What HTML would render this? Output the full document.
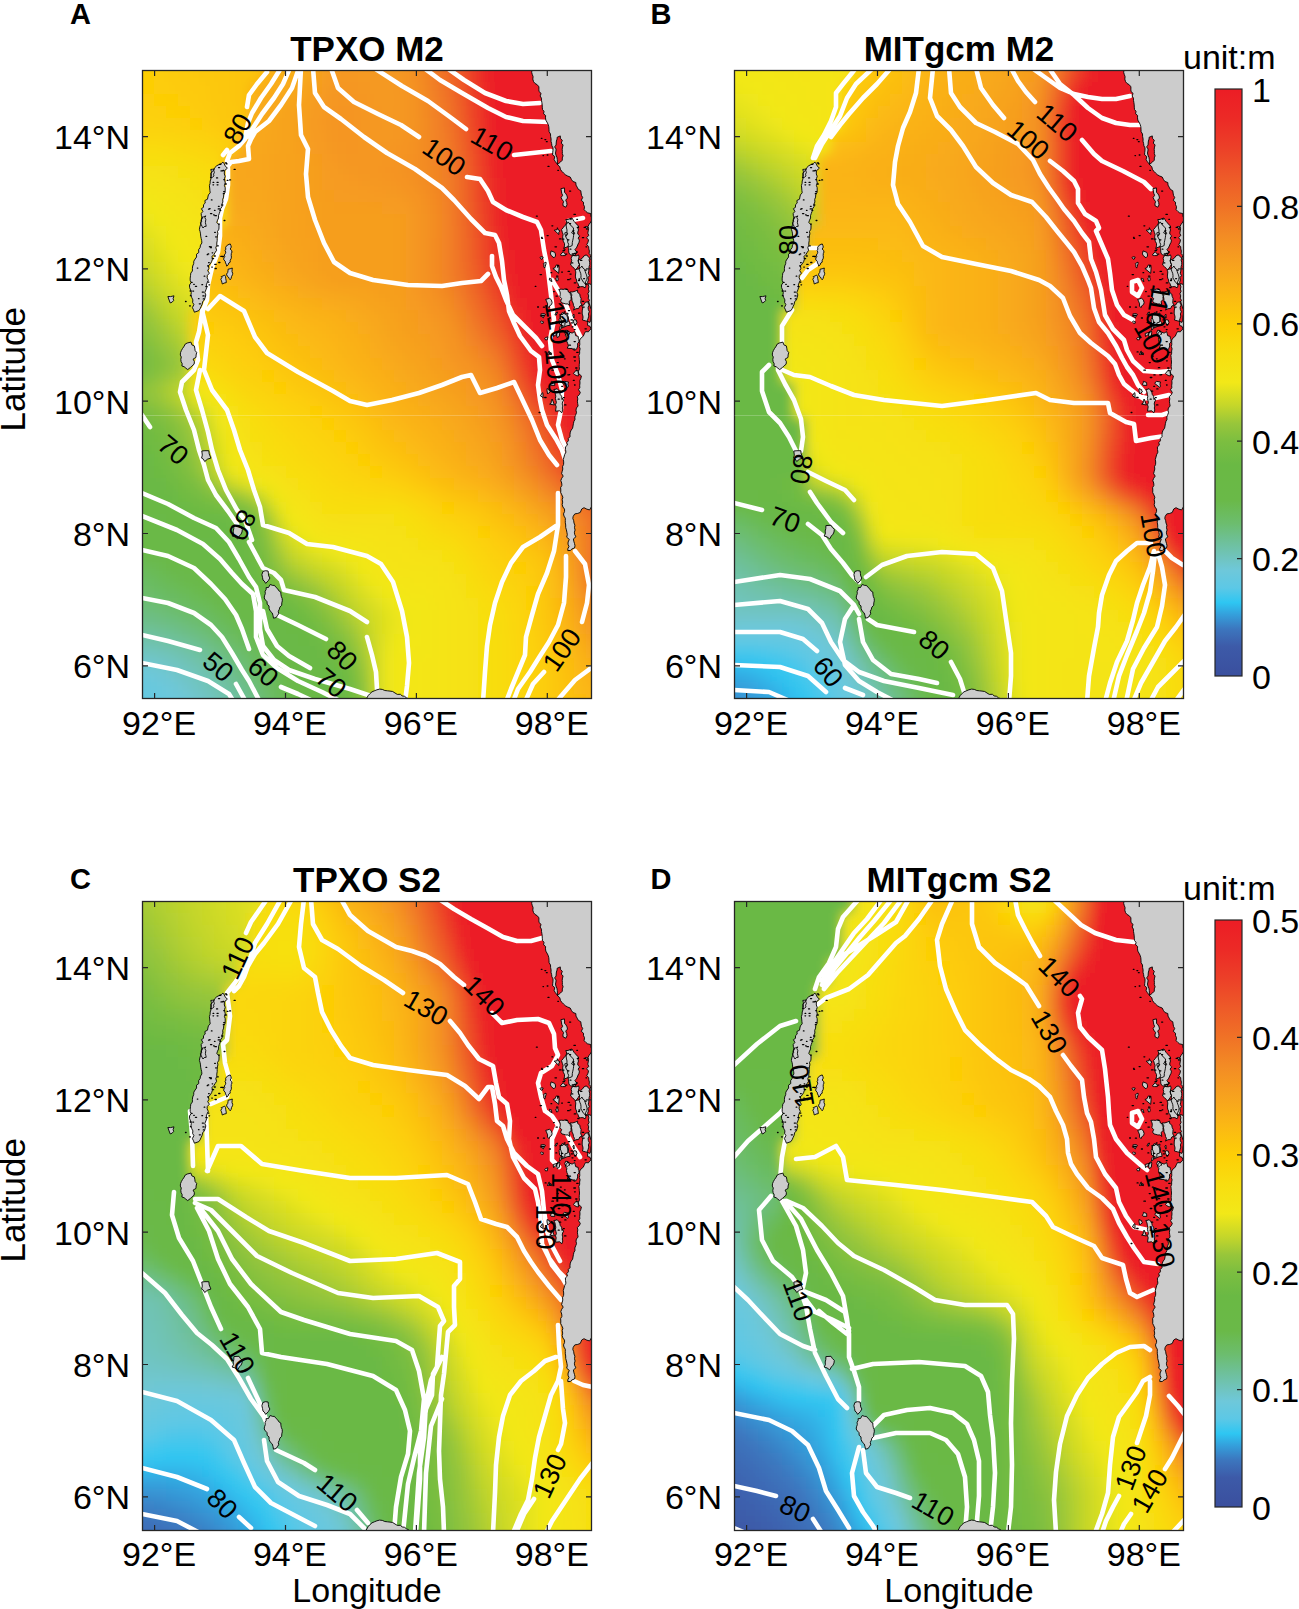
<!DOCTYPE html><html><head><meta charset="utf-8"><style>html,body{margin:0;padding:0;background:#fff;overflow:hidden;width:1299px;height:1609px}svg{display:block}text{font-family:"Liberation Sans",sans-serif;fill:#000}.f rect{width:13px;height:13px}</style></head><body><svg width="1299" height="1609" viewBox="0 0 1299 1609"><defs><filter id="bl" x="-5%" y="-5%" width="110%" height="110%"><feGaussianBlur stdDeviation="6"/></filter><g id="land"><path d="M389.4,-2.0L389.9,0.2L389.7,2.5L390.3,4.6L391.1,6.7L390.8,9.1L391.5,11.5L392.9,13.4L395.2,14.7L396.9,16.8L396.9,19.2L397.0,21.5L399.1,23.4L398.1,26.0L399.4,28.1L399.5,30.4L399.9,32.7L400.2,34.9L400.3,37.2L400.5,39.5L402.0,41.3L401.6,43.8L403.6,45.5L403.5,47.8L403.8,50.1L404.9,52.0L406.1,54.3L406.8,56.7L407.0,59.2L407.1,61.7L408.5,64.0L408.6,66.5L409.1,69.0L409.0,71.3L409.6,73.5L409.9,75.8L411.0,77.9L411.0,80.2L410.7,82.6L410.6,84.9L412.8,86.6L412.1,89.5L413.2,91.4L414.5,93.2L415.9,95.1L417.8,96.7L418.4,99.3L419.8,101.3L421.5,103.0L423.3,104.7L425.6,106.0L428.2,107.0L429.4,109.4L430.9,111.5L433.8,112.5L434.0,115.1L435.2,117.2L436.3,119.3L438.8,120.8L439.1,123.1L439.5,125.4L440.7,127.5L439.3,130.3L441.5,132.2L441.5,134.6L442.5,136.7L442.1,139.7L443.8,141.4L445.7,142.9L448.7,143.5L449.0,146.4L450.1,148.5L452.7,150.0L451.6,147.8L453.3,145.6L451.1,143.4L451.5,141.2L452.7,139.0L452.0,136.8L453.4,134.6L452.1,132.4L451.6,130.2L451.7,128.0L451.2,125.8L451.1,123.6L452.4,121.4L452.4,119.2L452.9,117.0L451.5,114.8L453.2,112.6L451.8,110.3L453.1,108.1L451.7,105.9L451.5,103.7L452.2,101.5L452.7,99.3L452.1,97.1L451.6,94.9L451.1,92.7L451.0,90.5L452.4,88.3L452.7,86.1L451.9,83.9L451.2,81.7L452.6,79.5L451.1,77.3L451.5,75.1L452.4,72.9L450.4,70.7L452.3,68.5L451.6,66.3L452.1,64.1L451.9,61.9L452.1,59.7L452.5,57.5L451.5,55.3L453.0,53.1L452.5,50.9L452.6,48.7L452.8,46.5L452.6,44.3L452.6,42.1L452.1,39.9L451.0,37.7L451.9,35.4L451.5,33.2L451.0,31.0L452.2,28.8L451.6,26.6L451.3,24.4L451.3,22.2L452.2,20.0L452.3,17.8L452.9,15.6L452.0,13.4L452.7,11.2L453.0,9.0L452.8,6.8L450.3,4.6L452.9,2.4L452.2,0.2L452.0,-2.3L449.8,-2.3L447.5,-2.3L445.3,-2.2L443.1,-1.7L440.8,-0.7L438.6,-1.9L436.4,-1.4L434.1,-2.8L431.9,-1.8L429.7,-2.1L427.4,-1.4L425.2,-1.6L423.0,-2.0L420.8,-1.0L418.5,-2.2L416.3,-1.9L414.1,-1.2L411.8,-0.3L409.6,-2.4L407.4,-1.8L405.1,-1.6L402.9,-1.8L400.7,-3.3L398.4,-2.0L396.2,-2.1L394.0,-1.0L391.7,-3.2ZM451.9,257.8L449.7,258.5L447.9,259.8L446.4,261.8L443.5,261.6L442.3,263.8L441.3,266.2L439.2,267.8L437.7,270.0L437.7,272.2L437.8,274.4L437.3,276.6L438.1,278.8L437.6,281.0L437.7,283.2L436.9,285.4L437.2,287.6L437.3,289.8L437.5,292.0L437.3,294.3L437.2,296.7L437.4,299.0L436.4,301.4L436.7,303.7L439.4,305.9L438.9,308.3L437.8,310.7L438.0,313.0L437.7,315.3L437.8,317.7L436.5,319.7L438.3,322.4L437.4,324.6L435.3,326.5L435.8,328.9L435.4,331.2L435.7,333.6L436.1,336.0L434.4,338.0L434.0,340.2L434.5,342.7L433.7,344.8L432.8,347.0L433.0,349.4L431.9,351.5L431.4,353.7L431.0,356.0L430.6,358.2L429.2,360.1L428.3,362.1L428.0,364.3L428.0,366.7L426.3,368.4L426.4,370.8L424.8,372.6L425.4,375.1L423.4,376.9L423.5,379.5L423.9,382.2L422.7,384.5L422.0,387.0L421.3,389.5L421.7,392.0L421.6,394.4L420.5,396.7L420.8,399.0L420.2,401.3L419.6,403.6L421.2,406.1L419.7,408.3L418.8,410.6L419.7,413.0L419.9,415.4L418.6,417.6L418.8,420.0L418.7,422.5L419.8,424.8L420.9,427.2L420.2,429.7L420.7,432.1L420.2,434.6L420.9,437.0L422.5,439.1L422.6,441.4L421.5,443.9L422.0,446.1L423.3,448.2L423.3,450.5L423.3,452.8L423.7,455.0L423.7,457.5L424.4,459.9L424.9,462.3L425.3,464.7L424.7,467.2L427.3,469.4L426.1,472.0L426.0,474.2L427.0,476.5L425.8,478.8L425.8,480.6L428.3,480.5L430.0,478.9L432.5,478.0L433.0,475.8L432.5,473.5L431.8,471.2L431.4,468.9L433.9,466.8L432.7,464.5L432.4,462.2L433.1,460.0L432.5,457.7L432.9,455.2L432.0,453.0L431.7,450.7L430.8,448.4L431.2,446.3L432.8,443.9L435.8,443.4L438.3,442.4L439.7,439.0L442.0,437.7L444.9,439.2L447.6,439.9L449.4,436.9L451.1,437.0L452.4,434.8L451.4,432.6L451.6,430.4L451.8,428.2L452.4,426.0L451.7,423.7L452.2,421.5L451.9,419.3L451.4,417.1L451.8,414.9L451.3,412.7L452.0,410.5L451.2,408.3L451.2,406.1L453.0,403.9L452.0,401.6L452.0,399.4L452.4,397.2L451.7,395.0L451.8,392.8L452.3,390.6L452.2,388.4L451.2,386.2L452.6,384.0L451.6,381.8L451.3,379.5L451.4,377.3L451.7,375.1L453.1,372.9L451.2,370.7L452.1,368.5L450.5,366.3L452.0,364.1L452.6,361.9L451.8,359.7L451.6,357.4L452.2,355.2L452.5,353.0L452.5,350.8L453.4,348.6L452.1,346.4L451.6,344.2L451.9,342.0L451.9,339.8L452.1,337.6L452.0,335.3L452.1,333.1L450.8,330.9L452.6,328.7L451.6,326.5L451.2,324.3L452.4,322.1L452.9,319.9L452.3,317.7L452.1,315.5L451.3,313.2L454.0,311.0L452.6,308.8L451.2,306.6L451.5,304.4L452.1,302.2L450.9,300.0L452.1,297.8L451.7,295.6L452.9,293.4L452.7,291.1L450.1,288.9L452.0,286.7L450.9,284.5L452.8,282.3L452.1,280.1L452.4,277.9L451.3,275.7L453.3,273.5L453.4,271.3L451.3,269.0L452.3,266.8L451.5,264.6L452.0,262.4L451.1,260.2ZM80.9,92.1L82.3,93.9L83.2,95.9L85.4,98.2L82.4,100.8L82.3,104.0L83.2,106.3L82.5,108.6L82.8,110.9L83.3,113.1L82.4,115.4L83.2,117.7L83.2,120.0L83.0,122.5L81.7,124.7L81.6,127.1L80.7,129.4L80.9,132.0L79.9,134.2L80.0,136.7L78.5,138.8L78.1,141.2L77.3,143.4L76.5,145.7L76.6,148.0L75.5,150.2L74.8,152.5L77.0,154.8L77.0,157.0L76.9,159.2L75.5,161.5L75.9,163.8L75.4,165.9L75.2,168.3L75.2,170.6L74.8,173.0L74.8,175.3L73.8,177.6L74.6,180.3L73.2,182.4L71.9,184.5L70.0,186.4L70.4,189.3L69.6,191.7L68.3,193.8L66.4,195.9L66.9,198.4L65.7,200.7L67.4,203.2L65.3,205.4L65.1,207.8L66.3,210.3L65.2,212.6L64.3,214.9L64.7,217.5L63.9,219.9L62.8,222.4L63.8,224.9L63.2,227.4L62.4,229.8L60.6,231.8L60.1,234.3L59.1,236.5L58.1,238.8L56.9,240.6L52.4,242.2L51.5,239.8L50.4,237.6L51.9,234.6L50.6,232.4L50.9,229.9L49.7,227.5L48.9,225.1L49.3,222.5L48.6,220.0L47.6,217.6L47.5,215.0L49.1,212.7L48.2,210.3L48.2,208.1L48.5,205.6L48.8,203.1L50.4,201.0L50.4,198.5L50.7,196.0L51.7,193.7L51.8,191.2L53.1,189.0L54.6,187.0L54.5,184.2L56.8,182.5L56.6,179.7L58.1,177.6L58.5,175.1L59.9,173.0L59.7,170.7L59.2,168.5L58.7,166.2L58.5,163.9L58.1,161.6L57.4,159.4L57.8,157.0L58.5,154.8L59.0,152.6L59.1,150.3L60.5,148.2L59.4,145.8L59.2,143.5L60.9,141.4L59.4,138.7L61.5,137.3L61.5,134.7L63.2,133.1L62.9,130.5L65.5,129.2L65.9,127.0L66.4,124.9L68.2,122.8L67.9,120.4L67.7,118.0L67.4,115.6L68.1,113.3L68.2,111.0L69.0,108.7L69.3,106.4L68.7,103.8L70.2,101.8L71.7,99.8L72.9,97.5L74.8,95.7L77.0,94.6L79.2,93.7ZM45.3,273.0L48.9,272.1L49.9,274.9L52.3,275.9L52.8,278.2L53.1,280.5L54.7,282.5L54.1,285.0L54.0,287.4L51.1,289.1L52.4,291.7L52.1,294.2L50.1,295.8L48.3,297.6L45.7,299.6L43.9,298.2L42.1,296.7L39.9,296.0L40.2,293.7L39.1,291.6L38.8,289.4L39.3,287.0L38.3,285.1L38.5,282.7L39.4,280.5L40.6,278.4L41.7,276.9L43.4,273.9ZM91.9,455.6L95.0,455.4L97.0,455.3L98.3,457.4L100.3,459.4L100.0,462.0L99.0,464.2L97.3,466.0L95.7,468.9L93.0,466.9L90.1,466.0L91.4,463.7L91.2,461.0L91.8,458.6ZM120.9,501.5L123.3,500.7L126.1,501.0L126.4,503.4L126.7,505.9L127.9,508.0L126.3,510.7L123.7,513.4L122.3,511.1L121.0,510.1L120.5,507.4L119.9,504.6ZM124.1,517.6L126.5,517.5L128.2,514.5L130.7,515.4L132.5,515.4L133.9,517.3L135.7,518.8L136.8,520.8L138.8,522.0L138.9,524.2L139.3,526.4L140.2,528.5L140.3,530.8L139.8,532.9L139.7,535.3L137.9,537.1L137.3,539.3L136.3,541.3L136.7,543.8L135.6,545.3L134.2,547.5L131.5,548.2L131.0,545.5L130.2,542.9L128.1,540.9L127.1,538.5L127.0,535.9L125.2,534.3L125.0,531.6L123.4,529.9L122.2,528.0L122.5,525.8L123.3,523.7L123.1,521.4L124.2,519.3ZM222.0,632.0L223.6,630.1L224.9,627.9L226.1,625.7L227.8,623.8L230.0,621.8L232.7,620.7L234.9,619.8L237.6,619.1L240.3,619.4L242.8,620.5L245.4,620.8L248.0,621.1L250.7,621.5L253.0,623.0L255.3,624.4L258.4,624.3L260.1,625.9L262.6,626.3L264.4,627.8L266.6,628.7L268.1,630.7L270.0,632.8L267.7,631.8L265.4,631.9L263.1,632.1L260.9,633.5L258.6,632.3L256.3,632.0L254.0,631.9L251.7,632.9L249.4,632.3L247.1,632.6L244.9,632.5L242.6,631.4L240.3,632.5L238.0,632.0L235.7,631.5L233.4,632.4L231.1,632.1L228.9,631.9L226.6,632.0L224.3,632.7ZM59.8,381.0L62.9,380.7L66.8,380.7L67.2,383.9L68.9,388.1L65.6,389.1L62.7,391.5L61.3,389.1L59.6,388.1L60.3,385.1ZM25.9,226.5L28.5,226.6L32.0,225.8L31.1,228.6L31.7,230.4L30.1,232.2L28.2,232.9L27.1,230.0ZM419.5,159.6L421.2,157.7L422.6,155.7L424.6,154.1L426.1,151.9L427.9,154.1L429.6,156.4L431.5,157.9L431.4,160.4L431.7,162.9L431.6,165.3L431.3,167.8L430.8,170.2L430.3,172.6L430.2,175.5L427.9,176.6L425.3,176.8L421.9,178.2L422.5,175.8L422.5,173.5L421.3,171.3L420.8,169.1L420.7,166.8L421.1,164.4L420.3,162.3ZM436.0,190.0L438.4,189.4L440.4,188.1L441.8,186.0L444.1,184.9L446.2,186.4L447.8,188.6L450.0,190.0L449.6,192.3L451.1,194.5L449.1,196.8L450.1,199.1L449.6,201.4L450.1,203.6L450.2,205.9L449.7,208.2L449.5,210.5L450.1,212.7L450.0,215.1L447.9,213.9L445.3,214.0L443.0,213.6L441.2,211.9L440.1,209.9L438.9,207.9L439.0,205.5L438.7,203.3L437.8,201.2L437.1,199.0L437.5,196.6L437.5,194.3L436.4,192.2ZM428.0,222.0L430.8,221.9L433.4,221.1L435.6,220.1L435.6,222.4L437.8,224.1L438.1,226.3L439.1,228.4L438.9,230.7L438.8,233.0L440.0,235.0L437.8,236.0L436.6,238.5L434.0,238.7L431.5,240.1L432.5,237.5L431.5,235.4L431.1,233.1L430.0,231.0L429.9,228.7L429.4,226.4L428.3,224.3ZM418.3,246.1L420.2,242.5L423.5,244.2L426.0,243.0L425.6,245.5L426.6,247.8L426.1,250.4L427.6,252.6L428.1,255.3L425.2,255.7L422.6,256.8L419.8,258.0L419.5,255.4L419.6,252.7L419.2,250.1L418.1,247.6ZM451.7,146.7L450.7,149.1L449.3,151.0L448.8,152.1L447.1,154.3L446.0,156.5L446.6,158.7L446.2,161.0L445.8,163.2L446.8,165.5L444.5,167.7L446.5,169.9L446.0,172.2L444.8,174.6L446.7,176.7L446.8,178.9L447.4,181.1L447.1,183.4L448.8,185.4L448.2,187.7L447.0,189.9L447.7,192.2L447.7,194.5L447.1,196.6L446.9,198.9L446.8,201.1L446.3,203.3L447.4,205.7L445.9,207.7L446.4,210.0L445.6,212.3L446.2,214.5L446.9,216.8L446.4,219.1L447.1,221.3L445.9,223.7L446.7,225.9L446.2,228.2L447.5,230.4L445.9,232.8L447.2,235.0L446.1,237.2L446.3,239.4L447.3,241.7L446.4,243.9L446.8,246.1L446.1,248.3L445.4,250.5L445.7,252.8L445.5,255.4L448.0,256.3L448.9,258.6L450.3,260.4L452.7,262.0L451.6,259.8L452.3,257.6L452.3,255.4L451.1,253.2L451.4,250.9L452.3,248.7L451.3,246.5L451.3,244.3L452.5,242.1L452.2,239.9L451.9,237.7L452.1,235.5L451.8,233.2L451.7,231.0L451.7,228.8L452.2,226.6L452.8,224.4L451.7,222.2L452.0,220.0L451.9,217.8L451.2,215.6L452.2,213.3L452.5,211.1L451.5,208.9L452.5,206.7L451.7,204.5L452.7,202.3L452.7,200.1L451.8,197.9L450.8,195.7L451.8,193.4L451.2,191.2L451.2,189.0L451.8,186.8L452.8,184.6L451.9,182.4L451.9,180.2L450.9,178.0L451.6,175.8L451.2,173.5L452.3,171.3L451.7,169.1L452.0,166.9L452.0,164.7L451.9,162.5L452.6,160.3L452.3,158.1L451.8,155.8L452.1,153.6L452.3,151.4L452.8,149.2ZM415.1,67.3L418.3,65.9L418.4,68.4L420.3,70.2L419.3,73.1L421.1,75.0L420.5,77.1L420.2,79.3L420.4,81.4L420.3,83.6L421.1,85.8L420.3,87.9L420.3,90.2L418.5,92.0L415.5,94.5L415.4,92.0L415.3,89.6L414.9,87.2L413.9,85.0L413.5,83.0L413.9,81.0L414.1,79.0L412.6,76.9L414.1,75.0L414.2,73.0L414.4,71.0L415.1,69.0ZM418.9,118.7L422.4,117.9L422.6,120.0L422.5,122.2L424.0,123.9L425.0,125.8L425.5,128.1L423.7,130.1L424.7,132.5L425.0,134.8L423.9,137.2L421.2,136.0L420.9,133.9L421.6,131.6L420.1,129.6L419.1,127.6L420.6,125.3L419.7,123.2L419.4,121.1ZM423.8,149.5L426.0,149.5L428.0,148.6L430.0,148.0L431.0,149.7L432.1,151.4L433.5,152.9L434.7,154.5L436.7,156.0L435.8,158.0L436.5,160.0L435.8,162.0L435.8,164.1L437.7,165.9L436.1,168.1L437.4,170.1L437.1,172.2L436.1,174.0L435.3,176.0L434.4,177.9L432.9,179.6L434.9,182.2L433.7,184.1L433.1,185.8L430.9,185.3L428.5,184.9L426.9,183.0L426.7,180.9L426.7,178.7L425.9,176.6L426.7,174.3L425.7,172.3L425.8,170.1L424.4,168.0L423.4,166.1L425.2,164.0L424.9,162.0L425.0,160.0L424.5,158.0L424.2,156.0L424.1,154.0L424.7,152.0ZM430.0,186.1L431.9,185.2L434.1,185.9L436.5,184.9L437.1,186.9L436.5,189.1L436.4,191.2L436.8,193.2L437.4,194.4L436.2,196.5L434.8,198.5L433.3,199.8L431.9,198.1L430.4,196.6L428.6,195.0L429.1,192.7L429.7,190.5L429.1,188.2ZM416.8,219.4L419.3,219.2L421.9,219.4L423.2,218.7L425.7,219.5L426.4,222.0L428.8,223.0L430.0,225.0L428.9,227.1L429.2,229.5L427.1,231.4L427.8,235.5L426.0,233.9L423.9,234.0L422.0,233.4L420.0,233.0L418.6,231.1L419.7,228.5L417.8,226.7L418.3,224.3L418.1,222.0ZM424.1,263.5L425.8,261.0L428.0,262.3L430.1,263.1L432.6,261.6L433.2,263.6L433.7,265.7L436.2,266.4L436.4,268.7L436.9,269.6L437.0,271.9L435.5,273.6L435.7,276.0L435.0,278.1L434.1,279.7L431.8,280.3L430.2,278.4L428.0,278.5L425.2,278.1L426.4,275.8L425.8,273.7L424.9,271.6L424.5,269.5L424.8,267.3L423.3,265.3ZM411.8,319.5L414.1,319.2L415.0,318.5L416.5,320.2L417.8,322.1L418.2,324.4L419.6,326.2L419.8,327.9L421.7,330.1L420.6,332.0L420.2,334.0L420.8,336.0L420.3,338.0L420.8,340.0L419.8,342.8L417.6,340.8L413.6,341.2L413.8,339.0L414.2,336.8L413.5,334.8L414.4,332.5L413.9,330.4L413.4,328.4L413.8,326.2L413.3,324.1L413.0,322.0ZM433.1,200.2L434.9,199.2L437.0,198.8L438.6,197.7L439.9,196.0L440.8,197.9L442.6,199.3L443.2,201.3L443.8,203.3L444.5,204.9L445.1,207.2L444.8,209.4L443.7,211.5L443.2,213.6L444.0,215.9L443.1,217.8L440.9,216.6L438.3,216.7L436.5,215.9L436.2,213.9L434.8,212.1L434.6,210.0L433.7,208.1L433.4,206.1L433.6,204.0L433.8,201.9ZM439.8,235.7L442.0,234.7L443.3,232.3L446.7,231.6L447.4,233.8L448.1,235.9L448.6,238.2L449.9,240.0L449.9,242.0L449.5,244.0L449.1,246.0L448.9,248.0L448.8,250.1L447.9,252.4L445.7,251.4L443.3,250.8L440.4,250.0L441.0,248.0L440.9,246.0L440.2,244.0L440.2,242.0L440.3,240.0L440.8,238.0ZM417.7,244.5L421.0,244.3L421.9,242.4L423.8,244.0L425.0,245.8L425.6,247.9L426.0,250.0L425.6,252.1L422.9,252.9L422.9,255.2L422.3,256.5L419.7,255.2L417.7,254.1L417.3,251.8L417.1,249.5L418.5,247.3ZM403.7,229.4L405.9,228.8L407.5,228.1L409.4,230.1L410.1,232.5L409.6,234.5L407.6,235.9L407.0,237.7L405.4,236.0L405.6,233.9L404.8,231.9ZM418.6,259.5L417.6,260.0L418.0,256.8L419.5,255.1L420.3,255.9L420.4,256.7L420.0,257.2ZM417.3,266.3L415.2,267.6L414.5,264.4L414.9,262.9L415.4,261.6L417.3,260.8L417.8,262.1ZM407.3,284.0L406.7,284.7L406.2,284.5L405.7,284.5L405.4,284.8L406.8,281.4L407.2,280.9ZM413.5,186.1L412.0,187.8L409.4,185.8L408.4,183.9L409.1,180.9L412.7,182.3L413.4,183.9ZM414.9,263.7L414.6,265.1L414.0,264.7L411.5,266.5L411.2,263.5L416.6,261.9L414.8,262.8ZM427.8,264.1L426.7,264.2L425.3,265.5L423.7,264.7L422.7,262.7L423.7,260.2L426.1,260.6ZM416.2,210.3L415.9,210.6L414.6,211.0L413.7,208.3L414.4,208.0L415.5,207.0L416.0,207.9ZM401.3,253.1L399.9,253.5L398.5,252.2L398.4,252.1L399.6,250.8L400.5,251.5L401.2,251.4ZM410.0,211.6L409.1,211.2L409.0,211.2L407.3,209.9L407.6,208.2L408.6,208.8L408.9,208.4ZM401.1,326.0L401.0,326.7L401.3,327.7L398.4,325.8L400.3,322.8L400.8,322.7L400.9,323.2ZM409.5,283.7L409.1,284.0L409.5,284.7L407.4,283.6L407.2,283.2L407.8,282.3L409.6,283.1ZM412.4,335.0L407.6,334.1L409.1,333.2L409.3,330.8L409.8,330.8L410.0,329.0L410.5,329.9ZM432.7,163.2L432.1,164.3L429.5,162.6L430.1,162.2L430.2,162.0L430.6,161.1L431.6,161.8ZM400.1,189.3L399.1,189.1L398.1,187.7L398.5,186.9L400.1,186.9L401.2,187.0L401.2,187.1ZM405.3,269.9L404.2,269.8L403.6,270.0L402.7,268.3L403.6,267.5L404.3,267.4L405.9,266.8ZM408.4,321.8L406.5,323.2L405.7,324.0L405.0,320.8L405.1,318.5L407.9,319.9L407.6,320.2ZM416.8,162.2L416.9,164.5L412.2,160.2L415.1,159.7L415.4,157.7L416.1,159.7L418.0,160.9ZM435.0,252.6L433.2,255.6L430.8,250.8L431.9,251.0L431.3,250.4L432.1,249.7L434.2,250.0ZM402.7,198.1L401.7,196.5L402.1,194.9L401.1,193.9L401.6,193.4L404.0,192.1L404.1,193.5ZM432.3,246.6L432.1,248.1L432.0,248.2L431.6,247.8L430.9,245.0L431.9,244.2L432.2,245.6ZM445.0,159.9L443.5,156.5L444.3,156.4L444.6,156.4L444.6,156.7L446.2,157.0L445.5,157.7ZM436.6,305.8L434.9,305.8L432.8,304.7L431.4,303.5L434.6,299.7L434.5,301.0L435.8,300.3ZM423.3,179.6L422.8,180.2L422.3,180.2L422.7,181.0L421.9,178.5L422.4,179.1L422.8,179.3ZM412.8,315.4L409.2,315.3L409.1,314.8L408.3,314.4L409.3,312.8L409.4,311.3L412.6,312.5ZM414.3,245.0L412.9,245.0L414.4,242.1L414.4,242.3L415.6,242.1L414.8,242.9L415.4,242.5ZM423.3,184.1L423.4,185.6L420.6,185.6L419.2,185.5L418.3,185.0L418.4,184.9L421.1,181.7ZM426.5,316.2L425.8,317.4L420.8,313.5L421.6,312.0L422.3,311.3L426.5,312.0L425.9,314.2ZM416.7,203.3L410.9,198.5L412.8,197.9L414.4,194.9L415.7,195.2L415.5,197.4L417.2,196.4ZM424.3,166.1L423.3,165.2L422.8,163.7L422.8,162.9L422.9,162.7L424.7,162.6L425.7,163.5ZM401.6,247.1L401.3,248.0L400.4,247.4L398.8,243.9L402.0,243.6L402.0,243.7L403.5,244.4ZM84.2,176.3L85.9,174.9L88.2,173.9L88.9,175.5L89.3,177.1L88.2,179.0L89.5,180.4L90.0,182.0L89.3,183.6L89.2,185.3L89.4,187.1L89.1,188.7L88.2,190.3L88.2,192.2L86.7,193.1L86.2,194.8L84.7,196.1L84.3,194.4L83.5,192.9L83.2,191.2L81.8,189.9L81.8,188.0L82.8,186.6L82.3,185.0L83.4,183.6L83.8,182.1L83.1,180.5L83.9,179.1L83.6,177.5ZM86.1,199.2L88.1,198.8L90.3,198.0L90.1,199.8L90.0,201.6L90.7,203.3L90.5,204.7L89.6,206.4L89.1,208.4L88.2,209.8L87.2,208.5L86.4,207.0L85.1,206.0L84.5,204.1L85.7,202.5L86.0,200.8ZM79.2,206.7L81.1,205.9L82.6,205.1L83.6,206.7L83.7,208.5L84.1,210.2L84.3,212.6L82.1,213.1L80.3,214.0L79.9,212.4L79.5,210.8L78.8,209.3L79.9,207.5ZM68.8,99.4L70.4,99.3L72.0,99.0L71.8,100.8L72.4,102.5L71.5,104.2L72.0,105.9L70.6,107.2L68.4,108.0L68.7,106.4L69.3,104.8L69.2,103.2L69.4,101.6ZM59.7,147.5L61.4,146.9L63.9,145.9L62.8,147.7L63.8,149.3L63.6,151.0L63.4,152.7L63.8,154.3L64.2,156.3L62.2,156.6L61.0,158.0L60.1,156.4L59.3,154.8L58.4,152.9L59.7,151.4L59.3,149.6Z" fill="#cccccc" stroke="#000" stroke-width="0.9" stroke-linejoin="round"/><path d="M419.6,202.1h0.9M428.2,149.0h1.1M422.5,241.9h0.6M403.1,281.9h1.0M444.0,214.1h0.7M414.5,206.2h1.4M425.4,169.8h1.5M430.0,256.8h1.0M419.4,252.3h1.4M393.2,216.3h0.7M422.8,318.9h1.2M432.3,212.9h1.4M422.4,288.8h0.8M413.0,176.8h1.5M425.6,209.7h1.6M416.2,329.2h1.0M422.5,334.9h1.4M431.8,287.0h1.6M411.6,221.6h0.7M426.9,275.2h1.6M394.4,146.2h0.9M431.9,144.3h1.5M428.3,179.2h0.6M430.3,184.0h1.5M431.1,160.7h0.7M431.3,310.3h1.0M423.9,184.1h0.9M426.1,201.4h1.4M399.5,167.3h0.7M417.4,321.2h1.3M414.0,226.1h1.4M423.9,219.4h1.3M397.1,342.5h0.8M402.7,327.5h1.4M395.6,237.0h0.9M405.1,165.6h1.1M407.4,248.0h1.1M429.0,249.9h1.4M444.0,176.8h0.7M421.4,327.6h0.9M427.5,153.6h1.1M432.5,290.8h0.8M400.5,245.5h1.6M425.8,304.8h1.4M441.7,208.7h0.8M424.4,297.7h1.3M435.3,157.4h1.2M429.3,252.9h1.2M432.1,271.6h1.2M415.2,292.6h1.1M436.6,243.2h1.4M418.3,286.1h1.0M443.0,258.8h1.3M432.3,259.6h0.8M421.0,180.6h1.4M441.1,237.1h1.1M413.9,251.9h0.9M433.7,298.0h1.3M440.4,231.3h1.3M429.7,192.9h1.1M409.0,202.7h0.7M436.5,210.5h1.0M420.7,169.1h1.2M399.7,168.3h0.9M401.4,237.2h1.1M416.3,307.5h1.5M398.1,204.6h1.4M431.2,279.1h1.6M428.2,208.8h0.6M434.7,282.3h1.5M437.0,209.0h0.7M432.5,315.0h0.6M438.5,190.3h1.4M432.4,183.5h1.5M407.4,284.0h1.4M398.5,245.8h1.2M442.1,157.3h1.4M428.0,204.1h1.1M443.1,200.1h1.2M435.8,217.5h1.3M434.4,182.0h0.9M419.7,316.3h0.9M409.9,155.8h0.9M419.9,304.9h1.2M427.0,304.6h0.8M426.4,240.6h1.2M440.4,167.7h1.3M415.6,195.4h1.1M432.5,254.6h1.4M419.8,328.9h0.8M417.5,168.9h1.6M409.9,300.2h1.5M401.0,85.6h0.5M404.4,71.7h0.8M406.0,96.4h1.0M399.3,68.3h0.7M427.6,121.1h1.1M434.8,149.3h0.7M415.8,100.3h0.7M405.2,85.0h0.7M402.9,69.6h0.9M87.6,109.9h1.0M77.5,94.4h1.3M79.0,100.9h1.4M78.8,186.4h1.0M66.6,192.7h0.6M65.9,212.1h1.0M63.8,216.6h1.4M81.7,121.7h0.9M71.5,144.8h0.7M51.7,214.3h0.6M72.7,162.4h0.6M61.3,228.9h0.6M72.8,194.4h1.3M81.3,123.7h0.7M68.5,143.6h1.3M55.3,198.1h0.5M75.1,114.8h0.9M69.8,197.1h0.5M50.8,221.1h0.8M66.5,139.2h0.7M84.2,93.8h0.9M81.8,109.7h0.6M70.2,182.8h0.5M67.0,214.8h0.6M83.2,92.8h1.2M64.0,166.4h0.7M76.2,138.9h1.4M47.5,235.9h0.9M67.6,138.7h0.5M81.1,100.5h0.7M48.1,221.0h1.0M76.7,192.5h1.2M57.3,233.8h1.1M75.0,112.3h1.2M56.5,228.7h0.5M73.0,145.7h1.4M71.0,112.3h0.8M92.1,99.4h1.1M71.0,114.8h0.6M65.2,184.7h0.5M74.5,107.9h1.1M78.0,140.3h0.8M85.1,110.3h0.9M43.5,231.5h0.6M68.2,177.0h1.3M73.1,198.5h1.2M65.6,195.9h0.9M76.5,97.6h1.1M59.9,214.7h0.7M49.5,212.4h0.6M82.1,150.5h0.8M66.0,183.9h0.7M80.2,186.5h1.2M79.9,135.0h0.9M75.3,175.8h1.0M69.4,129.9h0.6M72.5,140.4h0.5M83.1,114.0h1.2M70.4,188.7h1.2M76.4,136.3h0.8M62.2,206.2h0.6M60.9,225.9h1.2M67.4,176.7h0.9M68.4,177.7h1.0M53.4,216.3h1.2M73.7,166.9h0.6M48.4,225.7h0.6M72.4,186.0h0.9M60.3,222.1h1.1M76.5,154.1h0.9" stroke="#000" stroke-width="1.3" stroke-linecap="round"/></g></defs><g transform="translate(142,70)"><clipPath id="cpA"><rect x=0 y=0 width=450 height=629 /></clipPath><g clip-path="url(#cpA)"><g filter="url(#bl)" class="f"><rect x=-12 y=-12 fill=#fdce06 /><rect x=0 y=-12 fill=#fdcd06 /><rect x=12 y=-12 fill=#fdcc07 /><rect x=24 y=-12 fill=#fdcb08 /><rect x=36 y=-12 fill=#fdca08 /><rect x=48 y=-12 fill=#fdc909 /><rect x=60 y=-12 fill=#fcc80a /><rect x=72 y=-12 fill=#fcc70a /><rect x=84 y=-12 fill=#fcc60b /><rect x=96 y=-12 fill=#fcc50c /><rect x=108 y=-12 fill=#fcc40c /><rect x=120 y=-12 fill=#fab217 /><rect x=132 y=-12 fill=#fab117 /><rect x=144 y=-12 fill=#f9af18 /><rect x=156 y=-12 fill=#f9ab1a /><rect x=168 y=-12 fill=#f7a41d /><rect x=180 y=-12 fill=#f69d1f /><rect x=192 y=-12 fill=#f59920 /><rect x=204 y=-12 fill=#f59920 /><rect x=216 y=-12 fill=#f59920 /><rect x=228 y=-12 fill=#f59920 /><rect x=240 y=-12 fill=#f59920 /><rect x=252 y=-12 fill=#f59821 /><rect x=264 y=-12 fill=#f49222 /><rect x=276 y=-12 fill=#f28724 /><rect x=288 y=-12 fill=#f17925 /><rect x=300 y=-12 fill=#ef6b27 /><rect x=312 y=-12 fill=#ee5728 /><rect x=324 y=-12 fill=#ec3d28 /><rect x=336 y=-12 fill=#ec2726 /><rect x=348 y=-12 fill=#ec1d25 /><rect x=360 y=-12 fill=#ec1d25 /><rect x=372 y=-12 fill=#ec1d25 /><rect x=384 y=-12 fill=#ec1d25 /><rect x=396 y=-12 fill=#ec1d25 /><rect x=408 y=-12 fill=#ec1d25 /><rect x=420 y=-12 fill=#ec1d25 /><rect x=432 y=-12 fill=#ec1d25 /><rect x=444 y=-12 fill=#ec1d25 /><rect x=456 y=-12 fill=#ec1d25 /><rect x=-12 y=0 fill=#fdce06 /><rect x=0 y=0 fill=#fdce06 /><rect x=12 y=0 fill=#fdcd07 /><rect x=24 y=0 fill=#fdcb08 /><rect x=36 y=0 fill=#fdca08 /><rect x=48 y=0 fill=#fdc909 /><rect x=60 y=0 fill=#fcc80a /><rect x=72 y=0 fill=#fcc70a /><rect x=84 y=0 fill=#fcc60b /><rect x=96 y=0 fill=#fcc50c /><rect x=108 y=0 fill=#fcc40c /><rect x=120 y=0 fill=#fab018 /><rect x=132 y=0 fill=#f9af18 /><rect x=144 y=0 fill=#f9ad19 /><rect x=156 y=0 fill=#f8a91b /><rect x=168 y=0 fill=#f7a21e /><rect x=180 y=0 fill=#f69c20 /><rect x=192 y=0 fill=#f59821 /><rect x=204 y=0 fill=#f59821 /><rect x=216 y=0 fill=#f59921 /><rect x=228 y=0 fill=#f59920 /><rect x=240 y=0 fill=#f59920 /><rect x=252 y=0 fill=#f59821 /><rect x=264 y=0 fill=#f49222 /><rect x=276 y=0 fill=#f38824 /><rect x=288 y=0 fill=#f17b25 /><rect x=300 y=0 fill=#f06c26 /><rect x=312 y=0 fill=#ee5828 /><rect x=324 y=0 fill=#ec3f28 /><rect x=336 y=0 fill=#ec2826 /><rect x=348 y=0 fill=#ec1d25 /><rect x=360 y=0 fill=#ec1d25 /><rect x=372 y=0 fill=#ec1d25 /><rect x=384 y=0 fill=#ec1d25 /><rect x=396 y=0 fill=#ec1d25 /><rect x=408 y=0 fill=#ec1d25 /><rect x=420 y=0 fill=#ec1d25 /><rect x=432 y=0 fill=#ec1d25 /><rect x=444 y=0 fill=#ec1d25 /><rect x=456 y=0 fill=#ec1d25 /><rect x=-12 y=12 fill=#fdce06 /><rect x=0 y=12 fill=#fdce06 /><rect x=12 y=12 fill=#fdcd07 /><rect x=24 y=12 fill=#fdcc07 /><rect x=36 y=12 fill=#fdcb08 /><rect x=48 y=12 fill=#fdca09 /><rect x=60 y=12 fill=#fdc909 /><rect x=72 y=12 fill=#fcc70a /><rect x=84 y=12 fill=#fcc60b /><rect x=96 y=12 fill=#fcc50c /><rect x=108 y=12 fill=#f9ae18 /><rect x=120 y=12 fill=#f9ac19 /><rect x=132 y=12 fill=#f9ab1a /><rect x=144 y=12 fill=#f8a81b /><rect x=156 y=12 fill=#f7a41d /><rect x=168 y=12 fill=#f69f1f /><rect x=180 y=12 fill=#f59920 /><rect x=192 y=12 fill=#f59721 /><rect x=204 y=12 fill=#f59721 /><rect x=216 y=12 fill=#f59821 /><rect x=228 y=12 fill=#f59920 /><rect x=240 y=12 fill=#f59920 /><rect x=252 y=12 fill=#f59821 /><rect x=264 y=12 fill=#f49322 /><rect x=276 y=12 fill=#f38a24 /><rect x=288 y=12 fill=#f17d25 /><rect x=300 y=12 fill=#f06f26 /><rect x=312 y=12 fill=#ee5b28 /><rect x=324 y=12 fill=#ec4128 /><rect x=336 y=12 fill=#ec2926 /><rect x=348 y=12 fill=#ec1d25 /><rect x=360 y=12 fill=#ec1d25 /><rect x=372 y=12 fill=#ec1d25 /><rect x=384 y=12 fill=#ec1d25 /><rect x=396 y=12 fill=#ec1d25 /><rect x=408 y=12 fill=#ec1d25 /><rect x=420 y=12 fill=#ec1d25 /><rect x=432 y=12 fill=#ec1d25 /><rect x=444 y=12 fill=#ec1d25 /><rect x=456 y=12 fill=#ec1d25 /><rect x=-12 y=24 fill=#fdcf07 /><rect x=0 y=24 fill=#fdcf07 /><rect x=12 y=24 fill=#fdce06 /><rect x=24 y=24 fill=#fdcd06 /><rect x=36 y=24 fill=#fdcc07 /><rect x=48 y=24 fill=#fdcb08 /><rect x=60 y=24 fill=#fdc909 /><rect x=72 y=24 fill=#fcc80a /><rect x=84 y=24 fill=#fcc60b /><rect x=96 y=24 fill=#fcc50c /><rect x=108 y=24 fill=#f9ac1a /><rect x=120 y=24 fill=#f8aa1b /><rect x=132 y=24 fill=#f8a71c /><rect x=144 y=24 fill=#f7a51d /><rect x=156 y=24 fill=#f7a11e /><rect x=168 y=24 fill=#f69c20 /><rect x=180 y=24 fill=#f59821 /><rect x=192 y=24 fill=#f59621 /><rect x=204 y=24 fill=#f59621 /><rect x=216 y=24 fill=#f59721 /><rect x=228 y=24 fill=#f59921 /><rect x=240 y=24 fill=#f59920 /><rect x=252 y=24 fill=#f59821 /><rect x=264 y=24 fill=#f49422 /><rect x=276 y=24 fill=#f38c24 /><rect x=288 y=24 fill=#f27f25 /><rect x=300 y=24 fill=#f07226 /><rect x=312 y=24 fill=#ee5e28 /><rect x=324 y=24 fill=#ec4428 /><rect x=336 y=24 fill=#ec2a26 /><rect x=348 y=24 fill=#ec1d25 /><rect x=360 y=24 fill=#ec1d25 /><rect x=372 y=24 fill=#ec1d25 /><rect x=384 y=24 fill=#ec1d25 /><rect x=396 y=24 fill=#ec1d25 /><rect x=408 y=24 fill=#ec1d25 /><rect x=420 y=24 fill=#ec1d25 /><rect x=432 y=24 fill=#ec1d25 /><rect x=444 y=24 fill=#ec1d25 /><rect x=456 y=24 fill=#ec1d25 /><rect x=-12 y=36 fill=#fcd007 /><rect x=0 y=36 fill=#fcd007 /><rect x=12 y=36 fill=#fdcf07 /><rect x=24 y=36 fill=#fdcf06 /><rect x=36 y=36 fill=#fdce06 /><rect x=48 y=36 fill=#fdcc07 /><rect x=60 y=36 fill=#fdcb08 /><rect x=72 y=36 fill=#fcc80a /><rect x=84 y=36 fill=#fcc70b /><rect x=96 y=36 fill=#fcc50c /><rect x=108 y=36 fill=#f8aa1a /><rect x=120 y=36 fill=#f8a81b /><rect x=132 y=36 fill=#f8a51d /><rect x=144 y=36 fill=#f7a21e /><rect x=156 y=36 fill=#f69f1f /><rect x=168 y=36 fill=#f69b20 /><rect x=180 y=36 fill=#f59721 /><rect x=192 y=36 fill=#f59522 /><rect x=204 y=36 fill=#f59521 /><rect x=216 y=36 fill=#f59721 /><rect x=228 y=36 fill=#f59821 /><rect x=240 y=36 fill=#f59920 /><rect x=252 y=36 fill=#f59821 /><rect x=264 y=36 fill=#f49422 /><rect x=276 y=36 fill=#f38c24 /><rect x=288 y=36 fill=#f28125 /><rect x=300 y=36 fill=#f07426 /><rect x=312 y=36 fill=#ef6127 /><rect x=324 y=36 fill=#ed4728 /><rect x=336 y=36 fill=#ec2d26 /><rect x=348 y=36 fill=#ec1d25 /><rect x=360 y=36 fill=#ec1d25 /><rect x=372 y=36 fill=#ec1d25 /><rect x=384 y=36 fill=#ec1d25 /><rect x=396 y=36 fill=#ec1d25 /><rect x=408 y=36 fill=#ec1d25 /><rect x=420 y=36 fill=#ec1d25 /><rect x=432 y=36 fill=#ec1d25 /><rect x=444 y=36 fill=#ec1d25 /><rect x=456 y=36 fill=#ec1d25 /><rect x=-12 y=48 fill=#fcd208 /><rect x=0 y=48 fill=#fcd208 /><rect x=12 y=48 fill=#fcd108 /><rect x=24 y=48 fill=#fcd007 /><rect x=36 y=48 fill=#fdcf07 /><rect x=48 y=48 fill=#fdce06 /><rect x=60 y=48 fill=#fdcc07 /><rect x=72 y=48 fill=#fdc909 /><rect x=84 y=48 fill=#fcc70a /><rect x=96 y=48 fill=#fcc50c /><rect x=108 y=48 fill=#f8a81b /><rect x=120 y=48 fill=#f8a71c /><rect x=132 y=48 fill=#f7a41d /><rect x=144 y=48 fill=#f7a21e /><rect x=156 y=48 fill=#f69f1f /><rect x=168 y=48 fill=#f69a20 /><rect x=180 y=48 fill=#f59721 /><rect x=192 y=48 fill=#f59522 /><rect x=204 y=48 fill=#f59521 /><rect x=216 y=48 fill=#f59721 /><rect x=228 y=48 fill=#f59821 /><rect x=240 y=48 fill=#f59920 /><rect x=252 y=48 fill=#f59821 /><rect x=264 y=48 fill=#f49422 /><rect x=276 y=48 fill=#f38d24 /><rect x=288 y=48 fill=#f28225 /><rect x=300 y=48 fill=#f07626 /><rect x=312 y=48 fill=#ef6327 /><rect x=324 y=48 fill=#ed4a28 /><rect x=336 y=48 fill=#ec2f26 /><rect x=348 y=48 fill=#ec1d25 /><rect x=360 y=48 fill=#ec1d25 /><rect x=372 y=48 fill=#ec1d25 /><rect x=384 y=48 fill=#ec1d25 /><rect x=396 y=48 fill=#ec1d25 /><rect x=408 y=48 fill=#ec1d25 /><rect x=420 y=48 fill=#ec1d25 /><rect x=432 y=48 fill=#ec1d25 /><rect x=444 y=48 fill=#ec1d25 /><rect x=456 y=48 fill=#ec1d25 /><rect x=-12 y=60 fill=#fbd60b /><rect x=0 y=60 fill=#fbd50b /><rect x=12 y=60 fill=#fbd50a /><rect x=24 y=60 fill=#fbd40a /><rect x=36 y=60 fill=#fcd309 /><rect x=48 y=60 fill=#fcd108 /><rect x=60 y=60 fill=#fdd007 /><rect x=72 y=60 fill=#fdcd07 /><rect x=84 y=60 fill=#fdca08 /><rect x=96 y=60 fill=#f8a91b /><rect x=108 y=60 fill=#f8a71c /><rect x=120 y=60 fill=#f8a61c /><rect x=132 y=60 fill=#f7a41d /><rect x=144 y=60 fill=#f7a21e /><rect x=156 y=60 fill=#f69f1f /><rect x=168 y=60 fill=#f69b20 /><rect x=180 y=60 fill=#f59821 /><rect x=192 y=60 fill=#f59621 /><rect x=204 y=60 fill=#f59621 /><rect x=216 y=60 fill=#f59721 /><rect x=228 y=60 fill=#f59821 /><rect x=240 y=60 fill=#f59821 /><rect x=252 y=60 fill=#f59721 /><rect x=264 y=60 fill=#f49322 /><rect x=276 y=60 fill=#f38c24 /><rect x=288 y=60 fill=#f28325 /><rect x=300 y=60 fill=#f17826 /><rect x=312 y=60 fill=#ef6627 /><rect x=324 y=60 fill=#ed4d28 /><rect x=336 y=60 fill=#ec3227 /><rect x=348 y=60 fill=#ec1f25 /><rect x=360 y=60 fill=#ec1d25 /><rect x=372 y=60 fill=#ec1d25 /><rect x=384 y=60 fill=#ec1d25 /><rect x=396 y=60 fill=#ec1d25 /><rect x=408 y=60 fill=#ec1d25 /><rect x=420 y=60 fill=#ec1d25 /><rect x=432 y=60 fill=#ec1d25 /><rect x=444 y=60 fill=#ec1d25 /><rect x=456 y=60 fill=#ec1d25 /><rect x=-12 y=72 fill=#f9db0e /><rect x=0 y=72 fill=#f9db0e /><rect x=12 y=72 fill=#f9da0d /><rect x=24 y=72 fill=#fad90d /><rect x=36 y=72 fill=#fad70c /><rect x=48 y=72 fill=#fbd60b /><rect x=60 y=72 fill=#fbd40a /><rect x=72 y=72 fill=#fcd108 /><rect x=84 y=72 fill=#fdcf07 /><rect x=96 y=72 fill=#f8a71c /><rect x=108 y=72 fill=#f8a71c /><rect x=120 y=72 fill=#f8a51d /><rect x=132 y=72 fill=#f7a41d /><rect x=144 y=72 fill=#f7a21e /><rect x=156 y=72 fill=#f79f1f /><rect x=168 y=72 fill=#f69c20 /><rect x=180 y=72 fill=#f59920 /><rect x=192 y=72 fill=#f59721 /><rect x=204 y=72 fill=#f59621 /><rect x=216 y=72 fill=#f59721 /><rect x=228 y=72 fill=#f59721 /><rect x=240 y=72 fill=#f59721 /><rect x=252 y=72 fill=#f59521 /><rect x=264 y=72 fill=#f49222 /><rect x=276 y=72 fill=#f38c24 /><rect x=288 y=72 fill=#f28425 /><rect x=300 y=72 fill=#f17a25 /><rect x=312 y=72 fill=#ef6827 /><rect x=324 y=72 fill=#ed5128 /><rect x=336 y=72 fill=#ec3527 /><rect x=348 y=72 fill=#ec2125 /><rect x=360 y=72 fill=#ec1d25 /><rect x=372 y=72 fill=#ec1d25 /><rect x=384 y=72 fill=#ec1d25 /><rect x=396 y=72 fill=#ec1d25 /><rect x=408 y=72 fill=#ec1d25 /><rect x=420 y=72 fill=#ec1d25 /><rect x=432 y=72 fill=#ec1d25 /><rect x=444 y=72 fill=#ec1d25 /><rect x=456 y=72 fill=#ec1d25 /><rect x=-12 y=84 fill=#f7e011 /><rect x=0 y=84 fill=#f7df11 /><rect x=12 y=84 fill=#f8df10 /><rect x=24 y=84 fill=#f8de10 /><rect x=36 y=84 fill=#f9dc0f /><rect x=48 y=84 fill=#f9da0e /><rect x=60 y=84 fill=#fad80c /><rect x=72 y=84 fill=#fbd60b /><rect x=84 y=84 fill=#f8a71c /><rect x=96 y=84 fill=#f8a71c /><rect x=108 y=84 fill=#f8a61c /><rect x=120 y=84 fill=#f8a51d /><rect x=132 y=84 fill=#f7a31d /><rect x=144 y=84 fill=#f7a21e /><rect x=156 y=84 fill=#f7a01f /><rect x=168 y=84 fill=#f69d1f /><rect x=180 y=84 fill=#f69a20 /><rect x=192 y=84 fill=#f59821 /><rect x=204 y=84 fill=#f59721 /><rect x=216 y=84 fill=#f59721 /><rect x=228 y=84 fill=#f59721 /><rect x=240 y=84 fill=#f59621 /><rect x=252 y=84 fill=#f49422 /><rect x=264 y=84 fill=#f49123 /><rect x=276 y=84 fill=#f38c24 /><rect x=288 y=84 fill=#f28525 /><rect x=300 y=84 fill=#f17b25 /><rect x=312 y=84 fill=#ef6a27 /><rect x=324 y=84 fill=#ee5428 /><rect x=336 y=84 fill=#ec3927 /><rect x=348 y=84 fill=#ec2325 /><rect x=360 y=84 fill=#ec1d25 /><rect x=372 y=84 fill=#ec1d25 /><rect x=384 y=84 fill=#ec1d25 /><rect x=396 y=84 fill=#ec1d25 /><rect x=408 y=84 fill=#ec1d25 /><rect x=420 y=84 fill=#ec1d25 /><rect x=432 y=84 fill=#ec1d25 /><rect x=444 y=84 fill=#ec1d25 /><rect x=456 y=84 fill=#ec1d25 /><rect x=-12 y=96 fill=#f5e214 /><rect x=0 y=96 fill=#f6e213 /><rect x=12 y=96 fill=#f6e112 /><rect x=24 y=96 fill=#f7e012 /><rect x=36 y=96 fill=#f7df11 /><rect x=48 y=96 fill=#f8de10 /><rect x=60 y=96 fill=#f9dc0e /><rect x=72 y=96 fill=#fad90d /><rect x=84 y=96 fill=#f8a61c /><rect x=96 y=96 fill=#f8a61c /><rect x=108 y=96 fill=#f8a61c /><rect x=120 y=96 fill=#f8a51d /><rect x=132 y=96 fill=#f7a31d /><rect x=144 y=96 fill=#f7a21e /><rect x=156 y=96 fill=#f7a01e /><rect x=168 y=96 fill=#f69e1f /><rect x=180 y=96 fill=#f69c20 /><rect x=192 y=96 fill=#f59a20 /><rect x=204 y=96 fill=#f59821 /><rect x=216 y=96 fill=#f59721 /><rect x=228 y=96 fill=#f59721 /><rect x=240 y=96 fill=#f59521 /><rect x=252 y=96 fill=#f49322 /><rect x=264 y=96 fill=#f49023 /><rect x=276 y=96 fill=#f38c24 /><rect x=288 y=96 fill=#f28624 /><rect x=300 y=96 fill=#f17d25 /><rect x=312 y=96 fill=#ef6c27 /><rect x=324 y=96 fill=#ee5628 /><rect x=336 y=96 fill=#ec3b28 /><rect x=348 y=96 fill=#ec2426 /><rect x=360 y=96 fill=#ec1d25 /><rect x=372 y=96 fill=#ec1d25 /><rect x=384 y=96 fill=#ec1d25 /><rect x=396 y=96 fill=#ec1d25 /><rect x=408 y=96 fill=#ec1d25 /><rect x=420 y=96 fill=#ec1d25 /><rect x=432 y=96 fill=#ec1d25 /><rect x=444 y=96 fill=#ec1d25 /><rect x=456 y=96 fill=#ec1d25 /><rect x=-12 y=108 fill=#f4e515 /><rect x=0 y=108 fill=#f4e415 /><rect x=12 y=108 fill=#f5e314 /><rect x=24 y=108 fill=#f6e213 /><rect x=36 y=108 fill=#f6e112 /><rect x=48 y=108 fill=#f7e011 /><rect x=60 y=108 fill=#f8de10 /><rect x=72 y=108 fill=#f9dc0e /><rect x=84 y=108 fill=#f8a71c /><rect x=96 y=108 fill=#f8a71c /><rect x=108 y=108 fill=#f8a61c /><rect x=120 y=108 fill=#f8a51d /><rect x=132 y=108 fill=#f7a31d /><rect x=144 y=108 fill=#f7a21e /><rect x=156 y=108 fill=#f7a01e /><rect x=168 y=108 fill=#f69e1f /><rect x=180 y=108 fill=#f69c20 /><rect x=192 y=108 fill=#f69b20 /><rect x=204 y=108 fill=#f69a20 /><rect x=216 y=108 fill=#f59921 /><rect x=228 y=108 fill=#f59821 /><rect x=240 y=108 fill=#f59721 /><rect x=252 y=108 fill=#f59521 /><rect x=264 y=108 fill=#f49222 /><rect x=276 y=108 fill=#f38d24 /><rect x=288 y=108 fill=#f28724 /><rect x=300 y=108 fill=#f17e25 /><rect x=312 y=108 fill=#f06d26 /><rect x=324 y=108 fill=#ee5728 /><rect x=336 y=108 fill=#ec3d28 /><rect x=348 y=108 fill=#ec2626 /><rect x=360 y=108 fill=#ec1d25 /><rect x=372 y=108 fill=#ec1d25 /><rect x=384 y=108 fill=#ec1d25 /><rect x=396 y=108 fill=#ec1d25 /><rect x=408 y=108 fill=#ec1d25 /><rect x=420 y=108 fill=#ec1d25 /><rect x=432 y=108 fill=#ec1d25 /><rect x=444 y=108 fill=#ec1d25 /><rect x=456 y=108 fill=#ec1d25 /><rect x=-12 y=120 fill=#f3e717 /><rect x=0 y=120 fill=#f3e616 /><rect x=12 y=120 fill=#f4e515 /><rect x=24 y=120 fill=#f5e414 /><rect x=36 y=120 fill=#f5e213 /><rect x=48 y=120 fill=#f6e112 /><rect x=60 y=120 fill=#f7df11 /><rect x=72 y=120 fill=#f8de10 /><rect x=84 y=120 fill=#f8a81b /><rect x=96 y=120 fill=#f8a81b /><rect x=108 y=120 fill=#f8a71c /><rect x=120 y=120 fill=#f8a51d /><rect x=132 y=120 fill=#f7a41d /><rect x=144 y=120 fill=#f7a21e /><rect x=156 y=120 fill=#f7a01e /><rect x=168 y=120 fill=#f69f1f /><rect x=180 y=120 fill=#f69d1f /><rect x=192 y=120 fill=#f69c20 /><rect x=204 y=120 fill=#f69c20 /><rect x=216 y=120 fill=#f69b20 /><rect x=228 y=120 fill=#f69a20 /><rect x=240 y=120 fill=#f59a20 /><rect x=252 y=120 fill=#f59821 /><rect x=264 y=120 fill=#f59522 /><rect x=276 y=120 fill=#f49023 /><rect x=288 y=120 fill=#f38924 /><rect x=300 y=120 fill=#f27f25 /><rect x=312 y=120 fill=#f06e26 /><rect x=324 y=120 fill=#ee5928 /><rect x=336 y=120 fill=#ec3e28 /><rect x=348 y=120 fill=#ec2726 /><rect x=360 y=120 fill=#ec1d25 /><rect x=372 y=120 fill=#ec1d25 /><rect x=384 y=120 fill=#ec1d25 /><rect x=396 y=120 fill=#ec1d25 /><rect x=408 y=120 fill=#ec1d25 /><rect x=420 y=120 fill=#ec1d25 /><rect x=432 y=120 fill=#ec1d25 /><rect x=444 y=120 fill=#ec1d25 /><rect x=456 y=120 fill=#ec1d25 /><rect x=-12 y=132 fill=#f0e719 /><rect x=0 y=132 fill=#f2e818 /><rect x=12 y=132 fill=#f3e617 /><rect x=24 y=132 fill=#f4e516 /><rect x=36 y=132 fill=#f5e415 /><rect x=48 y=132 fill=#f5e213 /><rect x=60 y=132 fill=#f6e112 /><rect x=72 y=132 fill=#f7df11 /><rect x=84 y=132 fill=#f8aa1a /><rect x=96 y=132 fill=#f8a91b /><rect x=108 y=132 fill=#f8a81b /><rect x=120 y=132 fill=#f8a61c /><rect x=132 y=132 fill=#f7a41d /><rect x=144 y=132 fill=#f7a21e /><rect x=156 y=132 fill=#f7a01e /><rect x=168 y=132 fill=#f69f1f /><rect x=180 y=132 fill=#f69e1f /><rect x=192 y=132 fill=#f69d1f /><rect x=204 y=132 fill=#f69d1f /><rect x=216 y=132 fill=#f69d1f /><rect x=228 y=132 fill=#f69d1f /><rect x=240 y=132 fill=#f69c20 /><rect x=252 y=132 fill=#f69b20 /><rect x=264 y=132 fill=#f59821 /><rect x=276 y=132 fill=#f49222 /><rect x=288 y=132 fill=#f38b24 /><rect x=300 y=132 fill=#f28025 /><rect x=312 y=132 fill=#f06f26 /><rect x=324 y=132 fill=#ee5a28 /><rect x=336 y=132 fill=#ec4028 /><rect x=348 y=132 fill=#ec2926 /><rect x=360 y=132 fill=#ec1d25 /><rect x=372 y=132 fill=#ec1d25 /><rect x=384 y=132 fill=#ec1d25 /><rect x=396 y=132 fill=#ec1d25 /><rect x=408 y=132 fill=#ec1d25 /><rect x=420 y=132 fill=#ec1d25 /><rect x=432 y=132 fill=#ec1d25 /><rect x=444 y=132 fill=#ec1d25 /><rect x=456 y=132 fill=#ec1d25 /><rect x=-12 y=144 fill=#e6e41d /><rect x=0 y=144 fill=#ebe51b /><rect x=12 y=144 fill=#f2e818 /><rect x=24 y=144 fill=#f3e617 /><rect x=36 y=144 fill=#f4e516 /><rect x=48 y=144 fill=#f5e414 /><rect x=60 y=144 fill=#f6e213 /><rect x=72 y=144 fill=#f7e012 /><rect x=84 y=144 fill=#f9ac1a /><rect x=96 y=144 fill=#f9ab1a /><rect x=108 y=144 fill=#f8a91b /><rect x=120 y=144 fill=#f8a61c /><rect x=132 y=144 fill=#f7a41d /><rect x=144 y=144 fill=#f7a21e /><rect x=156 y=144 fill=#f7a11e /><rect x=168 y=144 fill=#f69f1f /><rect x=180 y=144 fill=#f69e1f /><rect x=192 y=144 fill=#f69e1f /><rect x=204 y=144 fill=#f69e1f /><rect x=216 y=144 fill=#f69e1f /><rect x=228 y=144 fill=#f69e1f /><rect x=240 y=144 fill=#f69e1f /><rect x=252 y=144 fill=#f69d1f /><rect x=264 y=144 fill=#f59920 /><rect x=276 y=144 fill=#f49322 /><rect x=288 y=144 fill=#f38c24 /><rect x=300 y=144 fill=#f28125 /><rect x=312 y=144 fill=#f07026 /><rect x=324 y=144 fill=#ee5b28 /><rect x=336 y=144 fill=#ec4228 /><rect x=348 y=144 fill=#ec2b26 /><rect x=360 y=144 fill=#ec1d25 /><rect x=372 y=144 fill=#ec1d25 /><rect x=384 y=144 fill=#ec1d25 /><rect x=396 y=144 fill=#ec1d25 /><rect x=408 y=144 fill=#ec1d25 /><rect x=420 y=144 fill=#ec1d25 /><rect x=432 y=144 fill=#ec1d25 /><rect x=444 y=144 fill=#ec1d25 /><rect x=456 y=144 fill=#ec1d25 /><rect x=-12 y=156 fill=#dee020 /><rect x=0 y=156 fill=#e3e21e /><rect x=12 y=156 fill=#ece61a /><rect x=24 y=156 fill=#f2e718 /><rect x=36 y=156 fill=#f3e616 /><rect x=48 y=156 fill=#f4e515 /><rect x=60 y=156 fill=#f5e314 /><rect x=72 y=156 fill=#f9af18 /><rect x=84 y=156 fill=#f9ae19 /><rect x=96 y=156 fill=#f9ac19 /><rect x=108 y=156 fill=#f8aa1a /><rect x=120 y=156 fill=#f8a71c /><rect x=132 y=156 fill=#f7a41d /><rect x=144 y=156 fill=#f7a21e /><rect x=156 y=156 fill=#f7a11e /><rect x=168 y=156 fill=#f79f1f /><rect x=180 y=156 fill=#f69e1f /><rect x=192 y=156 fill=#f69e1f /><rect x=204 y=156 fill=#f69e1f /><rect x=216 y=156 fill=#f69e1f /><rect x=228 y=156 fill=#f69e1f /><rect x=240 y=156 fill=#f69e1f /><rect x=252 y=156 fill=#f69d1f /><rect x=264 y=156 fill=#f59920 /><rect x=276 y=156 fill=#f49322 /><rect x=288 y=156 fill=#f38c24 /><rect x=300 y=156 fill=#f28125 /><rect x=312 y=156 fill=#f07126 /><rect x=324 y=156 fill=#ee5d28 /><rect x=336 y=156 fill=#ec4428 /><rect x=348 y=156 fill=#ec2e26 /><rect x=360 y=156 fill=#ec1d25 /><rect x=372 y=156 fill=#ec1d25 /><rect x=384 y=156 fill=#ec1d25 /><rect x=396 y=156 fill=#ec1d25 /><rect x=408 y=156 fill=#ec1d25 /><rect x=420 y=156 fill=#ec1d25 /><rect x=432 y=156 fill=#ec1d25 /><rect x=444 y=156 fill=#ec1d25 /><rect x=456 y=156 fill=#ec1d25 /><rect x=-12 y=168 fill=#d6dd23 /><rect x=0 y=168 fill=#dbdf21 /><rect x=12 y=168 fill=#e6e31d /><rect x=24 y=168 fill=#f0e719 /><rect x=36 y=168 fill=#f3e717 /><rect x=48 y=168 fill=#f4e516 /><rect x=60 y=168 fill=#f4e415 /><rect x=72 y=168 fill=#fab316 /><rect x=84 y=168 fill=#fab018 /><rect x=96 y=168 fill=#f9ae19 /><rect x=108 y=168 fill=#f9ab1a /><rect x=120 y=168 fill=#f8a81b /><rect x=132 y=168 fill=#f8a51c /><rect x=144 y=168 fill=#f7a31d /><rect x=156 y=168 fill=#f7a11e /><rect x=168 y=168 fill=#f7a01f /><rect x=180 y=168 fill=#f69e1f /><rect x=192 y=168 fill=#f69e1f /><rect x=204 y=168 fill=#f69e1f /><rect x=216 y=168 fill=#f69e1f /><rect x=228 y=168 fill=#f69e1f /><rect x=240 y=168 fill=#f69e1f /><rect x=252 y=168 fill=#f69d1f /><rect x=264 y=168 fill=#f59920 /><rect x=276 y=168 fill=#f49322 /><rect x=288 y=168 fill=#f38b24 /><rect x=300 y=168 fill=#f28125 /><rect x=312 y=168 fill=#f07126 /><rect x=324 y=168 fill=#ee5e28 /><rect x=336 y=168 fill=#ed4728 /><rect x=348 y=168 fill=#ec3127 /><rect x=360 y=168 fill=#ec1e25 /><rect x=372 y=168 fill=#ec1d25 /><rect x=384 y=168 fill=#ec1d25 /><rect x=396 y=168 fill=#ec1d25 /><rect x=408 y=168 fill=#ec1d25 /><rect x=420 y=168 fill=#ec1d25 /><rect x=432 y=168 fill=#ec1d25 /><rect x=444 y=168 fill=#ec1d25 /><rect x=456 y=168 fill=#ec1d25 /><rect x=-12 y=180 fill=#ceda26 /><rect x=0 y=180 fill=#d4dc24 /><rect x=12 y=180 fill=#e0e11f /><rect x=24 y=180 fill=#eae51b /><rect x=36 y=180 fill=#f2e818 /><rect x=48 y=180 fill=#f3e617 /><rect x=60 y=180 fill=#f4e516 /><rect x=72 y=180 fill=#fbb615 /><rect x=84 y=180 fill=#fab316 /><rect x=96 y=180 fill=#fab018 /><rect x=108 y=180 fill=#f9ad19 /><rect x=120 y=180 fill=#f8aa1a /><rect x=132 y=180 fill=#f8a71c /><rect x=144 y=180 fill=#f7a51d /><rect x=156 y=180 fill=#f7a21e /><rect x=168 y=180 fill=#f7a01e /><rect x=180 y=180 fill=#f69e1f /><rect x=192 y=180 fill=#f69e1f /><rect x=204 y=180 fill=#f69e1f /><rect x=216 y=180 fill=#f69e1f /><rect x=228 y=180 fill=#f69e1f /><rect x=240 y=180 fill=#f69e1f /><rect x=252 y=180 fill=#f69d1f /><rect x=264 y=180 fill=#f59920 /><rect x=276 y=180 fill=#f49322 /><rect x=288 y=180 fill=#f38b24 /><rect x=300 y=180 fill=#f28125 /><rect x=312 y=180 fill=#f07226 /><rect x=324 y=180 fill=#ee6028 /><rect x=336 y=180 fill=#ed4a28 /><rect x=348 y=180 fill=#ec3427 /><rect x=360 y=180 fill=#ec2025 /><rect x=372 y=180 fill=#ec1d25 /><rect x=384 y=180 fill=#ec1d25 /><rect x=396 y=180 fill=#ec1d25 /><rect x=408 y=180 fill=#ec1d25 /><rect x=420 y=180 fill=#ec1d25 /><rect x=432 y=180 fill=#ec1d25 /><rect x=444 y=180 fill=#ec1d25 /><rect x=456 y=180 fill=#ec1d25 /><rect x=-12 y=192 fill=#c6d729 /><rect x=0 y=192 fill=#ccd927 /><rect x=12 y=192 fill=#d9de22 /><rect x=24 y=192 fill=#e4e31d /><rect x=36 y=192 fill=#eee61a /><rect x=48 y=192 fill=#f2e718 /><rect x=60 y=192 fill=#fbbd11 /><rect x=72 y=192 fill=#fbba13 /><rect x=84 y=192 fill=#fbb615 /><rect x=96 y=192 fill=#fab316 /><rect x=108 y=192 fill=#f9af18 /><rect x=120 y=192 fill=#f9ac19 /><rect x=132 y=192 fill=#f8a91b /><rect x=144 y=192 fill=#f8a61c /><rect x=156 y=192 fill=#f7a31d /><rect x=168 y=192 fill=#f7a11e /><rect x=180 y=192 fill=#f69f1f /><rect x=192 y=192 fill=#f69e1f /><rect x=204 y=192 fill=#f69e1f /><rect x=216 y=192 fill=#f69e1f /><rect x=228 y=192 fill=#f69e1f /><rect x=240 y=192 fill=#f69e1f /><rect x=252 y=192 fill=#f69d1f /><rect x=264 y=192 fill=#f59920 /><rect x=276 y=192 fill=#f49322 /><rect x=288 y=192 fill=#f38b24 /><rect x=300 y=192 fill=#f28125 /><rect x=312 y=192 fill=#f07326 /><rect x=324 y=192 fill=#ef6227 /><rect x=336 y=192 fill=#ed4e28 /><rect x=348 y=192 fill=#ec3827 /><rect x=360 y=192 fill=#ec2325 /><rect x=372 y=192 fill=#ec1d25 /><rect x=384 y=192 fill=#ec1d25 /><rect x=396 y=192 fill=#ec1d25 /><rect x=408 y=192 fill=#ec1d25 /><rect x=420 y=192 fill=#ec1d25 /><rect x=432 y=192 fill=#ec1d25 /><rect x=444 y=192 fill=#ec1d25 /><rect x=456 y=192 fill=#ec1d25 /><rect x=-12 y=204 fill=#b9d22e /><rect x=0 y=204 fill=#c2d52b /><rect x=12 y=204 fill=#d0db25 /><rect x=24 y=204 fill=#dcdf21 /><rect x=36 y=204 fill=#e6e31d /><rect x=48 y=204 fill=#eee719 /><rect x=60 y=204 fill=#fcc00f /><rect x=72 y=204 fill=#fbbd11 /><rect x=84 y=204 fill=#fbb913 /><rect x=96 y=204 fill=#fbb615 /><rect x=108 y=204 fill=#fab217 /><rect x=120 y=204 fill=#f9af18 /><rect x=132 y=204 fill=#f9ac1a /><rect x=144 y=204 fill=#f8a91b /><rect x=156 y=204 fill=#f8a61c /><rect x=168 y=204 fill=#f7a31e /><rect x=180 y=204 fill=#f7a01e /><rect x=192 y=204 fill=#f69f1f /><rect x=204 y=204 fill=#f69f1f /><rect x=216 y=204 fill=#f69f1f /><rect x=228 y=204 fill=#f69e1f /><rect x=240 y=204 fill=#f69e1f /><rect x=252 y=204 fill=#f69d1f /><rect x=264 y=204 fill=#f59920 /><rect x=276 y=204 fill=#f49322 /><rect x=288 y=204 fill=#f38c24 /><rect x=300 y=204 fill=#f28325 /><rect x=312 y=204 fill=#f07626 /><rect x=324 y=204 fill=#ef6627 /><rect x=336 y=204 fill=#ed5328 /><rect x=348 y=204 fill=#ec3d28 /><rect x=360 y=204 fill=#ec2726 /><rect x=372 y=204 fill=#ec1d25 /><rect x=384 y=204 fill=#ec1d25 /><rect x=396 y=204 fill=#ec1d25 /><rect x=408 y=204 fill=#ec1d25 /><rect x=420 y=204 fill=#ec1d25 /><rect x=432 y=204 fill=#ec1d25 /><rect x=444 y=204 fill=#ec1d25 /><rect x=456 y=204 fill=#ec1d25 /><rect x=-12 y=216 fill=#abcd33 /><rect x=0 y=216 fill=#b5d12f /><rect x=12 y=216 fill=#c6d729 /><rect x=24 y=216 fill=#d3dc24 /><rect x=36 y=216 fill=#dee020 /><rect x=48 y=216 fill=#e6e31d /><rect x=60 y=216 fill=#fcc30d /><rect x=72 y=216 fill=#fcc10f /><rect x=84 y=216 fill=#fbbd11 /><rect x=96 y=216 fill=#fbba13 /><rect x=108 y=216 fill=#fbb714 /><rect x=120 y=216 fill=#fab316 /><rect x=132 y=216 fill=#fab018 /><rect x=144 y=216 fill=#f9ad19 /><rect x=156 y=216 fill=#f8aa1a /><rect x=168 y=216 fill=#f8a81b /><rect x=180 y=216 fill=#f8a51d /><rect x=192 y=216 fill=#f7a41d /><rect x=204 y=216 fill=#f7a31e /><rect x=216 y=216 fill=#f7a21e /><rect x=228 y=216 fill=#f7a01e /><rect x=240 y=216 fill=#f69f1f /><rect x=252 y=216 fill=#f69e1f /><rect x=264 y=216 fill=#f69a20 /><rect x=276 y=216 fill=#f59521 /><rect x=288 y=216 fill=#f48f23 /><rect x=300 y=216 fill=#f28724 /><rect x=312 y=216 fill=#f17b25 /><rect x=324 y=216 fill=#ef6b27 /><rect x=336 y=216 fill=#ee5928 /><rect x=348 y=216 fill=#ec4428 /><rect x=360 y=216 fill=#ec2d26 /><rect x=372 y=216 fill=#ec1d25 /><rect x=384 y=216 fill=#ec1d25 /><rect x=396 y=216 fill=#ec1d25 /><rect x=408 y=216 fill=#ec1d25 /><rect x=420 y=216 fill=#ec1d25 /><rect x=432 y=216 fill=#ec1d25 /><rect x=444 y=216 fill=#ec1d25 /><rect x=456 y=216 fill=#ec1d25 /><rect x=-12 y=228 fill=#9dc838 /><rect x=0 y=228 fill=#a7cb35 /><rect x=12 y=228 fill=#b9d22e /><rect x=24 y=228 fill=#c9d828 /><rect x=36 y=228 fill=#d4dc24 /><rect x=48 y=228 fill=#dee020 /><rect x=60 y=228 fill=#fcc70b /><rect x=72 y=228 fill=#fcc40c /><rect x=84 y=228 fill=#fcc20e /><rect x=96 y=228 fill=#fcbf10 /><rect x=108 y=228 fill=#fbbc12 /><rect x=120 y=228 fill=#fbb814 /><rect x=132 y=228 fill=#fab515 /><rect x=144 y=228 fill=#fab217 /><rect x=156 y=228 fill=#f9b018 /><rect x=168 y=228 fill=#f9ad19 /><rect x=180 y=228 fill=#f9ab1a /><rect x=192 y=228 fill=#f8aa1b /><rect x=204 y=228 fill=#f8a81b /><rect x=216 y=228 fill=#f8a51c /><rect x=228 y=228 fill=#f7a31e /><rect x=240 y=228 fill=#f7a11e /><rect x=252 y=228 fill=#f69f1f /><rect x=264 y=228 fill=#f69b20 /><rect x=276 y=228 fill=#f59821 /><rect x=288 y=228 fill=#f49322 /><rect x=300 y=228 fill=#f38d24 /><rect x=312 y=228 fill=#f28125 /><rect x=324 y=228 fill=#f07126 /><rect x=336 y=228 fill=#ef6027 /><rect x=348 y=228 fill=#ed4d28 /><rect x=360 y=228 fill=#ec3627 /><rect x=372 y=228 fill=#ec2325 /><rect x=384 y=228 fill=#ec1d25 /><rect x=396 y=228 fill=#ec1d25 /><rect x=408 y=228 fill=#ec1d25 /><rect x=420 y=228 fill=#ec1d25 /><rect x=432 y=228 fill=#ec1d25 /><rect x=444 y=228 fill=#ec1d25 /><rect x=456 y=228 fill=#ec1d25 /><rect x=-12 y=240 fill=#92c43b /><rect x=0 y=240 fill=#98c63a /><rect x=12 y=240 fill=#accd33 /><rect x=24 y=240 fill=#bdd42c /><rect x=36 y=240 fill=#cbd927 /><rect x=48 y=240 fill=#fdcc07 /><rect x=60 y=240 fill=#fdca09 /><rect x=72 y=240 fill=#fcc80a /><rect x=84 y=240 fill=#fcc60b /><rect x=96 y=240 fill=#fcc30d /><rect x=108 y=240 fill=#fcc00f /><rect x=120 y=240 fill=#fbbd11 /><rect x=132 y=240 fill=#fbba13 /><rect x=144 y=240 fill=#fbb715 /><rect x=156 y=240 fill=#fab416 /><rect x=168 y=240 fill=#fab217 /><rect x=180 y=240 fill=#fab117 /><rect x=192 y=240 fill=#f9ae18 /><rect x=204 y=240 fill=#f9ac1a /><rect x=216 y=240 fill=#f8a91b /><rect x=228 y=240 fill=#f8a61c /><rect x=240 y=240 fill=#f7a31e /><rect x=252 y=240 fill=#f7a01f /><rect x=264 y=240 fill=#f69d1f /><rect x=276 y=240 fill=#f69a20 /><rect x=288 y=240 fill=#f59621 /><rect x=300 y=240 fill=#f49123 /><rect x=312 y=240 fill=#f28624 /><rect x=324 y=240 fill=#f17826 /><rect x=336 y=240 fill=#ef6727 /><rect x=348 y=240 fill=#ee5628 /><rect x=360 y=240 fill=#ec3f28 /><rect x=372 y=240 fill=#ec2926 /><rect x=384 y=240 fill=#ec1d25 /><rect x=396 y=240 fill=#ec1d25 /><rect x=408 y=240 fill=#ec1d25 /><rect x=420 y=240 fill=#ec1d25 /><rect x=432 y=240 fill=#ec1d25 /><rect x=444 y=240 fill=#ec1d25 /><rect x=456 y=240 fill=#ec1d25 /><rect x=-12 y=252 fill=#89c23d /><rect x=0 y=252 fill=#8fc43c /><rect x=12 y=252 fill=#9fc838 /><rect x=24 y=252 fill=#b1cf31 /><rect x=36 y=252 fill=#c2d52b /><rect x=48 y=252 fill=#fdcf07 /><rect x=60 y=252 fill=#fdce06 /><rect x=72 y=252 fill=#fdcc07 /><rect x=84 y=252 fill=#fdca09 /><rect x=96 y=252 fill=#fcc70a /><rect x=108 y=252 fill=#fcc40c /><rect x=120 y=252 fill=#fcc10f /><rect x=132 y=252 fill=#fbbd11 /><rect x=144 y=252 fill=#fbba13 /><rect x=156 y=252 fill=#fbb814 /><rect x=168 y=252 fill=#fbb615 /><rect x=180 y=252 fill=#fab416 /><rect x=192 y=252 fill=#fab117 /><rect x=204 y=252 fill=#f9ae18 /><rect x=216 y=252 fill=#f9ab1a /><rect x=228 y=252 fill=#f8a81b /><rect x=240 y=252 fill=#f7a41d /><rect x=252 y=252 fill=#f7a11e /><rect x=264 y=252 fill=#f69e1f /><rect x=276 y=252 fill=#f69c20 /><rect x=288 y=252 fill=#f59921 /><rect x=300 y=252 fill=#f49422 /><rect x=312 y=252 fill=#f38b24 /><rect x=324 y=252 fill=#f17e25 /><rect x=336 y=252 fill=#f06f26 /><rect x=348 y=252 fill=#ee5f28 /><rect x=360 y=252 fill=#ed4928 /><rect x=372 y=252 fill=#ec3027 /><rect x=384 y=252 fill=#ec1f25 /><rect x=396 y=252 fill=#ec1d25 /><rect x=408 y=252 fill=#ec1d25 /><rect x=420 y=252 fill=#ec1d25 /><rect x=432 y=252 fill=#ec1d25 /><rect x=444 y=252 fill=#ec1d25 /><rect x=456 y=252 fill=#ec1d25 /><rect x=-12 y=264 fill=#7fbf3f /><rect x=0 y=264 fill=#86c13e /><rect x=12 y=264 fill=#94c53b /><rect x=24 y=264 fill=#a4cb35 /><rect x=36 y=264 fill=#b6d12f /><rect x=48 y=264 fill=#fcd309 /><rect x=60 y=264 fill=#fcd108 /><rect x=72 y=264 fill=#fdcf07 /><rect x=84 y=264 fill=#fdcd07 /><rect x=96 y=264 fill=#fdca09 /><rect x=108 y=264 fill=#fcc70b /><rect x=120 y=264 fill=#fcc40d /><rect x=132 y=264 fill=#fcc00f /><rect x=144 y=264 fill=#fbbd11 /><rect x=156 y=264 fill=#fbbb12 /><rect x=168 y=264 fill=#fbb814 /><rect x=180 y=264 fill=#fbb615 /><rect x=192 y=264 fill=#fab316 /><rect x=204 y=264 fill=#fab017 /><rect x=216 y=264 fill=#f9ad19 /><rect x=228 y=264 fill=#f8aa1b /><rect x=240 y=264 fill=#f8a61c /><rect x=252 y=264 fill=#f7a31e /><rect x=264 y=264 fill=#f7a01e /><rect x=276 y=264 fill=#f69e1f /><rect x=288 y=264 fill=#f69a20 /><rect x=300 y=264 fill=#f59621 /><rect x=312 y=264 fill=#f48f23 /><rect x=324 y=264 fill=#f28525 /><rect x=336 y=264 fill=#f17826 /><rect x=348 y=264 fill=#ef6927 /><rect x=360 y=264 fill=#ee5428 /><rect x=372 y=264 fill=#ec3827 /><rect x=384 y=264 fill=#ec2225 /><rect x=396 y=264 fill=#ec1d25 /><rect x=408 y=264 fill=#ec1d25 /><rect x=420 y=264 fill=#ec1d25 /><rect x=432 y=264 fill=#ec1d25 /><rect x=444 y=264 fill=#ec1d25 /><rect x=456 y=264 fill=#ec1d25 /><rect x=-12 y=276 fill=#79bd41 /><rect x=0 y=276 fill=#7dbe40 /><rect x=12 y=276 fill=#8bc23d /><rect x=24 y=276 fill=#98c63a /><rect x=36 y=276 fill=#aacd33 /><rect x=48 y=276 fill=#fad60b /><rect x=60 y=276 fill=#fbd40a /><rect x=72 y=276 fill=#fcd208 /><rect x=84 y=276 fill=#fdcf07 /><rect x=96 y=276 fill=#fdcd07 /><rect x=108 y=276 fill=#fdca09 /><rect x=120 y=276 fill=#fcc60b /><rect x=132 y=276 fill=#fcc30d /><rect x=144 y=276 fill=#fcc00f /><rect x=156 y=276 fill=#fbbd11 /><rect x=168 y=276 fill=#fbbb12 /><rect x=180 y=276 fill=#fbb814 /><rect x=192 y=276 fill=#fab515 /><rect x=204 y=276 fill=#fab217 /><rect x=216 y=276 fill=#f9af18 /><rect x=228 y=276 fill=#f9ac1a /><rect x=240 y=276 fill=#f8a81b /><rect x=252 y=276 fill=#f8a51d /><rect x=264 y=276 fill=#f7a21e /><rect x=276 y=276 fill=#f7a01f /><rect x=288 y=276 fill=#f69c20 /><rect x=300 y=276 fill=#f59821 /><rect x=312 y=276 fill=#f49222 /><rect x=324 y=276 fill=#f38b24 /><rect x=336 y=276 fill=#f28125 /><rect x=348 y=276 fill=#f07426 /><rect x=360 y=276 fill=#ee5f28 /><rect x=372 y=276 fill=#ec4028 /><rect x=384 y=276 fill=#ec2626 /><rect x=396 y=276 fill=#ec1d25 /><rect x=408 y=276 fill=#ec1d25 /><rect x=420 y=276 fill=#ec1d25 /><rect x=432 y=276 fill=#ec1d25 /><rect x=444 y=276 fill=#ec1d25 /><rect x=456 y=276 fill=#ec1d25 /><rect x=-12 y=288 fill=#75bc42 /><rect x=0 y=288 fill=#79bd41 /><rect x=12 y=288 fill=#83c03e /><rect x=24 y=288 fill=#91c43c /><rect x=36 y=288 fill=#a0c937 /><rect x=48 y=288 fill=#f9db0e /><rect x=60 y=288 fill=#fad80c /><rect x=72 y=288 fill=#fbd50a /><rect x=84 y=288 fill=#fcd209 /><rect x=96 y=288 fill=#fdcf07 /><rect x=108 y=288 fill=#fdcd07 /><rect x=120 y=288 fill=#fdca09 /><rect x=132 y=288 fill=#fcc70b /><rect x=144 y=288 fill=#fcc30d /><rect x=156 y=288 fill=#fcc00f /><rect x=168 y=288 fill=#fbbd11 /><rect x=180 y=288 fill=#fbba13 /><rect x=192 y=288 fill=#fbb714 /><rect x=204 y=288 fill=#fab416 /><rect x=216 y=288 fill=#fab117 /><rect x=228 y=288 fill=#f9ae19 /><rect x=240 y=288 fill=#f9ab1a /><rect x=252 y=288 fill=#f8a81b /><rect x=264 y=288 fill=#f7a51d /><rect x=276 y=288 fill=#f7a21e /><rect x=288 y=288 fill=#f69e1f /><rect x=300 y=288 fill=#f69a20 /><rect x=312 y=288 fill=#f59621 /><rect x=324 y=288 fill=#f49123 /><rect x=336 y=288 fill=#f38a24 /><rect x=348 y=288 fill=#f17e25 /><rect x=360 y=288 fill=#ef6827 /><rect x=372 y=288 fill=#ed4928 /><rect x=384 y=288 fill=#ec2926 /><rect x=396 y=288 fill=#ec1d25 /><rect x=408 y=288 fill=#ec1d25 /><rect x=420 y=288 fill=#ec1d25 /><rect x=432 y=288 fill=#ec1d25 /><rect x=444 y=288 fill=#ec1d25 /><rect x=456 y=288 fill=#ec1d25 /><rect x=-12 y=300 fill=#7abd40 /><rect x=0 y=300 fill=#7fbf3f /><rect x=12 y=300 fill=#8dc33c /><rect x=24 y=300 fill=#9bc739 /><rect x=36 y=300 fill=#aece32 /><rect x=48 y=300 fill=#f7df11 /><rect x=60 y=300 fill=#f8dd0f /><rect x=72 y=300 fill=#fad90d /><rect x=84 y=300 fill=#fbd50b /><rect x=96 y=300 fill=#fcd209 /><rect x=108 y=300 fill=#fcd007 /><rect x=120 y=300 fill=#fdcd06 /><rect x=132 y=300 fill=#fdca08 /><rect x=144 y=300 fill=#fcc70a /><rect x=156 y=300 fill=#fcc40c /><rect x=168 y=300 fill=#fcc10f /><rect x=180 y=300 fill=#fbbd11 /><rect x=192 y=300 fill=#fbba13 /><rect x=204 y=300 fill=#fbb715 /><rect x=216 y=300 fill=#fab416 /><rect x=228 y=300 fill=#fab017 /><rect x=240 y=300 fill=#f9ad19 /><rect x=252 y=300 fill=#f8aa1a /><rect x=264 y=300 fill=#f8a71c /><rect x=276 y=300 fill=#f7a41d /><rect x=288 y=300 fill=#f7a11e /><rect x=300 y=300 fill=#f69d1f /><rect x=312 y=300 fill=#f59920 /><rect x=324 y=300 fill=#f59522 /><rect x=336 y=300 fill=#f48f23 /><rect x=348 y=300 fill=#f28624 /><rect x=360 y=300 fill=#f07126 /><rect x=372 y=300 fill=#ed5328 /><rect x=384 y=300 fill=#ec3227 /><rect x=396 y=300 fill=#ec1d25 /><rect x=408 y=300 fill=#ec1d25 /><rect x=420 y=300 fill=#ec1d25 /><rect x=432 y=300 fill=#ec1d25 /><rect x=444 y=300 fill=#ec1d25 /><rect x=456 y=300 fill=#ec1d25 /><rect x=-12 y=312 fill=#89c23d /><rect x=0 y=312 fill=#8fc43c /><rect x=12 y=312 fill=#9ec838 /><rect x=24 y=312 fill=#b1cf31 /><rect x=36 y=312 fill=#c3d62a /><rect x=48 y=312 fill=#f4e516 /><rect x=60 y=312 fill=#f6e213 /><rect x=72 y=312 fill=#f8df10 /><rect x=84 y=312 fill=#f9da0d /><rect x=96 y=312 fill=#fad60b /><rect x=108 y=312 fill=#fbd309 /><rect x=120 y=312 fill=#fcd108 /><rect x=132 y=312 fill=#fdce06 /><rect x=144 y=312 fill=#fdcb08 /><rect x=156 y=312 fill=#fcc80a /><rect x=168 y=312 fill=#fcc50c /><rect x=180 y=312 fill=#fcc20e /><rect x=192 y=312 fill=#fcbe10 /><rect x=204 y=312 fill=#fbbb12 /><rect x=216 y=312 fill=#fbb714 /><rect x=228 y=312 fill=#fab416 /><rect x=240 y=312 fill=#fab018 /><rect x=252 y=312 fill=#f9ad19 /><rect x=264 y=312 fill=#f8aa1a /><rect x=276 y=312 fill=#f8a71c /><rect x=288 y=312 fill=#f7a41d /><rect x=300 y=312 fill=#f7a01e /><rect x=312 y=312 fill=#f69d1f /><rect x=324 y=312 fill=#f59920 /><rect x=336 y=312 fill=#f49422 /><rect x=348 y=312 fill=#f38c24 /><rect x=360 y=312 fill=#f17925 /><rect x=372 y=312 fill=#ee5f28 /><rect x=384 y=312 fill=#ec3f28 /><rect x=396 y=312 fill=#ec2626 /><rect x=408 y=312 fill=#ec1d25 /><rect x=420 y=312 fill=#ec1d25 /><rect x=432 y=312 fill=#ec1d25 /><rect x=444 y=312 fill=#ec1d25 /><rect x=456 y=312 fill=#ec1d25 /><rect x=-12 y=324 fill=#87c13e /><rect x=0 y=324 fill=#8cc33d /><rect x=12 y=324 fill=#97c63a /><rect x=24 y=324 fill=#abcd33 /><rect x=36 y=324 fill=#bfd42c /><rect x=48 y=324 fill=#e0e11f /><rect x=60 y=324 fill=#f2e717 /><rect x=72 y=324 fill=#f5e314 /><rect x=84 y=324 fill=#f8df11 /><rect x=96 y=324 fill=#f9da0e /><rect x=108 y=324 fill=#fad70c /><rect x=120 y=324 fill=#fbd40a /><rect x=132 y=324 fill=#fcd208 /><rect x=144 y=324 fill=#fdcf07 /><rect x=156 y=324 fill=#fdcd07 /><rect x=168 y=324 fill=#fdc909 /><rect x=180 y=324 fill=#fcc60b /><rect x=192 y=324 fill=#fcc30d /><rect x=204 y=324 fill=#fcbf0f /><rect x=216 y=324 fill=#fbbb12 /><rect x=228 y=324 fill=#fbb714 /><rect x=240 y=324 fill=#fab316 /><rect x=252 y=324 fill=#fab018 /><rect x=264 y=324 fill=#f9ad19 /><rect x=276 y=324 fill=#f8aa1a /><rect x=288 y=324 fill=#f8a71c /><rect x=300 y=324 fill=#f7a41d /><rect x=312 y=324 fill=#f7a01e /><rect x=324 y=324 fill=#f69c20 /><rect x=336 y=324 fill=#f59721 /><rect x=348 y=324 fill=#f49023 /><rect x=360 y=324 fill=#f28125 /><rect x=372 y=324 fill=#ef6b27 /><rect x=384 y=324 fill=#ed5028 /><rect x=396 y=324 fill=#ec3527 /><rect x=408 y=324 fill=#ec1f25 /><rect x=420 y=324 fill=#ec1d25 /><rect x=432 y=324 fill=#ec1d25 /><rect x=444 y=324 fill=#ec1d25 /><rect x=456 y=324 fill=#ec1d25 /><rect x=-12 y=336 fill=#79bd41 /><rect x=0 y=336 fill=#7bbe40 /><rect x=12 y=336 fill=#86c13e /><rect x=24 y=336 fill=#93c43b /><rect x=36 y=336 fill=#a7cb35 /><rect x=48 y=336 fill=#c1d52b /><rect x=60 y=336 fill=#dde020 /><rect x=72 y=336 fill=#f3e617 /><rect x=84 y=336 fill=#f6e213 /><rect x=96 y=336 fill=#f8de10 /><rect x=108 y=336 fill=#f9db0e /><rect x=120 y=336 fill=#fad80c /><rect x=132 y=336 fill=#fbd50a /><rect x=144 y=336 fill=#fcd309 /><rect x=156 y=336 fill=#fcd007 /><rect x=168 y=336 fill=#fdce06 /><rect x=180 y=336 fill=#fdcb08 /><rect x=192 y=336 fill=#fcc80a /><rect x=204 y=336 fill=#fcc40d /><rect x=216 y=336 fill=#fcbf0f /><rect x=228 y=336 fill=#fbbb12 /><rect x=240 y=336 fill=#fbb715 /><rect x=252 y=336 fill=#fab316 /><rect x=264 y=336 fill=#fab017 /><rect x=276 y=336 fill=#f9ad19 /><rect x=288 y=336 fill=#f9aa1a /><rect x=300 y=336 fill=#f8a71c /><rect x=312 y=336 fill=#f7a41d /><rect x=324 y=336 fill=#f7a01f /><rect x=336 y=336 fill=#f69b20 /><rect x=348 y=336 fill=#f49422 /><rect x=360 y=336 fill=#f38824 /><rect x=372 y=336 fill=#f07526 /><rect x=384 y=336 fill=#ee6028 /><rect x=396 y=336 fill=#ed4728 /><rect x=408 y=336 fill=#ec2a26 /><rect x=420 y=336 fill=#ec1d25 /><rect x=432 y=336 fill=#ec1d25 /><rect x=444 y=336 fill=#ec1d25 /><rect x=456 y=336 fill=#ec1d25 /><rect x=-12 y=348 fill=#71bb42 /><rect x=0 y=348 fill=#74bc42 /><rect x=12 y=348 fill=#79bd41 /><rect x=24 y=348 fill=#84c03e /><rect x=36 y=348 fill=#93c53b /><rect x=48 y=348 fill=#abcd33 /><rect x=60 y=348 fill=#cdda26 /><rect x=72 y=348 fill=#ede61a /><rect x=84 y=348 fill=#f5e415 /><rect x=96 y=348 fill=#f7e012 /><rect x=108 y=348 fill=#f8de10 /><rect x=120 y=348 fill=#f9da0e /><rect x=132 y=348 fill=#fad80c /><rect x=144 y=348 fill=#fbd50b /><rect x=156 y=348 fill=#fbd309 /><rect x=168 y=348 fill=#fcd108 /><rect x=180 y=348 fill=#fdce06 /><rect x=192 y=348 fill=#fdcb08 /><rect x=204 y=348 fill=#fcc80a /><rect x=216 y=348 fill=#fcc30d /><rect x=228 y=348 fill=#fcbf10 /><rect x=240 y=348 fill=#fbba12 /><rect x=252 y=348 fill=#fbb714 /><rect x=264 y=348 fill=#fab416 /><rect x=276 y=348 fill=#fab117 /><rect x=288 y=348 fill=#f9ae19 /><rect x=300 y=348 fill=#f8aa1a /><rect x=312 y=348 fill=#f8a71c /><rect x=324 y=348 fill=#f7a31e /><rect x=336 y=348 fill=#f69e1f /><rect x=348 y=348 fill=#f59821 /><rect x=360 y=348 fill=#f38e23 /><rect x=372 y=348 fill=#f17e25 /><rect x=384 y=348 fill=#ef6a27 /><rect x=396 y=348 fill=#ee5428 /><rect x=408 y=348 fill=#ec3727 /><rect x=420 y=348 fill=#ec1e25 /><rect x=432 y=348 fill=#ec1d25 /><rect x=444 y=348 fill=#ec1d25 /><rect x=456 y=348 fill=#ec1d25 /><rect x=-12 y=360 fill=#6dba43 /><rect x=0 y=360 fill=#70bb43 /><rect x=12 y=360 fill=#75bc41 /><rect x=24 y=360 fill=#7cbe40 /><rect x=36 y=360 fill=#8cc23d /><rect x=48 y=360 fill=#a0c937 /><rect x=60 y=360 fill=#c5d62a /><rect x=72 y=360 fill=#e5e31d /><rect x=84 y=360 fill=#f4e516 /><rect x=96 y=360 fill=#f6e113 /><rect x=108 y=360 fill=#f7df11 /><rect x=120 y=360 fill=#f8dd0f /><rect x=132 y=360 fill=#f9da0e /><rect x=144 y=360 fill=#fad80c /><rect x=156 y=360 fill=#fbd50a /><rect x=168 y=360 fill=#fbd309 /><rect x=180 y=360 fill=#fcd108 /><rect x=192 y=360 fill=#fdce06 /><rect x=204 y=360 fill=#fdcb08 /><rect x=216 y=360 fill=#fcc70b /><rect x=228 y=360 fill=#fcc20d /><rect x=240 y=360 fill=#fcbe10 /><rect x=252 y=360 fill=#fbbb12 /><rect x=264 y=360 fill=#fbb714 /><rect x=276 y=360 fill=#fab416 /><rect x=288 y=360 fill=#fab017 /><rect x=300 y=360 fill=#f9ad19 /><rect x=312 y=360 fill=#f8a91b /><rect x=324 y=360 fill=#f8a61c /><rect x=336 y=360 fill=#f7a11e /><rect x=348 y=360 fill=#f69b20 /><rect x=360 y=360 fill=#f49222 /><rect x=372 y=360 fill=#f28425 /><rect x=384 y=360 fill=#f07126 /><rect x=396 y=360 fill=#ee5e28 /><rect x=408 y=360 fill=#ec4228 /><rect x=420 y=360 fill=#ec2626 /><rect x=432 y=360 fill=#ec1d25 /><rect x=444 y=360 fill=#ec1d25 /><rect x=456 y=360 fill=#ec1d25 /><rect x=-12 y=372 fill=#6ab944 /><rect x=0 y=372 fill=#6dba43 /><rect x=12 y=372 fill=#72bb42 /><rect x=24 y=372 fill=#79bd41 /><rect x=36 y=372 fill=#86c13e /><rect x=48 y=372 fill=#98c63a /><rect x=60 y=372 fill=#bcd32d /><rect x=72 y=372 fill=#dfe11f /><rect x=84 y=372 fill=#f3e616 /><rect x=96 y=372 fill=#f5e314 /><rect x=108 y=372 fill=#f7e012 /><rect x=120 y=372 fill=#f8de10 /><rect x=132 y=372 fill=#f9dc0f /><rect x=144 y=372 fill=#f9da0d /><rect x=156 y=372 fill=#fad70c /><rect x=168 y=372 fill=#fbd50a /><rect x=180 y=372 fill=#fbd309 /><rect x=192 y=372 fill=#fcd108 /><rect x=204 y=372 fill=#fdce06 /><rect x=216 y=372 fill=#fdca09 /><rect x=228 y=372 fill=#fcc60b /><rect x=240 y=372 fill=#fcc20e /><rect x=252 y=372 fill=#fcbe10 /><rect x=264 y=372 fill=#fbbb12 /><rect x=276 y=372 fill=#fbb714 /><rect x=288 y=372 fill=#fab316 /><rect x=300 y=372 fill=#f9b018 /><rect x=312 y=372 fill=#f9ac19 /><rect x=324 y=372 fill=#f8a81b /><rect x=336 y=372 fill=#f7a41d /><rect x=348 y=372 fill=#f69e1f /><rect x=360 y=372 fill=#f59522 /><rect x=372 y=372 fill=#f38824 /><rect x=384 y=372 fill=#f17726 /><rect x=396 y=372 fill=#ef6527 /><rect x=408 y=372 fill=#ed4c28 /><rect x=420 y=372 fill=#ec2f26 /><rect x=432 y=372 fill=#ec1d25 /><rect x=444 y=372 fill=#ec1d25 /><rect x=456 y=372 fill=#ec1d25 /><rect x=-12 y=384 fill=#6ab944 /><rect x=0 y=384 fill=#6ab944 /><rect x=12 y=384 fill=#70bb43 /><rect x=24 y=384 fill=#77bc41 /><rect x=36 y=384 fill=#80bf3f /><rect x=48 y=384 fill=#92c43b /><rect x=60 y=384 fill=#b3d030 /><rect x=72 y=384 fill=#d8de22 /><rect x=84 y=384 fill=#f2e718 /><rect x=96 y=384 fill=#f4e415 /><rect x=108 y=384 fill=#f6e213 /><rect x=120 y=384 fill=#f7e011 /><rect x=132 y=384 fill=#f8de10 /><rect x=144 y=384 fill=#f9dc0f /><rect x=156 y=384 fill=#f9d90d /><rect x=168 y=384 fill=#fad70c /><rect x=180 y=384 fill=#fbd50a /><rect x=192 y=384 fill=#fcd309 /><rect x=204 y=384 fill=#fcd007 /><rect x=216 y=384 fill=#fdce06 /><rect x=228 y=384 fill=#fdca08 /><rect x=240 y=384 fill=#fcc70b /><rect x=252 y=384 fill=#fcc30d /><rect x=264 y=384 fill=#fcbf10 /><rect x=276 y=384 fill=#fbbb12 /><rect x=288 y=384 fill=#fbb715 /><rect x=300 y=384 fill=#fab316 /><rect x=312 y=384 fill=#f9af18 /><rect x=324 y=384 fill=#f9ab1a /><rect x=336 y=384 fill=#f8a71c /><rect x=348 y=384 fill=#f7a11e /><rect x=360 y=384 fill=#f59821 /><rect x=372 y=384 fill=#f38d24 /><rect x=384 y=384 fill=#f17e25 /><rect x=396 y=384 fill=#f06d26 /><rect x=408 y=384 fill=#ee5728 /><rect x=420 y=384 fill=#ec3c28 /><rect x=432 y=384 fill=#ec2426 /><rect x=444 y=384 fill=#ec1d25 /><rect x=456 y=384 fill=#ec1d25 /><rect x=-12 y=396 fill=#6ab945 /><rect x=0 y=396 fill=#6ab944 /><rect x=12 y=396 fill=#6dba43 /><rect x=24 y=396 fill=#73bc42 /><rect x=36 y=396 fill=#7bbe40 /><rect x=48 y=396 fill=#8ac23d /><rect x=60 y=396 fill=#a6cb35 /><rect x=72 y=396 fill=#ccd927 /><rect x=84 y=396 fill=#e9e51b /><rect x=96 y=396 fill=#f3e616 /><rect x=108 y=396 fill=#f5e415 /><rect x=120 y=396 fill=#f6e213 /><rect x=132 y=396 fill=#f7e012 /><rect x=144 y=396 fill=#f8de10 /><rect x=156 y=396 fill=#f9dc0f /><rect x=168 y=396 fill=#f9da0d /><rect x=180 y=396 fill=#fad70c /><rect x=192 y=396 fill=#fbd50b /><rect x=204 y=396 fill=#fbd309 /><rect x=216 y=396 fill=#fcd108 /><rect x=228 y=396 fill=#fdcf06 /><rect x=240 y=396 fill=#fdcc07 /><rect x=252 y=396 fill=#fcc80a /><rect x=264 y=396 fill=#fcc40c /><rect x=276 y=396 fill=#fcbf0f /><rect x=288 y=396 fill=#fbbb12 /><rect x=300 y=396 fill=#fbb715 /><rect x=312 y=396 fill=#fab316 /><rect x=324 y=396 fill=#f9af18 /><rect x=336 y=396 fill=#f9ab1a /><rect x=348 y=396 fill=#f8a51d /><rect x=360 y=396 fill=#f69d1f /><rect x=372 y=396 fill=#f49322 /><rect x=384 y=396 fill=#f28624 /><rect x=396 y=396 fill=#f07626 /><rect x=408 y=396 fill=#ef6327 /><rect x=420 y=396 fill=#ed4c28 /><rect x=432 y=396 fill=#ec3227 /><rect x=444 y=396 fill=#ec1f25 /><rect x=456 y=396 fill=#ec1f25 /><rect x=-12 y=408 fill=#6ab945 /><rect x=0 y=408 fill=#6ab945 /><rect x=12 y=408 fill=#6ab944 /><rect x=24 y=408 fill=#6fba43 /><rect x=36 y=408 fill=#75bc41 /><rect x=48 y=408 fill=#7dbe40 /><rect x=60 y=408 fill=#90c43c /><rect x=72 y=408 fill=#adce32 /><rect x=84 y=408 fill=#cad828 /><rect x=96 y=408 fill=#dcdf21 /><rect x=108 y=408 fill=#ede61a /><rect x=120 y=408 fill=#f3e616 /><rect x=132 y=408 fill=#f5e314 /><rect x=144 y=408 fill=#f7e012 /><rect x=156 y=408 fill=#f8df10 /><rect x=168 y=408 fill=#f9dc0f /><rect x=180 y=408 fill=#f9da0d /><rect x=192 y=408 fill=#fad80c /><rect x=204 y=408 fill=#fad60b /><rect x=216 y=408 fill=#fbd50a /><rect x=228 y=408 fill=#fbd309 /><rect x=240 y=408 fill=#fcd208 /><rect x=252 y=408 fill=#fdcf07 /><rect x=264 y=408 fill=#fdcb08 /><rect x=276 y=408 fill=#fcc60b /><rect x=288 y=408 fill=#fcc10e /><rect x=300 y=408 fill=#fbbd11 /><rect x=312 y=408 fill=#fbb913 /><rect x=324 y=408 fill=#fbb615 /><rect x=336 y=408 fill=#fab117 /><rect x=348 y=408 fill=#f9ac1a /><rect x=360 y=408 fill=#f7a41d /><rect x=372 y=408 fill=#f69c20 /><rect x=384 y=408 fill=#f49123 /><rect x=396 y=408 fill=#f28425 /><rect x=408 y=408 fill=#f07326 /><rect x=420 y=408 fill=#ee5f28 /><rect x=432 y=408 fill=#ed4828 /><rect x=444 y=408 fill=#ec3227 /><rect x=456 y=408 fill=#ec3227 /><rect x=-12 y=420 fill=#6ab945 /><rect x=0 y=420 fill=#6ab945 /><rect x=12 y=420 fill=#6ab944 /><rect x=24 y=420 fill=#6bb944 /><rect x=36 y=420 fill=#70bb43 /><rect x=48 y=420 fill=#75bc42 /><rect x=60 y=420 fill=#7bbe40 /><rect x=72 y=420 fill=#87c13e /><rect x=84 y=420 fill=#95c53b /><rect x=96 y=420 fill=#a4ca36 /><rect x=108 y=420 fill=#c0d52b /><rect x=120 y=420 fill=#dfe11f /><rect x=132 y=420 fill=#f3e617 /><rect x=144 y=420 fill=#f5e314 /><rect x=156 y=420 fill=#f6e112 /><rect x=168 y=420 fill=#f8df10 /><rect x=180 y=420 fill=#f8dc0f /><rect x=192 y=420 fill=#f9db0e /><rect x=204 y=420 fill=#f9da0d /><rect x=216 y=420 fill=#fad90d /><rect x=228 y=420 fill=#fad80c /><rect x=240 y=420 fill=#fad80c /><rect x=252 y=420 fill=#fad60b /><rect x=264 y=420 fill=#fbd309 /><rect x=276 y=420 fill=#fdcf07 /><rect x=288 y=420 fill=#fdca09 /><rect x=300 y=420 fill=#fcc50c /><rect x=312 y=420 fill=#fcc10e /><rect x=324 y=420 fill=#fcbe10 /><rect x=336 y=420 fill=#fbb913 /><rect x=348 y=420 fill=#fab416 /><rect x=360 y=420 fill=#f9ae19 /><rect x=372 y=420 fill=#f8a61c /><rect x=384 y=420 fill=#f69d1f /><rect x=396 y=420 fill=#f49222 /><rect x=408 y=420 fill=#f28525 /><rect x=420 y=420 fill=#f07426 /><rect x=432 y=420 fill=#ef6327 /><rect x=444 y=420 fill=#ed5028 /><rect x=456 y=420 fill=#ed5028 /><rect x=-12 y=432 fill=#6ab946 /><rect x=0 y=432 fill=#6ab945 /><rect x=12 y=432 fill=#6ab945 /><rect x=24 y=432 fill=#6ab945 /><rect x=36 y=432 fill=#6ab944 /><rect x=48 y=432 fill=#6dba43 /><rect x=60 y=432 fill=#70bb43 /><rect x=72 y=432 fill=#73bc42 /><rect x=84 y=432 fill=#77bd41 /><rect x=96 y=432 fill=#7bbe40 /><rect x=108 y=432 fill=#8fc33c /><rect x=120 y=432 fill=#bed42c /><rect x=132 y=432 fill=#e7e41c /><rect x=144 y=432 fill=#f4e516 /><rect x=156 y=432 fill=#f5e314 /><rect x=168 y=432 fill=#f7e012 /><rect x=180 y=432 fill=#f8df11 /><rect x=192 y=432 fill=#f8de10 /><rect x=204 y=432 fill=#f8dd10 /><rect x=216 y=432 fill=#f8dd10 /><rect x=228 y=432 fill=#f8dd10 /><rect x=240 y=432 fill=#f8dd10 /><rect x=252 y=432 fill=#f8dd0f /><rect x=264 y=432 fill=#f9d90d /><rect x=276 y=432 fill=#fbd50a /><rect x=288 y=432 fill=#fcd108 /><rect x=300 y=432 fill=#fdcd06 /><rect x=312 y=432 fill=#fdca09 /><rect x=324 y=432 fill=#fcc60b /><rect x=336 y=432 fill=#fcc20e /><rect x=348 y=432 fill=#fbbd11 /><rect x=360 y=432 fill=#fbb715 /><rect x=372 y=432 fill=#fab018 /><rect x=384 y=432 fill=#f8a81b /><rect x=396 y=432 fill=#f69f1f /><rect x=408 y=432 fill=#f59422 /><rect x=420 y=432 fill=#f28724 /><rect x=432 y=432 fill=#f17826 /><rect x=444 y=432 fill=#ef6827 /><rect x=456 y=432 fill=#ef6827 /><rect x=-12 y=444 fill=#6ab946 /><rect x=0 y=444 fill=#6ab946 /><rect x=12 y=444 fill=#6ab946 /><rect x=24 y=444 fill=#6ab945 /><rect x=36 y=444 fill=#6ab945 /><rect x=48 y=444 fill=#6ab945 /><rect x=60 y=444 fill=#6ab944 /><rect x=72 y=444 fill=#6ab944 /><rect x=84 y=444 fill=#6cba44 /><rect x=96 y=444 fill=#6fba43 /><rect x=108 y=444 fill=#7abe40 /><rect x=120 y=444 fill=#9fc937 /><rect x=132 y=444 fill=#d4dc24 /><rect x=144 y=444 fill=#f2e818 /><rect x=156 y=444 fill=#f4e516 /><rect x=168 y=444 fill=#f5e314 /><rect x=180 y=444 fill=#f6e112 /><rect x=192 y=444 fill=#f7e012 /><rect x=204 y=444 fill=#f7e012 /><rect x=216 y=444 fill=#f7e012 /><rect x=228 y=444 fill=#f7e012 /><rect x=240 y=444 fill=#f7e012 /><rect x=252 y=444 fill=#f7e011 /><rect x=264 y=444 fill=#f8de10 /><rect x=276 y=444 fill=#f9da0e /><rect x=288 y=444 fill=#fad60b /><rect x=300 y=444 fill=#fbd309 /><rect x=312 y=444 fill=#fcd007 /><rect x=324 y=444 fill=#fdcd07 /><rect x=336 y=444 fill=#fcc80a /><rect x=348 y=444 fill=#fcc30d /><rect x=360 y=444 fill=#fcbe10 /><rect x=372 y=444 fill=#fbb814 /><rect x=384 y=444 fill=#fab117 /><rect x=396 y=444 fill=#f8a91b /><rect x=408 y=444 fill=#f79f1f /><rect x=420 y=444 fill=#f49322 /><rect x=432 y=444 fill=#f28425 /><rect x=444 y=444 fill=#f07226 /><rect x=456 y=444 fill=#f07226 /><rect x=-12 y=456 fill=#6ab947 /><rect x=0 y=456 fill=#6ab946 /><rect x=12 y=456 fill=#6ab946 /><rect x=24 y=456 fill=#6ab946 /><rect x=36 y=456 fill=#6ab946 /><rect x=48 y=456 fill=#6ab945 /><rect x=60 y=456 fill=#6ab945 /><rect x=72 y=456 fill=#6ab945 /><rect x=84 y=456 fill=#6ab944 /><rect x=96 y=456 fill=#6bb944 /><rect x=108 y=456 fill=#76bc41 /><rect x=120 y=456 fill=#91c43b /><rect x=132 y=456 fill=#c5d62a /><rect x=144 y=456 fill=#e3e21e /><rect x=156 y=456 fill=#f2e818 /><rect x=168 y=456 fill=#f4e516 /><rect x=180 y=456 fill=#f5e314 /><rect x=192 y=456 fill=#f5e314 /><rect x=204 y=456 fill=#f5e214 /><rect x=216 y=456 fill=#f6e213 /><rect x=228 y=456 fill=#f6e213 /><rect x=240 y=456 fill=#f6e113 /><rect x=252 y=456 fill=#f6e112 /><rect x=264 y=456 fill=#f7e011 /><rect x=276 y=456 fill=#f8de10 /><rect x=288 y=456 fill=#f9da0e /><rect x=300 y=456 fill=#fad80c /><rect x=312 y=456 fill=#fbd50a /><rect x=324 y=456 fill=#fcd108 /><rect x=336 y=456 fill=#fdce06 /><rect x=348 y=456 fill=#fdc909 /><rect x=360 y=456 fill=#fcc40d /><rect x=372 y=456 fill=#fcbf10 /><rect x=384 y=456 fill=#fbb913 /><rect x=396 y=456 fill=#fab217 /><rect x=408 y=456 fill=#f8a71c /><rect x=420 y=456 fill=#f59920 /><rect x=432 y=456 fill=#f38824 /><rect x=444 y=456 fill=#f07226 /><rect x=456 y=456 fill=#f07226 /><rect x=-12 y=468 fill=#6ab947 /><rect x=0 y=468 fill=#6ab947 /><rect x=12 y=468 fill=#6ab947 /><rect x=24 y=468 fill=#6ab947 /><rect x=36 y=468 fill=#6ab946 /><rect x=48 y=468 fill=#6ab946 /><rect x=60 y=468 fill=#6ab946 /><rect x=72 y=468 fill=#6ab945 /><rect x=84 y=468 fill=#6ab945 /><rect x=96 y=468 fill=#6ab944 /><rect x=108 y=468 fill=#72bb42 /><rect x=120 y=468 fill=#88c13d /><rect x=132 y=468 fill=#b3d030 /><rect x=144 y=468 fill=#d3dc24 /><rect x=156 y=468 fill=#e3e21e /><rect x=168 y=468 fill=#f0e719 /><rect x=180 y=468 fill=#f3e717 /><rect x=192 y=468 fill=#f3e616 /><rect x=204 y=468 fill=#f4e516 /><rect x=216 y=468 fill=#f4e415 /><rect x=228 y=468 fill=#f5e314 /><rect x=240 y=468 fill=#f5e213 /><rect x=252 y=468 fill=#f6e213 /><rect x=264 y=468 fill=#f6e112 /><rect x=276 y=468 fill=#f7e011 /><rect x=288 y=468 fill=#f8de10 /><rect x=300 y=468 fill=#f8dd0f /><rect x=312 y=468 fill=#fad90d /><rect x=324 y=468 fill=#fbd50a /><rect x=336 y=468 fill=#fcd108 /><rect x=348 y=468 fill=#fdcd07 /><rect x=360 y=468 fill=#fdc909 /><rect x=372 y=468 fill=#fcc50c /><rect x=384 y=468 fill=#fcc00f /><rect x=396 y=468 fill=#fbb913 /><rect x=408 y=468 fill=#f9ae18 /><rect x=420 y=468 fill=#f69e1f /><rect x=432 y=468 fill=#f38b24 /><rect x=444 y=468 fill=#f07226 /><rect x=456 y=468 fill=#f07226 /><rect x=-12 y=480 fill=#6aba4d /><rect x=0 y=480 fill=#6ab94a /><rect x=12 y=480 fill=#6ab948 /><rect x=24 y=480 fill=#6ab947 /><rect x=36 y=480 fill=#6ab947 /><rect x=48 y=480 fill=#6ab946 /><rect x=60 y=480 fill=#6ab946 /><rect x=72 y=480 fill=#6ab946 /><rect x=84 y=480 fill=#6ab945 /><rect x=96 y=480 fill=#6ab945 /><rect x=108 y=480 fill=#6fba43 /><rect x=120 y=480 fill=#80bf3f /><rect x=132 y=480 fill=#a1c937 /><rect x=144 y=480 fill=#c2d52b /><rect x=156 y=480 fill=#d1db25 /><rect x=168 y=480 fill=#dce020 /><rect x=180 y=480 fill=#e5e31d /><rect x=192 y=480 fill=#ede61a /><rect x=204 y=480 fill=#f2e718 /><rect x=216 y=480 fill=#f3e616 /><rect x=228 y=480 fill=#f4e415 /><rect x=240 y=480 fill=#f5e314 /><rect x=252 y=480 fill=#f5e314 /><rect x=264 y=480 fill=#f6e213 /><rect x=276 y=480 fill=#f6e113 /><rect x=288 y=480 fill=#f6e112 /><rect x=300 y=480 fill=#f7e011 /><rect x=312 y=480 fill=#f8dd0f /><rect x=324 y=480 fill=#fad80d /><rect x=336 y=480 fill=#fbd40a /><rect x=348 y=480 fill=#fcd007 /><rect x=360 y=480 fill=#fdcd07 /><rect x=372 y=480 fill=#fdca09 /><rect x=384 y=480 fill=#fcc60b /><rect x=396 y=480 fill=#fcc00f /><rect x=408 y=480 fill=#fab416 /><rect x=420 y=480 fill=#f7a21e /><rect x=432 y=480 fill=#f38d24 /><rect x=444 y=480 fill=#f07226 /><rect x=456 y=480 fill=#f07226 /><rect x=-12 y=492 fill=#6bbb59 /><rect x=0 y=492 fill=#6bba56 /><rect x=12 y=492 fill=#6aba4f /><rect x=24 y=492 fill=#6ab948 /><rect x=36 y=492 fill=#6ab948 /><rect x=48 y=492 fill=#6ab947 /><rect x=60 y=492 fill=#6ab947 /><rect x=72 y=492 fill=#6ab946 /><rect x=84 y=492 fill=#6ab946 /><rect x=96 y=492 fill=#6ab945 /><rect x=108 y=492 fill=#6cba44 /><rect x=120 y=492 fill=#79bd41 /><rect x=132 y=492 fill=#91c43c /><rect x=144 y=492 fill=#abcd33 /><rect x=156 y=492 fill=#bcd32d /><rect x=168 y=492 fill=#c9d828 /><rect x=180 y=492 fill=#d2dc24 /><rect x=192 y=492 fill=#dcdf21 /><rect x=204 y=492 fill=#e7e41c /><rect x=216 y=492 fill=#f2e818 /><rect x=228 y=492 fill=#f3e616 /><rect x=240 y=492 fill=#f4e415 /><rect x=252 y=492 fill=#f5e314 /><rect x=264 y=492 fill=#f5e314 /><rect x=276 y=492 fill=#f5e314 /><rect x=288 y=492 fill=#f5e213 /><rect x=300 y=492 fill=#f6e113 /><rect x=312 y=492 fill=#f7df11 /><rect x=324 y=492 fill=#f9db0e /><rect x=336 y=492 fill=#fad70b /><rect x=348 y=492 fill=#fbd309 /><rect x=360 y=492 fill=#fcd007 /><rect x=372 y=492 fill=#fdce06 /><rect x=384 y=492 fill=#fdca09 /><rect x=396 y=492 fill=#fcc40d /><rect x=408 y=492 fill=#fbb814 /><rect x=420 y=492 fill=#f8a51c /><rect x=432 y=492 fill=#f48f23 /><rect x=444 y=492 fill=#f07226 /><rect x=456 y=492 fill=#f07226 /><rect x=-12 y=504 fill=#6bbc63 /><rect x=0 y=504 fill=#6bbc60 /><rect x=12 y=504 fill=#6bbb59 /><rect x=24 y=504 fill=#6bba53 /><rect x=36 y=504 fill=#6ab94c /><rect x=48 y=504 fill=#6ab948 /><rect x=60 y=504 fill=#6ab947 /><rect x=72 y=504 fill=#6ab947 /><rect x=84 y=504 fill=#6ab946 /><rect x=96 y=504 fill=#6ab946 /><rect x=108 y=504 fill=#6ab944 /><rect x=120 y=504 fill=#73bb42 /><rect x=132 y=504 fill=#80bf3f /><rect x=144 y=504 fill=#92c43b /><rect x=156 y=504 fill=#a1c937 /><rect x=168 y=504 fill=#b1cf31 /><rect x=180 y=504 fill=#c0d42c /><rect x=192 y=504 fill=#cdd927 /><rect x=204 y=504 fill=#dadf21 /><rect x=216 y=504 fill=#e9e41c /><rect x=228 y=504 fill=#f2e718 /><rect x=240 y=504 fill=#f3e616 /><rect x=252 y=504 fill=#f4e515 /><rect x=264 y=504 fill=#f4e415 /><rect x=276 y=504 fill=#f5e415 /><rect x=288 y=504 fill=#f5e314 /><rect x=300 y=504 fill=#f6e213 /><rect x=312 y=504 fill=#f7e012 /><rect x=324 y=504 fill=#f8dd10 /><rect x=336 y=504 fill=#f9d90d /><rect x=348 y=504 fill=#fbd60b /><rect x=360 y=504 fill=#fbd309 /><rect x=372 y=504 fill=#fcd007 /><rect x=384 y=504 fill=#fdcc07 /><rect x=396 y=504 fill=#fcc50c /><rect x=408 y=504 fill=#fbba13 /><rect x=420 y=504 fill=#f8a91b /><rect x=432 y=504 fill=#f49322 /><rect x=444 y=504 fill=#f07526 /><rect x=456 y=504 fill=#f07526 /><rect x=-12 y=516 fill=#6cbd6b /><rect x=0 y=516 fill=#6cbc69 /><rect x=12 y=516 fill=#6bbc63 /><rect x=24 y=516 fill=#6bbb5d /><rect x=36 y=516 fill=#6bbb57 /><rect x=48 y=516 fill=#6aba50 /><rect x=60 y=516 fill=#6ab949 /><rect x=72 y=516 fill=#6ab948 /><rect x=84 y=516 fill=#6ab947 /><rect x=96 y=516 fill=#6ab946 /><rect x=108 y=516 fill=#6ab945 /><rect x=120 y=516 fill=#6bb944 /><rect x=132 y=516 fill=#74bc42 /><rect x=144 y=516 fill=#7cbe40 /><rect x=156 y=516 fill=#89c23d /><rect x=168 y=516 fill=#96c53a /><rect x=180 y=516 fill=#aacd33 /><rect x=192 y=516 fill=#bed42c /><rect x=204 y=516 fill=#ceda26 /><rect x=216 y=516 fill=#dde020 /><rect x=228 y=516 fill=#e9e51b /><rect x=240 y=516 fill=#f2e818 /><rect x=252 y=516 fill=#f3e617 /><rect x=264 y=516 fill=#f4e516 /><rect x=276 y=516 fill=#f4e515 /><rect x=288 y=516 fill=#f5e415 /><rect x=300 y=516 fill=#f5e314 /><rect x=312 y=516 fill=#f6e112 /><rect x=324 y=516 fill=#f7df11 /><rect x=336 y=516 fill=#f9dc0f /><rect x=348 y=516 fill=#fad90d /><rect x=360 y=516 fill=#fbd60b /><rect x=372 y=516 fill=#fcd209 /><rect x=384 y=516 fill=#fdce06 /><rect x=396 y=516 fill=#fcc60b /><rect x=408 y=516 fill=#fbbb12 /><rect x=420 y=516 fill=#f9ac1a /><rect x=432 y=516 fill=#f59821 /><rect x=444 y=516 fill=#f17d25 /><rect x=456 y=516 fill=#f17d25 /><rect x=-12 y=528 fill=#6cbe77 /><rect x=0 y=528 fill=#6cbd74 /><rect x=12 y=528 fill=#6cbd6d /><rect x=24 y=528 fill=#6cbc68 /><rect x=36 y=528 fill=#6bbc62 /><rect x=48 y=528 fill=#6bbb5c /><rect x=60 y=528 fill=#6bba55 /><rect x=72 y=528 fill=#6ab94c /><rect x=84 y=528 fill=#6ab948 /><rect x=96 y=528 fill=#6ab947 /><rect x=108 y=528 fill=#6ab946 /><rect x=120 y=528 fill=#6ab945 /><rect x=132 y=528 fill=#6ab944 /><rect x=144 y=528 fill=#71bb43 /><rect x=156 y=528 fill=#78bd41 /><rect x=168 y=528 fill=#85c13e /><rect x=180 y=528 fill=#96c53a /><rect x=192 y=528 fill=#accd33 /><rect x=204 y=528 fill=#c2d52b /><rect x=216 y=528 fill=#d1db25 /><rect x=228 y=528 fill=#dee020 /><rect x=240 y=528 fill=#e9e51b /><rect x=252 y=528 fill=#f2e818 /><rect x=264 y=528 fill=#f3e717 /><rect x=276 y=528 fill=#f3e616 /><rect x=288 y=528 fill=#f4e415 /><rect x=300 y=528 fill=#f5e314 /><rect x=312 y=528 fill=#f6e213 /><rect x=324 y=528 fill=#f7e012 /><rect x=336 y=528 fill=#f8de10 /><rect x=348 y=528 fill=#f9db0e /><rect x=360 y=528 fill=#fad80c /><rect x=372 y=528 fill=#fbd40a /><rect x=384 y=528 fill=#fdcf06 /><rect x=396 y=528 fill=#fcc70a /><rect x=408 y=528 fill=#fbbc11 /><rect x=420 y=528 fill=#f9ae18 /><rect x=432 y=528 fill=#f69d1f /><rect x=444 y=528 fill=#f38924 /><rect x=456 y=528 fill=#f38924 /><rect x=-12 y=540 fill=#6dbf85 /><rect x=0 y=540 fill=#6dbe83 /><rect x=12 y=540 fill=#6dbe7d /><rect x=24 y=540 fill=#6cbe76 /><rect x=36 y=540 fill=#6cbd6e /><rect x=48 y=540 fill=#6cbc68 /><rect x=60 y=540 fill=#6bbc60 /><rect x=72 y=540 fill=#6bbb57 /><rect x=84 y=540 fill=#6aba4d /><rect x=96 y=540 fill=#6ab948 /><rect x=108 y=540 fill=#6ab947 /><rect x=120 y=540 fill=#6ab946 /><rect x=132 y=540 fill=#6ab945 /><rect x=144 y=540 fill=#6ab944 /><rect x=156 y=540 fill=#6fbb43 /><rect x=168 y=540 fill=#79bd41 /><rect x=180 y=540 fill=#88c13d /><rect x=192 y=540 fill=#9ac739 /><rect x=204 y=540 fill=#b2cf31 /><rect x=216 y=540 fill=#c7d729 /><rect x=228 y=540 fill=#d6dd23 /><rect x=240 y=540 fill=#e3e21e /><rect x=252 y=540 fill=#eee61a /><rect x=264 y=540 fill=#f2e717 /><rect x=276 y=540 fill=#f3e616 /><rect x=288 y=540 fill=#f4e515 /><rect x=300 y=540 fill=#f5e314 /><rect x=312 y=540 fill=#f6e213 /><rect x=324 y=540 fill=#f6e112 /><rect x=336 y=540 fill=#f7df11 /><rect x=348 y=540 fill=#f8dd0f /><rect x=360 y=540 fill=#fad90d /><rect x=372 y=540 fill=#fbd50a /><rect x=384 y=540 fill=#fdcf07 /><rect x=396 y=540 fill=#fcc80a /><rect x=408 y=540 fill=#fcbe10 /><rect x=420 y=540 fill=#fab117 /><rect x=432 y=540 fill=#f7a21e /><rect x=444 y=540 fill=#f49222 /><rect x=456 y=540 fill=#f49222 /><rect x=-12 y=552 fill=#6ec096 /><rect x=0 y=552 fill=#6ec094 /><rect x=12 y=552 fill=#6ebf8f /><rect x=24 y=552 fill=#6dbf89 /><rect x=36 y=552 fill=#6dbe80 /><rect x=48 y=552 fill=#6cbe77 /><rect x=60 y=552 fill=#6cbd6c /><rect x=72 y=552 fill=#6bbc62 /><rect x=84 y=552 fill=#6bbb58 /><rect x=96 y=552 fill=#6aba4e /><rect x=108 y=552 fill=#6ab948 /><rect x=120 y=552 fill=#6ab947 /><rect x=132 y=552 fill=#6ab946 /><rect x=144 y=552 fill=#6ab945 /><rect x=156 y=552 fill=#6ab944 /><rect x=168 y=552 fill=#72bb42 /><rect x=180 y=552 fill=#7bbe40 /><rect x=192 y=552 fill=#8dc33c /><rect x=204 y=552 fill=#a1c937 /><rect x=216 y=552 fill=#bcd32d /><rect x=228 y=552 fill=#d3dc24 /><rect x=240 y=552 fill=#e3e21e /><rect x=252 y=552 fill=#eee61a /><rect x=264 y=552 fill=#f2e717 /><rect x=276 y=552 fill=#f3e616 /><rect x=288 y=552 fill=#f4e515 /><rect x=300 y=552 fill=#f5e314 /><rect x=312 y=552 fill=#f6e213 /><rect x=324 y=552 fill=#f6e112 /><rect x=336 y=552 fill=#f7df11 /><rect x=348 y=552 fill=#f8dd0f /><rect x=360 y=552 fill=#f9d90d /><rect x=372 y=552 fill=#fbd50a /><rect x=384 y=552 fill=#fcd007 /><rect x=396 y=552 fill=#fdc909 /><rect x=408 y=552 fill=#fcbf0f /><rect x=420 y=552 fill=#fab416 /><rect x=432 y=552 fill=#f8a71c /><rect x=444 y=552 fill=#f59a20 /><rect x=456 y=552 fill=#f59a20 /><rect x=-12 y=564 fill=#6fc2ab /><rect x=0 y=564 fill=#6fc2a9 /><rect x=12 y=564 fill=#6fc1a4 /><rect x=24 y=564 fill=#6ec19d /><rect x=36 y=564 fill=#6ec095 /><rect x=48 y=564 fill=#6dbf8c /><rect x=60 y=564 fill=#6dbe7f /><rect x=72 y=564 fill=#6cbd70 /><rect x=84 y=564 fill=#6cbc65 /><rect x=96 y=564 fill=#6bbb5a /><rect x=108 y=564 fill=#6aba4f /><rect x=120 y=564 fill=#6ab948 /><rect x=132 y=564 fill=#6ab947 /><rect x=144 y=564 fill=#6ab946 /><rect x=156 y=564 fill=#6ab945 /><rect x=168 y=564 fill=#6cba44 /><rect x=180 y=564 fill=#74bc42 /><rect x=192 y=564 fill=#7ebf3f /><rect x=204 y=564 fill=#92c43b /><rect x=216 y=564 fill=#b2cf31 /><rect x=228 y=564 fill=#d2db25 /><rect x=240 y=564 fill=#e6e31d /><rect x=252 y=564 fill=#f1e818 /><rect x=264 y=564 fill=#f3e717 /><rect x=276 y=564 fill=#f3e616 /><rect x=288 y=564 fill=#f4e515 /><rect x=300 y=564 fill=#f5e314 /><rect x=312 y=564 fill=#f6e213 /><rect x=324 y=564 fill=#f6e112 /><rect x=336 y=564 fill=#f7df11 /><rect x=348 y=564 fill=#f8dd0f /><rect x=360 y=564 fill=#f9da0d /><rect x=372 y=564 fill=#fbd50b /><rect x=384 y=564 fill=#fcd108 /><rect x=396 y=564 fill=#fdca08 /><rect x=408 y=564 fill=#fcc20e /><rect x=420 y=564 fill=#fbb814 /><rect x=432 y=564 fill=#f9ad19 /><rect x=444 y=564 fill=#f7a11e /><rect x=456 y=564 fill=#f7a11e /><rect x=-12 y=576 fill=#70c4c0 /><rect x=0 y=576 fill=#70c4be /><rect x=12 y=576 fill=#70c3b9 /><rect x=24 y=576 fill=#6fc3b2 /><rect x=36 y=576 fill=#6fc2a9 /><rect x=48 y=576 fill=#6ec19f /><rect x=60 y=576 fill=#6ec093 /><rect x=72 y=576 fill=#6dbf83 /><rect x=84 y=576 fill=#6cbd73 /><rect x=96 y=576 fill=#6cbc66 /><rect x=108 y=576 fill=#6bbb5a /><rect x=120 y=576 fill=#6aba4e /><rect x=132 y=576 fill=#6ab948 /><rect x=144 y=576 fill=#6ab947 /><rect x=156 y=576 fill=#6ab946 /><rect x=168 y=576 fill=#6ab945 /><rect x=180 y=576 fill=#6eba43 /><rect x=192 y=576 fill=#76bc41 /><rect x=204 y=576 fill=#86c13e /><rect x=216 y=576 fill=#a8cc34 /><rect x=228 y=576 fill=#d1db25 /><rect x=240 y=576 fill=#eae51b /><rect x=252 y=576 fill=#f2e818 /><rect x=264 y=576 fill=#f3e617 /><rect x=276 y=576 fill=#f3e616 /><rect x=288 y=576 fill=#f4e515 /><rect x=300 y=576 fill=#f5e314 /><rect x=312 y=576 fill=#f6e213 /><rect x=324 y=576 fill=#f6e112 /><rect x=336 y=576 fill=#f7df11 /><rect x=348 y=576 fill=#f8dd0f /><rect x=360 y=576 fill=#f9da0d /><rect x=372 y=576 fill=#fbd60b /><rect x=384 y=576 fill=#fcd108 /><rect x=396 y=576 fill=#fdcc07 /><rect x=408 y=576 fill=#fcc40c /><rect x=420 y=576 fill=#fbbc12 /><rect x=432 y=576 fill=#fab217 /><rect x=444 y=576 fill=#f8a81b /><rect x=456 y=576 fill=#f8a81b /><rect x=-12 y=588 fill=#6fc7d3 /><rect x=0 y=588 fill=#6fc7d0 /><rect x=12 y=588 fill=#6fc6ca /><rect x=24 y=588 fill=#70c4c3 /><rect x=36 y=588 fill=#70c3ba /><rect x=48 y=588 fill=#6fc2af /><rect x=60 y=588 fill=#6fc1a3 /><rect x=72 y=588 fill=#6ec094 /><rect x=84 y=588 fill=#6dbf83 /><rect x=96 y=588 fill=#6cbd72 /><rect x=108 y=588 fill=#6bbc64 /><rect x=120 y=588 fill=#6bbb57 /><rect x=132 y=588 fill=#6ab949 /><rect x=144 y=588 fill=#6ab947 /><rect x=156 y=588 fill=#6ab946 /><rect x=168 y=588 fill=#6ab945 /><rect x=180 y=588 fill=#6ab944 /><rect x=192 y=588 fill=#70bb43 /><rect x=204 y=588 fill=#7bbe40 /><rect x=216 y=588 fill=#9ec838 /><rect x=228 y=588 fill=#cfda26 /><rect x=240 y=588 fill=#ede61a /><rect x=252 y=588 fill=#f3e717 /><rect x=264 y=588 fill=#f3e616 /><rect x=276 y=588 fill=#f4e516 /><rect x=288 y=588 fill=#f4e515 /><rect x=300 y=588 fill=#f5e314 /><rect x=312 y=588 fill=#f6e213 /><rect x=324 y=588 fill=#f6e112 /><rect x=336 y=588 fill=#f7df11 /><rect x=348 y=588 fill=#f8dd0f /><rect x=360 y=588 fill=#f9da0d /><rect x=372 y=588 fill=#fbd60b /><rect x=384 y=588 fill=#fcd208 /><rect x=396 y=588 fill=#fdcd07 /><rect x=408 y=588 fill=#fcc60b /><rect x=420 y=588 fill=#fcbe10 /><rect x=432 y=588 fill=#fbb615 /><rect x=444 y=588 fill=#f9ad19 /><rect x=456 y=588 fill=#f9ad19 /><rect x=-12 y=600 fill=#6bc8dc /><rect x=0 y=600 fill=#6cc8db /><rect x=12 y=600 fill=#6ec7d7 /><rect x=24 y=600 fill=#6fc6cf /><rect x=36 y=600 fill=#70c5c5 /><rect x=48 y=600 fill=#70c4bb /><rect x=60 y=600 fill=#6fc2af /><rect x=72 y=600 fill=#6ec1a0 /><rect x=84 y=600 fill=#6ebf90 /><rect x=96 y=600 fill=#6dbe7f /><rect x=108 y=600 fill=#6cbd6d /><rect x=120 y=600 fill=#6bbb5e /><rect x=132 y=600 fill=#6aba50 /><rect x=144 y=600 fill=#6ab948 /><rect x=156 y=600 fill=#6ab947 /><rect x=168 y=600 fill=#6ab946 /><rect x=180 y=600 fill=#6ab945 /><rect x=192 y=600 fill=#6bb944 /><rect x=204 y=600 fill=#76bc41 /><rect x=216 y=600 fill=#96c53a /><rect x=228 y=600 fill=#cdda26 /><rect x=240 y=600 fill=#ede61a /><rect x=252 y=600 fill=#f3e717 /><rect x=264 y=600 fill=#f3e616 /><rect x=276 y=600 fill=#f4e516 /><rect x=288 y=600 fill=#f4e515 /><rect x=300 y=600 fill=#f5e314 /><rect x=312 y=600 fill=#f6e213 /><rect x=324 y=600 fill=#f6e112 /><rect x=336 y=600 fill=#f7df11 /><rect x=348 y=600 fill=#f8dd0f /><rect x=360 y=600 fill=#f9da0d /><rect x=372 y=600 fill=#fbd60b /><rect x=384 y=600 fill=#fcd208 /><rect x=396 y=600 fill=#fdcd07 /><rect x=408 y=600 fill=#fcc70b /><rect x=420 y=600 fill=#fcc00f /><rect x=432 y=600 fill=#fbb814 /><rect x=444 y=600 fill=#fab117 /><rect x=456 y=600 fill=#fab117 /><rect x=-12 y=612 fill=#66c8df /><rect x=0 y=612 fill=#67c8de /><rect x=12 y=612 fill=#6bc8dc /><rect x=24 y=612 fill=#6ec8d9 /><rect x=36 y=612 fill=#6fc6cf /><rect x=48 y=612 fill=#70c5c5 /><rect x=60 y=612 fill=#70c3b9 /><rect x=72 y=612 fill=#6fc2ab /><rect x=84 y=612 fill=#6ec09c /><rect x=96 y=612 fill=#6dbf8b /><rect x=108 y=612 fill=#6cbe77 /><rect x=120 y=612 fill=#6cbc65 /><rect x=132 y=612 fill=#6bba55 /><rect x=144 y=612 fill=#6ab948 /><rect x=156 y=612 fill=#6ab947 /><rect x=168 y=612 fill=#6ab946 /><rect x=180 y=612 fill=#6ab946 /><rect x=192 y=612 fill=#6ab945 /><rect x=204 y=612 fill=#72bb42 /><rect x=216 y=612 fill=#90c43c /><rect x=228 y=612 fill=#cbd927 /><rect x=240 y=612 fill=#ede61a /><rect x=252 y=612 fill=#f3e717 /><rect x=264 y=612 fill=#f3e616 /><rect x=276 y=612 fill=#f4e516 /><rect x=288 y=612 fill=#f4e515 /><rect x=300 y=612 fill=#f5e314 /><rect x=312 y=612 fill=#f6e213 /><rect x=324 y=612 fill=#f6e112 /><rect x=336 y=612 fill=#f7df11 /><rect x=348 y=612 fill=#f8dd0f /><rect x=360 y=612 fill=#f9da0d /><rect x=372 y=612 fill=#fbd60b /><rect x=384 y=612 fill=#fcd208 /><rect x=396 y=612 fill=#fdcd07 /><rect x=408 y=612 fill=#fcc70a /><rect x=420 y=612 fill=#fcc10e /><rect x=432 y=612 fill=#fbba12 /><rect x=444 y=612 fill=#fab416 /><rect x=456 y=612 fill=#fab416 /><rect x=-12 y=624 fill=#61c8e2 /><rect x=0 y=624 fill=#63c8e1 /><rect x=12 y=624 fill=#66c8df /><rect x=24 y=624 fill=#6bc8dc /><rect x=36 y=624 fill=#6ec8d8 /><rect x=48 y=624 fill=#6fc6cd /><rect x=60 y=624 fill=#70c4c2 /><rect x=72 y=624 fill=#6fc3b4 /><rect x=84 y=624 fill=#6fc1a6 /><rect x=96 y=624 fill=#6ec095 /><rect x=108 y=624 fill=#6dbe80 /><rect x=120 y=624 fill=#6cbd6a /><rect x=132 y=624 fill=#6bbb5a /><rect x=144 y=624 fill=#6ab94c /><rect x=156 y=624 fill=#6ab948 /><rect x=168 y=624 fill=#6ab947 /><rect x=180 y=624 fill=#6ab946 /><rect x=192 y=624 fill=#6ab945 /><rect x=204 y=624 fill=#6eba43 /><rect x=216 y=624 fill=#8ac23d /><rect x=228 y=624 fill=#c8d828 /><rect x=240 y=624 fill=#ede61a /><rect x=252 y=624 fill=#f3e717 /><rect x=264 y=624 fill=#f3e616 /><rect x=276 y=624 fill=#f4e516 /><rect x=288 y=624 fill=#f4e515 /><rect x=300 y=624 fill=#f5e314 /><rect x=312 y=624 fill=#f6e213 /><rect x=324 y=624 fill=#f6e112 /><rect x=336 y=624 fill=#f7df11 /><rect x=348 y=624 fill=#f8dd0f /><rect x=360 y=624 fill=#f9da0d /><rect x=372 y=624 fill=#fbd60b /><rect x=384 y=624 fill=#fcd208 /><rect x=396 y=624 fill=#fdcd07 /><rect x=408 y=624 fill=#fcc80a /><rect x=420 y=624 fill=#fcc20e /><rect x=432 y=624 fill=#fbbc11 /><rect x=444 y=624 fill=#fbb615 /><rect x=456 y=624 fill=#fbb615 /><rect x=-12 y=636 fill=#5ec8e5 /><rect x=0 y=636 fill=#5fc8e4 /><rect x=12 y=636 fill=#63c8e1 /><rect x=24 y=636 fill=#67c8de /><rect x=36 y=636 fill=#6cc8db /><rect x=48 y=636 fill=#6ec7d4 /><rect x=60 y=636 fill=#6fc5c8 /><rect x=72 y=636 fill=#70c4bc /><rect x=84 y=636 fill=#6fc2ae /><rect x=96 y=636 fill=#6ec19e /><rect x=108 y=636 fill=#6dbf88 /><rect x=120 y=636 fill=#6cbd6f /><rect x=132 y=636 fill=#6bbb5e /><rect x=144 y=636 fill=#6aba50 /><rect x=156 y=636 fill=#6ab948 /><rect x=168 y=636 fill=#6ab947 /><rect x=180 y=636 fill=#6ab947 /><rect x=192 y=636 fill=#6ab946 /><rect x=204 y=636 fill=#6ab944 /><rect x=216 y=636 fill=#84c03e /><rect x=228 y=636 fill=#c4d62a /><rect x=240 y=636 fill=#ede61a /><rect x=252 y=636 fill=#f3e717 /><rect x=264 y=636 fill=#f3e616 /><rect x=276 y=636 fill=#f4e516 /><rect x=288 y=636 fill=#f4e515 /><rect x=300 y=636 fill=#f5e314 /><rect x=312 y=636 fill=#f6e213 /><rect x=324 y=636 fill=#f6e112 /><rect x=336 y=636 fill=#f7df11 /><rect x=348 y=636 fill=#f8dd0f /><rect x=360 y=636 fill=#f9da0d /><rect x=372 y=636 fill=#fbd60b /><rect x=384 y=636 fill=#fcd108 /><rect x=396 y=636 fill=#fdcd07 /><rect x=408 y=636 fill=#fcc80a /><rect x=420 y=636 fill=#fcc20d /><rect x=432 y=636 fill=#fbbd11 /><rect x=444 y=636 fill=#fbb814 /><rect x=456 y=636 fill=#fbb814 /></g><path d="M125,2L115,14L107,25L105,37M85,80L81,85M139,-2L129,14L119,28L110,43L106,53L103,69L97,76L88,83L85,91L86,99L86,115L84,129L80,139L78,148L78,166L76,182L70,198L66,215L65,230L60,243L57,262L54,272L56,290L52,300M148,-2L141,14L132,28L120,44L111,58L105,67M157,-2L150,18L139,35L127,51L113,62L109,69L106,76L107,89L97,91L89,92L85,97M159,-2L157,35L159,65L166,79L164,104L166,127L173,150L182,173L192,192L208,203L231,210L266,215L300,216L320,213L339,211L346,204M350,186L350,196L354,207L359,217L364,230L371,245L383,257L394,268L400,276M171,-2L173,23L182,37L199,49L222,67L245,83L273,99L300,118L312,130L329,149L343,163L353,165L357,173L360,191L362,210L365,225L367,241L372,253L378,266L389,281L397,287L398,300L396,315L398,330L400,340L405,355L414,369L420,380L424,392M189,-2L196,18L212,32L236,44L259,55L277,67M325,107L338,109L346,121L351,132L364,140L381,147L395,152L399,160L402,180L406,200L409,225L412,250L408,270L410,290L416,305L420,320L419,340L416,355L420,370L428,385L433,395M232,-2L260,16L286,31L308,47L324,59M372,85L409,81M282,-2L298,10L320,23L346,38L364,47L381,51L407,52M305,-2L322,10L343,23L364,31L381,34L398,33M426,151L441,148M410,210L422,230L430,250L440,270M52,300L40,312L38,322L44,340L52,360L57,380L62,395L66,410L74,425L86,441L95,454M58,300L54,320L60,340L66,362L70,380L76,400L84,420L95,440L103,450L110,470M60,240L66,265L62,300L70,320L85,340L92,360L98,380L106,400L112,420L118,437L121,455L147,463L165,474L191,477L225,486L239,494L251,512L260,541L265,567L267,593L265,616L263,632M0,345L8,357M0,423L26,434L52,448L74,458L87,472L97,489L107,507L114,517L118,533L118,559L121,576L132,590L147,600L173,609L208,619L235,628M0,446L35,460L61,474L78,489L90,503L100,514L111,524L114,541L114,567L121,585L135,598L156,611L180,622L200,632M0,480L26,486L52,498L69,514L83,529L94,545L100,559L107,579M0,528L26,533L52,543L69,555L80,567L90,583L100,600L107,611L118,632M0,565L26,571L58,580M94,614L104,632M0,593L35,600L66,611L87,624L92,632M107,472L121,498L132,503L139,510L142,520L173,527L208,541L225,552M135,545L156,555L184,569M121,541L125,559L135,576L147,586L168,598M139,617L156,624L173,632M225,567L230,585L234,602L235,619M414,456L398,467L381,477L369,493L360,512L353,533L348,555L345,576L343,602L341,632M416,423L416,455L412,481L405,503L396,524L390,545L384,567L383,585L376,602L369,619L364,632M424,486L424,507L422,533L416,555L407,572L398,586L388,602L376,619L371,632M433,481L443,494L447,515L445,533L440,552M402,602L391,614L383,632M452,596L433,610L414,632M66,239L78,226L102,241L113,267L125,283L156,302L191,321L208,331L225,335L250,330L277,323L300,315L320,307L329,305L338,323L355,318L372,312L381,331L390,350L398,370L407,385L415,395" fill="none" stroke="#fff" stroke-width="4.6" stroke-linejoin="round" stroke-linecap="round"/><use href="#land"/><text x="96" y="59" font-size="27" text-anchor="middle" dominant-baseline="central" transform="rotate(-60 96 59)">80</text><text x="302" y="87" font-size="27" text-anchor="middle" dominant-baseline="central" transform="rotate(35 302 87)">100</text><text x="350" y="74" font-size="27" text-anchor="middle" dominant-baseline="central" transform="rotate(30 350 74)">110</text><text x="415" y="253" font-size="27" text-anchor="middle" dominant-baseline="central" transform="rotate(80 415 253)">110</text><text x="414" y="302" font-size="27" text-anchor="middle" dominant-baseline="central" transform="rotate(85 414 302)">100</text><text x="31" y="380" font-size="27" text-anchor="middle" dominant-baseline="central" transform="rotate(40 31 380)">70</text><text x="100" y="455" font-size="27" text-anchor="middle" dominant-baseline="central" transform="rotate(115 100 455)">80</text><text x="76" y="597" font-size="27" text-anchor="middle" dominant-baseline="central" transform="rotate(40 76 597)">50</text><text x="121" y="602" font-size="27" text-anchor="middle" dominant-baseline="central" transform="rotate(40 121 602)">60</text><text x="200" y="586" font-size="27" text-anchor="middle" dominant-baseline="central" transform="rotate(45 200 586)">80</text><text x="189" y="613" font-size="27" text-anchor="middle" dominant-baseline="central" transform="rotate(40 189 613)">70</text><text x="420" y="580" font-size="27" text-anchor="middle" dominant-baseline="central" transform="rotate(-55 420 580)">100</text></g><path d="M12.6,629.0v-6M12.6,0v6M143.5,629.0v-6M143.5,0v6M274.4,629.0v-6M274.4,0v6M405.3,629.0v-6M405.3,0v6M0,66.6h6M450,66.6h-6M0,198.9h6M450,198.9h-6M0,331.2h6M450,331.2h-6M0,463.5h6M450,463.5h-6M0,595.8h6M450,595.8h-6" stroke="#262626" stroke-width="1.2" fill="none"/><rect x=0.5 y=0.5 width=449 height=628 fill=none stroke="#262626" stroke-width=1.3 /></g><g transform="translate(734,70)"><clipPath id="cpB"><rect x=0 y=0 width=450 height=629 /></clipPath><g clip-path="url(#cpB)"><g filter="url(#bl)" class="f"><rect x=-12 y=-12 fill=#f2e818 /><rect x=0 y=-12 fill=#f2e818 /><rect x=12 y=-12 fill=#f2e717 /><rect x=24 y=-12 fill=#f3e717 /><rect x=36 y=-12 fill=#f3e617 /><rect x=48 y=-12 fill=#f3e616 /><rect x=60 y=-12 fill=#f4e516 /><rect x=72 y=-12 fill=#f4e516 /><rect x=84 y=-12 fill=#f4e515 /><rect x=96 y=-12 fill=#f4e415 /><rect x=108 y=-12 fill=#f5e314 /><rect x=120 y=-12 fill=#fdcb08 /><rect x=132 y=-12 fill=#fcc80a /><rect x=144 y=-12 fill=#fcc50c /><rect x=156 y=-12 fill=#fcc20e /><rect x=168 y=-12 fill=#fbbd11 /><rect x=180 y=-12 fill=#fbb814 /><rect x=192 y=-12 fill=#fab416 /><rect x=204 y=-12 fill=#fab217 /><rect x=216 y=-12 fill=#f9b018 /><rect x=228 y=-12 fill=#f9ae19 /><rect x=240 y=-12 fill=#f9ac1a /><rect x=252 y=-12 fill=#f8a91b /><rect x=264 y=-12 fill=#f8a71c /><rect x=276 y=-12 fill=#f7a41d /><rect x=288 y=-12 fill=#f7a01f /><rect x=300 y=-12 fill=#f59920 /><rect x=312 y=-12 fill=#f38824 /><rect x=324 y=-12 fill=#f06c26 /><rect x=336 y=-12 fill=#ed4c28 /><rect x=348 y=-12 fill=#ec2c26 /><rect x=360 y=-12 fill=#ec1d25 /><rect x=372 y=-12 fill=#ec1d25 /><rect x=384 y=-12 fill=#ec1d25 /><rect x=396 y=-12 fill=#ec1d25 /><rect x=408 y=-12 fill=#ec1d25 /><rect x=420 y=-12 fill=#ec1d25 /><rect x=432 y=-12 fill=#ec1d25 /><rect x=444 y=-12 fill=#ec1d25 /><rect x=456 y=-12 fill=#ec1d25 /><rect x=-12 y=0 fill=#f1e818 /><rect x=0 y=0 fill=#f2e818 /><rect x=12 y=0 fill=#f2e717 /><rect x=24 y=0 fill=#f3e717 /><rect x=36 y=0 fill=#f3e617 /><rect x=48 y=0 fill=#f3e616 /><rect x=60 y=0 fill=#f4e516 /><rect x=72 y=0 fill=#f4e516 /><rect x=84 y=0 fill=#f4e515 /><rect x=96 y=0 fill=#f4e415 /><rect x=108 y=0 fill=#f5e314 /><rect x=120 y=0 fill=#fdca08 /><rect x=132 y=0 fill=#fcc70b /><rect x=144 y=0 fill=#fcc30d /><rect x=156 y=0 fill=#fcc00f /><rect x=168 y=0 fill=#fbbc12 /><rect x=180 y=0 fill=#fbb714 /><rect x=192 y=0 fill=#fab416 /><rect x=204 y=0 fill=#fab117 /><rect x=216 y=0 fill=#f9af18 /><rect x=228 y=0 fill=#f9ad19 /><rect x=240 y=0 fill=#f9ab1a /><rect x=252 y=0 fill=#f8a91b /><rect x=264 y=0 fill=#f8a61c /><rect x=276 y=0 fill=#f7a31e /><rect x=288 y=0 fill=#f69f1f /><rect x=300 y=0 fill=#f59721 /><rect x=312 y=0 fill=#f28325 /><rect x=324 y=0 fill=#ef6427 /><rect x=336 y=0 fill=#ec4128 /><rect x=348 y=0 fill=#ec2526 /><rect x=360 y=0 fill=#ec1d25 /><rect x=372 y=0 fill=#ec1d25 /><rect x=384 y=0 fill=#ec1d25 /><rect x=396 y=0 fill=#ec1d25 /><rect x=408 y=0 fill=#ec1d25 /><rect x=420 y=0 fill=#ec1d25 /><rect x=432 y=0 fill=#ec1d25 /><rect x=444 y=0 fill=#ec1d25 /><rect x=456 y=0 fill=#ec1d25 /><rect x=-12 y=12 fill=#ede61a /><rect x=0 y=12 fill=#efe719 /><rect x=12 y=12 fill=#f2e818 /><rect x=24 y=12 fill=#f2e717 /><rect x=36 y=12 fill=#f3e717 /><rect x=48 y=12 fill=#f3e617 /><rect x=60 y=12 fill=#f3e616 /><rect x=72 y=12 fill=#f4e516 /><rect x=84 y=12 fill=#f4e515 /><rect x=96 y=12 fill=#f5e415 /><rect x=108 y=12 fill=#fdcc07 /><rect x=120 y=12 fill=#fcc80a /><rect x=132 y=12 fill=#fcc40c /><rect x=144 y=12 fill=#fcc00f /><rect x=156 y=12 fill=#fbbd11 /><rect x=168 y=12 fill=#fbb913 /><rect x=180 y=12 fill=#fbb615 /><rect x=192 y=12 fill=#fab217 /><rect x=204 y=12 fill=#fab018 /><rect x=216 y=12 fill=#f9ae18 /><rect x=228 y=12 fill=#f9ac19 /><rect x=240 y=12 fill=#f8aa1a /><rect x=252 y=12 fill=#f8a71c /><rect x=264 y=12 fill=#f7a51d /><rect x=276 y=12 fill=#f7a11e /><rect x=288 y=12 fill=#f69c20 /><rect x=300 y=12 fill=#f49322 /><rect x=312 y=12 fill=#f17925 /><rect x=324 y=12 fill=#ee5528 /><rect x=336 y=12 fill=#ec2f26 /><rect x=348 y=12 fill=#ec1d25 /><rect x=360 y=12 fill=#ec1d25 /><rect x=372 y=12 fill=#ec1d25 /><rect x=384 y=12 fill=#ec1d25 /><rect x=396 y=12 fill=#ec1d25 /><rect x=408 y=12 fill=#ec1d25 /><rect x=420 y=12 fill=#ec1d25 /><rect x=432 y=12 fill=#ec1d25 /><rect x=444 y=12 fill=#ec1d25 /><rect x=456 y=12 fill=#ec1d25 /><rect x=-12 y=24 fill=#e7e41c /><rect x=0 y=24 fill=#e9e51b /><rect x=12 y=24 fill=#eee61a /><rect x=24 y=24 fill=#f2e818 /><rect x=36 y=24 fill=#f2e717 /><rect x=48 y=24 fill=#f3e717 /><rect x=60 y=24 fill=#f3e616 /><rect x=72 y=24 fill=#f4e516 /><rect x=84 y=24 fill=#f4e515 /><rect x=96 y=24 fill=#f5e415 /><rect x=108 y=24 fill=#fdca08 /><rect x=120 y=24 fill=#fcc60b /><rect x=132 y=24 fill=#fcc10e /><rect x=144 y=24 fill=#fbbd11 /><rect x=156 y=24 fill=#fbba13 /><rect x=168 y=24 fill=#fbb715 /><rect x=180 y=24 fill=#fab416 /><rect x=192 y=24 fill=#fab117 /><rect x=204 y=24 fill=#f9af18 /><rect x=216 y=24 fill=#f9ad19 /><rect x=228 y=24 fill=#f9ab1a /><rect x=240 y=24 fill=#f8a91b /><rect x=252 y=24 fill=#f8a61c /><rect x=264 y=24 fill=#f7a31d /><rect x=276 y=24 fill=#f7a01f /><rect x=288 y=24 fill=#f69a20 /><rect x=300 y=24 fill=#f49023 /><rect x=312 y=24 fill=#f07226 /><rect x=324 y=24 fill=#ed4828 /><rect x=336 y=24 fill=#ec2426 /><rect x=348 y=24 fill=#ec1d25 /><rect x=360 y=24 fill=#ec1d25 /><rect x=372 y=24 fill=#ec1d25 /><rect x=384 y=24 fill=#ec1d25 /><rect x=396 y=24 fill=#ec1d25 /><rect x=408 y=24 fill=#ec1d25 /><rect x=420 y=24 fill=#ec1d25 /><rect x=432 y=24 fill=#ec1d25 /><rect x=444 y=24 fill=#ec1d25 /><rect x=456 y=24 fill=#ec1d25 /><rect x=-12 y=36 fill=#e0e11f /><rect x=0 y=36 fill=#e3e21e /><rect x=12 y=36 fill=#e8e41c /><rect x=24 y=36 fill=#ede61a /><rect x=36 y=36 fill=#f2e818 /><rect x=48 y=36 fill=#f2e717 /><rect x=60 y=36 fill=#f3e617 /><rect x=72 y=36 fill=#f3e616 /><rect x=84 y=36 fill=#f4e515 /><rect x=96 y=36 fill=#f5e415 /><rect x=108 y=36 fill=#fcc80a /><rect x=120 y=36 fill=#fcc40d /><rect x=132 y=36 fill=#fcbe10 /><rect x=144 y=36 fill=#fbba13 /><rect x=156 y=36 fill=#fbb714 /><rect x=168 y=36 fill=#fab516 /><rect x=180 y=36 fill=#fab217 /><rect x=192 y=36 fill=#fab018 /><rect x=204 y=36 fill=#f9ae18 /><rect x=216 y=36 fill=#f9ac19 /><rect x=228 y=36 fill=#f9aa1a /><rect x=240 y=36 fill=#f8a81b /><rect x=252 y=36 fill=#f8a51d /><rect x=264 y=36 fill=#f7a21e /><rect x=276 y=36 fill=#f69e1f /><rect x=288 y=36 fill=#f59921 /><rect x=300 y=36 fill=#f38e23 /><rect x=312 y=36 fill=#f06d26 /><rect x=324 y=36 fill=#ec4028 /><rect x=336 y=36 fill=#ec1f25 /><rect x=348 y=36 fill=#ec1d25 /><rect x=360 y=36 fill=#ec1d25 /><rect x=372 y=36 fill=#ec1d25 /><rect x=384 y=36 fill=#ec1d25 /><rect x=396 y=36 fill=#ec1d25 /><rect x=408 y=36 fill=#ec1d25 /><rect x=420 y=36 fill=#ec1d25 /><rect x=432 y=36 fill=#ec1d25 /><rect x=444 y=36 fill=#ec1d25 /><rect x=456 y=36 fill=#ec1d25 /><rect x=-12 y=48 fill=#d8de22 /><rect x=0 y=48 fill=#dbdf21 /><rect x=12 y=48 fill=#e1e11f /><rect x=24 y=48 fill=#e7e41c /><rect x=36 y=48 fill=#ece61a /><rect x=48 y=48 fill=#f2e818 /><rect x=60 y=48 fill=#f3e717 /><rect x=72 y=48 fill=#f3e616 /><rect x=84 y=48 fill=#f4e516 /><rect x=96 y=48 fill=#f4e415 /><rect x=108 y=48 fill=#fcc60b /><rect x=120 y=48 fill=#fcc10e /><rect x=132 y=48 fill=#fbbb12 /><rect x=144 y=48 fill=#fbb714 /><rect x=156 y=48 fill=#fab515 /><rect x=168 y=48 fill=#fab316 /><rect x=180 y=48 fill=#fab117 /><rect x=192 y=48 fill=#f9af18 /><rect x=204 y=48 fill=#f9ad19 /><rect x=216 y=48 fill=#f9ab1a /><rect x=228 y=48 fill=#f8a91b /><rect x=240 y=48 fill=#f8a71c /><rect x=252 y=48 fill=#f7a41d /><rect x=264 y=48 fill=#f7a11e /><rect x=276 y=48 fill=#f69d1f /><rect x=288 y=48 fill=#f59821 /><rect x=300 y=48 fill=#f38e23 /><rect x=312 y=48 fill=#f06c26 /><rect x=324 y=48 fill=#ec3e28 /><rect x=336 y=48 fill=#ec1e25 /><rect x=348 y=48 fill=#ec1d25 /><rect x=360 y=48 fill=#ec1d25 /><rect x=372 y=48 fill=#ec1d25 /><rect x=384 y=48 fill=#ec1d25 /><rect x=396 y=48 fill=#ec1d25 /><rect x=408 y=48 fill=#ec1d25 /><rect x=420 y=48 fill=#ec1d25 /><rect x=432 y=48 fill=#ec1d25 /><rect x=444 y=48 fill=#ec1d25 /><rect x=456 y=48 fill=#ec1d25 /><rect x=-12 y=60 fill=#ccd927 /><rect x=0 y=60 fill=#d0db25 /><rect x=12 y=60 fill=#d6dd23 /><rect x=24 y=60 fill=#dde020 /><rect x=36 y=60 fill=#e3e21e /><rect x=48 y=60 fill=#eae51b /><rect x=60 y=60 fill=#f0e719 /><rect x=72 y=60 fill=#f2e717 /><rect x=84 y=60 fill=#f3e617 /><rect x=96 y=60 fill=#fcc30d /><rect x=108 y=60 fill=#fcc10e /><rect x=120 y=60 fill=#fbbc11 /><rect x=132 y=60 fill=#fbb814 /><rect x=144 y=60 fill=#fab416 /><rect x=156 y=60 fill=#fab217 /><rect x=168 y=60 fill=#fab117 /><rect x=180 y=60 fill=#f9af18 /><rect x=192 y=60 fill=#f9ae19 /><rect x=204 y=60 fill=#f9ac19 /><rect x=216 y=60 fill=#f8aa1a /><rect x=228 y=60 fill=#f8a81b /><rect x=240 y=60 fill=#f8a61c /><rect x=252 y=60 fill=#f7a31e /><rect x=264 y=60 fill=#f7a01f /><rect x=276 y=60 fill=#f69d1f /><rect x=288 y=60 fill=#f59821 /><rect x=300 y=60 fill=#f38e23 /><rect x=312 y=60 fill=#f06c26 /><rect x=324 y=60 fill=#ec3e28 /><rect x=336 y=60 fill=#ec1e25 /><rect x=348 y=60 fill=#ec1d25 /><rect x=360 y=60 fill=#ec1d25 /><rect x=372 y=60 fill=#ec1d25 /><rect x=384 y=60 fill=#ec1d25 /><rect x=396 y=60 fill=#ec1d25 /><rect x=408 y=60 fill=#ec1d25 /><rect x=420 y=60 fill=#ec1d25 /><rect x=432 y=60 fill=#ec1d25 /><rect x=444 y=60 fill=#ec1d25 /><rect x=456 y=60 fill=#ec1d25 /><rect x=-12 y=72 fill=#bcd32d /><rect x=0 y=72 fill=#c0d52b /><rect x=12 y=72 fill=#c8d828 /><rect x=24 y=72 fill=#cfda26 /><rect x=36 y=72 fill=#d7dd23 /><rect x=48 y=72 fill=#dee020 /><rect x=60 y=72 fill=#e4e31d /><rect x=72 y=72 fill=#ebe51b /><rect x=84 y=72 fill=#f2e818 /><rect x=96 y=72 fill=#fbbc12 /><rect x=108 y=72 fill=#fbba13 /><rect x=120 y=72 fill=#fbb714 /><rect x=132 y=72 fill=#fab416 /><rect x=144 y=72 fill=#fab217 /><rect x=156 y=72 fill=#fab018 /><rect x=168 y=72 fill=#f9af18 /><rect x=180 y=72 fill=#f9ae19 /><rect x=192 y=72 fill=#f9ac19 /><rect x=204 y=72 fill=#f9ab1a /><rect x=216 y=72 fill=#f8a91b /><rect x=228 y=72 fill=#f8a71c /><rect x=240 y=72 fill=#f7a41d /><rect x=252 y=72 fill=#f7a21e /><rect x=264 y=72 fill=#f69f1f /><rect x=276 y=72 fill=#f69c20 /><rect x=288 y=72 fill=#f59821 /><rect x=300 y=72 fill=#f38e23 /><rect x=312 y=72 fill=#f06d26 /><rect x=324 y=72 fill=#ec3f28 /><rect x=336 y=72 fill=#ec1e25 /><rect x=348 y=72 fill=#ec1d25 /><rect x=360 y=72 fill=#ec1d25 /><rect x=372 y=72 fill=#ec1d25 /><rect x=384 y=72 fill=#ec1d25 /><rect x=396 y=72 fill=#ec1d25 /><rect x=408 y=72 fill=#ec1d25 /><rect x=420 y=72 fill=#ec1d25 /><rect x=432 y=72 fill=#ec1d25 /><rect x=444 y=72 fill=#ec1d25 /><rect x=456 y=72 fill=#ec1d25 /><rect x=-12 y=84 fill=#a8cc34 /><rect x=0 y=84 fill=#adce32 /><rect x=12 y=84 fill=#b7d12f /><rect x=24 y=84 fill=#c0d52b /><rect x=36 y=84 fill=#c9d828 /><rect x=48 y=84 fill=#d1db25 /><rect x=60 y=84 fill=#d8de22 /><rect x=72 y=84 fill=#e0e11f /><rect x=84 y=84 fill=#fbb615 /><rect x=96 y=84 fill=#fbb615 /><rect x=108 y=84 fill=#fab515 /><rect x=120 y=84 fill=#fab316 /><rect x=132 y=84 fill=#fab117 /><rect x=144 y=84 fill=#fab018 /><rect x=156 y=84 fill=#f9af18 /><rect x=168 y=84 fill=#f9ae19 /><rect x=180 y=84 fill=#f9ad19 /><rect x=192 y=84 fill=#f9ab1a /><rect x=204 y=84 fill=#f8aa1a /><rect x=216 y=84 fill=#f8a81b /><rect x=228 y=84 fill=#f8a61c /><rect x=240 y=84 fill=#f7a31d /><rect x=252 y=84 fill=#f7a11e /><rect x=264 y=84 fill=#f69e1f /><rect x=276 y=84 fill=#f69c20 /><rect x=288 y=84 fill=#f59721 /><rect x=300 y=84 fill=#f38e23 /><rect x=312 y=84 fill=#f06d26 /><rect x=324 y=84 fill=#ec3f28 /><rect x=336 y=84 fill=#ec1e25 /><rect x=348 y=84 fill=#ec1d25 /><rect x=360 y=84 fill=#ec1d25 /><rect x=372 y=84 fill=#ec1d25 /><rect x=384 y=84 fill=#ec1d25 /><rect x=396 y=84 fill=#ec1d25 /><rect x=408 y=84 fill=#ec1d25 /><rect x=420 y=84 fill=#ec1d25 /><rect x=432 y=84 fill=#ec1d25 /><rect x=444 y=84 fill=#ec1d25 /><rect x=456 y=84 fill=#ec1d25 /><rect x=-12 y=96 fill=#96c53a /><rect x=0 y=96 fill=#9ac739 /><rect x=12 y=96 fill=#a5cb35 /><rect x=24 y=96 fill=#b0cf31 /><rect x=36 y=96 fill=#bad32d /><rect x=48 y=96 fill=#c5d62a /><rect x=60 y=96 fill=#cdda26 /><rect x=72 y=96 fill=#d6dd23 /><rect x=84 y=96 fill=#fab416 /><rect x=96 y=96 fill=#fab416 /><rect x=108 y=96 fill=#fab316 /><rect x=120 y=96 fill=#fab217 /><rect x=132 y=96 fill=#fab017 /><rect x=144 y=96 fill=#f9af18 /><rect x=156 y=96 fill=#f9ae18 /><rect x=168 y=96 fill=#f9ad19 /><rect x=180 y=96 fill=#f9ac19 /><rect x=192 y=96 fill=#f9ab1a /><rect x=204 y=96 fill=#f8a91b /><rect x=216 y=96 fill=#f8a81b /><rect x=228 y=96 fill=#f8a51d /><rect x=240 y=96 fill=#f7a31e /><rect x=252 y=96 fill=#f7a01e /><rect x=264 y=96 fill=#f69e1f /><rect x=276 y=96 fill=#f69b20 /><rect x=288 y=96 fill=#f59721 /><rect x=300 y=96 fill=#f38f23 /><rect x=312 y=96 fill=#f06e26 /><rect x=324 y=96 fill=#ec3f28 /><rect x=336 y=96 fill=#ec1e25 /><rect x=348 y=96 fill=#ec1d25 /><rect x=360 y=96 fill=#ec1d25 /><rect x=372 y=96 fill=#ec1d25 /><rect x=384 y=96 fill=#ec1d25 /><rect x=396 y=96 fill=#ec1d25 /><rect x=408 y=96 fill=#ec1d25 /><rect x=420 y=96 fill=#ec1d25 /><rect x=432 y=96 fill=#ec1d25 /><rect x=444 y=96 fill=#ec1d25 /><rect x=456 y=96 fill=#ec1d25 /><rect x=-12 y=108 fill=#8ac23d /><rect x=0 y=108 fill=#8ec33c /><rect x=12 y=108 fill=#95c53b /><rect x=24 y=108 fill=#9fc937 /><rect x=36 y=108 fill=#abcd33 /><rect x=48 y=108 fill=#b7d12f /><rect x=60 y=108 fill=#c4d62a /><rect x=72 y=108 fill=#ceda26 /><rect x=84 y=108 fill=#fab416 /><rect x=96 y=108 fill=#fab416 /><rect x=108 y=108 fill=#fab416 /><rect x=120 y=108 fill=#fab316 /><rect x=132 y=108 fill=#fab117 /><rect x=144 y=108 fill=#fab017 /><rect x=156 y=108 fill=#f9af18 /><rect x=168 y=108 fill=#f9ae18 /><rect x=180 y=108 fill=#f9ad19 /><rect x=192 y=108 fill=#f9ac1a /><rect x=204 y=108 fill=#f8aa1a /><rect x=216 y=108 fill=#f8a81b /><rect x=228 y=108 fill=#f8a61c /><rect x=240 y=108 fill=#f7a31d /><rect x=252 y=108 fill=#f7a11e /><rect x=264 y=108 fill=#f69f1f /><rect x=276 y=108 fill=#f69c20 /><rect x=288 y=108 fill=#f59921 /><rect x=300 y=108 fill=#f49023 /><rect x=312 y=108 fill=#f07126 /><rect x=324 y=108 fill=#ec4528 /><rect x=336 y=108 fill=#ec2125 /><rect x=348 y=108 fill=#ec1d25 /><rect x=360 y=108 fill=#ec1d25 /><rect x=372 y=108 fill=#ec1d25 /><rect x=384 y=108 fill=#ec1d25 /><rect x=396 y=108 fill=#ec1d25 /><rect x=408 y=108 fill=#ec1d25 /><rect x=420 y=108 fill=#ec1d25 /><rect x=432 y=108 fill=#ec1d25 /><rect x=444 y=108 fill=#ec1d25 /><rect x=456 y=108 fill=#ec1d25 /><rect x=-12 y=120 fill=#7dbe40 /><rect x=0 y=120 fill=#81bf3f /><rect x=12 y=120 fill=#89c23d /><rect x=24 y=120 fill=#92c43b /><rect x=36 y=120 fill=#9bc739 /><rect x=48 y=120 fill=#a9cc34 /><rect x=60 y=120 fill=#b8d22e /><rect x=72 y=120 fill=#c6d729 /><rect x=84 y=120 fill=#fab515 /><rect x=96 y=120 fill=#fab515 /><rect x=108 y=120 fill=#fab515 /><rect x=120 y=120 fill=#fab416 /><rect x=132 y=120 fill=#fab316 /><rect x=144 y=120 fill=#fab316 /><rect x=156 y=120 fill=#fab217 /><rect x=168 y=120 fill=#fab017 /><rect x=180 y=120 fill=#f9ae18 /><rect x=192 y=120 fill=#f9ad19 /><rect x=204 y=120 fill=#f9ab1a /><rect x=216 y=120 fill=#f8a91b /><rect x=228 y=120 fill=#f8a71c /><rect x=240 y=120 fill=#f7a41d /><rect x=252 y=120 fill=#f7a21e /><rect x=264 y=120 fill=#f7a01e /><rect x=276 y=120 fill=#f69e1f /><rect x=288 y=120 fill=#f69b20 /><rect x=300 y=120 fill=#f49422 /><rect x=312 y=120 fill=#f17826 /><rect x=324 y=120 fill=#ed4f28 /><rect x=336 y=120 fill=#ec2826 /><rect x=348 y=120 fill=#ec1d25 /><rect x=360 y=120 fill=#ec1d25 /><rect x=372 y=120 fill=#ec1d25 /><rect x=384 y=120 fill=#ec1d25 /><rect x=396 y=120 fill=#ec1d25 /><rect x=408 y=120 fill=#ec1d25 /><rect x=420 y=120 fill=#ec1d25 /><rect x=432 y=120 fill=#ec1d25 /><rect x=444 y=120 fill=#ec1d25 /><rect x=456 y=120 fill=#ec1d25 /><rect x=-12 y=132 fill=#77bd41 /><rect x=0 y=132 fill=#79bd41 /><rect x=12 y=132 fill=#7fbf3f /><rect x=24 y=132 fill=#87c13e /><rect x=36 y=132 fill=#91c43c /><rect x=48 y=132 fill=#9bc739 /><rect x=60 y=132 fill=#accd33 /><rect x=72 y=132 fill=#bdd42c /><rect x=84 y=132 fill=#fbb615 /><rect x=96 y=132 fill=#fbb615 /><rect x=108 y=132 fill=#fbb615 /><rect x=120 y=132 fill=#fbb615 /><rect x=132 y=132 fill=#fbb615 /><rect x=144 y=132 fill=#fbb615 /><rect x=156 y=132 fill=#fab516 /><rect x=168 y=132 fill=#fab316 /><rect x=180 y=132 fill=#fab017 /><rect x=192 y=132 fill=#f9ae19 /><rect x=204 y=132 fill=#f9ac19 /><rect x=216 y=132 fill=#f8aa1a /><rect x=228 y=132 fill=#f8a81b /><rect x=240 y=132 fill=#f8a61c /><rect x=252 y=132 fill=#f7a41d /><rect x=264 y=132 fill=#f7a21e /><rect x=276 y=132 fill=#f7a01f /><rect x=288 y=132 fill=#f69d1f /><rect x=300 y=132 fill=#f59721 /><rect x=312 y=132 fill=#f28025 /><rect x=324 y=132 fill=#ee5b28 /><rect x=336 y=132 fill=#ec3427 /><rect x=348 y=132 fill=#ec1d25 /><rect x=360 y=132 fill=#ec1d25 /><rect x=372 y=132 fill=#ec1d25 /><rect x=384 y=132 fill=#ec1d25 /><rect x=396 y=132 fill=#ec1d25 /><rect x=408 y=132 fill=#ec1d25 /><rect x=420 y=132 fill=#ec1d25 /><rect x=432 y=132 fill=#ec1d25 /><rect x=444 y=132 fill=#ec1d25 /><rect x=456 y=132 fill=#ec1d25 /><rect x=-12 y=144 fill=#73bc42 /><rect x=0 y=144 fill=#75bc42 /><rect x=12 y=144 fill=#79bd41 /><rect x=24 y=144 fill=#7fbf3f /><rect x=36 y=144 fill=#88c13d /><rect x=48 y=144 fill=#92c43b /><rect x=60 y=144 fill=#a1c937 /><rect x=72 y=144 fill=#b4d030 /><rect x=84 y=144 fill=#fbb814 /><rect x=96 y=144 fill=#fbb814 /><rect x=108 y=144 fill=#fbb814 /><rect x=120 y=144 fill=#fbb814 /><rect x=132 y=144 fill=#fbb814 /><rect x=144 y=144 fill=#fbb814 /><rect x=156 y=144 fill=#fbb714 /><rect x=168 y=144 fill=#fab515 /><rect x=180 y=144 fill=#fab217 /><rect x=192 y=144 fill=#f9b018 /><rect x=204 y=144 fill=#f9ad19 /><rect x=216 y=144 fill=#f9ab1a /><rect x=228 y=144 fill=#f8a91b /><rect x=240 y=144 fill=#f8a71c /><rect x=252 y=144 fill=#f8a51d /><rect x=264 y=144 fill=#f7a41d /><rect x=276 y=144 fill=#f7a21e /><rect x=288 y=144 fill=#f79f1f /><rect x=300 y=144 fill=#f59920 /><rect x=312 y=144 fill=#f28525 /><rect x=324 y=144 fill=#ef6527 /><rect x=336 y=144 fill=#ec3f28 /><rect x=348 y=144 fill=#ec2325 /><rect x=360 y=144 fill=#ec1d25 /><rect x=372 y=144 fill=#ec1d25 /><rect x=384 y=144 fill=#ec1d25 /><rect x=396 y=144 fill=#ec1d25 /><rect x=408 y=144 fill=#ec1d25 /><rect x=420 y=144 fill=#ec1d25 /><rect x=432 y=144 fill=#ec1d25 /><rect x=444 y=144 fill=#ec1d25 /><rect x=456 y=144 fill=#ec1d25 /><rect x=-12 y=156 fill=#70bb43 /><rect x=0 y=156 fill=#72bb42 /><rect x=12 y=156 fill=#76bc41 /><rect x=24 y=156 fill=#7abd40 /><rect x=36 y=156 fill=#81bf3f /><rect x=48 y=156 fill=#8bc23d /><rect x=60 y=156 fill=#97c63a /><rect x=72 y=156 fill=#fbba13 /><rect x=84 y=156 fill=#fbba13 /><rect x=96 y=156 fill=#fbba13 /><rect x=108 y=156 fill=#fbba13 /><rect x=120 y=156 fill=#fbba13 /><rect x=132 y=156 fill=#fbba13 /><rect x=144 y=156 fill=#fbba13 /><rect x=156 y=156 fill=#fbb913 /><rect x=168 y=156 fill=#fbb715 /><rect x=180 y=156 fill=#fab416 /><rect x=192 y=156 fill=#fab217 /><rect x=204 y=156 fill=#f9af18 /><rect x=216 y=156 fill=#f9ad19 /><rect x=228 y=156 fill=#f9ab1a /><rect x=240 y=156 fill=#f8a91b /><rect x=252 y=156 fill=#f8a71c /><rect x=264 y=156 fill=#f8a61c /><rect x=276 y=156 fill=#f7a41d /><rect x=288 y=156 fill=#f7a11e /><rect x=300 y=156 fill=#f69b20 /><rect x=312 y=156 fill=#f38924 /><rect x=324 y=156 fill=#ef6b27 /><rect x=336 y=156 fill=#ed4928 /><rect x=348 y=156 fill=#ec2a26 /><rect x=360 y=156 fill=#ec1d25 /><rect x=372 y=156 fill=#ec1d25 /><rect x=384 y=156 fill=#ec1d25 /><rect x=396 y=156 fill=#ec1d25 /><rect x=408 y=156 fill=#ec1d25 /><rect x=420 y=156 fill=#ec1d25 /><rect x=432 y=156 fill=#ec1d25 /><rect x=444 y=156 fill=#ec1d25 /><rect x=456 y=156 fill=#ec1d25 /><rect x=-12 y=168 fill=#6eba43 /><rect x=0 y=168 fill=#6fba43 /><rect x=12 y=168 fill=#73bb42 /><rect x=24 y=168 fill=#77bd41 /><rect x=36 y=168 fill=#7bbe40 /><rect x=48 y=168 fill=#84c03e /><rect x=60 y=168 fill=#91c43b /><rect x=72 y=168 fill=#fbbd11 /><rect x=84 y=168 fill=#fbbd11 /><rect x=96 y=168 fill=#fbbd11 /><rect x=108 y=168 fill=#fbbd11 /><rect x=120 y=168 fill=#fbbd11 /><rect x=132 y=168 fill=#fbbc11 /><rect x=144 y=168 fill=#fbbc12 /><rect x=156 y=168 fill=#fbbb12 /><rect x=168 y=168 fill=#fbb914 /><rect x=180 y=168 fill=#fbb615 /><rect x=192 y=168 fill=#fab416 /><rect x=204 y=168 fill=#fab217 /><rect x=216 y=168 fill=#fab018 /><rect x=228 y=168 fill=#f9ae18 /><rect x=240 y=168 fill=#f9ac19 /><rect x=252 y=168 fill=#f8aa1a /><rect x=264 y=168 fill=#f8a81b /><rect x=276 y=168 fill=#f8a61c /><rect x=288 y=168 fill=#f7a31e /><rect x=300 y=168 fill=#f69c20 /><rect x=312 y=168 fill=#f38d24 /><rect x=324 y=168 fill=#f07226 /><rect x=336 y=168 fill=#ee5428 /><rect x=348 y=168 fill=#ec3427 /><rect x=360 y=168 fill=#ec1d25 /><rect x=372 y=168 fill=#ec1d25 /><rect x=384 y=168 fill=#ec1d25 /><rect x=396 y=168 fill=#ec1d25 /><rect x=408 y=168 fill=#ec1d25 /><rect x=420 y=168 fill=#ec1d25 /><rect x=432 y=168 fill=#ec1d25 /><rect x=444 y=168 fill=#ec1d25 /><rect x=456 y=168 fill=#ec1d25 /><rect x=-12 y=180 fill=#6cba44 /><rect x=0 y=180 fill=#6dba43 /><rect x=12 y=180 fill=#70bb43 /><rect x=24 y=180 fill=#74bc42 /><rect x=36 y=180 fill=#78bd41 /><rect x=48 y=180 fill=#7ebf40 /><rect x=60 y=180 fill=#8bc23d /><rect x=72 y=180 fill=#fcc00f /><rect x=84 y=180 fill=#fcc00f /><rect x=96 y=180 fill=#fcc00f /><rect x=108 y=180 fill=#fcc00f /><rect x=120 y=180 fill=#fcbf0f /><rect x=132 y=180 fill=#fcbf10 /><rect x=144 y=180 fill=#fcbe10 /><rect x=156 y=180 fill=#fbbc11 /><rect x=168 y=180 fill=#fbbb12 /><rect x=180 y=180 fill=#fbb914 /><rect x=192 y=180 fill=#fbb714 /><rect x=204 y=180 fill=#fab515 /><rect x=216 y=180 fill=#fab316 /><rect x=228 y=180 fill=#fab117 /><rect x=240 y=180 fill=#f9af18 /><rect x=252 y=180 fill=#f9ac19 /><rect x=264 y=180 fill=#f8aa1a /><rect x=276 y=180 fill=#f8a71c /><rect x=288 y=180 fill=#f7a41d /><rect x=300 y=180 fill=#f69e1f /><rect x=312 y=180 fill=#f48f23 /><rect x=324 y=180 fill=#f17826 /><rect x=336 y=180 fill=#ee5d28 /><rect x=348 y=180 fill=#ec3e28 /><rect x=360 y=180 fill=#ec1f25 /><rect x=372 y=180 fill=#ec1d25 /><rect x=384 y=180 fill=#ec1d25 /><rect x=396 y=180 fill=#ec1d25 /><rect x=408 y=180 fill=#ec1d25 /><rect x=420 y=180 fill=#ec1d25 /><rect x=432 y=180 fill=#ec1d25 /><rect x=444 y=180 fill=#ec1d25 /><rect x=456 y=180 fill=#ec1d25 /><rect x=-12 y=192 fill=#6ab944 /><rect x=0 y=192 fill=#6bb944 /><rect x=12 y=192 fill=#6eba43 /><rect x=24 y=192 fill=#71bb42 /><rect x=36 y=192 fill=#75bc42 /><rect x=48 y=192 fill=#7abd41 /><rect x=60 y=192 fill=#fcc40c /><rect x=72 y=192 fill=#fcc40c /><rect x=84 y=192 fill=#fcc40c /><rect x=96 y=192 fill=#fcc40c /><rect x=108 y=192 fill=#fcc40c /><rect x=120 y=192 fill=#fcc30d /><rect x=132 y=192 fill=#fcc20e /><rect x=144 y=192 fill=#fcc00f /><rect x=156 y=192 fill=#fcbf10 /><rect x=168 y=192 fill=#fbbd11 /><rect x=180 y=192 fill=#fbba12 /><rect x=192 y=192 fill=#fbb814 /><rect x=204 y=192 fill=#fbb615 /><rect x=216 y=192 fill=#fab416 /><rect x=228 y=192 fill=#fab217 /><rect x=240 y=192 fill=#fab018 /><rect x=252 y=192 fill=#f9ae19 /><rect x=264 y=192 fill=#f9ab1a /><rect x=276 y=192 fill=#f8a81b /><rect x=288 y=192 fill=#f7a41d /><rect x=300 y=192 fill=#f69e1f /><rect x=312 y=192 fill=#f49222 /><rect x=324 y=192 fill=#f17d25 /><rect x=336 y=192 fill=#ef6527 /><rect x=348 y=192 fill=#ed4928 /><rect x=360 y=192 fill=#ec2626 /><rect x=372 y=192 fill=#ec1d25 /><rect x=384 y=192 fill=#ec1d25 /><rect x=396 y=192 fill=#ec1d25 /><rect x=408 y=192 fill=#ec1d25 /><rect x=420 y=192 fill=#ec1d25 /><rect x=432 y=192 fill=#ec1d25 /><rect x=444 y=192 fill=#ec1d25 /><rect x=456 y=192 fill=#ec1d25 /><rect x=-12 y=204 fill=#6ab944 /><rect x=0 y=204 fill=#6ab944 /><rect x=12 y=204 fill=#6cb944 /><rect x=24 y=204 fill=#6fba43 /><rect x=36 y=204 fill=#72bb42 /><rect x=48 y=204 fill=#76bc41 /><rect x=60 y=204 fill=#fdcb08 /><rect x=72 y=204 fill=#fdcb08 /><rect x=84 y=204 fill=#fdcb08 /><rect x=96 y=204 fill=#fdcb08 /><rect x=108 y=204 fill=#fdca09 /><rect x=120 y=204 fill=#fcc80a /><rect x=132 y=204 fill=#fcc60b /><rect x=144 y=204 fill=#fcc40c /><rect x=156 y=204 fill=#fcc20e /><rect x=168 y=204 fill=#fcbf10 /><rect x=180 y=204 fill=#fbbc12 /><rect x=192 y=204 fill=#fbb814 /><rect x=204 y=204 fill=#fbb615 /><rect x=216 y=204 fill=#fab416 /><rect x=228 y=204 fill=#fab217 /><rect x=240 y=204 fill=#fab018 /><rect x=252 y=204 fill=#f9ae19 /><rect x=264 y=204 fill=#f9ab1a /><rect x=276 y=204 fill=#f8a81b /><rect x=288 y=204 fill=#f7a41d /><rect x=300 y=204 fill=#f69f1f /><rect x=312 y=204 fill=#f49322 /><rect x=324 y=204 fill=#f28225 /><rect x=336 y=204 fill=#ef6b27 /><rect x=348 y=204 fill=#ed5228 /><rect x=360 y=204 fill=#ec2b26 /><rect x=372 y=204 fill=#ec1d25 /><rect x=384 y=204 fill=#ec1d25 /><rect x=396 y=204 fill=#ec1d25 /><rect x=408 y=204 fill=#ec1d25 /><rect x=420 y=204 fill=#ec1d25 /><rect x=432 y=204 fill=#ec1d25 /><rect x=444 y=204 fill=#ec1d25 /><rect x=456 y=204 fill=#ec1d25 /><rect x=-12 y=216 fill=#6ab944 /><rect x=0 y=216 fill=#6ab944 /><rect x=12 y=216 fill=#6ab944 /><rect x=24 y=216 fill=#6cb944 /><rect x=36 y=216 fill=#6fba43 /><rect x=48 y=216 fill=#72bb42 /><rect x=60 y=216 fill=#fbd40a /><rect x=72 y=216 fill=#fbd40a /><rect x=84 y=216 fill=#fbd309 /><rect x=96 y=216 fill=#fbd309 /><rect x=108 y=216 fill=#fcd208 /><rect x=120 y=216 fill=#fcd007 /><rect x=132 y=216 fill=#fdcd07 /><rect x=144 y=216 fill=#fdca09 /><rect x=156 y=216 fill=#fcc60b /><rect x=168 y=216 fill=#fcc10e /><rect x=180 y=216 fill=#fbbc11 /><rect x=192 y=216 fill=#fbb814 /><rect x=204 y=216 fill=#fbb615 /><rect x=216 y=216 fill=#fab416 /><rect x=228 y=216 fill=#fab217 /><rect x=240 y=216 fill=#fab018 /><rect x=252 y=216 fill=#f9ae19 /><rect x=264 y=216 fill=#f9ab1a /><rect x=276 y=216 fill=#f8a81b /><rect x=288 y=216 fill=#f7a41d /><rect x=300 y=216 fill=#f69f1f /><rect x=312 y=216 fill=#f59422 /><rect x=324 y=216 fill=#f28525 /><rect x=336 y=216 fill=#f07126 /><rect x=348 y=216 fill=#ee5b28 /><rect x=360 y=216 fill=#ec3427 /><rect x=372 y=216 fill=#ec1d25 /><rect x=384 y=216 fill=#ec1d25 /><rect x=396 y=216 fill=#ec1d25 /><rect x=408 y=216 fill=#ec1d25 /><rect x=420 y=216 fill=#ec1d25 /><rect x=432 y=216 fill=#ec1d25 /><rect x=444 y=216 fill=#ec1d25 /><rect x=456 y=216 fill=#ec1d25 /><rect x=-12 y=228 fill=#6ab945 /><rect x=0 y=228 fill=#6ab945 /><rect x=12 y=228 fill=#6ab944 /><rect x=24 y=228 fill=#6ab944 /><rect x=36 y=228 fill=#6cb944 /><rect x=48 y=228 fill=#6eba43 /><rect x=60 y=228 fill=#f9dc0f /><rect x=72 y=228 fill=#f9dc0f /><rect x=84 y=228 fill=#f9db0e /><rect x=96 y=228 fill=#f9da0e /><rect x=108 y=228 fill=#fad90d /><rect x=120 y=228 fill=#fbd60b /><rect x=132 y=228 fill=#fcd309 /><rect x=144 y=228 fill=#fdcf07 /><rect x=156 y=228 fill=#fdca08 /><rect x=168 y=228 fill=#fcc30d /><rect x=180 y=228 fill=#fbbd11 /><rect x=192 y=228 fill=#fbb914 /><rect x=204 y=228 fill=#fbb615 /><rect x=216 y=228 fill=#fab416 /><rect x=228 y=228 fill=#fab217 /><rect x=240 y=228 fill=#fab018 /><rect x=252 y=228 fill=#f9ae19 /><rect x=264 y=228 fill=#f9ab1a /><rect x=276 y=228 fill=#f8a81b /><rect x=288 y=228 fill=#f7a41d /><rect x=300 y=228 fill=#f69f1f /><rect x=312 y=228 fill=#f59621 /><rect x=324 y=228 fill=#f38924 /><rect x=336 y=228 fill=#f17726 /><rect x=348 y=228 fill=#ef6327 /><rect x=360 y=228 fill=#ec3b28 /><rect x=372 y=228 fill=#ec1d25 /><rect x=384 y=228 fill=#ec1d25 /><rect x=396 y=228 fill=#ec1d25 /><rect x=408 y=228 fill=#ec1d25 /><rect x=420 y=228 fill=#ec1d25 /><rect x=432 y=228 fill=#ec1d25 /><rect x=444 y=228 fill=#ec1d25 /><rect x=456 y=228 fill=#ec1d25 /><rect x=-12 y=240 fill=#6ab945 /><rect x=0 y=240 fill=#6ab945 /><rect x=12 y=240 fill=#6ab945 /><rect x=24 y=240 fill=#6ab944 /><rect x=36 y=240 fill=#6ab944 /><rect x=48 y=240 fill=#f6e113 /><rect x=60 y=240 fill=#f6e112 /><rect x=72 y=240 fill=#f6e112 /><rect x=84 y=240 fill=#f7e012 /><rect x=96 y=240 fill=#f7df11 /><rect x=108 y=240 fill=#f8de10 /><rect x=120 y=240 fill=#f9db0e /><rect x=132 y=240 fill=#fad70c /><rect x=144 y=240 fill=#fbd309 /><rect x=156 y=240 fill=#fdce06 /><rect x=168 y=240 fill=#fcc60b /><rect x=180 y=240 fill=#fcbe10 /><rect x=192 y=240 fill=#fbb914 /><rect x=204 y=240 fill=#fbb615 /><rect x=216 y=240 fill=#fab416 /><rect x=228 y=240 fill=#fab217 /><rect x=240 y=240 fill=#fab018 /><rect x=252 y=240 fill=#f9ae19 /><rect x=264 y=240 fill=#f9ab1a /><rect x=276 y=240 fill=#f8a81b /><rect x=288 y=240 fill=#f7a41d /><rect x=300 y=240 fill=#f69f1f /><rect x=312 y=240 fill=#f59721 /><rect x=324 y=240 fill=#f38c24 /><rect x=336 y=240 fill=#f17d25 /><rect x=348 y=240 fill=#ef6927 /><rect x=360 y=240 fill=#ec4228 /><rect x=372 y=240 fill=#ec1d25 /><rect x=384 y=240 fill=#ec1d25 /><rect x=396 y=240 fill=#ec1d25 /><rect x=408 y=240 fill=#ec1d25 /><rect x=420 y=240 fill=#ec1d25 /><rect x=432 y=240 fill=#ec1d25 /><rect x=444 y=240 fill=#ec1d25 /><rect x=456 y=240 fill=#ec1d25 /><rect x=-12 y=252 fill=#6ab945 /><rect x=0 y=252 fill=#6ab945 /><rect x=12 y=252 fill=#6ab945 /><rect x=24 y=252 fill=#6ab944 /><rect x=36 y=252 fill=#6ab944 /><rect x=48 y=252 fill=#f5e314 /><rect x=60 y=252 fill=#f5e314 /><rect x=72 y=252 fill=#f5e213 /><rect x=84 y=252 fill=#f6e213 /><rect x=96 y=252 fill=#f6e112 /><rect x=108 y=252 fill=#f7e011 /><rect x=120 y=252 fill=#f8de10 /><rect x=132 y=252 fill=#f9da0e /><rect x=144 y=252 fill=#fad60b /><rect x=156 y=252 fill=#fcd108 /><rect x=168 y=252 fill=#fdc909 /><rect x=180 y=252 fill=#fcc00f /><rect x=192 y=252 fill=#fbb913 /><rect x=204 y=252 fill=#fbb615 /><rect x=216 y=252 fill=#fab416 /><rect x=228 y=252 fill=#fab316 /><rect x=240 y=252 fill=#fab117 /><rect x=252 y=252 fill=#f9ae19 /><rect x=264 y=252 fill=#f9ac1a /><rect x=276 y=252 fill=#f8a91b /><rect x=288 y=252 fill=#f8a51d /><rect x=300 y=252 fill=#f7a01f /><rect x=312 y=252 fill=#f59920 /><rect x=324 y=252 fill=#f48f23 /><rect x=336 y=252 fill=#f28125 /><rect x=348 y=252 fill=#f06d26 /><rect x=360 y=252 fill=#ed4728 /><rect x=372 y=252 fill=#ec2125 /><rect x=384 y=252 fill=#ec1d25 /><rect x=396 y=252 fill=#ec1d25 /><rect x=408 y=252 fill=#ec1d25 /><rect x=420 y=252 fill=#ec1d25 /><rect x=432 y=252 fill=#ec1d25 /><rect x=444 y=252 fill=#ec1d25 /><rect x=456 y=252 fill=#ec1d25 /><rect x=-12 y=264 fill=#6ab945 /><rect x=0 y=264 fill=#6ab945 /><rect x=12 y=264 fill=#6ab945 /><rect x=24 y=264 fill=#6ab945 /><rect x=36 y=264 fill=#6ab944 /><rect x=48 y=264 fill=#f4e515 /><rect x=60 y=264 fill=#f4e415 /><rect x=72 y=264 fill=#f5e415 /><rect x=84 y=264 fill=#f5e314 /><rect x=96 y=264 fill=#f6e213 /><rect x=108 y=264 fill=#f6e112 /><rect x=120 y=264 fill=#f7df11 /><rect x=132 y=264 fill=#f8dc0f /><rect x=144 y=264 fill=#fad90d /><rect x=156 y=264 fill=#fbd40a /><rect x=168 y=264 fill=#fdcd07 /><rect x=180 y=264 fill=#fcc40c /><rect x=192 y=264 fill=#fbbd11 /><rect x=204 y=264 fill=#fbba13 /><rect x=216 y=264 fill=#fbb714 /><rect x=228 y=264 fill=#fab515 /><rect x=240 y=264 fill=#fab316 /><rect x=252 y=264 fill=#fab017 /><rect x=264 y=264 fill=#f9ae19 /><rect x=276 y=264 fill=#f9ab1a /><rect x=288 y=264 fill=#f8a71c /><rect x=300 y=264 fill=#f7a31e /><rect x=312 y=264 fill=#f69c20 /><rect x=324 y=264 fill=#f49222 /><rect x=336 y=264 fill=#f28525 /><rect x=348 y=264 fill=#f07126 /><rect x=360 y=264 fill=#ed4c28 /><rect x=372 y=264 fill=#ec2325 /><rect x=384 y=264 fill=#ec1d25 /><rect x=396 y=264 fill=#ec1d25 /><rect x=408 y=264 fill=#ec1d25 /><rect x=420 y=264 fill=#ec1d25 /><rect x=432 y=264 fill=#ec1d25 /><rect x=444 y=264 fill=#ec1d25 /><rect x=456 y=264 fill=#ec1d25 /><rect x=-12 y=276 fill=#6ab945 /><rect x=0 y=276 fill=#6ab945 /><rect x=12 y=276 fill=#6ab945 /><rect x=24 y=276 fill=#6ab945 /><rect x=36 y=276 fill=#6ab945 /><rect x=48 y=276 fill=#f3e616 /><rect x=60 y=276 fill=#f4e516 /><rect x=72 y=276 fill=#f4e515 /><rect x=84 y=276 fill=#f4e415 /><rect x=96 y=276 fill=#f5e314 /><rect x=108 y=276 fill=#f6e213 /><rect x=120 y=276 fill=#f7e012 /><rect x=132 y=276 fill=#f8de10 /><rect x=144 y=276 fill=#f9db0e /><rect x=156 y=276 fill=#fad60b /><rect x=168 y=276 fill=#fcd007 /><rect x=180 y=276 fill=#fdc909 /><rect x=192 y=276 fill=#fcc20e /><rect x=204 y=276 fill=#fcbe10 /><rect x=216 y=276 fill=#fbbc12 /><rect x=228 y=276 fill=#fbb913 /><rect x=240 y=276 fill=#fbb715 /><rect x=252 y=276 fill=#fab416 /><rect x=264 y=276 fill=#fab217 /><rect x=276 y=276 fill=#f9af18 /><rect x=288 y=276 fill=#f9ab1a /><rect x=300 y=276 fill=#f8a61c /><rect x=312 y=276 fill=#f79f1f /><rect x=324 y=276 fill=#f59521 /><rect x=336 y=276 fill=#f38824 /><rect x=348 y=276 fill=#f07426 /><rect x=360 y=276 fill=#ed5028 /><rect x=372 y=276 fill=#ec2626 /><rect x=384 y=276 fill=#ec1d25 /><rect x=396 y=276 fill=#ec1d25 /><rect x=408 y=276 fill=#ec1d25 /><rect x=420 y=276 fill=#ec1d25 /><rect x=432 y=276 fill=#ec1d25 /><rect x=444 y=276 fill=#ec1d25 /><rect x=456 y=276 fill=#ec1d25 /><rect x=-12 y=288 fill=#6ab945 /><rect x=0 y=288 fill=#6ab945 /><rect x=12 y=288 fill=#6ab945 /><rect x=24 y=288 fill=#6ab945 /><rect x=36 y=288 fill=#6ab945 /><rect x=48 y=288 fill=#f3e717 /><rect x=60 y=288 fill=#f3e617 /><rect x=72 y=288 fill=#f4e516 /><rect x=84 y=288 fill=#f4e515 /><rect x=96 y=288 fill=#f5e415 /><rect x=108 y=288 fill=#f5e214 /><rect x=120 y=288 fill=#f6e112 /><rect x=132 y=288 fill=#f7df11 /><rect x=144 y=288 fill=#f8dd0f /><rect x=156 y=288 fill=#fad90d /><rect x=168 y=288 fill=#fbd309 /><rect x=180 y=288 fill=#fdce06 /><rect x=192 y=288 fill=#fcc80a /><rect x=204 y=288 fill=#fcc40c /><rect x=216 y=288 fill=#fcc10e /><rect x=228 y=288 fill=#fcbe10 /><rect x=240 y=288 fill=#fbbb12 /><rect x=252 y=288 fill=#fbb814 /><rect x=264 y=288 fill=#fbb615 /><rect x=276 y=288 fill=#fab316 /><rect x=288 y=288 fill=#f9af18 /><rect x=300 y=288 fill=#f9ab1a /><rect x=312 y=288 fill=#f7a31e /><rect x=324 y=288 fill=#f59921 /><rect x=336 y=288 fill=#f38c24 /><rect x=348 y=288 fill=#f17826 /><rect x=360 y=288 fill=#ee5528 /><rect x=372 y=288 fill=#ec2926 /><rect x=384 y=288 fill=#ec1d25 /><rect x=396 y=288 fill=#ec1d25 /><rect x=408 y=288 fill=#ec1d25 /><rect x=420 y=288 fill=#ec1d25 /><rect x=432 y=288 fill=#ec1d25 /><rect x=444 y=288 fill=#ec1d25 /><rect x=456 y=288 fill=#ec1d25 /><rect x=-12 y=300 fill=#6ab945 /><rect x=0 y=300 fill=#6ab945 /><rect x=12 y=300 fill=#6ab945 /><rect x=24 y=300 fill=#6ab945 /><rect x=36 y=300 fill=#6ab945 /><rect x=48 y=300 fill=#f2e818 /><rect x=60 y=300 fill=#f3e717 /><rect x=72 y=300 fill=#f3e616 /><rect x=84 y=300 fill=#f4e515 /><rect x=96 y=300 fill=#f5e415 /><rect x=108 y=300 fill=#f5e314 /><rect x=120 y=300 fill=#f6e213 /><rect x=132 y=300 fill=#f7e012 /><rect x=144 y=300 fill=#f8df10 /><rect x=156 y=300 fill=#f9db0e /><rect x=168 y=300 fill=#fad60b /><rect x=180 y=300 fill=#fcd208 /><rect x=192 y=300 fill=#fdcd07 /><rect x=204 y=300 fill=#fdc909 /><rect x=216 y=300 fill=#fcc60b /><rect x=228 y=300 fill=#fcc30d /><rect x=240 y=300 fill=#fcc00f /><rect x=252 y=300 fill=#fbbd11 /><rect x=264 y=300 fill=#fbba13 /><rect x=276 y=300 fill=#fbb714 /><rect x=288 y=300 fill=#fab316 /><rect x=300 y=300 fill=#f9ae18 /><rect x=312 y=300 fill=#f8a71c /><rect x=324 y=300 fill=#f69d1f /><rect x=336 y=300 fill=#f49023 /><rect x=348 y=300 fill=#f17d25 /><rect x=360 y=300 fill=#ee5b28 /><rect x=372 y=300 fill=#ec2f26 /><rect x=384 y=300 fill=#ec1d25 /><rect x=396 y=300 fill=#ec1d25 /><rect x=408 y=300 fill=#ec1d25 /><rect x=420 y=300 fill=#ec1d25 /><rect x=432 y=300 fill=#ec1d25 /><rect x=444 y=300 fill=#ec1d25 /><rect x=456 y=300 fill=#ec1d25 /><rect x=-12 y=312 fill=#6ab945 /><rect x=0 y=312 fill=#6ab945 /><rect x=12 y=312 fill=#6ab945 /><rect x=24 y=312 fill=#6ab945 /><rect x=36 y=312 fill=#6ab945 /><rect x=48 y=312 fill=#6ab945 /><rect x=60 y=312 fill=#f2e718 /><rect x=72 y=312 fill=#f3e616 /><rect x=84 y=312 fill=#f4e516 /><rect x=96 y=312 fill=#f4e415 /><rect x=108 y=312 fill=#f5e314 /><rect x=120 y=312 fill=#f6e213 /><rect x=132 y=312 fill=#f6e112 /><rect x=144 y=312 fill=#f7e011 /><rect x=156 y=312 fill=#f8de10 /><rect x=168 y=312 fill=#f9da0d /><rect x=180 y=312 fill=#fbd60b /><rect x=192 y=312 fill=#fcd209 /><rect x=204 y=312 fill=#fcd007 /><rect x=216 y=312 fill=#fdcd07 /><rect x=228 y=312 fill=#fdca09 /><rect x=240 y=312 fill=#fcc70b /><rect x=252 y=312 fill=#fcc30d /><rect x=264 y=312 fill=#fcc00f /><rect x=276 y=312 fill=#fbbc11 /><rect x=288 y=312 fill=#fbb814 /><rect x=300 y=312 fill=#fab217 /><rect x=312 y=312 fill=#f9ab1a /><rect x=324 y=312 fill=#f7a11e /><rect x=336 y=312 fill=#f59621 /><rect x=348 y=312 fill=#f28525 /><rect x=360 y=312 fill=#ef6527 /><rect x=372 y=312 fill=#ec3b28 /><rect x=384 y=312 fill=#ec1d25 /><rect x=396 y=312 fill=#ec1d25 /><rect x=408 y=312 fill=#ec1d25 /><rect x=420 y=312 fill=#ec1d25 /><rect x=432 y=312 fill=#ec1d25 /><rect x=444 y=312 fill=#ec1d25 /><rect x=456 y=312 fill=#ec1d25 /><rect x=-12 y=324 fill=#6ab945 /><rect x=0 y=324 fill=#6ab945 /><rect x=12 y=324 fill=#6ab945 /><rect x=24 y=324 fill=#6ab945 /><rect x=36 y=324 fill=#6ab945 /><rect x=48 y=324 fill=#6ab945 /><rect x=60 y=324 fill=#f2e818 /><rect x=72 y=324 fill=#f3e617 /><rect x=84 y=324 fill=#f4e516 /><rect x=96 y=324 fill=#f4e415 /><rect x=108 y=324 fill=#f5e314 /><rect x=120 y=324 fill=#f5e213 /><rect x=132 y=324 fill=#f6e213 /><rect x=144 y=324 fill=#f6e112 /><rect x=156 y=324 fill=#f7df11 /><rect x=168 y=324 fill=#f8dd10 /><rect x=180 y=324 fill=#f9db0e /><rect x=192 y=324 fill=#fad80c /><rect x=204 y=324 fill=#fbd50b /><rect x=216 y=324 fill=#fbd309 /><rect x=228 y=324 fill=#fcd108 /><rect x=240 y=324 fill=#fdce06 /><rect x=252 y=324 fill=#fdca09 /><rect x=264 y=324 fill=#fcc60b /><rect x=276 y=324 fill=#fcc20e /><rect x=288 y=324 fill=#fbbc11 /><rect x=300 y=324 fill=#fbb615 /><rect x=312 y=324 fill=#f9af18 /><rect x=324 y=324 fill=#f8a71c /><rect x=336 y=324 fill=#f69c20 /><rect x=348 y=324 fill=#f38d24 /><rect x=360 y=324 fill=#f06f26 /><rect x=372 y=324 fill=#ed4828 /><rect x=384 y=324 fill=#ec2626 /><rect x=396 y=324 fill=#ec1d25 /><rect x=408 y=324 fill=#ec1d25 /><rect x=420 y=324 fill=#ec1d25 /><rect x=432 y=324 fill=#ec1d25 /><rect x=444 y=324 fill=#ec1d25 /><rect x=456 y=324 fill=#ec1d25 /><rect x=-12 y=336 fill=#6ab945 /><rect x=0 y=336 fill=#6ab945 /><rect x=12 y=336 fill=#6ab945 /><rect x=24 y=336 fill=#6ab945 /><rect x=36 y=336 fill=#6ab945 /><rect x=48 y=336 fill=#6ab945 /><rect x=60 y=336 fill=#f0e719 /><rect x=72 y=336 fill=#f3e617 /><rect x=84 y=336 fill=#f4e516 /><rect x=96 y=336 fill=#f4e415 /><rect x=108 y=336 fill=#f5e314 /><rect x=120 y=336 fill=#f5e314 /><rect x=132 y=336 fill=#f6e213 /><rect x=144 y=336 fill=#f6e213 /><rect x=156 y=336 fill=#f6e112 /><rect x=168 y=336 fill=#f7e011 /><rect x=180 y=336 fill=#f8de10 /><rect x=192 y=336 fill=#f9dc0f /><rect x=204 y=336 fill=#f9da0e /><rect x=216 y=336 fill=#fad80c /><rect x=228 y=336 fill=#fbd60b /><rect x=240 y=336 fill=#fbd309 /><rect x=252 y=336 fill=#fcd007 /><rect x=264 y=336 fill=#fdcc07 /><rect x=276 y=336 fill=#fcc70b /><rect x=288 y=336 fill=#fcc10e /><rect x=300 y=336 fill=#fbbb12 /><rect x=312 y=336 fill=#fab316 /><rect x=324 y=336 fill=#f9ab1a /><rect x=336 y=336 fill=#f7a11e /><rect x=348 y=336 fill=#f49222 /><rect x=360 y=336 fill=#f17726 /><rect x=372 y=336 fill=#ed5228 /><rect x=384 y=336 fill=#ec2d26 /><rect x=396 y=336 fill=#ec1d25 /><rect x=408 y=336 fill=#ec1d25 /><rect x=420 y=336 fill=#ec1d25 /><rect x=432 y=336 fill=#ec1d25 /><rect x=444 y=336 fill=#ec1d25 /><rect x=456 y=336 fill=#ec1d25 /><rect x=-12 y=348 fill=#6ab945 /><rect x=0 y=348 fill=#6ab945 /><rect x=12 y=348 fill=#6ab945 /><rect x=24 y=348 fill=#6ab945 /><rect x=36 y=348 fill=#6ab945 /><rect x=48 y=348 fill=#6ab945 /><rect x=60 y=348 fill=#6ab944 /><rect x=72 y=348 fill=#f3e717 /><rect x=84 y=348 fill=#f4e516 /><rect x=96 y=348 fill=#f4e415 /><rect x=108 y=348 fill=#f5e314 /><rect x=120 y=348 fill=#f5e314 /><rect x=132 y=348 fill=#f5e314 /><rect x=144 y=348 fill=#f5e213 /><rect x=156 y=348 fill=#f6e213 /><rect x=168 y=348 fill=#f6e112 /><rect x=180 y=348 fill=#f7e011 /><rect x=192 y=348 fill=#f8df11 /><rect x=204 y=348 fill=#f8dd10 /><rect x=216 y=348 fill=#f9db0e /><rect x=228 y=348 fill=#fad90d /><rect x=240 y=348 fill=#fad60b /><rect x=252 y=348 fill=#fbd309 /><rect x=264 y=348 fill=#fcd007 /><rect x=276 y=348 fill=#fdcc08 /><rect x=288 y=348 fill=#fcc60b /><rect x=300 y=348 fill=#fcbf10 /><rect x=312 y=348 fill=#fbb714 /><rect x=324 y=348 fill=#f9ae19 /><rect x=336 y=348 fill=#f7a21e /><rect x=348 y=348 fill=#f49422 /><rect x=360 y=348 fill=#f17826 /><rect x=372 y=348 fill=#ee5528 /><rect x=384 y=348 fill=#ec2f26 /><rect x=396 y=348 fill=#ec1d25 /><rect x=408 y=348 fill=#ec1d25 /><rect x=420 y=348 fill=#ec1d25 /><rect x=432 y=348 fill=#ec1d25 /><rect x=444 y=348 fill=#ec1d25 /><rect x=456 y=348 fill=#ec1d25 /><rect x=-12 y=360 fill=#6ab945 /><rect x=0 y=360 fill=#6ab945 /><rect x=12 y=360 fill=#6ab945 /><rect x=24 y=360 fill=#6ab945 /><rect x=36 y=360 fill=#6ab945 /><rect x=48 y=360 fill=#6ab945 /><rect x=60 y=360 fill=#6ab944 /><rect x=72 y=360 fill=#f2e818 /><rect x=84 y=360 fill=#f3e616 /><rect x=96 y=360 fill=#f4e415 /><rect x=108 y=360 fill=#f4e415 /><rect x=120 y=360 fill=#f5e414 /><rect x=132 y=360 fill=#f5e314 /><rect x=144 y=360 fill=#f5e314 /><rect x=156 y=360 fill=#f6e213 /><rect x=168 y=360 fill=#f6e113 /><rect x=180 y=360 fill=#f6e112 /><rect x=192 y=360 fill=#f7e011 /><rect x=204 y=360 fill=#f7df11 /><rect x=216 y=360 fill=#f8de10 /><rect x=228 y=360 fill=#f9dc0f /><rect x=240 y=360 fill=#f9d90d /><rect x=252 y=360 fill=#fad70b /><rect x=264 y=360 fill=#fbd309 /><rect x=276 y=360 fill=#fdd007 /><rect x=288 y=360 fill=#fdca09 /><rect x=300 y=360 fill=#fcc30d /><rect x=312 y=360 fill=#fbba13 /><rect x=324 y=360 fill=#f9af18 /><rect x=336 y=360 fill=#f7a21e /><rect x=348 y=360 fill=#f49222 /><rect x=360 y=360 fill=#f07526 /><rect x=372 y=360 fill=#ed5128 /><rect x=384 y=360 fill=#ec2d26 /><rect x=396 y=360 fill=#ec1d25 /><rect x=408 y=360 fill=#ec1d25 /><rect x=420 y=360 fill=#ec1d25 /><rect x=432 y=360 fill=#ec1d25 /><rect x=444 y=360 fill=#ec1d25 /><rect x=456 y=360 fill=#ec1d25 /><rect x=-12 y=372 fill=#6ab945 /><rect x=0 y=372 fill=#6ab945 /><rect x=12 y=372 fill=#6ab945 /><rect x=24 y=372 fill=#6ab945 /><rect x=36 y=372 fill=#6ab945 /><rect x=48 y=372 fill=#6ab945 /><rect x=60 y=372 fill=#6ab944 /><rect x=72 y=372 fill=#ede61a /><rect x=84 y=372 fill=#f3e717 /><rect x=96 y=372 fill=#f4e516 /><rect x=108 y=372 fill=#f4e515 /><rect x=120 y=372 fill=#f4e415 /><rect x=132 y=372 fill=#f5e414 /><rect x=144 y=372 fill=#f5e314 /><rect x=156 y=372 fill=#f5e314 /><rect x=168 y=372 fill=#f6e213 /><rect x=180 y=372 fill=#f6e113 /><rect x=192 y=372 fill=#f6e112 /><rect x=204 y=372 fill=#f7e012 /><rect x=216 y=372 fill=#f7df11 /><rect x=228 y=372 fill=#f8de10 /><rect x=240 y=372 fill=#f9dc0f /><rect x=252 y=372 fill=#f9da0d /><rect x=264 y=372 fill=#fad60b /><rect x=276 y=372 fill=#fcd309 /><rect x=288 y=372 fill=#fdce06 /><rect x=300 y=372 fill=#fcc70a /><rect x=312 y=372 fill=#fbbd11 /><rect x=324 y=372 fill=#fab017 /><rect x=336 y=372 fill=#f7a21e /><rect x=348 y=372 fill=#f49023 /><rect x=360 y=372 fill=#f07126 /><rect x=372 y=372 fill=#ed4c28 /><rect x=384 y=372 fill=#ec2a26 /><rect x=396 y=372 fill=#ec1d25 /><rect x=408 y=372 fill=#ec1d25 /><rect x=420 y=372 fill=#ec1d25 /><rect x=432 y=372 fill=#ec1d25 /><rect x=444 y=372 fill=#ec1d25 /><rect x=456 y=372 fill=#ec1d25 /><rect x=-12 y=384 fill=#6ab945 /><rect x=0 y=384 fill=#6ab945 /><rect x=12 y=384 fill=#6ab945 /><rect x=24 y=384 fill=#6ab945 /><rect x=36 y=384 fill=#6ab945 /><rect x=48 y=384 fill=#6ab945 /><rect x=60 y=384 fill=#6ab944 /><rect x=72 y=384 fill=#e3e21e /><rect x=84 y=384 fill=#f1e818 /><rect x=96 y=384 fill=#f3e617 /><rect x=108 y=384 fill=#f4e516 /><rect x=120 y=384 fill=#f4e515 /><rect x=132 y=384 fill=#f4e415 /><rect x=144 y=384 fill=#f5e414 /><rect x=156 y=384 fill=#f5e314 /><rect x=168 y=384 fill=#f5e314 /><rect x=180 y=384 fill=#f6e213 /><rect x=192 y=384 fill=#f6e213 /><rect x=204 y=384 fill=#f6e112 /><rect x=216 y=384 fill=#f7e012 /><rect x=228 y=384 fill=#f7df11 /><rect x=240 y=384 fill=#f8de10 /><rect x=252 y=384 fill=#f9dc0f /><rect x=264 y=384 fill=#fad90d /><rect x=276 y=384 fill=#fbd50b /><rect x=288 y=384 fill=#fcd108 /><rect x=300 y=384 fill=#fdcb08 /><rect x=312 y=384 fill=#fcc00f /><rect x=324 y=384 fill=#fab217 /><rect x=336 y=384 fill=#f7a21e /><rect x=348 y=384 fill=#f38e23 /><rect x=360 y=384 fill=#f06d26 /><rect x=372 y=384 fill=#ed4728 /><rect x=384 y=384 fill=#ec2826 /><rect x=396 y=384 fill=#ec1d25 /><rect x=408 y=384 fill=#ec1d25 /><rect x=420 y=384 fill=#ec1d25 /><rect x=432 y=384 fill=#ec1d25 /><rect x=444 y=384 fill=#ec1d25 /><rect x=456 y=384 fill=#ec1d25 /><rect x=-12 y=396 fill=#6ab945 /><rect x=0 y=396 fill=#6ab945 /><rect x=12 y=396 fill=#6ab945 /><rect x=24 y=396 fill=#6ab945 /><rect x=36 y=396 fill=#6ab945 /><rect x=48 y=396 fill=#6ab944 /><rect x=60 y=396 fill=#6ab944 /><rect x=72 y=396 fill=#d6dd23 /><rect x=84 y=396 fill=#e6e31d /><rect x=96 y=396 fill=#f1e818 /><rect x=108 y=396 fill=#f3e717 /><rect x=120 y=396 fill=#f3e616 /><rect x=132 y=396 fill=#f4e515 /><rect x=144 y=396 fill=#f4e415 /><rect x=156 y=396 fill=#f5e414 /><rect x=168 y=396 fill=#f5e314 /><rect x=180 y=396 fill=#f5e314 /><rect x=192 y=396 fill=#f5e213 /><rect x=204 y=396 fill=#f6e213 /><rect x=216 y=396 fill=#f6e112 /><rect x=228 y=396 fill=#f7e011 /><rect x=240 y=396 fill=#f8de10 /><rect x=252 y=396 fill=#f8dd0f /><rect x=264 y=396 fill=#f9da0e /><rect x=276 y=396 fill=#fad70c /><rect x=288 y=396 fill=#fbd40a /><rect x=300 y=396 fill=#fdcf06 /><rect x=312 y=396 fill=#fcc40d /><rect x=324 y=396 fill=#fab416 /><rect x=336 y=396 fill=#f7a21e /><rect x=348 y=396 fill=#f38e24 /><rect x=360 y=396 fill=#f06c26 /><rect x=372 y=396 fill=#ec4628 /><rect x=384 y=396 fill=#ec2826 /><rect x=396 y=396 fill=#ec1d25 /><rect x=408 y=396 fill=#ec1d25 /><rect x=420 y=396 fill=#ec1d25 /><rect x=432 y=396 fill=#ec1d25 /><rect x=444 y=396 fill=#ec1d25 /><rect x=456 y=396 fill=#ec1d25 /><rect x=-12 y=408 fill=#6ab945 /><rect x=0 y=408 fill=#6ab945 /><rect x=12 y=408 fill=#6ab945 /><rect x=24 y=408 fill=#6ab944 /><rect x=36 y=408 fill=#6cb944 /><rect x=48 y=408 fill=#6fba43 /><rect x=60 y=408 fill=#72bb42 /><rect x=72 y=408 fill=#b2cf31 /><rect x=84 y=408 fill=#c6d729 /><rect x=96 y=408 fill=#d3dc24 /><rect x=108 y=408 fill=#e2e21e /><rect x=120 y=408 fill=#f1e818 /><rect x=132 y=408 fill=#f3e616 /><rect x=144 y=408 fill=#f4e415 /><rect x=156 y=408 fill=#f4e415 /><rect x=168 y=408 fill=#f5e414 /><rect x=180 y=408 fill=#f5e314 /><rect x=192 y=408 fill=#f5e314 /><rect x=204 y=408 fill=#f6e213 /><rect x=216 y=408 fill=#f6e112 /><rect x=228 y=408 fill=#f7e011 /><rect x=240 y=408 fill=#f8de10 /><rect x=252 y=408 fill=#f8dd0f /><rect x=264 y=408 fill=#f9db0e /><rect x=276 y=408 fill=#fad90d /><rect x=288 y=408 fill=#fbd60b /><rect x=300 y=408 fill=#fcd208 /><rect x=312 y=408 fill=#fdc909 /><rect x=324 y=408 fill=#fbba13 /><rect x=336 y=408 fill=#f8a91b /><rect x=348 y=408 fill=#f59721 /><rect x=360 y=408 fill=#f17a25 /><rect x=372 y=408 fill=#ee5928 /><rect x=384 y=408 fill=#ec3927 /><rect x=396 y=408 fill=#ec2726 /><rect x=408 y=408 fill=#ec1e25 /><rect x=420 y=408 fill=#ec1d25 /><rect x=432 y=408 fill=#ec1d25 /><rect x=444 y=408 fill=#ec1d25 /><rect x=456 y=408 fill=#ec1d25 /><rect x=-12 y=420 fill=#6ab947 /><rect x=0 y=420 fill=#6ab946 /><rect x=12 y=420 fill=#6ab946 /><rect x=24 y=420 fill=#6ab945 /><rect x=36 y=420 fill=#6ab944 /><rect x=48 y=420 fill=#6cba44 /><rect x=60 y=420 fill=#71bb43 /><rect x=72 y=420 fill=#81bf3f /><rect x=84 y=420 fill=#8dc33c /><rect x=96 y=420 fill=#99c739 /><rect x=108 y=420 fill=#bad22e /><rect x=120 y=420 fill=#dcdf21 /><rect x=132 y=420 fill=#f3e717 /><rect x=144 y=420 fill=#f4e515 /><rect x=156 y=420 fill=#f4e415 /><rect x=168 y=420 fill=#f4e415 /><rect x=180 y=420 fill=#f5e414 /><rect x=192 y=420 fill=#f5e314 /><rect x=204 y=420 fill=#f5e213 /><rect x=216 y=420 fill=#f6e112 /><rect x=228 y=420 fill=#f7e011 /><rect x=240 y=420 fill=#f8de10 /><rect x=252 y=420 fill=#f8dd0f /><rect x=264 y=420 fill=#f9db0e /><rect x=276 y=420 fill=#f9da0d /><rect x=288 y=420 fill=#fad80c /><rect x=300 y=420 fill=#fbd40a /><rect x=312 y=420 fill=#fdcf06 /><rect x=324 y=420 fill=#fcc40d /><rect x=336 y=420 fill=#fbb615 /><rect x=348 y=420 fill=#f8a81b /><rect x=360 y=420 fill=#f59422 /><rect x=372 y=420 fill=#f17b25 /><rect x=384 y=420 fill=#ef6027 /><rect x=396 y=420 fill=#ed4928 /><rect x=408 y=420 fill=#ec3127 /><rect x=420 y=420 fill=#ec1d25 /><rect x=432 y=420 fill=#ec1d25 /><rect x=444 y=420 fill=#ec1d25 /><rect x=456 y=420 fill=#ec1d25 /><rect x=-12 y=432 fill=#6aba4f /><rect x=0 y=432 fill=#6ab94a /><rect x=12 y=432 fill=#6ab947 /><rect x=24 y=432 fill=#6ab947 /><rect x=36 y=432 fill=#6ab946 /><rect x=48 y=432 fill=#6ab945 /><rect x=60 y=432 fill=#6ab945 /><rect x=72 y=432 fill=#6ab944 /><rect x=84 y=432 fill=#70bb43 /><rect x=96 y=432 fill=#76bc41 /><rect x=108 y=432 fill=#8cc33d /><rect x=120 y=432 fill=#c4d62a /><rect x=132 y=432 fill=#eee61a /><rect x=144 y=432 fill=#f4e516 /><rect x=156 y=432 fill=#f4e515 /><rect x=168 y=432 fill=#f4e415 /><rect x=180 y=432 fill=#f4e415 /><rect x=192 y=432 fill=#f5e314 /><rect x=204 y=432 fill=#f5e314 /><rect x=216 y=432 fill=#f6e113 /><rect x=228 y=432 fill=#f7e011 /><rect x=240 y=432 fill=#f8de10 /><rect x=252 y=432 fill=#f8dd0f /><rect x=264 y=432 fill=#f9dc0f /><rect x=276 y=432 fill=#f9db0e /><rect x=288 y=432 fill=#f9d90d /><rect x=300 y=432 fill=#fad70c /><rect x=312 y=432 fill=#fbd309 /><rect x=324 y=432 fill=#fdcd06 /><rect x=336 y=432 fill=#fcc40c /><rect x=348 y=432 fill=#fbba13 /><rect x=360 y=432 fill=#f9ad19 /><rect x=372 y=432 fill=#f69d1f /><rect x=384 y=432 fill=#f38b24 /><rect x=396 y=432 fill=#f07326 /><rect x=408 y=432 fill=#ed5228 /><rect x=420 y=432 fill=#ec2826 /><rect x=432 y=432 fill=#ec1d25 /><rect x=444 y=432 fill=#ec1d25 /><rect x=456 y=432 fill=#ec1d25 /><rect x=-12 y=444 fill=#6cbc64 /><rect x=0 y=444 fill=#6bbc60 /><rect x=12 y=444 fill=#6bbb57 /><rect x=24 y=444 fill=#6aba4e /><rect x=36 y=444 fill=#6ab948 /><rect x=48 y=444 fill=#6ab947 /><rect x=60 y=444 fill=#6ab947 /><rect x=72 y=444 fill=#6ab946 /><rect x=84 y=444 fill=#6ab945 /><rect x=96 y=444 fill=#6ab944 /><rect x=108 y=444 fill=#77bd41 /><rect x=120 y=444 fill=#a7cb35 /><rect x=132 y=444 fill=#e3e21e /><rect x=144 y=444 fill=#f3e616 /><rect x=156 y=444 fill=#f4e516 /><rect x=168 y=444 fill=#f4e516 /><rect x=180 y=444 fill=#f4e515 /><rect x=192 y=444 fill=#f4e415 /><rect x=204 y=444 fill=#f5e314 /><rect x=216 y=444 fill=#f6e113 /><rect x=228 y=444 fill=#f7e011 /><rect x=240 y=444 fill=#f8de10 /><rect x=252 y=444 fill=#f8dd10 /><rect x=264 y=444 fill=#f8dd0f /><rect x=276 y=444 fill=#f9dc0f /><rect x=288 y=444 fill=#f9db0e /><rect x=300 y=444 fill=#f9da0d /><rect x=312 y=444 fill=#fad70c /><rect x=324 y=444 fill=#fbd309 /><rect x=336 y=444 fill=#fdce06 /><rect x=348 y=444 fill=#fcc70a /><rect x=360 y=444 fill=#fcbe10 /><rect x=372 y=444 fill=#fab316 /><rect x=384 y=444 fill=#f7a41d /><rect x=396 y=444 fill=#f49123 /><rect x=408 y=444 fill=#f06d26 /><rect x=420 y=444 fill=#ec3827 /><rect x=432 y=444 fill=#ec1d25 /><rect x=444 y=444 fill=#ec1d25 /><rect x=456 y=444 fill=#ec1d25 /><rect x=-12 y=456 fill=#6cbe75 /><rect x=0 y=456 fill=#6cbd6f /><rect x=12 y=456 fill=#6cbc66 /><rect x=24 y=456 fill=#6bbb5d /><rect x=36 y=456 fill=#6bba55 /><rect x=48 y=456 fill=#6ab94c /><rect x=60 y=456 fill=#6ab948 /><rect x=72 y=456 fill=#6ab947 /><rect x=84 y=456 fill=#6ab947 /><rect x=96 y=456 fill=#6ab946 /><rect x=108 y=456 fill=#6eba43 /><rect x=120 y=456 fill=#91c43b /><rect x=132 y=456 fill=#d4dc24 /><rect x=144 y=456 fill=#f2e818 /><rect x=156 y=456 fill=#f3e717 /><rect x=168 y=456 fill=#f3e717 /><rect x=180 y=456 fill=#f3e617 /><rect x=192 y=456 fill=#f3e616 /><rect x=204 y=456 fill=#f4e515 /><rect x=216 y=456 fill=#f5e314 /><rect x=228 y=456 fill=#f6e112 /><rect x=240 y=456 fill=#f7e011 /><rect x=252 y=456 fill=#f7df11 /><rect x=264 y=456 fill=#f7df11 /><rect x=276 y=456 fill=#f8df11 /><rect x=288 y=456 fill=#f8de10 /><rect x=300 y=456 fill=#f8dd0f /><rect x=312 y=456 fill=#f9db0e /><rect x=324 y=456 fill=#fad70c /><rect x=336 y=456 fill=#fcd309 /><rect x=348 y=456 fill=#fdce06 /><rect x=360 y=456 fill=#fcc70b /><rect x=372 y=456 fill=#fbbd11 /><rect x=384 y=456 fill=#fab117 /><rect x=396 y=456 fill=#f7a11e /><rect x=408 y=456 fill=#f28225 /><rect x=420 y=456 fill=#ed4f28 /><rect x=432 y=456 fill=#ec1d25 /><rect x=444 y=456 fill=#ec1d25 /><rect x=456 y=456 fill=#ec1d25 /><rect x=-12 y=468 fill=#6dbf87 /><rect x=0 y=468 fill=#6dbe81 /><rect x=12 y=468 fill=#6cbd75 /><rect x=24 y=468 fill=#6cbd6a /><rect x=36 y=468 fill=#6bbc62 /><rect x=48 y=468 fill=#6bbb5a /><rect x=60 y=468 fill=#6bba53 /><rect x=72 y=468 fill=#6aba4d /><rect x=84 y=468 fill=#6ab948 /><rect x=96 y=468 fill=#6ab947 /><rect x=108 y=468 fill=#6ab945 /><rect x=120 y=468 fill=#81bf3f /><rect x=132 y=468 fill=#c0d42c /><rect x=144 y=468 fill=#e0e11f /><rect x=156 y=468 fill=#e5e31d /><rect x=168 y=468 fill=#e8e41c /><rect x=180 y=468 fill=#eae51b /><rect x=192 y=468 fill=#ede61a /><rect x=204 y=468 fill=#f2e818 /><rect x=216 y=468 fill=#f3e617 /><rect x=228 y=468 fill=#f4e415 /><rect x=240 y=468 fill=#f5e314 /><rect x=252 y=468 fill=#f5e213 /><rect x=264 y=468 fill=#f6e213 /><rect x=276 y=468 fill=#f6e113 /><rect x=288 y=468 fill=#f6e112 /><rect x=300 y=468 fill=#f7e011 /><rect x=312 y=468 fill=#f8de10 /><rect x=324 y=468 fill=#f9da0e /><rect x=336 y=468 fill=#fad60b /><rect x=348 y=468 fill=#fcd209 /><rect x=360 y=468 fill=#fdcd07 /><rect x=372 y=468 fill=#fcc50c /><rect x=384 y=468 fill=#fbbb12 /><rect x=396 y=468 fill=#f9ad19 /><rect x=408 y=468 fill=#f59422 /><rect x=420 y=468 fill=#ef6927 /><rect x=432 y=468 fill=#ec2e26 /><rect x=444 y=468 fill=#ec1d25 /><rect x=456 y=468 fill=#ec1d25 /><rect x=-12 y=480 fill=#6ec096 /><rect x=0 y=480 fill=#6ebf91 /><rect x=12 y=480 fill=#6dbf85 /><rect x=24 y=480 fill=#6dbe79 /><rect x=36 y=480 fill=#6cbd6e /><rect x=48 y=480 fill=#6cbc66 /><rect x=60 y=480 fill=#6bbc60 /><rect x=72 y=480 fill=#6bbb5a /><rect x=84 y=480 fill=#6bba53 /><rect x=96 y=480 fill=#6ab948 /><rect x=108 y=480 fill=#6ab946 /><rect x=120 y=480 fill=#77bc41 /><rect x=132 y=480 fill=#a3ca36 /><rect x=144 y=480 fill=#c8d828 /><rect x=156 y=480 fill=#ceda26 /><rect x=168 y=480 fill=#d2db25 /><rect x=180 y=480 fill=#d5dd23 /><rect x=192 y=480 fill=#d8de22 /><rect x=204 y=480 fill=#dfe020 /><rect x=216 y=480 fill=#e7e41c /><rect x=228 y=480 fill=#f0e719 /><rect x=240 y=480 fill=#f3e717 /><rect x=252 y=480 fill=#f3e616 /><rect x=264 y=480 fill=#f4e516 /><rect x=276 y=480 fill=#f4e415 /><rect x=288 y=480 fill=#f5e314 /><rect x=300 y=480 fill=#f6e213 /><rect x=312 y=480 fill=#f7e011 /><rect x=324 y=480 fill=#f8dd10 /><rect x=336 y=480 fill=#f9da0d /><rect x=348 y=480 fill=#fbd60b /><rect x=360 y=480 fill=#fcd108 /><rect x=372 y=480 fill=#fdcc07 /><rect x=384 y=480 fill=#fcc40d /><rect x=396 y=480 fill=#fbb814 /><rect x=408 y=480 fill=#f7a41d /><rect x=420 y=480 fill=#f28325 /><rect x=432 y=480 fill=#ee5528 /><rect x=444 y=480 fill=#ec2726 /><rect x=456 y=480 fill=#ec2726 /><rect x=-12 y=492 fill=#6fc1a3 /><rect x=0 y=492 fill=#6ec19e /><rect x=12 y=492 fill=#6ec094 /><rect x=24 y=492 fill=#6dbf8a /><rect x=36 y=492 fill=#6dbe80 /><rect x=48 y=492 fill=#6cbe75 /><rect x=60 y=492 fill=#6cbd6d /><rect x=72 y=492 fill=#6cbc68 /><rect x=84 y=492 fill=#6bbc61 /><rect x=96 y=492 fill=#6bba56 /><rect x=108 y=492 fill=#6ab947 /><rect x=120 y=492 fill=#6eba43 /><rect x=132 y=492 fill=#8cc33d /><rect x=144 y=492 fill=#abcd33 /><rect x=156 y=492 fill=#b5d12f /><rect x=168 y=492 fill=#bbd32d /><rect x=180 y=492 fill=#c0d52b /><rect x=192 y=492 fill=#c6d729 /><rect x=204 y=492 fill=#ccd927 /><rect x=216 y=492 fill=#d5dc24 /><rect x=228 y=492 fill=#dde020 /><rect x=240 y=492 fill=#e6e31d /><rect x=252 y=492 fill=#eee61a /><rect x=264 y=492 fill=#f2e718 /><rect x=276 y=492 fill=#f3e616 /><rect x=288 y=492 fill=#f4e515 /><rect x=300 y=492 fill=#f5e314 /><rect x=312 y=492 fill=#f6e113 /><rect x=324 y=492 fill=#f7df11 /><rect x=336 y=492 fill=#f8dd0f /><rect x=348 y=492 fill=#fad90d /><rect x=360 y=492 fill=#fbd50b /><rect x=372 y=492 fill=#fcd108 /><rect x=384 y=492 fill=#fdcb08 /><rect x=396 y=492 fill=#fcc20e /><rect x=408 y=492 fill=#fab117 /><rect x=420 y=492 fill=#f59821 /><rect x=432 y=492 fill=#f07626 /><rect x=444 y=492 fill=#ed4f28 /><rect x=456 y=492 fill=#ed4f28 /><rect x=-12 y=504 fill=#6fc2ae /><rect x=0 y=504 fill=#6fc2aa /><rect x=12 y=504 fill=#6fc1a2 /><rect x=24 y=504 fill=#6ec09a /><rect x=36 y=504 fill=#6ec092 /><rect x=48 y=504 fill=#6dbf8a /><rect x=60 y=504 fill=#6dbf83 /><rect x=72 y=504 fill=#6dbe7c /><rect x=84 y=504 fill=#6cbd72 /><rect x=96 y=504 fill=#6cbc67 /><rect x=108 y=504 fill=#6ab948 /><rect x=120 y=504 fill=#6ab945 /><rect x=132 y=504 fill=#7abe40 /><rect x=144 y=504 fill=#92c43b /><rect x=156 y=504 fill=#9bc739 /><rect x=168 y=504 fill=#a4ca36 /><rect x=180 y=504 fill=#abcd33 /><rect x=192 y=504 fill=#b3d030 /><rect x=204 y=504 fill=#bed42c /><rect x=216 y=504 fill=#c8d828 /><rect x=228 y=504 fill=#d1db25 /><rect x=240 y=504 fill=#dbdf21 /><rect x=252 y=504 fill=#e4e31d /><rect x=264 y=504 fill=#eee61a /><rect x=276 y=504 fill=#f3e717 /><rect x=288 y=504 fill=#f4e516 /><rect x=300 y=504 fill=#f4e415 /><rect x=312 y=504 fill=#f5e214 /><rect x=324 y=504 fill=#f6e112 /><rect x=336 y=504 fill=#f7df11 /><rect x=348 y=504 fill=#f8dd0f /><rect x=360 y=504 fill=#f9da0d /><rect x=372 y=504 fill=#fad60b /><rect x=384 y=504 fill=#fcd208 /><rect x=396 y=504 fill=#fdcb08 /><rect x=408 y=504 fill=#fbbd11 /><rect x=420 y=504 fill=#f8a81b /><rect x=432 y=504 fill=#f48f23 /><rect x=444 y=504 fill=#f06e26 /><rect x=456 y=504 fill=#f06e26 /><rect x=-12 y=516 fill=#70c3b6 /><rect x=0 y=516 fill=#6fc3b4 /><rect x=12 y=516 fill=#6fc2ae /><rect x=24 y=516 fill=#6fc2a9 /><rect x=36 y=516 fill=#6fc1a4 /><rect x=48 y=516 fill=#6ec19f /><rect x=60 y=516 fill=#6ec09a /><rect x=72 y=516 fill=#6ec093 /><rect x=84 y=516 fill=#6dbf8a /><rect x=96 y=516 fill=#6dbe7d /><rect x=108 y=516 fill=#6bbb5b /><rect x=120 y=516 fill=#6ab946 /><rect x=132 y=516 fill=#70bb43 /><rect x=144 y=516 fill=#7ebf40 /><rect x=156 y=516 fill=#89c23d /><rect x=168 y=516 fill=#91c43c /><rect x=180 y=516 fill=#97c63a /><rect x=192 y=516 fill=#a2ca36 /><rect x=204 y=516 fill=#afce32 /><rect x=216 y=516 fill=#bbd32d /><rect x=228 y=516 fill=#c7d729 /><rect x=240 y=516 fill=#d2db25 /><rect x=252 y=516 fill=#dce020 /><rect x=264 y=516 fill=#e8e41c /><rect x=276 y=516 fill=#f2e818 /><rect x=288 y=516 fill=#f3e616 /><rect x=300 y=516 fill=#f4e515 /><rect x=312 y=516 fill=#f5e415 /><rect x=324 y=516 fill=#f5e314 /><rect x=336 y=516 fill=#f6e113 /><rect x=348 y=516 fill=#f7e012 /><rect x=360 y=516 fill=#f8de10 /><rect x=372 y=516 fill=#f9db0e /><rect x=384 y=516 fill=#fad70c /><rect x=396 y=516 fill=#fcd209 /><rect x=408 y=516 fill=#fcc80a /><rect x=420 y=516 fill=#fbb714 /><rect x=432 y=516 fill=#f7a31e /><rect x=444 y=516 fill=#f38c24 /><rect x=456 y=516 fill=#f38c24 /><rect x=-12 y=528 fill=#70c4bf /><rect x=0 y=528 fill=#70c4bd /><rect x=12 y=528 fill=#70c3ba /><rect x=24 y=528 fill=#70c3b8 /><rect x=36 y=528 fill=#6fc3b5 /><rect x=48 y=528 fill=#6fc3b3 /><rect x=60 y=528 fill=#6fc2af /><rect x=72 y=528 fill=#6fc2aa /><rect x=84 y=528 fill=#6ec1a1 /><rect x=96 y=528 fill=#6ec096 /><rect x=108 y=528 fill=#6cbd6e /><rect x=120 y=528 fill=#6ab948 /><rect x=132 y=528 fill=#6ab945 /><rect x=144 y=528 fill=#73bc42 /><rect x=156 y=528 fill=#7abd41 /><rect x=168 y=528 fill=#82c03f /><rect x=180 y=528 fill=#8bc23d /><rect x=192 y=528 fill=#94c53b /><rect x=204 y=528 fill=#a0c937 /><rect x=216 y=528 fill=#aece32 /><rect x=228 y=528 fill=#bdd32d /><rect x=240 y=528 fill=#c9d828 /><rect x=252 y=528 fill=#d6dd23 /><rect x=264 y=528 fill=#e4e21e /><rect x=276 y=528 fill=#f1e818 /><rect x=288 y=528 fill=#f3e617 /><rect x=300 y=528 fill=#f4e516 /><rect x=312 y=528 fill=#f4e515 /><rect x=324 y=528 fill=#f4e415 /><rect x=336 y=528 fill=#f5e314 /><rect x=348 y=528 fill=#f5e213 /><rect x=360 y=528 fill=#f6e112 /><rect x=372 y=528 fill=#f7df11 /><rect x=384 y=528 fill=#f9dc0f /><rect x=396 y=528 fill=#fad80c /><rect x=408 y=528 fill=#fcd108 /><rect x=420 y=528 fill=#fcc40c /><rect x=432 y=528 fill=#fab416 /><rect x=444 y=528 fill=#f7a21e /><rect x=456 y=528 fill=#f7a21e /><rect x=-12 y=540 fill=#6fc5c9 /><rect x=0 y=540 fill=#6fc5c8 /><rect x=12 y=540 fill=#6fc5c8 /><rect x=24 y=540 fill=#6fc5c7 /><rect x=36 y=540 fill=#6fc5c7 /><rect x=48 y=540 fill=#6fc5c7 /><rect x=60 y=540 fill=#70c5c4 /><rect x=72 y=540 fill=#70c4be /><rect x=84 y=540 fill=#6fc3b5 /><rect x=96 y=540 fill=#6fc2ab /><rect x=108 y=540 fill=#6dbf87 /><rect x=120 y=540 fill=#6bbb57 /><rect x=132 y=540 fill=#6ab946 /><rect x=144 y=540 fill=#6ab944 /><rect x=156 y=540 fill=#71bb43 /><rect x=168 y=540 fill=#77bd41 /><rect x=180 y=540 fill=#7dbe40 /><rect x=192 y=540 fill=#88c13e /><rect x=204 y=540 fill=#93c53b /><rect x=216 y=540 fill=#a1c937 /><rect x=228 y=540 fill=#b1cf31 /><rect x=240 y=540 fill=#c1d52b /><rect x=252 y=540 fill=#d0db25 /><rect x=264 y=540 fill=#e0e11f /><rect x=276 y=540 fill=#efe719 /><rect x=288 y=540 fill=#f3e717 /><rect x=300 y=540 fill=#f3e616 /><rect x=312 y=540 fill=#f4e516 /><rect x=324 y=540 fill=#f4e515 /><rect x=336 y=540 fill=#f4e415 /><rect x=348 y=540 fill=#f5e414 /><rect x=360 y=540 fill=#f5e214 /><rect x=372 y=540 fill=#f6e112 /><rect x=384 y=540 fill=#f7df11 /><rect x=396 y=540 fill=#f9dc0f /><rect x=408 y=540 fill=#fad70b /><rect x=420 y=540 fill=#fdcf07 /><rect x=432 y=540 fill=#fcc20e /><rect x=444 y=540 fill=#fab416 /><rect x=456 y=540 fill=#fab416 /><rect x=-12 y=552 fill=#6ec8d9 /><rect x=0 y=552 fill=#6ec8d9 /><rect x=12 y=552 fill=#6ec8da /><rect x=24 y=552 fill=#6ec8da /><rect x=36 y=552 fill=#6ec8da /><rect x=48 y=552 fill=#6ec8da /><rect x=60 y=552 fill=#6ec7d6 /><rect x=72 y=552 fill=#6fc6d0 /><rect x=84 y=552 fill=#70c5c6 /><rect x=96 y=552 fill=#70c3bb /><rect x=108 y=552 fill=#6ec09b /><rect x=120 y=552 fill=#6cbd69 /><rect x=132 y=552 fill=#6ab948 /><rect x=144 y=552 fill=#6ab946 /><rect x=156 y=552 fill=#6ab944 /><rect x=168 y=552 fill=#6eba43 /><rect x=180 y=552 fill=#74bc42 /><rect x=192 y=552 fill=#7bbe40 /><rect x=204 y=552 fill=#87c13e /><rect x=216 y=552 fill=#94c53b /><rect x=228 y=552 fill=#a5cb35 /><rect x=240 y=552 fill=#b8d22e /><rect x=252 y=552 fill=#cbd927 /><rect x=264 y=552 fill=#dde020 /><rect x=276 y=552 fill=#eee61a /><rect x=288 y=552 fill=#f3e717 /><rect x=300 y=552 fill=#f3e616 /><rect x=312 y=552 fill=#f4e516 /><rect x=324 y=552 fill=#f4e515 /><rect x=336 y=552 fill=#f4e415 /><rect x=348 y=552 fill=#f5e415 /><rect x=360 y=552 fill=#f5e314 /><rect x=372 y=552 fill=#f6e213 /><rect x=384 y=552 fill=#f6e112 /><rect x=396 y=552 fill=#f7df11 /><rect x=408 y=552 fill=#f9db0e /><rect x=420 y=552 fill=#fbd50a /><rect x=432 y=552 fill=#fdcc07 /><rect x=444 y=552 fill=#fcc00f /><rect x=456 y=552 fill=#fcc00f /><rect x=-12 y=564 fill=#63c8e2 /><rect x=0 y=564 fill=#62c8e2 /><rect x=12 y=564 fill=#62c8e2 /><rect x=24 y=564 fill=#63c8e2 /><rect x=36 y=564 fill=#63c8e1 /><rect x=48 y=564 fill=#64c8e0 /><rect x=60 y=564 fill=#67c8df /><rect x=72 y=564 fill=#6bc8dc /><rect x=84 y=564 fill=#6ec7d5 /><rect x=96 y=564 fill=#6fc5c8 /><rect x=108 y=564 fill=#6fc2ac /><rect x=120 y=564 fill=#6dbe81 /><rect x=132 y=564 fill=#6bbb5c /><rect x=144 y=564 fill=#6ab948 /><rect x=156 y=564 fill=#6ab946 /><rect x=168 y=564 fill=#6ab945 /><rect x=180 y=564 fill=#6bb944 /><rect x=192 y=564 fill=#73bb42 /><rect x=204 y=564 fill=#7bbe40 /><rect x=216 y=564 fill=#89c23d /><rect x=228 y=564 fill=#98c63a /><rect x=240 y=564 fill=#b0cf31 /><rect x=252 y=564 fill=#c7d729 /><rect x=264 y=564 fill=#dbdf21 /><rect x=276 y=564 fill=#ede61a /><rect x=288 y=564 fill=#f3e717 /><rect x=300 y=564 fill=#f3e616 /><rect x=312 y=564 fill=#f4e516 /><rect x=324 y=564 fill=#f4e515 /><rect x=336 y=564 fill=#f4e415 /><rect x=348 y=564 fill=#f4e415 /><rect x=360 y=564 fill=#f5e414 /><rect x=372 y=564 fill=#f5e314 /><rect x=384 y=564 fill=#f6e213 /><rect x=396 y=564 fill=#f6e112 /><rect x=408 y=564 fill=#f7df11 /><rect x=420 y=564 fill=#f9da0e /><rect x=432 y=564 fill=#fbd309 /><rect x=444 y=564 fill=#fdcb08 /><rect x=456 y=564 fill=#fdcb08 /><rect x=-12 y=576 fill=#48c7eb /><rect x=0 y=576 fill=#48c7eb /><rect x=12 y=576 fill=#49c7eb /><rect x=24 y=576 fill=#4dc7ea /><rect x=36 y=576 fill=#53c8e8 /><rect x=48 y=576 fill=#59c8e7 /><rect x=60 y=576 fill=#5fc8e4 /><rect x=72 y=576 fill=#64c8e1 /><rect x=84 y=576 fill=#6ac8dd /><rect x=96 y=576 fill=#6ec7d4 /><rect x=108 y=576 fill=#70c4bb /><rect x=120 y=576 fill=#6ec09a /><rect x=132 y=576 fill=#6cbd74 /><rect x=144 y=576 fill=#6bbb5b /><rect x=156 y=576 fill=#6ab948 /><rect x=168 y=576 fill=#6ab947 /><rect x=180 y=576 fill=#6ab945 /><rect x=192 y=576 fill=#6bb944 /><rect x=204 y=576 fill=#74bc42 /><rect x=216 y=576 fill=#7ebf40 /><rect x=228 y=576 fill=#91c43c /><rect x=240 y=576 fill=#a8cc34 /><rect x=252 y=576 fill=#c2d52b /><rect x=264 y=576 fill=#d9de22 /><rect x=276 y=576 fill=#ece61a /><rect x=288 y=576 fill=#f3e717 /><rect x=300 y=576 fill=#f3e616 /><rect x=312 y=576 fill=#f4e516 /><rect x=324 y=576 fill=#f4e515 /><rect x=336 y=576 fill=#f4e415 /><rect x=348 y=576 fill=#f4e415 /><rect x=360 y=576 fill=#f5e415 /><rect x=372 y=576 fill=#f5e414 /><rect x=384 y=576 fill=#f5e314 /><rect x=396 y=576 fill=#f5e314 /><rect x=408 y=576 fill=#f6e113 /><rect x=420 y=576 fill=#f8df10 /><rect x=432 y=576 fill=#fad90d /><rect x=444 y=576 fill=#fcd209 /><rect x=456 y=576 fill=#fcd209 /><rect x=-12 y=588 fill=#2fbeee /><rect x=0 y=588 fill=#2fbfee /><rect x=12 y=588 fill=#2fc3f0 /><rect x=24 y=588 fill=#31c6f1 /><rect x=36 y=588 fill=#39c6ef /><rect x=48 y=588 fill=#43c7ed /><rect x=60 y=588 fill=#50c7e9 /><rect x=72 y=588 fill=#5ec8e5 /><rect x=84 y=588 fill=#64c8e0 /><rect x=96 y=588 fill=#6cc8db /><rect x=108 y=588 fill=#6fc5c9 /><rect x=120 y=588 fill=#6fc2ad /><rect x=132 y=588 fill=#6ebf8f /><rect x=144 y=588 fill=#6cbd71 /><rect x=156 y=588 fill=#6bbb5c /><rect x=168 y=588 fill=#6ab948 /><rect x=180 y=588 fill=#6ab947 /><rect x=192 y=588 fill=#6ab945 /><rect x=204 y=588 fill=#6dba43 /><rect x=216 y=588 fill=#78bd41 /><rect x=228 y=588 fill=#89c23d /><rect x=240 y=588 fill=#a1c937 /><rect x=252 y=588 fill=#bed42c /><rect x=264 y=588 fill=#d6dd23 /><rect x=276 y=588 fill=#ebe51b /><rect x=288 y=588 fill=#f3e717 /><rect x=300 y=588 fill=#f3e616 /><rect x=312 y=588 fill=#f4e516 /><rect x=324 y=588 fill=#f4e415 /><rect x=336 y=588 fill=#f4e415 /><rect x=348 y=588 fill=#f4e415 /><rect x=360 y=588 fill=#f4e415 /><rect x=372 y=588 fill=#f4e415 /><rect x=384 y=588 fill=#f4e415 /><rect x=396 y=588 fill=#f4e415 /><rect x=408 y=588 fill=#f5e314 /><rect x=420 y=588 fill=#f7e012 /><rect x=432 y=588 fill=#f8dc0f /><rect x=444 y=588 fill=#fad70b /><rect x=456 y=588 fill=#fad70b /><rect x=-12 y=600 fill=#32aae2 /><rect x=0 y=600 fill=#32ace3 /><rect x=12 y=600 fill=#31b1e6 /><rect x=24 y=600 fill=#30b9ea /><rect x=36 y=600 fill=#2fc2f0 /><rect x=48 y=600 fill=#34c6f0 /><rect x=60 y=600 fill=#41c7ed /><rect x=72 y=600 fill=#52c8e8 /><rect x=84 y=600 fill=#5fc8e4 /><rect x=96 y=600 fill=#67c8df /><rect x=108 y=600 fill=#6ec7d5 /><rect x=120 y=600 fill=#70c4bd /><rect x=132 y=600 fill=#6ec1a2 /><rect x=144 y=600 fill=#6dbf85 /><rect x=156 y=600 fill=#6cbd6b /><rect x=168 y=600 fill=#6bbb57 /><rect x=180 y=600 fill=#6ab948 /><rect x=192 y=600 fill=#6ab946 /><rect x=204 y=600 fill=#6ab944 /><rect x=216 y=600 fill=#73bc42 /><rect x=228 y=600 fill=#82c03f /><rect x=240 y=600 fill=#99c63a /><rect x=252 y=600 fill=#b8d22e /><rect x=264 y=600 fill=#d3dc24 /><rect x=276 y=600 fill=#eae51b /><rect x=288 y=600 fill=#f3e717 /><rect x=300 y=600 fill=#f3e616 /><rect x=312 y=600 fill=#f4e516 /><rect x=324 y=600 fill=#f4e415 /><rect x=336 y=600 fill=#f4e415 /><rect x=348 y=600 fill=#f4e415 /><rect x=360 y=600 fill=#f4e415 /><rect x=372 y=600 fill=#f4e415 /><rect x=384 y=600 fill=#f4e415 /><rect x=396 y=600 fill=#f4e415 /><rect x=408 y=600 fill=#f5e314 /><rect x=420 y=600 fill=#f6e112 /><rect x=432 y=600 fill=#f8de10 /><rect x=444 y=600 fill=#fad80c /><rect x=456 y=600 fill=#fad80c /><rect x=-12 y=612 fill=#359bd8 /><rect x=0 y=612 fill=#359dda /><rect x=12 y=612 fill=#34a3de /><rect x=24 y=612 fill=#32abe3 /><rect x=36 y=612 fill=#31b5e8 /><rect x=48 y=612 fill=#2fc0ee /><rect x=60 y=612 fill=#35c6f0 /><rect x=72 y=612 fill=#45c7ec /><rect x=84 y=612 fill=#59c8e7 /><rect x=96 y=612 fill=#62c8e2 /><rect x=108 y=612 fill=#6bc8dc /><rect x=120 y=612 fill=#6fc6ca /><rect x=132 y=612 fill=#6fc3b1 /><rect x=144 y=612 fill=#6ec097 /><rect x=156 y=612 fill=#6dbe7b /><rect x=168 y=612 fill=#6bbc63 /><rect x=180 y=612 fill=#6aba4f /><rect x=192 y=612 fill=#6ab947 /><rect x=204 y=612 fill=#6ab945 /><rect x=216 y=612 fill=#6fba43 /><rect x=228 y=612 fill=#7cbe40 /><rect x=240 y=612 fill=#94c53b /><rect x=252 y=612 fill=#b2cf31 /><rect x=264 y=612 fill=#d0db25 /><rect x=276 y=612 fill=#e7e41c /><rect x=288 y=612 fill=#f3e717 /><rect x=300 y=612 fill=#f3e616 /><rect x=312 y=612 fill=#f4e516 /><rect x=324 y=612 fill=#f4e415 /><rect x=336 y=612 fill=#f4e415 /><rect x=348 y=612 fill=#f4e415 /><rect x=360 y=612 fill=#f4e415 /><rect x=372 y=612 fill=#f4e415 /><rect x=384 y=612 fill=#f4e415 /><rect x=396 y=612 fill=#f4e415 /><rect x=408 y=612 fill=#f5e314 /><rect x=420 y=612 fill=#f6e112 /><rect x=432 y=612 fill=#f8de10 /><rect x=444 y=612 fill=#f9d90d /><rect x=456 y=612 fill=#f9d90d /><rect x=-12 y=624 fill=#3790d0 /><rect x=0 y=624 fill=#3792d2 /><rect x=12 y=624 fill=#3599d7 /><rect x=24 y=624 fill=#34a0dc /><rect x=36 y=624 fill=#32aae2 /><rect x=48 y=624 fill=#31b5e8 /><rect x=60 y=624 fill=#2fc3f0 /><rect x=72 y=624 fill=#3ac7ef /><rect x=84 y=624 fill=#4cc7ea /><rect x=96 y=624 fill=#5ec8e5 /><rect x=108 y=624 fill=#66c8df /><rect x=120 y=624 fill=#6ec7d6 /><rect x=132 y=624 fill=#70c4bf /><rect x=144 y=624 fill=#6fc1a5 /><rect x=156 y=624 fill=#6dbf8b /><rect x=168 y=624 fill=#6cbd6f /><rect x=180 y=624 fill=#6bbb5a /><rect x=192 y=624 fill=#6ab948 /><rect x=204 y=624 fill=#6ab946 /><rect x=216 y=624 fill=#6ab944 /><rect x=228 y=624 fill=#78bd41 /><rect x=240 y=624 fill=#8fc33c /><rect x=252 y=624 fill=#accd33 /><rect x=264 y=624 fill=#cbd927 /><rect x=276 y=624 fill=#e3e21e /><rect x=288 y=624 fill=#f2e818 /><rect x=300 y=624 fill=#f3e617 /><rect x=312 y=624 fill=#f4e516 /><rect x=324 y=624 fill=#f4e515 /><rect x=336 y=624 fill=#f4e415 /><rect x=348 y=624 fill=#f4e415 /><rect x=360 y=624 fill=#f4e415 /><rect x=372 y=624 fill=#f4e415 /><rect x=384 y=624 fill=#f4e415 /><rect x=396 y=624 fill=#f4e415 /><rect x=408 y=624 fill=#f5e314 /><rect x=420 y=624 fill=#f6e113 /><rect x=432 y=624 fill=#f8df10 /><rect x=444 y=624 fill=#f9da0e /><rect x=456 y=624 fill=#f9da0e /><rect x=-12 y=636 fill=#3988cb /><rect x=0 y=636 fill=#388bcd /><rect x=12 y=636 fill=#3792d2 /><rect x=24 y=636 fill=#359ad8 /><rect x=36 y=636 fill=#33a4de /><rect x=48 y=636 fill=#32afe5 /><rect x=60 y=636 fill=#30bbec /><rect x=72 y=636 fill=#31c6f1 /><rect x=84 y=636 fill=#42c7ed /><rect x=96 y=636 fill=#55c8e8 /><rect x=108 y=636 fill=#62c8e2 /><rect x=120 y=636 fill=#6cc8dc /><rect x=132 y=636 fill=#6fc5c8 /><rect x=144 y=636 fill=#6fc2af /><rect x=156 y=636 fill=#6ec096 /><rect x=168 y=636 fill=#6dbe7c /><rect x=180 y=636 fill=#6bbc64 /><rect x=192 y=636 fill=#6aba4f /><rect x=204 y=636 fill=#6ab947 /><rect x=216 y=636 fill=#6ab945 /><rect x=228 y=636 fill=#75bc41 /><rect x=240 y=636 fill=#8ac23d /><rect x=252 y=636 fill=#a5cb35 /><rect x=264 y=636 fill=#c7d729 /><rect x=276 y=636 fill=#dee020 /><rect x=288 y=636 fill=#efe719 /><rect x=300 y=636 fill=#f3e717 /><rect x=312 y=636 fill=#f3e616 /><rect x=324 y=636 fill=#f4e515 /><rect x=336 y=636 fill=#f4e415 /><rect x=348 y=636 fill=#f4e415 /><rect x=360 y=636 fill=#f4e415 /><rect x=372 y=636 fill=#f4e415 /><rect x=384 y=636 fill=#f4e415 /><rect x=396 y=636 fill=#f4e415 /><rect x=408 y=636 fill=#f5e314 /><rect x=420 y=636 fill=#f6e113 /><rect x=432 y=636 fill=#f8df11 /><rect x=444 y=636 fill=#f9db0e /><rect x=456 y=636 fill=#f9db0e /></g><path d="M122,-2L109,14L102,23L102,37L97,51L90,65L83,76L79,88M74,178L84,178L87,186L83,194L74,200L68,208M58,240L53,248L48,256L48,275M139,-2L122,14L113,28L106,46L97,60L88,74L81,88M157,-2L143,14L129,28L115,44L106,55L97,67M185,-2L182,23L176,42L169,58L164,76L161,92L159,115L164,134L176,152L189,176L208,187L242,194L277,201L305,210L316,216L329,228L336,246L346,263L357,273L374,286L381,294L385,305L390,314L396,319L405,326L410,329M199,-2L196,28L203,46L217,60L229,76L242,97L259,113L277,125L298,132L312,147L323,161L332,172L340,182L348,196L354,210L357,218L360,238L365,252L374,263L382,276L388,288L393,297L399,305L404,315L410,322M215,-2L217,23L226,37L242,53L261,62L284,74L299,90L306,104L315,118L323,129L330,139L340,151L348,163L355,172L357,189L362,202L367,220L371,245L379,259L390,270L393,280L399,291L410,301L424,302L437,301M242,-2L247,18L259,35L270,48M316,91L329,101L340,111L344,119L344,133L351,144L362,151L365,158L362,161L368,175L374,189L376,203L378,220L383,235L390,245L399,250M277,-2L284,11L292,22L301,32M348,70L360,84L368,91L389,101L410,112L417,119M298,-2L312,8L326,18L340,24L354,27L368,29L382,29L396,26M315,-2L326,14L340,25L354,38L368,48L382,53L396,55L409,55M44,298L60,305L76,307L97,316L120,325L150,330L208,336L254,330L302,323L316,330L340,333L374,333L376,343L392,352L400,354L402,371L417,368L431,366M35,295L28,302L28,321L35,342L46,353L55,367L62,381M44,300L51,314L60,330L67,349L69,367L67,381M74,402L92,411L111,420L120,430M0,433L28,440M74,454L88,465L97,479L109,493L118,505L125,512M76,422L83,433L97,452L109,463M132,507L148,495L173,486L208,482L242,484L259,498L268,521L272,549L277,583L277,606L275,632M134,549L143,555L180,562M217,592L226,609L231,625M0,512L46,505L76,509L106,521L120,535L125,544M0,535L46,531L74,539L88,553L97,572L109,590L125,602L150,611L185,618L219,625M0,562L46,562L69,569L83,581M111,618L129,625M0,595L46,597L74,606L92,622M0,620L35,622L58,632M120,535L111,549L106,572L111,595L125,611L143,622L162,632M125,549L129,572L139,590L157,604L185,609L203,613M417,473L403,473L393,481L382,491L375,505L368,525L365,543L364,557L360,578L355,606L353,632M420,481L416,497L409,515L403,533L399,550L393,571L383,592L376,613L371,632M421,483L419,501L416,522L410,543L403,561L393,585L385,606L379,632M424,483L428,497L431,515L428,536L423,557L410,578L399,599L392,632M431,481L438,488L449,495M452,543L442,557L431,571L419,592L407,613L399,632M452,589L438,603L424,617L416,632M452,617L441,632M414,345L428,345L437,342M403,326L417,329L435,325M398,212L404,210L408,218L404,226L398,222L398,212" fill="none" stroke="#fff" stroke-width="4.6" stroke-linejoin="round" stroke-linecap="round"/><use href="#land"/><text x="323" y="53" font-size="27" text-anchor="middle" dominant-baseline="central" transform="rotate(40 323 53)">110</text><text x="294" y="70" font-size="27" text-anchor="middle" dominant-baseline="central" transform="rotate(40 294 70)">100</text><text x="55" y="170" font-size="27" text-anchor="middle" dominant-baseline="central" transform="rotate(-90 55 170)">80</text><text x="67" y="399" font-size="27" text-anchor="middle" dominant-baseline="central" transform="rotate(100 67 399)">80</text><text x="51" y="450" font-size="27" text-anchor="middle" dominant-baseline="central" transform="rotate(20 51 450)">70</text><text x="200" y="575" font-size="27" text-anchor="middle" dominant-baseline="central" transform="rotate(40 200 575)">80</text><text x="94" y="602" font-size="27" text-anchor="middle" dominant-baseline="central" transform="rotate(50 94 602)">60</text><text x="419" y="465" font-size="27" text-anchor="middle" dominant-baseline="central" transform="rotate(80 419 465)">100</text><text x="424" y="236" font-size="27" text-anchor="middle" dominant-baseline="central" transform="rotate(100 424 236)">110</text><text x="418" y="272" font-size="27" text-anchor="middle" dominant-baseline="central" transform="rotate(60 418 272)">100</text></g><path d="M12.6,629.0v-6M12.6,0v6M143.5,629.0v-6M143.5,0v6M274.4,629.0v-6M274.4,0v6M405.3,629.0v-6M405.3,0v6M0,66.6h6M450,66.6h-6M0,198.9h6M450,198.9h-6M0,331.2h6M450,331.2h-6M0,463.5h6M450,463.5h-6M0,595.8h6M450,595.8h-6" stroke="#262626" stroke-width="1.2" fill="none"/><rect x=0.5 y=0.5 width=449 height=628 fill=none stroke="#262626" stroke-width=1.3 /></g><g transform="translate(142,901)"><clipPath id="cpC"><rect x=0 y=0 width=450 height=630 /></clipPath><g clip-path="url(#cpC)"><g filter="url(#bl)" class="f"><rect x=-12 y=-12 fill=#a7cb35 /><rect x=0 y=-12 fill=#aacd33 /><rect x=12 y=-12 fill=#b1cf31 /><rect x=24 y=-12 fill=#b8d22e /><rect x=36 y=-12 fill=#bfd42c /><rect x=48 y=-12 fill=#c6d729 /><rect x=60 y=-12 fill=#cbd927 /><rect x=72 y=-12 fill=#d1db25 /><rect x=84 y=-12 fill=#d6dd23 /><rect x=96 y=-12 fill=#dcdf21 /><rect x=108 y=-12 fill=#e1e21e /><rect x=120 y=-12 fill=#f9da0d /><rect x=132 y=-12 fill=#fad90d /><rect x=144 y=-12 fill=#fad80c /><rect x=156 y=-12 fill=#fbd40a /><rect x=168 y=-12 fill=#fdce06 /><rect x=180 y=-12 fill=#fcc30d /><rect x=192 y=-12 fill=#fbb913 /><rect x=204 y=-12 fill=#fab117 /><rect x=216 y=-12 fill=#f8aa1a /><rect x=228 y=-12 fill=#f7a21e /><rect x=240 y=-12 fill=#f59821 /><rect x=252 y=-12 fill=#f38c24 /><rect x=264 y=-12 fill=#f17a25 /><rect x=276 y=-12 fill=#ef6527 /><rect x=288 y=-12 fill=#ed4d28 /><rect x=300 y=-12 fill=#ec3327 /><rect x=312 y=-12 fill=#ec1d25 /><rect x=324 y=-12 fill=#ec1d25 /><rect x=336 y=-12 fill=#ec1d25 /><rect x=348 y=-12 fill=#ec1d25 /><rect x=360 y=-12 fill=#ec1d25 /><rect x=372 y=-12 fill=#ec1d25 /><rect x=384 y=-12 fill=#ec1d25 /><rect x=396 y=-12 fill=#ec1d25 /><rect x=408 y=-12 fill=#ec1d25 /><rect x=420 y=-12 fill=#ec1d25 /><rect x=432 y=-12 fill=#ec1d25 /><rect x=444 y=-12 fill=#ec1d25 /><rect x=456 y=-12 fill=#ec1d25 /><rect x=-12 y=0 fill=#a4ca36 /><rect x=0 y=0 fill=#a8cc34 /><rect x=12 y=0 fill=#b0cf31 /><rect x=24 y=0 fill=#b7d12f /><rect x=36 y=0 fill=#bfd42c /><rect x=48 y=0 fill=#c6d729 /><rect x=60 y=0 fill=#cbd927 /><rect x=72 y=0 fill=#d1db25 /><rect x=84 y=0 fill=#d6dd23 /><rect x=96 y=0 fill=#dcdf21 /><rect x=108 y=0 fill=#e1e11f /><rect x=120 y=0 fill=#f9db0e /><rect x=132 y=0 fill=#f9db0e /><rect x=144 y=0 fill=#f9da0d /><rect x=156 y=0 fill=#fad70b /><rect x=168 y=0 fill=#fcd007 /><rect x=180 y=0 fill=#fcc70b /><rect x=192 y=0 fill=#fbbd11 /><rect x=204 y=0 fill=#fab416 /><rect x=216 y=0 fill=#f9ad19 /><rect x=228 y=0 fill=#f8a51d /><rect x=240 y=0 fill=#f69c20 /><rect x=252 y=0 fill=#f48f23 /><rect x=264 y=0 fill=#f17d25 /><rect x=276 y=0 fill=#ef6827 /><rect x=288 y=0 fill=#ed5028 /><rect x=300 y=0 fill=#ec3527 /><rect x=312 y=0 fill=#ec1d25 /><rect x=324 y=0 fill=#ec1d25 /><rect x=336 y=0 fill=#ec1d25 /><rect x=348 y=0 fill=#ec1d25 /><rect x=360 y=0 fill=#ec1d25 /><rect x=372 y=0 fill=#ec1d25 /><rect x=384 y=0 fill=#ec1d25 /><rect x=396 y=0 fill=#ec1d25 /><rect x=408 y=0 fill=#ec1d25 /><rect x=420 y=0 fill=#ec1d25 /><rect x=432 y=0 fill=#ec1d25 /><rect x=444 y=0 fill=#ec1d25 /><rect x=456 y=0 fill=#ec1d25 /><rect x=-12 y=12 fill=#9ec838 /><rect x=0 y=12 fill=#a2ca36 /><rect x=12 y=12 fill=#abcd33 /><rect x=24 y=12 fill=#b4d030 /><rect x=36 y=12 fill=#bcd32d /><rect x=48 y=12 fill=#c4d62a /><rect x=60 y=12 fill=#cad828 /><rect x=72 y=12 fill=#cfda26 /><rect x=84 y=12 fill=#d5dc24 /><rect x=96 y=12 fill=#dadf21 /><rect x=108 y=12 fill=#f8dd0f /><rect x=120 y=12 fill=#f8de10 /><rect x=132 y=12 fill=#f8de10 /><rect x=144 y=12 fill=#f8de10 /><rect x=156 y=12 fill=#f9db0e /><rect x=168 y=12 fill=#fbd40a /><rect x=180 y=12 fill=#fdcc07 /><rect x=192 y=12 fill=#fcc30d /><rect x=204 y=12 fill=#fbba13 /><rect x=216 y=12 fill=#fab316 /><rect x=228 y=12 fill=#f9ab1a /><rect x=240 y=12 fill=#f7a11e /><rect x=252 y=12 fill=#f59521 /><rect x=264 y=12 fill=#f28425 /><rect x=276 y=12 fill=#f06e26 /><rect x=288 y=12 fill=#ee5728 /><rect x=300 y=12 fill=#ec3b28 /><rect x=312 y=12 fill=#ec2125 /><rect x=324 y=12 fill=#ec1d25 /><rect x=336 y=12 fill=#ec1d25 /><rect x=348 y=12 fill=#ec1d25 /><rect x=360 y=12 fill=#ec1d25 /><rect x=372 y=12 fill=#ec1d25 /><rect x=384 y=12 fill=#ec1d25 /><rect x=396 y=12 fill=#ec1d25 /><rect x=408 y=12 fill=#ec1d25 /><rect x=420 y=12 fill=#ec1d25 /><rect x=432 y=12 fill=#ec1d25 /><rect x=444 y=12 fill=#ec1d25 /><rect x=456 y=12 fill=#ec1d25 /><rect x=-12 y=24 fill=#97c63a /><rect x=0 y=24 fill=#9cc739 /><rect x=12 y=24 fill=#a6cb35 /><rect x=24 y=24 fill=#afce32 /><rect x=36 y=24 fill=#b8d22e /><rect x=48 y=24 fill=#c0d52b /><rect x=60 y=24 fill=#c7d729 /><rect x=72 y=24 fill=#ccd927 /><rect x=84 y=24 fill=#d2db25 /><rect x=96 y=24 fill=#d7dd23 /><rect x=108 y=24 fill=#f8de10 /><rect x=120 y=24 fill=#f8df10 /><rect x=132 y=24 fill=#f7df11 /><rect x=144 y=24 fill=#f7df11 /><rect x=156 y=24 fill=#f8dd10 /><rect x=168 y=24 fill=#fad70c /><rect x=180 y=24 fill=#fcd007 /><rect x=192 y=24 fill=#fcc70a /><rect x=204 y=24 fill=#fcbf0f /><rect x=216 y=24 fill=#fbb814 /><rect x=228 y=24 fill=#fab018 /><rect x=240 y=24 fill=#f8a71c /><rect x=252 y=24 fill=#f69b20 /><rect x=264 y=24 fill=#f38b24 /><rect x=276 y=24 fill=#f07526 /><rect x=288 y=24 fill=#ee5e28 /><rect x=300 y=24 fill=#ec4228 /><rect x=312 y=24 fill=#ec2626 /><rect x=324 y=24 fill=#ec1d25 /><rect x=336 y=24 fill=#ec1d25 /><rect x=348 y=24 fill=#ec1d25 /><rect x=360 y=24 fill=#ec1d25 /><rect x=372 y=24 fill=#ec1d25 /><rect x=384 y=24 fill=#ec1d25 /><rect x=396 y=24 fill=#ec1d25 /><rect x=408 y=24 fill=#ec1d25 /><rect x=420 y=24 fill=#ec1d25 /><rect x=432 y=24 fill=#ec1d25 /><rect x=444 y=24 fill=#ec1d25 /><rect x=456 y=24 fill=#ec1d25 /><rect x=-12 y=36 fill=#92c43b /><rect x=0 y=36 fill=#96c53a /><rect x=12 y=36 fill=#a0c937 /><rect x=24 y=36 fill=#aacc34 /><rect x=36 y=36 fill=#b3d030 /><rect x=48 y=36 fill=#bcd32d /><rect x=60 y=36 fill=#c3d62a /><rect x=72 y=36 fill=#c9d828 /><rect x=84 y=36 fill=#ceda26 /><rect x=96 y=36 fill=#d3dc24 /><rect x=108 y=36 fill=#f8de10 /><rect x=120 y=36 fill=#f7df11 /><rect x=132 y=36 fill=#f7e011 /><rect x=144 y=36 fill=#f7e011 /><rect x=156 y=36 fill=#f8de10 /><rect x=168 y=36 fill=#fad90d /><rect x=180 y=36 fill=#fcd208 /><rect x=192 y=36 fill=#fdca08 /><rect x=204 y=36 fill=#fcc30d /><rect x=216 y=36 fill=#fbbc12 /><rect x=228 y=36 fill=#fab416 /><rect x=240 y=36 fill=#f9ab1a /><rect x=252 y=36 fill=#f7a01f /><rect x=264 y=36 fill=#f49123 /><rect x=276 y=36 fill=#f17c25 /><rect x=288 y=36 fill=#ef6527 /><rect x=300 y=36 fill=#ed4b28 /><rect x=312 y=36 fill=#ec2b26 /><rect x=324 y=36 fill=#ec1d25 /><rect x=336 y=36 fill=#ec1d25 /><rect x=348 y=36 fill=#ec1d25 /><rect x=360 y=36 fill=#ec1d25 /><rect x=372 y=36 fill=#ec1d25 /><rect x=384 y=36 fill=#ec1d25 /><rect x=396 y=36 fill=#ec1d25 /><rect x=408 y=36 fill=#ec1d25 /><rect x=420 y=36 fill=#ec1d25 /><rect x=432 y=36 fill=#ec1d25 /><rect x=444 y=36 fill=#ec1d25 /><rect x=456 y=36 fill=#ec1d25 /><rect x=-12 y=48 fill=#8dc33c /><rect x=0 y=48 fill=#91c43c /><rect x=12 y=48 fill=#99c63a /><rect x=24 y=48 fill=#a4ca36 /><rect x=36 y=48 fill=#adce32 /><rect x=48 y=48 fill=#b6d12f /><rect x=60 y=48 fill=#bed42c /><rect x=72 y=48 fill=#c4d62a /><rect x=84 y=48 fill=#c9d828 /><rect x=96 y=48 fill=#cfda26 /><rect x=108 y=48 fill=#f8de10 /><rect x=120 y=48 fill=#f7df11 /><rect x=132 y=48 fill=#f7e011 /><rect x=144 y=48 fill=#f7e011 /><rect x=156 y=48 fill=#f8de10 /><rect x=168 y=48 fill=#fad90d /><rect x=180 y=48 fill=#fcd209 /><rect x=192 y=48 fill=#fdcb08 /><rect x=204 y=48 fill=#fcc40c /><rect x=216 y=48 fill=#fcbe10 /><rect x=228 y=48 fill=#fbb714 /><rect x=240 y=48 fill=#f9af18 /><rect x=252 y=48 fill=#f7a51d /><rect x=264 y=48 fill=#f59621 /><rect x=276 y=48 fill=#f28425 /><rect x=288 y=48 fill=#f06d26 /><rect x=300 y=48 fill=#ee5528 /><rect x=312 y=48 fill=#ec3427 /><rect x=324 y=48 fill=#ec1d25 /><rect x=336 y=48 fill=#ec1d25 /><rect x=348 y=48 fill=#ec1d25 /><rect x=360 y=48 fill=#ec1d25 /><rect x=372 y=48 fill=#ec1d25 /><rect x=384 y=48 fill=#ec1d25 /><rect x=396 y=48 fill=#ec1d25 /><rect x=408 y=48 fill=#ec1d25 /><rect x=420 y=48 fill=#ec1d25 /><rect x=432 y=48 fill=#ec1d25 /><rect x=444 y=48 fill=#ec1d25 /><rect x=456 y=48 fill=#ec1d25 /><rect x=-12 y=60 fill=#87c13e /><rect x=0 y=60 fill=#8bc23d /><rect x=12 y=60 fill=#93c53b /><rect x=24 y=60 fill=#9cc739 /><rect x=36 y=60 fill=#a6cb35 /><rect x=48 y=60 fill=#aece32 /><rect x=60 y=60 fill=#b5d030 /><rect x=72 y=60 fill=#bad22e /><rect x=84 y=60 fill=#c0d42c /><rect x=96 y=60 fill=#f8dc0f /><rect x=108 y=60 fill=#f8dd0f /><rect x=120 y=60 fill=#f8dd10 /><rect x=132 y=60 fill=#f8de10 /><rect x=144 y=60 fill=#f8de10 /><rect x=156 y=60 fill=#f9dc0f /><rect x=168 y=60 fill=#fad70c /><rect x=180 y=60 fill=#fcd108 /><rect x=192 y=60 fill=#fdcb08 /><rect x=204 y=60 fill=#fcc50c /><rect x=216 y=60 fill=#fcc00f /><rect x=228 y=60 fill=#fbba13 /><rect x=240 y=60 fill=#fab316 /><rect x=252 y=60 fill=#f8a91b /><rect x=264 y=60 fill=#f69d1f /><rect x=276 y=60 fill=#f38e24 /><rect x=288 y=60 fill=#f17925 /><rect x=300 y=60 fill=#ef6127 /><rect x=312 y=60 fill=#ec4028 /><rect x=324 y=60 fill=#ec2325 /><rect x=336 y=60 fill=#ec1d25 /><rect x=348 y=60 fill=#ec1d25 /><rect x=360 y=60 fill=#ec1d25 /><rect x=372 y=60 fill=#ec1d25 /><rect x=384 y=60 fill=#ec1d25 /><rect x=396 y=60 fill=#ec1d25 /><rect x=408 y=60 fill=#ec1d25 /><rect x=420 y=60 fill=#ec1d25 /><rect x=432 y=60 fill=#ec1d25 /><rect x=444 y=60 fill=#ec1d25 /><rect x=456 y=60 fill=#ec1d25 /><rect x=-12 y=72 fill=#80bf3f /><rect x=0 y=72 fill=#84c03e /><rect x=12 y=72 fill=#8dc33c /><rect x=24 y=72 fill=#94c53b /><rect x=36 y=72 fill=#9bc739 /><rect x=48 y=72 fill=#a3ca36 /><rect x=60 y=72 fill=#a8cc34 /><rect x=72 y=72 fill=#adcd33 /><rect x=84 y=72 fill=#b1cf31 /><rect x=96 y=72 fill=#f9da0e /><rect x=108 y=72 fill=#f9da0e /><rect x=120 y=72 fill=#f9da0e /><rect x=132 y=72 fill=#f9da0e /><rect x=144 y=72 fill=#f9da0d /><rect x=156 y=72 fill=#fad80c /><rect x=168 y=72 fill=#fbd40a /><rect x=180 y=72 fill=#fcd007 /><rect x=192 y=72 fill=#fdca08 /><rect x=204 y=72 fill=#fcc60b /><rect x=216 y=72 fill=#fcc10e /><rect x=228 y=72 fill=#fbbc12 /><rect x=240 y=72 fill=#fbb615 /><rect x=252 y=72 fill=#f9ae19 /><rect x=264 y=72 fill=#f7a31d /><rect x=276 y=72 fill=#f59621 /><rect x=288 y=72 fill=#f28624 /><rect x=300 y=72 fill=#f06f26 /><rect x=312 y=72 fill=#ed4f28 /><rect x=324 y=72 fill=#ec2a26 /><rect x=336 y=72 fill=#ec1d25 /><rect x=348 y=72 fill=#ec1d25 /><rect x=360 y=72 fill=#ec1d25 /><rect x=372 y=72 fill=#ec1d25 /><rect x=384 y=72 fill=#ec1d25 /><rect x=396 y=72 fill=#ec1d25 /><rect x=408 y=72 fill=#ec1d25 /><rect x=420 y=72 fill=#ec1d25 /><rect x=432 y=72 fill=#ec1d25 /><rect x=444 y=72 fill=#ec1d25 /><rect x=456 y=72 fill=#ec1d25 /><rect x=-12 y=84 fill=#7abe40 /><rect x=0 y=84 fill=#7dbe40 /><rect x=12 y=84 fill=#86c13e /><rect x=24 y=84 fill=#8dc33c /><rect x=36 y=84 fill=#93c43b /><rect x=48 y=84 fill=#97c63a /><rect x=60 y=84 fill=#9ac739 /><rect x=72 y=84 fill=#9ec838 /><rect x=84 y=84 fill=#fad80c /><rect x=96 y=84 fill=#fad80c /><rect x=108 y=84 fill=#fad80c /><rect x=120 y=84 fill=#fad70c /><rect x=132 y=84 fill=#fad70b /><rect x=144 y=84 fill=#fbd60b /><rect x=156 y=84 fill=#fbd40a /><rect x=168 y=84 fill=#fcd108 /><rect x=180 y=84 fill=#fdce06 /><rect x=192 y=84 fill=#fdca08 /><rect x=204 y=84 fill=#fcc60b /><rect x=216 y=84 fill=#fcc20e /><rect x=228 y=84 fill=#fcbe10 /><rect x=240 y=84 fill=#fbb814 /><rect x=252 y=84 fill=#fab217 /><rect x=264 y=84 fill=#f8a91b /><rect x=276 y=84 fill=#f69d1f /><rect x=288 y=84 fill=#f49023 /><rect x=300 y=84 fill=#f17b25 /><rect x=312 y=84 fill=#ee5b28 /><rect x=324 y=84 fill=#ec3427 /><rect x=336 y=84 fill=#ec1d25 /><rect x=348 y=84 fill=#ec1d25 /><rect x=360 y=84 fill=#ec1d25 /><rect x=372 y=84 fill=#ec1d25 /><rect x=384 y=84 fill=#ec1d25 /><rect x=396 y=84 fill=#ec1d25 /><rect x=408 y=84 fill=#ec1d25 /><rect x=420 y=84 fill=#ec1d25 /><rect x=432 y=84 fill=#ec1d25 /><rect x=444 y=84 fill=#ec1d25 /><rect x=456 y=84 fill=#ec1d25 /><rect x=-12 y=96 fill=#77bd41 /><rect x=0 y=96 fill=#79bd41 /><rect x=12 y=96 fill=#7ebf40 /><rect x=24 y=96 fill=#85c13e /><rect x=36 y=96 fill=#8bc23d /><rect x=48 y=96 fill=#8ec33c /><rect x=60 y=96 fill=#91c43c /><rect x=72 y=96 fill=#93c43b /><rect x=84 y=96 fill=#fad80c /><rect x=96 y=96 fill=#fad80c /><rect x=108 y=96 fill=#fad70c /><rect x=120 y=96 fill=#fad70b /><rect x=132 y=96 fill=#fbd60b /><rect x=144 y=96 fill=#fbd40a /><rect x=156 y=96 fill=#fbd309 /><rect x=168 y=96 fill=#fcd108 /><rect x=180 y=96 fill=#fdce06 /><rect x=192 y=96 fill=#fdca08 /><rect x=204 y=96 fill=#fcc70b /><rect x=216 y=96 fill=#fcc30d /><rect x=228 y=96 fill=#fcbf0f /><rect x=240 y=96 fill=#fbba13 /><rect x=252 y=96 fill=#fab416 /><rect x=264 y=96 fill=#f9ab1a /><rect x=276 y=96 fill=#f7a11e /><rect x=288 y=96 fill=#f49422 /><rect x=300 y=96 fill=#f28125 /><rect x=312 y=96 fill=#ef6227 /><rect x=324 y=96 fill=#ec3b28 /><rect x=336 y=96 fill=#ec2025 /><rect x=348 y=96 fill=#ec1d25 /><rect x=360 y=96 fill=#ec1d25 /><rect x=372 y=96 fill=#ec1d25 /><rect x=384 y=96 fill=#ec1d25 /><rect x=396 y=96 fill=#ec1d25 /><rect x=408 y=96 fill=#ec1d25 /><rect x=420 y=96 fill=#ec1d25 /><rect x=432 y=96 fill=#ec1d25 /><rect x=444 y=96 fill=#ec1d25 /><rect x=456 y=96 fill=#ec1d25 /><rect x=-12 y=108 fill=#73bc42 /><rect x=0 y=108 fill=#75bc42 /><rect x=12 y=108 fill=#78bd41 /><rect x=24 y=108 fill=#7bbe40 /><rect x=36 y=108 fill=#7fbf3f /><rect x=48 y=108 fill=#83c03f /><rect x=60 y=108 fill=#86c13e /><rect x=72 y=108 fill=#89c23d /><rect x=84 y=108 fill=#fad80c /><rect x=96 y=108 fill=#fad80c /><rect x=108 y=108 fill=#fad80c /><rect x=120 y=108 fill=#fad70b /><rect x=132 y=108 fill=#fbd60b /><rect x=144 y=108 fill=#fbd40a /><rect x=156 y=108 fill=#fbd309 /><rect x=168 y=108 fill=#fcd108 /><rect x=180 y=108 fill=#fdce06 /><rect x=192 y=108 fill=#fdcb08 /><rect x=204 y=108 fill=#fcc80a /><rect x=216 y=108 fill=#fcc40c /><rect x=228 y=108 fill=#fcc00f /><rect x=240 y=108 fill=#fbbb12 /><rect x=252 y=108 fill=#fab515 /><rect x=264 y=108 fill=#f9ad19 /><rect x=276 y=108 fill=#f7a21e /><rect x=288 y=108 fill=#f59522 /><rect x=300 y=108 fill=#f28325 /><rect x=312 y=108 fill=#ef6527 /><rect x=324 y=108 fill=#ec4028 /><rect x=336 y=108 fill=#ec2325 /><rect x=348 y=108 fill=#ec1d25 /><rect x=360 y=108 fill=#ec1d25 /><rect x=372 y=108 fill=#ec1d25 /><rect x=384 y=108 fill=#ec1d25 /><rect x=396 y=108 fill=#ec1d25 /><rect x=408 y=108 fill=#ec1d25 /><rect x=420 y=108 fill=#ec1d25 /><rect x=432 y=108 fill=#ec1d25 /><rect x=444 y=108 fill=#ec1d25 /><rect x=456 y=108 fill=#ec1d25 /><rect x=-12 y=120 fill=#70bb43 /><rect x=0 y=120 fill=#71bb43 /><rect x=12 y=120 fill=#73bb42 /><rect x=24 y=120 fill=#75bc42 /><rect x=36 y=120 fill=#77bd41 /><rect x=48 y=120 fill=#79bd41 /><rect x=60 y=120 fill=#7bbe40 /><rect x=72 y=120 fill=#7fbf3f /><rect x=84 y=120 fill=#fad90d /><rect x=96 y=120 fill=#fad90d /><rect x=108 y=120 fill=#fad80c /><rect x=120 y=120 fill=#fad70c /><rect x=132 y=120 fill=#fbd60b /><rect x=144 y=120 fill=#fbd40a /><rect x=156 y=120 fill=#fbd309 /><rect x=168 y=120 fill=#fcd108 /><rect x=180 y=120 fill=#fdcf06 /><rect x=192 y=120 fill=#fdcc07 /><rect x=204 y=120 fill=#fdc909 /><rect x=216 y=120 fill=#fcc50b /><rect x=228 y=120 fill=#fcc10e /><rect x=240 y=120 fill=#fbbc11 /><rect x=252 y=120 fill=#fbb615 /><rect x=264 y=120 fill=#f9ad19 /><rect x=276 y=120 fill=#f7a31e /><rect x=288 y=120 fill=#f59621 /><rect x=300 y=120 fill=#f28425 /><rect x=312 y=120 fill=#ef6727 /><rect x=324 y=120 fill=#ec4428 /><rect x=336 y=120 fill=#ec2626 /><rect x=348 y=120 fill=#ec1d25 /><rect x=360 y=120 fill=#ec1d25 /><rect x=372 y=120 fill=#ec1d25 /><rect x=384 y=120 fill=#ec1d25 /><rect x=396 y=120 fill=#ec1d25 /><rect x=408 y=120 fill=#ec1d25 /><rect x=420 y=120 fill=#ec1d25 /><rect x=432 y=120 fill=#ec1d25 /><rect x=444 y=120 fill=#ec1d25 /><rect x=456 y=120 fill=#ec1d25 /><rect x=-12 y=132 fill=#6cba43 /><rect x=0 y=132 fill=#6dba43 /><rect x=12 y=132 fill=#6eba43 /><rect x=24 y=132 fill=#6fba43 /><rect x=36 y=132 fill=#71bb42 /><rect x=48 y=132 fill=#73bb42 /><rect x=60 y=132 fill=#75bc41 /><rect x=72 y=132 fill=#79bd41 /><rect x=84 y=132 fill=#f9da0d /><rect x=96 y=132 fill=#f9da0d /><rect x=108 y=132 fill=#fad90d /><rect x=120 y=132 fill=#fad80c /><rect x=132 y=132 fill=#fbd60b /><rect x=144 y=132 fill=#fbd40a /><rect x=156 y=132 fill=#fbd309 /><rect x=168 y=132 fill=#fcd108 /><rect x=180 y=132 fill=#fdcf07 /><rect x=192 y=132 fill=#fdcd07 /><rect x=204 y=132 fill=#fdca09 /><rect x=216 y=132 fill=#fcc70b /><rect x=228 y=132 fill=#fcc20d /><rect x=240 y=132 fill=#fbbd11 /><rect x=252 y=132 fill=#fbb715 /><rect x=264 y=132 fill=#f9ae18 /><rect x=276 y=132 fill=#f7a31d /><rect x=288 y=132 fill=#f59621 /><rect x=300 y=132 fill=#f28525 /><rect x=312 y=132 fill=#ef6927 /><rect x=324 y=132 fill=#ed4828 /><rect x=336 y=132 fill=#ec2826 /><rect x=348 y=132 fill=#ec1d25 /><rect x=360 y=132 fill=#ec1d25 /><rect x=372 y=132 fill=#ec1d25 /><rect x=384 y=132 fill=#ec1d25 /><rect x=396 y=132 fill=#ec1d25 /><rect x=408 y=132 fill=#ec1d25 /><rect x=420 y=132 fill=#ec1d25 /><rect x=432 y=132 fill=#ec1d25 /><rect x=444 y=132 fill=#ec1d25 /><rect x=456 y=132 fill=#ec1d25 /><rect x=-12 y=144 fill=#6ab944 /><rect x=0 y=144 fill=#6ab944 /><rect x=12 y=144 fill=#6bb944 /><rect x=24 y=144 fill=#6cba44 /><rect x=36 y=144 fill=#6dba43 /><rect x=48 y=144 fill=#6fba43 /><rect x=60 y=144 fill=#72bb42 /><rect x=72 y=144 fill=#76bc41 /><rect x=84 y=144 fill=#f9db0e /><rect x=96 y=144 fill=#f9db0e /><rect x=108 y=144 fill=#f9da0d /><rect x=120 y=144 fill=#fad80c /><rect x=132 y=144 fill=#fad60b /><rect x=144 y=144 fill=#fbd40a /><rect x=156 y=144 fill=#fbd309 /><rect x=168 y=144 fill=#fcd208 /><rect x=180 y=144 fill=#fcd007 /><rect x=192 y=144 fill=#fdce06 /><rect x=204 y=144 fill=#fdcb08 /><rect x=216 y=144 fill=#fcc80a /><rect x=228 y=144 fill=#fcc40d /><rect x=240 y=144 fill=#fcbe10 /><rect x=252 y=144 fill=#fbb814 /><rect x=264 y=144 fill=#f9af18 /><rect x=276 y=144 fill=#f7a51d /><rect x=288 y=144 fill=#f59821 /><rect x=300 y=144 fill=#f28724 /><rect x=312 y=144 fill=#f06c26 /><rect x=324 y=144 fill=#ed4d28 /><rect x=336 y=144 fill=#ec2c26 /><rect x=348 y=144 fill=#ec1d25 /><rect x=360 y=144 fill=#ec1d25 /><rect x=372 y=144 fill=#ec1d25 /><rect x=384 y=144 fill=#ec1d25 /><rect x=396 y=144 fill=#ec1d25 /><rect x=408 y=144 fill=#ec1d25 /><rect x=420 y=144 fill=#ec1d25 /><rect x=432 y=144 fill=#ec1d25 /><rect x=444 y=144 fill=#ec1d25 /><rect x=456 y=144 fill=#ec1d25 /><rect x=-12 y=156 fill=#6ab944 /><rect x=0 y=156 fill=#6ab944 /><rect x=12 y=156 fill=#6ab944 /><rect x=24 y=156 fill=#6bb944 /><rect x=36 y=156 fill=#6cba44 /><rect x=48 y=156 fill=#6eba43 /><rect x=60 y=156 fill=#70bb43 /><rect x=72 y=156 fill=#f8dd0f /><rect x=84 y=156 fill=#f8dd0f /><rect x=96 y=156 fill=#f8dd0f /><rect x=108 y=156 fill=#f9dc0f /><rect x=120 y=156 fill=#f9da0d /><rect x=132 y=156 fill=#fad80c /><rect x=144 y=156 fill=#fbd50b /><rect x=156 y=156 fill=#fbd40a /><rect x=168 y=156 fill=#fcd309 /><rect x=180 y=156 fill=#fcd108 /><rect x=192 y=156 fill=#fdd007 /><rect x=204 y=156 fill=#fdcd07 /><rect x=216 y=156 fill=#fdca09 /><rect x=228 y=156 fill=#fcc60b /><rect x=240 y=156 fill=#fcc10f /><rect x=252 y=156 fill=#fbba13 /><rect x=264 y=156 fill=#fab217 /><rect x=276 y=156 fill=#f8a71c /><rect x=288 y=156 fill=#f69b20 /><rect x=300 y=156 fill=#f38b24 /><rect x=312 y=156 fill=#f07126 /><rect x=324 y=156 fill=#ed5328 /><rect x=336 y=156 fill=#ec3227 /><rect x=348 y=156 fill=#ec1d25 /><rect x=360 y=156 fill=#ec1d25 /><rect x=372 y=156 fill=#ec1d25 /><rect x=384 y=156 fill=#ec1d25 /><rect x=396 y=156 fill=#ec1d25 /><rect x=408 y=156 fill=#ec1d25 /><rect x=420 y=156 fill=#ec1d25 /><rect x=432 y=156 fill=#ec1d25 /><rect x=444 y=156 fill=#ec1d25 /><rect x=456 y=156 fill=#ec1d25 /><rect x=-12 y=168 fill=#6ab944 /><rect x=0 y=168 fill=#6ab944 /><rect x=12 y=168 fill=#6ab944 /><rect x=24 y=168 fill=#6ab944 /><rect x=36 y=168 fill=#6bb944 /><rect x=48 y=168 fill=#6dba43 /><rect x=60 y=168 fill=#6fba43 /><rect x=72 y=168 fill=#f7df11 /><rect x=84 y=168 fill=#f7df11 /><rect x=96 y=168 fill=#f7df11 /><rect x=108 y=168 fill=#f8de10 /><rect x=120 y=168 fill=#f8dc0f /><rect x=132 y=168 fill=#f9da0e /><rect x=144 y=168 fill=#fad80c /><rect x=156 y=168 fill=#fad60b /><rect x=168 y=168 fill=#fbd50a /><rect x=180 y=168 fill=#fbd309 /><rect x=192 y=168 fill=#fcd108 /><rect x=204 y=168 fill=#fdcf07 /><rect x=216 y=168 fill=#fdcc07 /><rect x=228 y=168 fill=#fcc80a /><rect x=240 y=168 fill=#fcc40d /><rect x=252 y=168 fill=#fcbe10 /><rect x=264 y=168 fill=#fbb615 /><rect x=276 y=168 fill=#f9ac19 /><rect x=288 y=168 fill=#f7a01f /><rect x=300 y=168 fill=#f49123 /><rect x=312 y=168 fill=#f17826 /><rect x=324 y=168 fill=#ee5a28 /><rect x=336 y=168 fill=#ec3927 /><rect x=348 y=168 fill=#ec2125 /><rect x=360 y=168 fill=#ec1d25 /><rect x=372 y=168 fill=#ec1d25 /><rect x=384 y=168 fill=#ec1d25 /><rect x=396 y=168 fill=#ec1d25 /><rect x=408 y=168 fill=#ec1d25 /><rect x=420 y=168 fill=#ec1d25 /><rect x=432 y=168 fill=#ec1d25 /><rect x=444 y=168 fill=#ec1d25 /><rect x=456 y=168 fill=#ec1d25 /><rect x=-12 y=180 fill=#6ab945 /><rect x=0 y=180 fill=#6ab945 /><rect x=12 y=180 fill=#6ab944 /><rect x=24 y=180 fill=#6ab944 /><rect x=36 y=180 fill=#6ab944 /><rect x=48 y=180 fill=#6cb944 /><rect x=60 y=180 fill=#6eba43 /><rect x=72 y=180 fill=#f6e112 /><rect x=84 y=180 fill=#f6e112 /><rect x=96 y=180 fill=#f6e112 /><rect x=108 y=180 fill=#f7e012 /><rect x=120 y=180 fill=#f7df11 /><rect x=132 y=180 fill=#f8dd0f /><rect x=144 y=180 fill=#f9db0e /><rect x=156 y=180 fill=#fad90d /><rect x=168 y=180 fill=#fad70c /><rect x=180 y=180 fill=#fbd50a /><rect x=192 y=180 fill=#fcd309 /><rect x=204 y=180 fill=#fcd108 /><rect x=216 y=180 fill=#fdce06 /><rect x=228 y=180 fill=#fdcb08 /><rect x=240 y=180 fill=#fcc70a /><rect x=252 y=180 fill=#fcc20e /><rect x=264 y=180 fill=#fbba12 /><rect x=276 y=180 fill=#fab117 /><rect x=288 y=180 fill=#f8a61c /><rect x=300 y=180 fill=#f59821 /><rect x=312 y=180 fill=#f28025 /><rect x=324 y=180 fill=#ef6227 /><rect x=336 y=180 fill=#ec4028 /><rect x=348 y=180 fill=#ec2526 /><rect x=360 y=180 fill=#ec1d25 /><rect x=372 y=180 fill=#ec1d25 /><rect x=384 y=180 fill=#ec1d25 /><rect x=396 y=180 fill=#ec1d25 /><rect x=408 y=180 fill=#ec1d25 /><rect x=420 y=180 fill=#ec1d25 /><rect x=432 y=180 fill=#ec1d25 /><rect x=444 y=180 fill=#ec1d25 /><rect x=456 y=180 fill=#ec1d25 /><rect x=-12 y=192 fill=#6ab945 /><rect x=0 y=192 fill=#6ab945 /><rect x=12 y=192 fill=#6ab944 /><rect x=24 y=192 fill=#6ab944 /><rect x=36 y=192 fill=#6ab944 /><rect x=48 y=192 fill=#6bb944 /><rect x=60 y=192 fill=#f6e213 /><rect x=72 y=192 fill=#f6e213 /><rect x=84 y=192 fill=#f6e213 /><rect x=96 y=192 fill=#f6e213 /><rect x=108 y=192 fill=#f6e113 /><rect x=120 y=192 fill=#f7e012 /><rect x=132 y=192 fill=#f7df11 /><rect x=144 y=192 fill=#f8de10 /><rect x=156 y=192 fill=#f9dc0f /><rect x=168 y=192 fill=#f9d90d /><rect x=180 y=192 fill=#fad70c /><rect x=192 y=192 fill=#fbd40a /><rect x=204 y=192 fill=#fcd209 /><rect x=216 y=192 fill=#fcd007 /><rect x=228 y=192 fill=#fdce06 /><rect x=240 y=192 fill=#fdcb08 /><rect x=252 y=192 fill=#fcc60b /><rect x=264 y=192 fill=#fcbf10 /><rect x=276 y=192 fill=#fbb615 /><rect x=288 y=192 fill=#f9ac1a /><rect x=300 y=192 fill=#f69e1f /><rect x=312 y=192 fill=#f38924 /><rect x=324 y=192 fill=#ef6b27 /><rect x=336 y=192 fill=#ed4a28 /><rect x=348 y=192 fill=#ec2b26 /><rect x=360 y=192 fill=#ec1d25 /><rect x=372 y=192 fill=#ec1d25 /><rect x=384 y=192 fill=#ec1d25 /><rect x=396 y=192 fill=#ec1d25 /><rect x=408 y=192 fill=#ec1d25 /><rect x=420 y=192 fill=#ec1d25 /><rect x=432 y=192 fill=#ec1d25 /><rect x=444 y=192 fill=#ec1d25 /><rect x=456 y=192 fill=#ec1d25 /><rect x=-12 y=204 fill=#6ab945 /><rect x=0 y=204 fill=#6ab945 /><rect x=12 y=204 fill=#6ab945 /><rect x=24 y=204 fill=#6ab944 /><rect x=36 y=204 fill=#6ab944 /><rect x=48 y=204 fill=#6ab944 /><rect x=60 y=204 fill=#f5e214 /><rect x=72 y=204 fill=#f5e214 /><rect x=84 y=204 fill=#f5e214 /><rect x=96 y=204 fill=#f5e214 /><rect x=108 y=204 fill=#f6e213 /><rect x=120 y=204 fill=#f6e113 /><rect x=132 y=204 fill=#f7e012 /><rect x=144 y=204 fill=#f7df11 /><rect x=156 y=204 fill=#f8dd10 /><rect x=168 y=204 fill=#f9db0e /><rect x=180 y=204 fill=#fad90d /><rect x=192 y=204 fill=#fad60b /><rect x=204 y=204 fill=#fbd40a /><rect x=216 y=204 fill=#fcd209 /><rect x=228 y=204 fill=#fcd007 /><rect x=240 y=204 fill=#fdce06 /><rect x=252 y=204 fill=#fdc909 /><rect x=264 y=204 fill=#fcc30d /><rect x=276 y=204 fill=#fbba12 /><rect x=288 y=204 fill=#fab117 /><rect x=300 y=204 fill=#f7a41d /><rect x=312 y=204 fill=#f49123 /><rect x=324 y=204 fill=#f17626 /><rect x=336 y=204 fill=#ee5928 /><rect x=348 y=204 fill=#ec3927 /><rect x=360 y=204 fill=#ec1d25 /><rect x=372 y=204 fill=#ec1d25 /><rect x=384 y=204 fill=#ec1d25 /><rect x=396 y=204 fill=#ec1d25 /><rect x=408 y=204 fill=#ec1d25 /><rect x=420 y=204 fill=#ec1d25 /><rect x=432 y=204 fill=#ec1d25 /><rect x=444 y=204 fill=#ec1d25 /><rect x=456 y=204 fill=#ec1d25 /><rect x=-12 y=216 fill=#6ab945 /><rect x=0 y=216 fill=#6ab945 /><rect x=12 y=216 fill=#6ab945 /><rect x=24 y=216 fill=#6ab944 /><rect x=36 y=216 fill=#6ab944 /><rect x=48 y=216 fill=#6ab944 /><rect x=60 y=216 fill=#f5e314 /><rect x=72 y=216 fill=#f5e314 /><rect x=84 y=216 fill=#f5e314 /><rect x=96 y=216 fill=#f5e314 /><rect x=108 y=216 fill=#f5e214 /><rect x=120 y=216 fill=#f6e213 /><rect x=132 y=216 fill=#f6e112 /><rect x=144 y=216 fill=#f7e011 /><rect x=156 y=216 fill=#f8df11 /><rect x=168 y=216 fill=#f8dd0f /><rect x=180 y=216 fill=#f9db0e /><rect x=192 y=216 fill=#fad90d /><rect x=204 y=216 fill=#fad70b /><rect x=216 y=216 fill=#fbd50a /><rect x=228 y=216 fill=#fcd309 /><rect x=240 y=216 fill=#fcd007 /><rect x=252 y=216 fill=#fdcc07 /><rect x=264 y=216 fill=#fcc60b /><rect x=276 y=216 fill=#fcbf10 /><rect x=288 y=216 fill=#fbb515 /><rect x=300 y=216 fill=#f9aa1a /><rect x=312 y=216 fill=#f69b20 /><rect x=324 y=216 fill=#f28624 /><rect x=336 y=216 fill=#ef6b27 /><rect x=348 y=216 fill=#ed4f28 /><rect x=360 y=216 fill=#ec2926 /><rect x=372 y=216 fill=#ec1d25 /><rect x=384 y=216 fill=#ec1d25 /><rect x=396 y=216 fill=#ec1d25 /><rect x=408 y=216 fill=#ec1d25 /><rect x=420 y=216 fill=#ec1d25 /><rect x=432 y=216 fill=#ec1d25 /><rect x=444 y=216 fill=#ec1d25 /><rect x=456 y=216 fill=#ec1d25 /><rect x=-12 y=228 fill=#6ab945 /><rect x=0 y=228 fill=#6ab945 /><rect x=12 y=228 fill=#6ab945 /><rect x=24 y=228 fill=#6ab945 /><rect x=36 y=228 fill=#6ab945 /><rect x=48 y=228 fill=#6ab945 /><rect x=60 y=228 fill=#f5e314 /><rect x=72 y=228 fill=#f5e314 /><rect x=84 y=228 fill=#f5e314 /><rect x=96 y=228 fill=#f5e314 /><rect x=108 y=228 fill=#f5e314 /><rect x=120 y=228 fill=#f5e213 /><rect x=132 y=228 fill=#f6e113 /><rect x=144 y=228 fill=#f6e112 /><rect x=156 y=228 fill=#f7e011 /><rect x=168 y=228 fill=#f8df10 /><rect x=180 y=228 fill=#f8dd0f /><rect x=192 y=228 fill=#f9db0e /><rect x=204 y=228 fill=#fad90d /><rect x=216 y=228 fill=#fad70c /><rect x=228 y=228 fill=#fbd50a /><rect x=240 y=228 fill=#fcd209 /><rect x=252 y=228 fill=#fdcf07 /><rect x=264 y=228 fill=#fdca09 /><rect x=276 y=228 fill=#fcc30d /><rect x=288 y=228 fill=#fbba13 /><rect x=300 y=228 fill=#fab117 /><rect x=312 y=228 fill=#f7a41d /><rect x=324 y=228 fill=#f49422 /><rect x=336 y=228 fill=#f28025 /><rect x=348 y=228 fill=#ef6727 /><rect x=360 y=228 fill=#ec3f28 /><rect x=372 y=228 fill=#ec1e25 /><rect x=384 y=228 fill=#ec1d25 /><rect x=396 y=228 fill=#ec1d25 /><rect x=408 y=228 fill=#ec1d25 /><rect x=420 y=228 fill=#ec1d25 /><rect x=432 y=228 fill=#ec1d25 /><rect x=444 y=228 fill=#ec1d25 /><rect x=456 y=228 fill=#ec1d25 /><rect x=-12 y=240 fill=#6ab945 /><rect x=0 y=240 fill=#6ab945 /><rect x=12 y=240 fill=#6ab945 /><rect x=24 y=240 fill=#6ab945 /><rect x=36 y=240 fill=#6ab945 /><rect x=48 y=240 fill=#f5e415 /><rect x=60 y=240 fill=#f5e415 /><rect x=72 y=240 fill=#f5e415 /><rect x=84 y=240 fill=#f5e415 /><rect x=96 y=240 fill=#f5e415 /><rect x=108 y=240 fill=#f5e314 /><rect x=120 y=240 fill=#f5e314 /><rect x=132 y=240 fill=#f5e213 /><rect x=144 y=240 fill=#f6e213 /><rect x=156 y=240 fill=#f6e112 /><rect x=168 y=240 fill=#f7e012 /><rect x=180 y=240 fill=#f7df11 /><rect x=192 y=240 fill=#f8de10 /><rect x=204 y=240 fill=#f9dc0f /><rect x=216 y=240 fill=#f9da0d /><rect x=228 y=240 fill=#fad70c /><rect x=240 y=240 fill=#fbd50a /><rect x=252 y=240 fill=#fcd108 /><rect x=264 y=240 fill=#fdcd07 /><rect x=276 y=240 fill=#fcc70b /><rect x=288 y=240 fill=#fcbf10 /><rect x=300 y=240 fill=#fbb615 /><rect x=312 y=240 fill=#f9ac1a /><rect x=324 y=240 fill=#f79f1f /><rect x=336 y=240 fill=#f49023 /><rect x=348 y=240 fill=#f17a25 /><rect x=360 y=240 fill=#ee5528 /><rect x=372 y=240 fill=#ec2926 /><rect x=384 y=240 fill=#ec1d25 /><rect x=396 y=240 fill=#ec1d25 /><rect x=408 y=240 fill=#ec1d25 /><rect x=420 y=240 fill=#ec1d25 /><rect x=432 y=240 fill=#ec1d25 /><rect x=444 y=240 fill=#ec1d25 /><rect x=456 y=240 fill=#ec1d25 /><rect x=-12 y=252 fill=#6ab945 /><rect x=0 y=252 fill=#6ab945 /><rect x=12 y=252 fill=#6ab945 /><rect x=24 y=252 fill=#6ab945 /><rect x=36 y=252 fill=#6ab945 /><rect x=48 y=252 fill=#f3e616 /><rect x=60 y=252 fill=#f3e616 /><rect x=72 y=252 fill=#f4e516 /><rect x=84 y=252 fill=#f4e516 /><rect x=96 y=252 fill=#f4e516 /><rect x=108 y=252 fill=#f4e515 /><rect x=120 y=252 fill=#f4e415 /><rect x=132 y=252 fill=#f5e415 /><rect x=144 y=252 fill=#f5e314 /><rect x=156 y=252 fill=#f5e213 /><rect x=168 y=252 fill=#f6e113 /><rect x=180 y=252 fill=#f7e012 /><rect x=192 y=252 fill=#f7df11 /><rect x=204 y=252 fill=#f8de10 /><rect x=216 y=252 fill=#f9dc0f /><rect x=228 y=252 fill=#f9da0d /><rect x=240 y=252 fill=#fad70c /><rect x=252 y=252 fill=#fbd40a /><rect x=264 y=252 fill=#fcd007 /><rect x=276 y=252 fill=#fdca08 /><rect x=288 y=252 fill=#fcc30d /><rect x=300 y=252 fill=#fbbb12 /><rect x=312 y=252 fill=#fab217 /><rect x=324 y=252 fill=#f8a71c /><rect x=336 y=252 fill=#f59821 /><rect x=348 y=252 fill=#f28525 /><rect x=360 y=252 fill=#ee6028 /><rect x=372 y=252 fill=#ec3227 /><rect x=384 y=252 fill=#ec1d25 /><rect x=396 y=252 fill=#ec1d25 /><rect x=408 y=252 fill=#ec1d25 /><rect x=420 y=252 fill=#ec1d25 /><rect x=432 y=252 fill=#ec1d25 /><rect x=444 y=252 fill=#ec1d25 /><rect x=456 y=252 fill=#ec1d25 /><rect x=-12 y=264 fill=#6ab945 /><rect x=0 y=264 fill=#6ab945 /><rect x=12 y=264 fill=#6ab945 /><rect x=24 y=264 fill=#6ab945 /><rect x=36 y=264 fill=#6ab945 /><rect x=48 y=264 fill=#d5dd23 /><rect x=60 y=264 fill=#dde020 /><rect x=72 y=264 fill=#e6e31d /><rect x=84 y=264 fill=#efe719 /><rect x=96 y=264 fill=#f2e818 /><rect x=108 y=264 fill=#f3e717 /><rect x=120 y=264 fill=#f3e617 /><rect x=132 y=264 fill=#f3e616 /><rect x=144 y=264 fill=#f4e515 /><rect x=156 y=264 fill=#f4e415 /><rect x=168 y=264 fill=#f5e314 /><rect x=180 y=264 fill=#f6e213 /><rect x=192 y=264 fill=#f7e012 /><rect x=204 y=264 fill=#f7df11 /><rect x=216 y=264 fill=#f8de10 /><rect x=228 y=264 fill=#f9dc0f /><rect x=240 y=264 fill=#fad90d /><rect x=252 y=264 fill=#fbd60b /><rect x=264 y=264 fill=#fcd209 /><rect x=276 y=264 fill=#fdce06 /><rect x=288 y=264 fill=#fcc70a /><rect x=300 y=264 fill=#fcbf0f /><rect x=312 y=264 fill=#fbb715 /><rect x=324 y=264 fill=#f9ac19 /><rect x=336 y=264 fill=#f69f1f /><rect x=348 y=264 fill=#f38d24 /><rect x=360 y=264 fill=#ef6727 /><rect x=372 y=264 fill=#ec3827 /><rect x=384 y=264 fill=#ec1d25 /><rect x=396 y=264 fill=#ec1d25 /><rect x=408 y=264 fill=#ec1d25 /><rect x=420 y=264 fill=#ec1d25 /><rect x=432 y=264 fill=#ec1d25 /><rect x=444 y=264 fill=#ec1d25 /><rect x=456 y=264 fill=#ec1d25 /><rect x=-12 y=276 fill=#6ab945 /><rect x=0 y=276 fill=#6ab945 /><rect x=12 y=276 fill=#6ab945 /><rect x=24 y=276 fill=#6ab945 /><rect x=36 y=276 fill=#6ab945 /><rect x=48 y=276 fill=#99c63a /><rect x=60 y=276 fill=#aece32 /><rect x=72 y=276 fill=#c5d62a /><rect x=84 y=276 fill=#d6dd23 /><rect x=96 y=276 fill=#e0e11f /><rect x=108 y=276 fill=#e7e41c /><rect x=120 y=276 fill=#ede61a /><rect x=132 y=276 fill=#f2e818 /><rect x=144 y=276 fill=#f3e717 /><rect x=156 y=276 fill=#f3e616 /><rect x=168 y=276 fill=#f4e415 /><rect x=180 y=276 fill=#f5e314 /><rect x=192 y=276 fill=#f6e213 /><rect x=204 y=276 fill=#f6e112 /><rect x=216 y=276 fill=#f7df11 /><rect x=228 y=276 fill=#f8de10 /><rect x=240 y=276 fill=#f9db0e /><rect x=252 y=276 fill=#fad80c /><rect x=264 y=276 fill=#fbd50a /><rect x=276 y=276 fill=#fcd108 /><rect x=288 y=276 fill=#fdcb08 /><rect x=300 y=276 fill=#fcc30d /><rect x=312 y=276 fill=#fbbb12 /><rect x=324 y=276 fill=#fab117 /><rect x=336 y=276 fill=#f7a41d /><rect x=348 y=276 fill=#f49222 /><rect x=360 y=276 fill=#f06d26 /><rect x=372 y=276 fill=#ec3d28 /><rect x=384 y=276 fill=#ec1d25 /><rect x=396 y=276 fill=#ec1d25 /><rect x=408 y=276 fill=#ec1d25 /><rect x=420 y=276 fill=#ec1d25 /><rect x=432 y=276 fill=#ec1d25 /><rect x=444 y=276 fill=#ec1d25 /><rect x=456 y=276 fill=#ec1d25 /><rect x=-12 y=288 fill=#6ab946 /><rect x=0 y=288 fill=#6ab946 /><rect x=12 y=288 fill=#6ab945 /><rect x=24 y=288 fill=#6ab945 /><rect x=36 y=288 fill=#6ab945 /><rect x=48 y=288 fill=#7abd41 /><rect x=60 y=288 fill=#89c23d /><rect x=72 y=288 fill=#a1c937 /><rect x=84 y=288 fill=#bdd42c /><rect x=96 y=288 fill=#cdda26 /><rect x=108 y=288 fill=#d7dd23 /><rect x=120 y=288 fill=#dee020 /><rect x=132 y=288 fill=#e5e31d /><rect x=144 y=288 fill=#ece61a /><rect x=156 y=288 fill=#f2e818 /><rect x=168 y=288 fill=#f3e617 /><rect x=180 y=288 fill=#f4e515 /><rect x=192 y=288 fill=#f5e314 /><rect x=204 y=288 fill=#f6e213 /><rect x=216 y=288 fill=#f6e112 /><rect x=228 y=288 fill=#f7df11 /><rect x=240 y=288 fill=#f8de10 /><rect x=252 y=288 fill=#f9db0e /><rect x=264 y=288 fill=#fad70c /><rect x=276 y=288 fill=#fbd309 /><rect x=288 y=288 fill=#fdcf06 /><rect x=300 y=288 fill=#fcc80a /><rect x=312 y=288 fill=#fcc00f /><rect x=324 y=288 fill=#fbb615 /><rect x=336 y=288 fill=#f8a91b /><rect x=348 y=288 fill=#f59821 /><rect x=360 y=288 fill=#f07426 /><rect x=372 y=288 fill=#ec4428 /><rect x=384 y=288 fill=#ec1f25 /><rect x=396 y=288 fill=#ec1d25 /><rect x=408 y=288 fill=#ec1d25 /><rect x=420 y=288 fill=#ec1d25 /><rect x=432 y=288 fill=#ec1d25 /><rect x=444 y=288 fill=#ec1d25 /><rect x=456 y=288 fill=#ec1d25 /><rect x=-12 y=300 fill=#6ab946 /><rect x=0 y=300 fill=#6ab946 /><rect x=12 y=300 fill=#6ab946 /><rect x=24 y=300 fill=#6ab945 /><rect x=36 y=300 fill=#6ab945 /><rect x=48 y=300 fill=#73bc42 /><rect x=60 y=300 fill=#7cbe40 /><rect x=72 y=300 fill=#91c43c /><rect x=84 y=300 fill=#aacd33 /><rect x=96 y=300 fill=#bed42c /><rect x=108 y=300 fill=#cad828 /><rect x=120 y=300 fill=#d2db25 /><rect x=132 y=300 fill=#d9de22 /><rect x=144 y=300 fill=#e1e11f /><rect x=156 y=300 fill=#e9e51b /><rect x=168 y=300 fill=#f1e818 /><rect x=180 y=300 fill=#f3e717 /><rect x=192 y=300 fill=#f4e516 /><rect x=204 y=300 fill=#f5e415 /><rect x=216 y=300 fill=#f5e214 /><rect x=228 y=300 fill=#f6e112 /><rect x=240 y=300 fill=#f7df11 /><rect x=252 y=300 fill=#f8dd10 /><rect x=264 y=300 fill=#f9da0e /><rect x=276 y=300 fill=#fad70b /><rect x=288 y=300 fill=#fcd209 /><rect x=300 y=300 fill=#fdcd06 /><rect x=312 y=300 fill=#fcc50b /><rect x=324 y=300 fill=#fbbc12 /><rect x=336 y=300 fill=#f9af18 /><rect x=348 y=300 fill=#f69f1f /><rect x=360 y=300 fill=#f17e25 /><rect x=372 y=300 fill=#ed4f28 /><rect x=384 y=300 fill=#ec2526 /><rect x=396 y=300 fill=#ec1d25 /><rect x=408 y=300 fill=#ec1d25 /><rect x=420 y=300 fill=#ec1d25 /><rect x=432 y=300 fill=#ec1d25 /><rect x=444 y=300 fill=#ec1d25 /><rect x=456 y=300 fill=#ec1d25 /><rect x=-12 y=312 fill=#6ab947 /><rect x=0 y=312 fill=#6ab947 /><rect x=12 y=312 fill=#6ab946 /><rect x=24 y=312 fill=#6ab945 /><rect x=36 y=312 fill=#6ab945 /><rect x=48 y=312 fill=#70bb43 /><rect x=60 y=312 fill=#79bd41 /><rect x=72 y=312 fill=#89c23d /><rect x=84 y=312 fill=#9cc838 /><rect x=96 y=312 fill=#b0cf31 /><rect x=108 y=312 fill=#bdd32d /><rect x=120 y=312 fill=#c7d729 /><rect x=132 y=312 fill=#ceda26 /><rect x=144 y=312 fill=#d6dd23 /><rect x=156 y=312 fill=#dee020 /><rect x=168 y=312 fill=#e5e31d /><rect x=180 y=312 fill=#ede61a /><rect x=192 y=312 fill=#f2e818 /><rect x=204 y=312 fill=#f3e616 /><rect x=216 y=312 fill=#f4e515 /><rect x=228 y=312 fill=#f5e314 /><rect x=240 y=312 fill=#f6e113 /><rect x=252 y=312 fill=#f7df11 /><rect x=264 y=312 fill=#f8de10 /><rect x=276 y=312 fill=#f9da0e /><rect x=288 y=312 fill=#fad70b /><rect x=300 y=312 fill=#fcd209 /><rect x=312 y=312 fill=#fdcc07 /><rect x=324 y=312 fill=#fcc30d /><rect x=336 y=312 fill=#fbb715 /><rect x=348 y=312 fill=#f8a71c /><rect x=360 y=312 fill=#f38b24 /><rect x=372 y=312 fill=#ef6027 /><rect x=384 y=312 fill=#ec3427 /><rect x=396 y=312 fill=#ec1d25 /><rect x=408 y=312 fill=#ec1d25 /><rect x=420 y=312 fill=#ec1d25 /><rect x=432 y=312 fill=#ec1d25 /><rect x=444 y=312 fill=#ec1d25 /><rect x=456 y=312 fill=#ec1d25 /><rect x=-12 y=324 fill=#6ab948 /><rect x=0 y=324 fill=#6ab948 /><rect x=12 y=324 fill=#6ab947 /><rect x=24 y=324 fill=#6ab946 /><rect x=36 y=324 fill=#6ab945 /><rect x=48 y=324 fill=#6eba43 /><rect x=60 y=324 fill=#76bc41 /><rect x=72 y=324 fill=#83c03f /><rect x=84 y=324 fill=#93c53b /><rect x=96 y=324 fill=#a2ca36 /><rect x=108 y=324 fill=#afce32 /><rect x=120 y=324 fill=#bad22e /><rect x=132 y=324 fill=#c4d62a /><rect x=144 y=324 fill=#cbd927 /><rect x=156 y=324 fill=#d2db25 /><rect x=168 y=324 fill=#d8de22 /><rect x=180 y=324 fill=#dfe020 /><rect x=192 y=324 fill=#e6e31d /><rect x=204 y=324 fill=#eee719 /><rect x=216 y=324 fill=#f3e717 /><rect x=228 y=324 fill=#f4e516 /><rect x=240 y=324 fill=#f5e314 /><rect x=252 y=324 fill=#f6e113 /><rect x=264 y=324 fill=#f7e012 /><rect x=276 y=324 fill=#f8de10 /><rect x=288 y=324 fill=#f9dc0e /><rect x=300 y=324 fill=#fad80c /><rect x=312 y=324 fill=#fcd209 /><rect x=324 y=324 fill=#fdca08 /><rect x=336 y=324 fill=#fcbe10 /><rect x=348 y=324 fill=#f9af18 /><rect x=360 y=324 fill=#f59721 /><rect x=372 y=324 fill=#f07426 /><rect x=384 y=324 fill=#ed4d28 /><rect x=396 y=324 fill=#ec2a26 /><rect x=408 y=324 fill=#ec1d25 /><rect x=420 y=324 fill=#ec1d25 /><rect x=432 y=324 fill=#ec1d25 /><rect x=444 y=324 fill=#ec1d25 /><rect x=456 y=324 fill=#ec1d25 /><rect x=-12 y=336 fill=#6bba53 /><rect x=0 y=336 fill=#6ab94b /><rect x=12 y=336 fill=#6ab947 /><rect x=24 y=336 fill=#6ab946 /><rect x=36 y=336 fill=#6ab945 /><rect x=48 y=336 fill=#6bb944 /><rect x=60 y=336 fill=#73bc42 /><rect x=72 y=336 fill=#7cbe40 /><rect x=84 y=336 fill=#8bc23d /><rect x=96 y=336 fill=#96c53a /><rect x=108 y=336 fill=#a2ca36 /><rect x=120 y=336 fill=#adcd33 /><rect x=132 y=336 fill=#b6d12f /><rect x=144 y=336 fill=#bfd42c /><rect x=156 y=336 fill=#c6d729 /><rect x=168 y=336 fill=#cbd927 /><rect x=180 y=336 fill=#d1db25 /><rect x=192 y=336 fill=#d7dd23 /><rect x=204 y=336 fill=#e0e11f /><rect x=216 y=336 fill=#ebe51b /><rect x=228 y=336 fill=#f3e717 /><rect x=240 y=336 fill=#f4e516 /><rect x=252 y=336 fill=#f5e414 /><rect x=264 y=336 fill=#f5e213 /><rect x=276 y=336 fill=#f6e112 /><rect x=288 y=336 fill=#f7df11 /><rect x=300 y=336 fill=#f8dc0f /><rect x=312 y=336 fill=#fad70c /><rect x=324 y=336 fill=#fcd007 /><rect x=336 y=336 fill=#fcc50c /><rect x=348 y=336 fill=#fbb714 /><rect x=360 y=336 fill=#f7a31e /><rect x=372 y=336 fill=#f38824 /><rect x=384 y=336 fill=#ef6627 /><rect x=396 y=336 fill=#ec4428 /><rect x=408 y=336 fill=#ec2626 /><rect x=420 y=336 fill=#ec1d25 /><rect x=432 y=336 fill=#ec1d25 /><rect x=444 y=336 fill=#ec1d25 /><rect x=456 y=336 fill=#ec1d25 /><rect x=-12 y=348 fill=#6bbc60 /><rect x=0 y=348 fill=#6bbb58 /><rect x=12 y=348 fill=#6ab948 /><rect x=24 y=348 fill=#6ab947 /><rect x=36 y=348 fill=#6ab946 /><rect x=48 y=348 fill=#6ab945 /><rect x=60 y=348 fill=#6fba43 /><rect x=72 y=348 fill=#77bd41 /><rect x=84 y=348 fill=#82c03f /><rect x=96 y=348 fill=#8dc33c /><rect x=108 y=348 fill=#96c53b /><rect x=120 y=348 fill=#9fc937 /><rect x=132 y=348 fill=#a8cc34 /><rect x=144 y=348 fill=#b1cf31 /><rect x=156 y=348 fill=#b8d22e /><rect x=168 y=348 fill=#bed42c /><rect x=180 y=348 fill=#c4d62a /><rect x=192 y=348 fill=#cad828 /><rect x=204 y=348 fill=#d3dc24 /><rect x=216 y=348 fill=#dee020 /><rect x=228 y=348 fill=#ebe51b /><rect x=240 y=348 fill=#f2e717 /><rect x=252 y=348 fill=#f3e616 /><rect x=264 y=348 fill=#f4e415 /><rect x=276 y=348 fill=#f5e314 /><rect x=288 y=348 fill=#f6e213 /><rect x=300 y=348 fill=#f7e011 /><rect x=312 y=348 fill=#f9db0e /><rect x=324 y=348 fill=#fbd40a /><rect x=336 y=348 fill=#fdcb08 /><rect x=348 y=348 fill=#fcbe10 /><rect x=360 y=348 fill=#f9ac19 /><rect x=372 y=348 fill=#f59621 /><rect x=384 y=348 fill=#f17a25 /><rect x=396 y=348 fill=#ee5b28 /><rect x=408 y=348 fill=#ec3827 /><rect x=420 y=348 fill=#ec1d25 /><rect x=432 y=348 fill=#ec1d25 /><rect x=444 y=348 fill=#ec1d25 /><rect x=456 y=348 fill=#ec1d25 /><rect x=-12 y=360 fill=#6cbd74 /><rect x=0 y=360 fill=#6cbd6c /><rect x=12 y=360 fill=#6bbb5e /><rect x=24 y=360 fill=#6aba4e /><rect x=36 y=360 fill=#6ab947 /><rect x=48 y=360 fill=#6ab946 /><rect x=60 y=360 fill=#6ab945 /><rect x=72 y=360 fill=#71bb42 /><rect x=84 y=360 fill=#7abe40 /><rect x=96 y=360 fill=#86c13e /><rect x=108 y=360 fill=#8ec33c /><rect x=120 y=360 fill=#94c53b /><rect x=132 y=360 fill=#9bc739 /><rect x=144 y=360 fill=#a3ca36 /><rect x=156 y=360 fill=#abcd33 /><rect x=168 y=360 fill=#b1cf31 /><rect x=180 y=360 fill=#b7d12f /><rect x=192 y=360 fill=#bfd42c /><rect x=204 y=360 fill=#c8d828 /><rect x=216 y=360 fill=#d3dc24 /><rect x=228 y=360 fill=#dfe020 /><rect x=240 y=360 fill=#eae51b /><rect x=252 y=360 fill=#f2e818 /><rect x=264 y=360 fill=#f3e717 /><rect x=276 y=360 fill=#f4e516 /><rect x=288 y=360 fill=#f5e415 /><rect x=300 y=360 fill=#f6e213 /><rect x=312 y=360 fill=#f8de10 /><rect x=324 y=360 fill=#fad80c /><rect x=336 y=360 fill=#fcd007 /><rect x=348 y=360 fill=#fcc40c /><rect x=360 y=360 fill=#fab416 /><rect x=372 y=360 fill=#f7a11e /><rect x=384 y=360 fill=#f38b24 /><rect x=396 y=360 fill=#f06e26 /><rect x=408 y=360 fill=#ed4e28 /><rect x=420 y=360 fill=#ec2a26 /><rect x=432 y=360 fill=#ec1d25 /><rect x=444 y=360 fill=#ec1d25 /><rect x=456 y=360 fill=#ec1d25 /><rect x=-12 y=372 fill=#6ec091 /><rect x=0 y=372 fill=#6dbf8c /><rect x=12 y=372 fill=#6dbe7c /><rect x=24 y=372 fill=#6cbd6a /><rect x=36 y=372 fill=#6bbb5a /><rect x=48 y=372 fill=#6ab949 /><rect x=60 y=372 fill=#6ab946 /><rect x=72 y=372 fill=#6ab944 /><rect x=84 y=372 fill=#76bc41 /><rect x=96 y=372 fill=#7ebf40 /><rect x=108 y=372 fill=#86c13e /><rect x=120 y=372 fill=#8cc33c /><rect x=132 y=372 fill=#92c43b /><rect x=144 y=372 fill=#97c63a /><rect x=156 y=372 fill=#9ec838 /><rect x=168 y=372 fill=#a4ca36 /><rect x=180 y=372 fill=#abcd33 /><rect x=192 y=372 fill=#b2d030 /><rect x=204 y=372 fill=#bcd32d /><rect x=216 y=372 fill=#c8d729 /><rect x=228 y=372 fill=#d2dc24 /><rect x=240 y=372 fill=#dde020 /><rect x=252 y=372 fill=#e6e31d /><rect x=264 y=372 fill=#ede61a /><rect x=276 y=372 fill=#f2e718 /><rect x=288 y=372 fill=#f3e616 /><rect x=300 y=372 fill=#f5e314 /><rect x=312 y=372 fill=#f7e012 /><rect x=324 y=372 fill=#f9db0e /><rect x=336 y=372 fill=#fbd309 /><rect x=348 y=372 fill=#fdca09 /><rect x=360 y=372 fill=#fbbc12 /><rect x=372 y=372 fill=#f9ac1a /><rect x=384 y=372 fill=#f59920 /><rect x=396 y=372 fill=#f28125 /><rect x=408 y=372 fill=#ef6327 /><rect x=420 y=372 fill=#ec3f28 /><rect x=432 y=372 fill=#ec2225 /><rect x=444 y=372 fill=#ec1d25 /><rect x=456 y=372 fill=#ec1d25 /><rect x=-12 y=384 fill=#6fc2a8 /><rect x=0 y=384 fill=#6fc1a6 /><rect x=12 y=384 fill=#6ec09c /><rect x=24 y=384 fill=#6dbf8b /><rect x=36 y=384 fill=#6cbe76 /><rect x=48 y=384 fill=#6bbc63 /><rect x=60 y=384 fill=#6ab948 /><rect x=72 y=384 fill=#6ab945 /><rect x=84 y=384 fill=#70bb43 /><rect x=96 y=384 fill=#78bd41 /><rect x=108 y=384 fill=#7dbe40 /><rect x=120 y=384 fill=#84c03e /><rect x=132 y=384 fill=#89c23d /><rect x=144 y=384 fill=#8ec33c /><rect x=156 y=384 fill=#93c43b /><rect x=168 y=384 fill=#97c63a /><rect x=180 y=384 fill=#9dc838 /><rect x=192 y=384 fill=#a5cb35 /><rect x=204 y=384 fill=#aece32 /><rect x=216 y=384 fill=#b9d22e /><rect x=228 y=384 fill=#c5d62a /><rect x=240 y=384 fill=#ceda26 /><rect x=252 y=384 fill=#d7de22 /><rect x=264 y=384 fill=#e0e11f /><rect x=276 y=384 fill=#e9e51b /><rect x=288 y=384 fill=#f2e818 /><rect x=300 y=384 fill=#f4e516 /><rect x=312 y=384 fill=#f6e213 /><rect x=324 y=384 fill=#f8de10 /><rect x=336 y=384 fill=#fad60b /><rect x=348 y=384 fill=#fdcf06 /><rect x=360 y=384 fill=#fcc30d /><rect x=372 y=384 fill=#fbb615 /><rect x=384 y=384 fill=#f8a61c /><rect x=396 y=384 fill=#f49322 /><rect x=408 y=384 fill=#f17726 /><rect x=420 y=384 fill=#ee5628 /><rect x=432 y=384 fill=#ec3127 /><rect x=444 y=384 fill=#ec1d25 /><rect x=456 y=384 fill=#ec1d25 /><rect x=-12 y=396 fill=#6fc3b4 /><rect x=0 y=396 fill=#6fc3b2 /><rect x=12 y=396 fill=#6fc2ab /><rect x=24 y=396 fill=#6ec19d /><rect x=36 y=396 fill=#6dbf8c /><rect x=48 y=396 fill=#6cbe76 /><rect x=60 y=396 fill=#6bbb57 /><rect x=72 y=396 fill=#6ab946 /><rect x=84 y=396 fill=#6ab944 /><rect x=96 y=396 fill=#73bb42 /><rect x=108 y=396 fill=#77bd41 /><rect x=120 y=396 fill=#7abe40 /><rect x=132 y=396 fill=#7ebf40 /><rect x=144 y=396 fill=#83c03e /><rect x=156 y=396 fill=#88c13d /><rect x=168 y=396 fill=#8cc33d /><rect x=180 y=396 fill=#90c43c /><rect x=192 y=396 fill=#95c53b /><rect x=204 y=396 fill=#9cc739 /><rect x=216 y=396 fill=#a6cb35 /><rect x=228 y=396 fill=#b1cf31 /><rect x=240 y=396 fill=#bcd32d /><rect x=252 y=396 fill=#c7d729 /><rect x=264 y=396 fill=#d1db25 /><rect x=276 y=396 fill=#dce020 /><rect x=288 y=396 fill=#e9e41c /><rect x=300 y=396 fill=#f3e717 /><rect x=312 y=396 fill=#f5e414 /><rect x=324 y=396 fill=#f7e011 /><rect x=336 y=396 fill=#f9da0d /><rect x=348 y=396 fill=#fcd309 /><rect x=360 y=396 fill=#fdca08 /><rect x=372 y=396 fill=#fcbf0f /><rect x=384 y=396 fill=#fab217 /><rect x=396 y=396 fill=#f7a11e /><rect x=408 y=396 fill=#f38a24 /><rect x=420 y=396 fill=#ef6627 /><rect x=432 y=396 fill=#ec3d28 /><rect x=444 y=396 fill=#ec1d25 /><rect x=456 y=396 fill=#ec1d25 /><rect x=-12 y=408 fill=#70c3b8 /><rect x=0 y=408 fill=#70c3b6 /><rect x=12 y=408 fill=#6fc2b0 /><rect x=24 y=408 fill=#6fc1a4 /><rect x=36 y=408 fill=#6ec096 /><rect x=48 y=408 fill=#6dbf83 /><rect x=60 y=408 fill=#6bbc64 /><rect x=72 y=408 fill=#6ab948 /><rect x=84 y=408 fill=#6ab945 /><rect x=96 y=408 fill=#6ab944 /><rect x=108 y=408 fill=#6eba43 /><rect x=120 y=408 fill=#73bb42 /><rect x=132 y=408 fill=#76bc41 /><rect x=144 y=408 fill=#78bd41 /><rect x=156 y=408 fill=#7abd40 /><rect x=168 y=408 fill=#7cbe40 /><rect x=180 y=408 fill=#7ebf40 /><rect x=192 y=408 fill=#82c03f /><rect x=204 y=408 fill=#87c13e /><rect x=216 y=408 fill=#8dc33c /><rect x=228 y=408 fill=#94c53b /><rect x=240 y=408 fill=#9fc838 /><rect x=252 y=408 fill=#adcd33 /><rect x=264 y=408 fill=#bdd32d /><rect x=276 y=408 fill=#cdd927 /><rect x=288 y=408 fill=#dcdf21 /><rect x=300 y=408 fill=#ede61a /><rect x=312 y=408 fill=#f4e516 /><rect x=324 y=408 fill=#f6e213 /><rect x=336 y=408 fill=#f8dd10 /><rect x=348 y=408 fill=#fad70c /><rect x=360 y=408 fill=#fcd108 /><rect x=372 y=408 fill=#fdc909 /><rect x=384 y=408 fill=#fcbe10 /><rect x=396 y=408 fill=#fab018 /><rect x=408 y=408 fill=#f59821 /><rect x=420 y=408 fill=#f07326 /><rect x=432 y=408 fill=#ec4428 /><rect x=444 y=408 fill=#ec1d25 /><rect x=456 y=408 fill=#ec1d25 /><rect x=-12 y=420 fill=#70c3ba /><rect x=0 y=420 fill=#70c3b9 /><rect x=12 y=420 fill=#6fc3b3 /><rect x=24 y=420 fill=#6fc2a9 /><rect x=36 y=420 fill=#6ec09d /><rect x=48 y=420 fill=#6dbf8d /><rect x=60 y=420 fill=#6cbd72 /><rect x=72 y=420 fill=#6bbb57 /><rect x=84 y=420 fill=#6ab947 /><rect x=96 y=420 fill=#6ab946 /><rect x=108 y=420 fill=#6ab945 /><rect x=120 y=420 fill=#6ab944 /><rect x=132 y=420 fill=#6eba43 /><rect x=144 y=420 fill=#70bb43 /><rect x=156 y=420 fill=#71bb43 /><rect x=168 y=420 fill=#72bb42 /><rect x=180 y=420 fill=#72bb42 /><rect x=192 y=420 fill=#73bc42 /><rect x=204 y=420 fill=#75bc42 /><rect x=216 y=420 fill=#78bd41 /><rect x=228 y=420 fill=#7dbe40 /><rect x=240 y=420 fill=#86c13e /><rect x=252 y=420 fill=#91c43c /><rect x=264 y=420 fill=#a1c937 /><rect x=276 y=420 fill=#b9d22e /><rect x=288 y=420 fill=#cfda26 /><rect x=300 y=420 fill=#e2e21e /><rect x=312 y=420 fill=#f2e717 /><rect x=324 y=420 fill=#f5e415 /><rect x=336 y=420 fill=#f7e012 /><rect x=348 y=420 fill=#f9db0e /><rect x=360 y=420 fill=#fad60b /><rect x=372 y=420 fill=#fcd208 /><rect x=384 y=420 fill=#fdca08 /><rect x=396 y=420 fill=#fcbf10 /><rect x=408 y=420 fill=#f8a61c /><rect x=420 y=420 fill=#f17e25 /><rect x=432 y=420 fill=#ed4928 /><rect x=444 y=420 fill=#ec1d25 /><rect x=456 y=420 fill=#ec1d25 /><rect x=-12 y=432 fill=#70c4bd /><rect x=0 y=432 fill=#70c4bb /><rect x=12 y=432 fill=#6fc3b6 /><rect x=24 y=432 fill=#6fc2ad /><rect x=36 y=432 fill=#6fc1a3 /><rect x=48 y=432 fill=#6ec097 /><rect x=60 y=432 fill=#6dbe83 /><rect x=72 y=432 fill=#6cbd6b /><rect x=84 y=432 fill=#6bbb58 /><rect x=96 y=432 fill=#6ab948 /><rect x=108 y=432 fill=#6ab947 /><rect x=120 y=432 fill=#6ab946 /><rect x=132 y=432 fill=#6ab945 /><rect x=144 y=432 fill=#6ab944 /><rect x=156 y=432 fill=#6ab944 /><rect x=168 y=432 fill=#6ab944 /><rect x=180 y=432 fill=#6ab944 /><rect x=192 y=432 fill=#6ab944 /><rect x=204 y=432 fill=#6bb944 /><rect x=216 y=432 fill=#6eba43 /><rect x=228 y=432 fill=#72bb42 /><rect x=240 y=432 fill=#77bd41 /><rect x=252 y=432 fill=#7ebf40 /><rect x=264 y=432 fill=#8ec33c /><rect x=276 y=432 fill=#a5cb35 /><rect x=288 y=432 fill=#c2d52b /><rect x=300 y=432 fill=#d7dd23 /><rect x=312 y=432 fill=#ece51b /><rect x=324 y=432 fill=#f3e616 /><rect x=336 y=432 fill=#f6e213 /><rect x=348 y=432 fill=#f7df11 /><rect x=360 y=432 fill=#f9dc0e /><rect x=372 y=432 fill=#fad80c /><rect x=384 y=432 fill=#fbd309 /><rect x=396 y=432 fill=#fdcb08 /><rect x=408 y=432 fill=#fab217 /><rect x=420 y=432 fill=#f38824 /><rect x=432 y=432 fill=#ed4e28 /><rect x=444 y=432 fill=#ec1d25 /><rect x=456 y=432 fill=#ec1d25 /><rect x=-12 y=444 fill=#70c4c0 /><rect x=0 y=444 fill=#70c4bf /><rect x=12 y=444 fill=#70c3ba /><rect x=24 y=444 fill=#6fc3b4 /><rect x=36 y=444 fill=#6fc2ab /><rect x=48 y=444 fill=#6fc1a2 /><rect x=60 y=444 fill=#6ec095 /><rect x=72 y=444 fill=#6dbf84 /><rect x=84 y=444 fill=#6cbd71 /><rect x=96 y=444 fill=#6bbc62 /><rect x=108 y=444 fill=#6aba4d /><rect x=120 y=444 fill=#6ab947 /><rect x=132 y=444 fill=#6ab945 /><rect x=144 y=444 fill=#6ab945 /><rect x=156 y=444 fill=#6ab945 /><rect x=168 y=444 fill=#6ab945 /><rect x=180 y=444 fill=#6ab945 /><rect x=192 y=444 fill=#6ab945 /><rect x=204 y=444 fill=#6ab945 /><rect x=216 y=444 fill=#6ab944 /><rect x=228 y=444 fill=#6dba43 /><rect x=240 y=444 fill=#71bb42 /><rect x=252 y=444 fill=#77bd41 /><rect x=264 y=444 fill=#83c03f /><rect x=276 y=444 fill=#97c63a /><rect x=288 y=444 fill=#b6d12f /><rect x=300 y=444 fill=#ceda26 /><rect x=312 y=444 fill=#e3e21e /><rect x=324 y=444 fill=#f2e717 /><rect x=336 y=444 fill=#f4e415 /><rect x=348 y=444 fill=#f6e113 /><rect x=360 y=444 fill=#f7df11 /><rect x=372 y=444 fill=#f8dd0f /><rect x=384 y=444 fill=#fad90d /><rect x=396 y=444 fill=#fbd309 /><rect x=408 y=444 fill=#fbbd11 /><rect x=420 y=444 fill=#f49322 /><rect x=432 y=444 fill=#ee5528 /><rect x=444 y=444 fill=#ec1d25 /><rect x=456 y=444 fill=#ec1d25 /><rect x=-12 y=456 fill=#70c5c5 /><rect x=0 y=456 fill=#70c5c4 /><rect x=12 y=456 fill=#70c4c1 /><rect x=24 y=456 fill=#70c4bd /><rect x=36 y=456 fill=#70c3b8 /><rect x=48 y=456 fill=#6fc3b1 /><rect x=60 y=456 fill=#6fc2a9 /><rect x=72 y=456 fill=#6ec19e /><rect x=84 y=456 fill=#6ebf91 /><rect x=96 y=456 fill=#6dbe80 /><rect x=108 y=456 fill=#6bbc62 /><rect x=120 y=456 fill=#6ab948 /><rect x=132 y=456 fill=#6ab946 /><rect x=144 y=456 fill=#6ab945 /><rect x=156 y=456 fill=#6ab945 /><rect x=168 y=456 fill=#6ab945 /><rect x=180 y=456 fill=#6ab945 /><rect x=192 y=456 fill=#6ab945 /><rect x=204 y=456 fill=#6ab945 /><rect x=216 y=456 fill=#6ab944 /><rect x=228 y=456 fill=#6bb944 /><rect x=240 y=456 fill=#6fba43 /><rect x=252 y=456 fill=#74bc42 /><rect x=264 y=456 fill=#7cbe40 /><rect x=276 y=456 fill=#91c43b /><rect x=288 y=456 fill=#aece32 /><rect x=300 y=456 fill=#c8d729 /><rect x=312 y=456 fill=#dcdf21 /><rect x=324 y=456 fill=#efe719 /><rect x=336 y=456 fill=#f4e516 /><rect x=348 y=456 fill=#f5e314 /><rect x=360 y=456 fill=#f6e113 /><rect x=372 y=456 fill=#f7e011 /><rect x=384 y=456 fill=#f8de10 /><rect x=396 y=456 fill=#fad80d /><rect x=408 y=456 fill=#fcc70b /><rect x=420 y=456 fill=#f79f1f /><rect x=432 y=456 fill=#ef6527 /><rect x=444 y=456 fill=#ec2426 /><rect x=456 y=456 fill=#ec2426 /><rect x=-12 y=468 fill=#6fc6ca /><rect x=0 y=468 fill=#6fc6cb /><rect x=12 y=468 fill=#6fc6ca /><rect x=24 y=468 fill=#6fc5c9 /><rect x=36 y=468 fill=#70c5c6 /><rect x=48 y=468 fill=#70c4c3 /><rect x=60 y=468 fill=#70c4be /><rect x=72 y=468 fill=#70c3b8 /><rect x=84 y=468 fill=#6fc2af /><rect x=96 y=468 fill=#6fc1a4 /><rect x=108 y=468 fill=#6dbe7a /><rect x=120 y=468 fill=#6ab94b /><rect x=132 y=468 fill=#6ab946 /><rect x=144 y=468 fill=#6ab945 /><rect x=156 y=468 fill=#6ab945 /><rect x=168 y=468 fill=#6ab945 /><rect x=180 y=468 fill=#6ab945 /><rect x=192 y=468 fill=#6ab945 /><rect x=204 y=468 fill=#6ab945 /><rect x=216 y=468 fill=#6ab944 /><rect x=228 y=468 fill=#6ab944 /><rect x=240 y=468 fill=#6dba43 /><rect x=252 y=468 fill=#71bb42 /><rect x=264 y=468 fill=#79bd41 /><rect x=276 y=468 fill=#8dc33c /><rect x=288 y=468 fill=#a7cc34 /><rect x=300 y=468 fill=#c2d52b /><rect x=312 y=468 fill=#d6dd23 /><rect x=324 y=468 fill=#e8e41c /><rect x=336 y=468 fill=#f3e717 /><rect x=348 y=468 fill=#f4e515 /><rect x=360 y=468 fill=#f5e314 /><rect x=372 y=468 fill=#f6e213 /><rect x=384 y=468 fill=#f7e012 /><rect x=396 y=468 fill=#f8dd0f /><rect x=408 y=468 fill=#fdd007 /><rect x=420 y=468 fill=#f9ae19 /><rect x=432 y=468 fill=#f17d25 /><rect x=444 y=468 fill=#ec3d28 /><rect x=456 y=468 fill=#ec3d28 /><rect x=-12 y=480 fill=#6fc7d1 /><rect x=0 y=480 fill=#6fc7d3 /><rect x=12 y=480 fill=#6ec7d5 /><rect x=24 y=480 fill=#6ec7d6 /><rect x=36 y=480 fill=#6ec7d6 /><rect x=48 y=480 fill=#6ec7d4 /><rect x=60 y=480 fill=#6fc7d2 /><rect x=72 y=480 fill=#6fc6ce /><rect x=84 y=480 fill=#6fc5ca /><rect x=96 y=480 fill=#70c4c3 /><rect x=108 y=480 fill=#6ec095 /><rect x=120 y=480 fill=#6bba55 /><rect x=132 y=480 fill=#6ab946 /><rect x=144 y=480 fill=#6ab945 /><rect x=156 y=480 fill=#6ab945 /><rect x=168 y=480 fill=#6ab945 /><rect x=180 y=480 fill=#6ab945 /><rect x=192 y=480 fill=#6ab945 /><rect x=204 y=480 fill=#6ab945 /><rect x=216 y=480 fill=#6ab944 /><rect x=228 y=480 fill=#6ab944 /><rect x=240 y=480 fill=#6bb944 /><rect x=252 y=480 fill=#6fba43 /><rect x=264 y=480 fill=#77bd41 /><rect x=276 y=480 fill=#88c23d /><rect x=288 y=480 fill=#a1c937 /><rect x=300 y=480 fill=#bcd32d /><rect x=312 y=480 fill=#d0db25 /><rect x=324 y=480 fill=#e2e21e /><rect x=336 y=480 fill=#f2e818 /><rect x=348 y=480 fill=#f3e616 /><rect x=360 y=480 fill=#f4e515 /><rect x=372 y=480 fill=#f5e414 /><rect x=384 y=480 fill=#f5e213 /><rect x=396 y=480 fill=#f7e011 /><rect x=408 y=480 fill=#fbd50b /><rect x=420 y=480 fill=#fbbc12 /><rect x=432 y=480 fill=#f59621 /><rect x=444 y=480 fill=#ef6427 /><rect x=456 y=480 fill=#ef6427 /><rect x=-12 y=492 fill=#6ec8d9 /><rect x=0 y=492 fill=#6dc8da /><rect x=12 y=492 fill=#6bc8dc /><rect x=24 y=492 fill=#6ac8dd /><rect x=36 y=492 fill=#69c8dd /><rect x=48 y=492 fill=#69c8dd /><rect x=60 y=492 fill=#6ac8dd /><rect x=72 y=492 fill=#6bc8dc /><rect x=84 y=492 fill=#6dc8db /><rect x=96 y=492 fill=#6ec7d6 /><rect x=108 y=492 fill=#6fc2a9 /><rect x=120 y=492 fill=#6bbc60 /><rect x=132 y=492 fill=#6ab946 /><rect x=144 y=492 fill=#6ab945 /><rect x=156 y=492 fill=#6ab945 /><rect x=168 y=492 fill=#6ab945 /><rect x=180 y=492 fill=#6ab945 /><rect x=192 y=492 fill=#6ab945 /><rect x=204 y=492 fill=#6ab945 /><rect x=216 y=492 fill=#6ab945 /><rect x=228 y=492 fill=#6ab944 /><rect x=240 y=492 fill=#6ab944 /><rect x=252 y=492 fill=#6dba43 /><rect x=264 y=492 fill=#75bc42 /><rect x=276 y=492 fill=#84c03e /><rect x=288 y=492 fill=#9ac739 /><rect x=300 y=492 fill=#b4d030 /><rect x=312 y=492 fill=#cad828 /><rect x=324 y=492 fill=#dcdf21 /><rect x=336 y=492 fill=#ebe51b /><rect x=348 y=492 fill=#f2e717 /><rect x=360 y=492 fill=#f3e616 /><rect x=372 y=492 fill=#f4e516 /><rect x=384 y=492 fill=#f5e414 /><rect x=396 y=492 fill=#f6e113 /><rect x=408 y=492 fill=#f9d90d /><rect x=420 y=492 fill=#fcc60b /><rect x=432 y=492 fill=#f8a71c /><rect x=444 y=492 fill=#f28325 /><rect x=456 y=492 fill=#f28325 /><rect x=-12 y=504 fill=#6ac8dc /><rect x=0 y=504 fill=#69c8de /><rect x=12 y=504 fill=#66c8df /><rect x=24 y=504 fill=#64c8e1 /><rect x=36 y=504 fill=#63c8e1 /><rect x=48 y=504 fill=#63c8e2 /><rect x=60 y=504 fill=#63c8e1 /><rect x=72 y=504 fill=#65c8e0 /><rect x=84 y=504 fill=#68c8de /><rect x=96 y=504 fill=#6cc8dc /><rect x=108 y=504 fill=#70c3b7 /><rect x=120 y=504 fill=#6cbd6d /><rect x=132 y=504 fill=#6ab947 /><rect x=144 y=504 fill=#6ab945 /><rect x=156 y=504 fill=#6ab945 /><rect x=168 y=504 fill=#6ab945 /><rect x=180 y=504 fill=#6ab945 /><rect x=192 y=504 fill=#6ab945 /><rect x=204 y=504 fill=#6ab945 /><rect x=216 y=504 fill=#6ab945 /><rect x=228 y=504 fill=#6ab944 /><rect x=240 y=504 fill=#6ab944 /><rect x=252 y=504 fill=#6bb944 /><rect x=264 y=504 fill=#73bc42 /><rect x=276 y=504 fill=#7fbf3f /><rect x=288 y=504 fill=#93c53b /><rect x=300 y=504 fill=#aacd33 /><rect x=312 y=504 fill=#c2d52b /><rect x=324 y=504 fill=#d5dd23 /><rect x=336 y=504 fill=#e4e31d /><rect x=348 y=504 fill=#f0e719 /><rect x=360 y=504 fill=#f3e717 /><rect x=372 y=504 fill=#f3e616 /><rect x=384 y=504 fill=#f4e415 /><rect x=396 y=504 fill=#f6e213 /><rect x=408 y=504 fill=#f9dc0e /><rect x=420 y=504 fill=#fdcc07 /><rect x=432 y=504 fill=#fab217 /><rect x=444 y=504 fill=#f59522 /><rect x=456 y=504 fill=#f59522 /><rect x=-12 y=516 fill=#65c8e0 /><rect x=0 y=516 fill=#63c8e1 /><rect x=12 y=516 fill=#60c8e3 /><rect x=24 y=516 fill=#5ec8e5 /><rect x=36 y=516 fill=#5dc8e5 /><rect x=48 y=516 fill=#5dc8e6 /><rect x=60 y=516 fill=#5ec8e5 /><rect x=72 y=516 fill=#61c8e3 /><rect x=84 y=516 fill=#64c8e0 /><rect x=96 y=516 fill=#69c8dd /><rect x=108 y=516 fill=#70c4c1 /><rect x=120 y=516 fill=#6dbe83 /><rect x=132 y=516 fill=#6aba4d /><rect x=144 y=516 fill=#6ab946 /><rect x=156 y=516 fill=#6ab946 /><rect x=168 y=516 fill=#6ab945 /><rect x=180 y=516 fill=#6ab945 /><rect x=192 y=516 fill=#6ab945 /><rect x=204 y=516 fill=#6ab945 /><rect x=216 y=516 fill=#6ab945 /><rect x=228 y=516 fill=#6ab945 /><rect x=240 y=516 fill=#6ab944 /><rect x=252 y=516 fill=#6ab944 /><rect x=264 y=516 fill=#71bb42 /><rect x=276 y=516 fill=#7abe40 /><rect x=288 y=516 fill=#8cc33d /><rect x=300 y=516 fill=#9ec838 /><rect x=312 y=516 fill=#b7d12f /><rect x=324 y=516 fill=#cdda26 /><rect x=336 y=516 fill=#dee020 /><rect x=348 y=516 fill=#ebe51b /><rect x=360 y=516 fill=#f2e818 /><rect x=372 y=516 fill=#f3e617 /><rect x=384 y=516 fill=#f4e516 /><rect x=396 y=516 fill=#f5e214 /><rect x=408 y=516 fill=#f8dd0f /><rect x=420 y=516 fill=#fcd007 /><rect x=432 y=516 fill=#fbbb12 /><rect x=444 y=516 fill=#f7a21e /><rect x=456 y=516 fill=#f7a21e /><rect x=-12 y=528 fill=#5fc8e4 /><rect x=0 y=528 fill=#5dc8e6 /><rect x=12 y=528 fill=#55c8e8 /><rect x=24 y=528 fill=#50c7e9 /><rect x=36 y=528 fill=#4dc7ea /><rect x=48 y=528 fill=#4dc7ea /><rect x=60 y=528 fill=#52c8e9 /><rect x=72 y=528 fill=#5cc8e6 /><rect x=84 y=528 fill=#61c8e2 /><rect x=96 y=528 fill=#67c8df /><rect x=108 y=528 fill=#6fc6cb /><rect x=120 y=528 fill=#6ec09a /><rect x=132 y=528 fill=#6cbc66 /><rect x=144 y=528 fill=#6ab94c /><rect x=156 y=528 fill=#6ab947 /><rect x=168 y=528 fill=#6ab946 /><rect x=180 y=528 fill=#6ab945 /><rect x=192 y=528 fill=#6ab945 /><rect x=204 y=528 fill=#6ab945 /><rect x=216 y=528 fill=#6ab945 /><rect x=228 y=528 fill=#6ab945 /><rect x=240 y=528 fill=#6ab945 /><rect x=252 y=528 fill=#6ab944 /><rect x=264 y=528 fill=#6fba43 /><rect x=276 y=528 fill=#77bd41 /><rect x=288 y=528 fill=#85c03e /><rect x=300 y=528 fill=#94c53b /><rect x=312 y=528 fill=#accd33 /><rect x=324 y=528 fill=#c6d729 /><rect x=336 y=528 fill=#d8de22 /><rect x=348 y=528 fill=#e6e31d /><rect x=360 y=528 fill=#f0e719 /><rect x=372 y=528 fill=#f3e717 /><rect x=384 y=528 fill=#f4e516 /><rect x=396 y=528 fill=#f5e314 /><rect x=408 y=528 fill=#f8de10 /><rect x=420 y=528 fill=#fbd309 /><rect x=432 y=528 fill=#fcc30d /><rect x=444 y=528 fill=#f9ae19 /><rect x=456 y=528 fill=#f9ae19 /><rect x=-12 y=540 fill=#50c7e9 /><rect x=0 y=540 fill=#4ac7eb /><rect x=12 y=540 fill=#42c7ed /><rect x=24 y=540 fill=#3ec7ee /><rect x=36 y=540 fill=#3dc7ee /><rect x=48 y=540 fill=#3dc7ee /><rect x=60 y=540 fill=#43c7ec /><rect x=72 y=540 fill=#51c8e9 /><rect x=84 y=540 fill=#5ec8e5 /><rect x=96 y=540 fill=#64c8e0 /><rect x=108 y=540 fill=#6ec7d5 /><rect x=120 y=540 fill=#6fc2af /><rect x=132 y=540 fill=#6dbf86 /><rect x=144 y=540 fill=#6cbc66 /><rect x=156 y=540 fill=#6aba51 /><rect x=168 y=540 fill=#6ab947 /><rect x=180 y=540 fill=#6ab946 /><rect x=192 y=540 fill=#6ab945 /><rect x=204 y=540 fill=#6ab945 /><rect x=216 y=540 fill=#6ab945 /><rect x=228 y=540 fill=#6ab945 /><rect x=240 y=540 fill=#6ab945 /><rect x=252 y=540 fill=#6ab944 /><rect x=264 y=540 fill=#6eba43 /><rect x=276 y=540 fill=#75bc41 /><rect x=288 y=540 fill=#7fbf3f /><rect x=300 y=540 fill=#8ec33c /><rect x=312 y=540 fill=#a3ca36 /><rect x=324 y=540 fill=#bed42c /><rect x=336 y=540 fill=#d2dc24 /><rect x=348 y=540 fill=#e1e11f /><rect x=360 y=540 fill=#ece51b /><rect x=372 y=540 fill=#f2e818 /><rect x=384 y=540 fill=#f3e616 /><rect x=396 y=540 fill=#f5e314 /><rect x=408 y=540 fill=#f7df11 /><rect x=420 y=540 fill=#fad60b /><rect x=432 y=540 fill=#fdca08 /><rect x=444 y=540 fill=#fbb913 /><rect x=456 y=540 fill=#fbb913 /><rect x=-12 y=552 fill=#3cc7ee /><rect x=0 y=552 fill=#36c6f0 /><rect x=12 y=552 fill=#30c6f2 /><rect x=24 y=552 fill=#2ec5f2 /><rect x=36 y=552 fill=#2ec5f1 /><rect x=48 y=552 fill=#2ec6f2 /><rect x=60 y=552 fill=#35c6f0 /><rect x=72 y=552 fill=#43c7ed /><rect x=84 y=552 fill=#54c8e8 /><rect x=96 y=552 fill=#60c8e3 /><rect x=108 y=552 fill=#6ac8dd /><rect x=120 y=552 fill=#70c5c6 /><rect x=132 y=552 fill=#6fc1a5 /><rect x=144 y=552 fill=#6dbf86 /><rect x=156 y=552 fill=#6cbc68 /><rect x=168 y=552 fill=#6aba50 /><rect x=180 y=552 fill=#6ab947 /><rect x=192 y=552 fill=#6ab946 /><rect x=204 y=552 fill=#6ab946 /><rect x=216 y=552 fill=#6ab945 /><rect x=228 y=552 fill=#6ab945 /><rect x=240 y=552 fill=#6ab945 /><rect x=252 y=552 fill=#6ab944 /><rect x=264 y=552 fill=#6dba43 /><rect x=276 y=552 fill=#74bc42 /><rect x=288 y=552 fill=#7cbe40 /><rect x=300 y=552 fill=#8bc23d /><rect x=312 y=552 fill=#9dc838 /><rect x=324 y=552 fill=#b7d12f /><rect x=336 y=552 fill=#cdd927 /><rect x=348 y=552 fill=#dcdf21 /><rect x=360 y=552 fill=#e6e31d /><rect x=372 y=552 fill=#f0e719 /><rect x=384 y=552 fill=#f3e717 /><rect x=396 y=552 fill=#f4e415 /><rect x=408 y=552 fill=#f7e012 /><rect x=420 y=552 fill=#f9da0e /><rect x=432 y=552 fill=#fcd108 /><rect x=444 y=552 fill=#fcc40c /><rect x=456 y=552 fill=#fcc40c /><rect x=-12 y=564 fill=#30bcec /><rect x=0 y=564 fill=#30b8ea /><rect x=12 y=564 fill=#31b5e8 /><rect x=24 y=564 fill=#31b5e8 /><rect x=36 y=564 fill=#31b6e9 /><rect x=48 y=564 fill=#30b9ea /><rect x=60 y=564 fill=#2fc0ef /><rect x=72 y=564 fill=#34c6f0 /><rect x=84 y=564 fill=#43c7ec /><rect x=96 y=564 fill=#55c8e8 /><rect x=108 y=564 fill=#62c8e2 /><rect x=120 y=564 fill=#6cc8dc /><rect x=132 y=564 fill=#70c5c6 /><rect x=144 y=564 fill=#6fc2ad /><rect x=156 y=564 fill=#6ec091 /><rect x=168 y=564 fill=#6cbd72 /><rect x=180 y=564 fill=#6bbb5c /><rect x=192 y=564 fill=#6aba4d /><rect x=204 y=564 fill=#6ab948 /><rect x=216 y=564 fill=#6ab947 /><rect x=228 y=564 fill=#6ab946 /><rect x=240 y=564 fill=#6ab945 /><rect x=252 y=564 fill=#6ab945 /><rect x=264 y=564 fill=#6cba44 /><rect x=276 y=564 fill=#73bc42 /><rect x=288 y=564 fill=#7bbe40 /><rect x=300 y=564 fill=#88c23d /><rect x=312 y=564 fill=#98c63a /><rect x=324 y=564 fill=#b1cf31 /><rect x=336 y=564 fill=#c7d729 /><rect x=348 y=564 fill=#d5dd23 /><rect x=360 y=564 fill=#e0e11f /><rect x=372 y=564 fill=#eae51b /><rect x=384 y=564 fill=#f2e818 /><rect x=396 y=564 fill=#f4e516 /><rect x=408 y=564 fill=#f5e213 /><rect x=420 y=564 fill=#f8de10 /><rect x=432 y=564 fill=#fad70c /><rect x=444 y=564 fill=#fdd007 /><rect x=456 y=564 fill=#fdd007 /><rect x=-12 y=576 fill=#34a3de /><rect x=0 y=576 fill=#34a2dd /><rect x=12 y=576 fill=#34a2dd /><rect x=24 y=576 fill=#33a4de /><rect x=36 y=576 fill=#33a8e0 /><rect x=48 y=576 fill=#32ace3 /><rect x=60 y=576 fill=#31b3e7 /><rect x=72 y=576 fill=#2fbded /><rect x=84 y=576 fill=#32c6f1 /><rect x=96 y=576 fill=#40c7ed /><rect x=108 y=576 fill=#53c8e8 /><rect x=120 y=576 fill=#61c8e3 /><rect x=132 y=576 fill=#69c8dd /><rect x=144 y=576 fill=#6fc7d1 /><rect x=156 y=576 fill=#70c4bd /><rect x=168 y=576 fill=#6fc2a7 /><rect x=180 y=576 fill=#6ebf90 /><rect x=192 y=576 fill=#6dbe7a /><rect x=204 y=576 fill=#6cbc66 /><rect x=216 y=576 fill=#6aba51 /><rect x=228 y=576 fill=#6ab947 /><rect x=240 y=576 fill=#6ab946 /><rect x=252 y=576 fill=#6ab945 /><rect x=264 y=576 fill=#6cb944 /><rect x=276 y=576 fill=#73bb42 /><rect x=288 y=576 fill=#7abd40 /><rect x=300 y=576 fill=#86c13e /><rect x=312 y=576 fill=#95c53b /><rect x=324 y=576 fill=#abcd33 /><rect x=336 y=576 fill=#c1d52b /><rect x=348 y=576 fill=#cfda26 /><rect x=360 y=576 fill=#dadf21 /><rect x=372 y=576 fill=#e4e21e /><rect x=384 y=576 fill=#eee61a /><rect x=396 y=576 fill=#f3e717 /><rect x=408 y=576 fill=#f4e415 /><rect x=420 y=576 fill=#f6e112 /><rect x=432 y=576 fill=#f8dd10 /><rect x=444 y=576 fill=#fad70c /><rect x=456 y=576 fill=#fad70c /><rect x=-12 y=588 fill=#378fd0 /><rect x=0 y=588 fill=#3790d0 /><rect x=12 y=588 fill=#3792d2 /><rect x=24 y=588 fill=#3696d5 /><rect x=36 y=588 fill=#359ad8 /><rect x=48 y=588 fill=#349fdb /><rect x=60 y=588 fill=#33a6e0 /><rect x=72 y=588 fill=#32afe5 /><rect x=84 y=588 fill=#30baeb /><rect x=96 y=588 fill=#2ec6f2 /><rect x=108 y=588 fill=#3dc7ee /><rect x=120 y=588 fill=#4fc7e9 /><rect x=132 y=588 fill=#5fc8e4 /><rect x=144 y=588 fill=#66c8e0 /><rect x=156 y=588 fill=#6cc8db /><rect x=168 y=588 fill=#6fc6cf /><rect x=180 y=588 fill=#70c4be /><rect x=192 y=588 fill=#6fc2aa /><rect x=204 y=588 fill=#6dbf8d /><rect x=216 y=588 fill=#6cbc67 /><rect x=228 y=588 fill=#6ab949 /><rect x=240 y=588 fill=#6ab946 /><rect x=252 y=588 fill=#6ab945 /><rect x=264 y=588 fill=#6bb944 /><rect x=276 y=588 fill=#72bb42 /><rect x=288 y=588 fill=#79bd41 /><rect x=300 y=588 fill=#84c03e /><rect x=312 y=588 fill=#93c53b /><rect x=324 y=588 fill=#a6cb35 /><rect x=336 y=588 fill=#bbd32d /><rect x=348 y=588 fill=#cad828 /><rect x=360 y=588 fill=#d5dd23 /><rect x=372 y=588 fill=#dfe11f /><rect x=384 y=588 fill=#e9e51b /><rect x=396 y=588 fill=#f2e818 /><rect x=408 y=588 fill=#f4e516 /><rect x=420 y=588 fill=#f5e314 /><rect x=432 y=588 fill=#f7e012 /><rect x=444 y=588 fill=#f8dd0f /><rect x=456 y=588 fill=#f8dd0f /><rect x=-12 y=600 fill=#3a7fc5 /><rect x=0 y=600 fill=#3a81c6 /><rect x=12 y=600 fill=#3984c8 /><rect x=24 y=600 fill=#3889cb /><rect x=36 y=600 fill=#378ecf /><rect x=48 y=600 fill=#3694d3 /><rect x=60 y=600 fill=#359ad8 /><rect x=72 y=600 fill=#34a2dd /><rect x=84 y=600 fill=#32ade3 /><rect x=96 y=600 fill=#30b9ea /><rect x=108 y=600 fill=#2fc6f2 /><rect x=120 y=600 fill=#41c7ed /><rect x=132 y=600 fill=#54c8e8 /><rect x=144 y=600 fill=#60c8e4 /><rect x=156 y=600 fill=#66c8e0 /><rect x=168 y=600 fill=#6cc8dc /><rect x=180 y=600 fill=#6fc7d0 /><rect x=192 y=600 fill=#70c4be /><rect x=204 y=600 fill=#6ec1a2 /><rect x=216 y=600 fill=#6cbe77 /><rect x=228 y=600 fill=#6bba53 /><rect x=240 y=600 fill=#6ab947 /><rect x=252 y=600 fill=#6ab945 /><rect x=264 y=600 fill=#6ab944 /><rect x=276 y=600 fill=#71bb42 /><rect x=288 y=600 fill=#78bd41 /><rect x=300 y=600 fill=#82c03f /><rect x=312 y=600 fill=#91c43c /><rect x=324 y=600 fill=#a2ca36 /><rect x=336 y=600 fill=#b6d12f /><rect x=348 y=600 fill=#c7d729 /><rect x=360 y=600 fill=#d2dc24 /><rect x=372 y=600 fill=#dde020 /><rect x=384 y=600 fill=#e8e41c /><rect x=396 y=600 fill=#f2e818 /><rect x=408 y=600 fill=#f4e516 /><rect x=420 y=600 fill=#f5e314 /><rect x=432 y=600 fill=#f6e112 /><rect x=444 y=600 fill=#f8de10 /><rect x=456 y=600 fill=#f8de10 /><rect x=-12 y=612 fill=#3c73bc /><rect x=0 y=612 fill=#3c74bd /><rect x=12 y=612 fill=#3c77bf /><rect x=24 y=612 fill=#3b7cc2 /><rect x=36 y=612 fill=#3a81c6 /><rect x=48 y=612 fill=#3988cb /><rect x=60 y=612 fill=#378fd0 /><rect x=72 y=612 fill=#3697d6 /><rect x=84 y=612 fill=#34a1dd /><rect x=96 y=612 fill=#32aee4 /><rect x=108 y=612 fill=#30bcec /><rect x=120 y=612 fill=#35c6f0 /><rect x=132 y=612 fill=#48c7eb /><rect x=144 y=612 fill=#5ac8e6 /><rect x=156 y=612 fill=#61c8e3 /><rect x=168 y=612 fill=#67c8df /><rect x=180 y=612 fill=#6dc8db /><rect x=192 y=612 fill=#6fc6cb /><rect x=204 y=612 fill=#6fc2b0 /><rect x=216 y=612 fill=#6dbf86 /><rect x=228 y=612 fill=#6bbb5c /><rect x=240 y=612 fill=#6ab947 /><rect x=252 y=612 fill=#6ab946 /><rect x=264 y=612 fill=#6ab944 /><rect x=276 y=612 fill=#70bb43 /><rect x=288 y=612 fill=#77bd41 /><rect x=300 y=612 fill=#80bf3f /><rect x=312 y=612 fill=#8ec33c /><rect x=324 y=612 fill=#9ec838 /><rect x=336 y=612 fill=#b1cf31 /><rect x=348 y=612 fill=#c3d62a /><rect x=360 y=612 fill=#d0db25 /><rect x=372 y=612 fill=#dcdf21 /><rect x=384 y=612 fill=#e8e41c /><rect x=396 y=612 fill=#f2e818 /><rect x=408 y=612 fill=#f3e616 /><rect x=420 y=612 fill=#f5e314 /><rect x=432 y=612 fill=#f6e113 /><rect x=444 y=612 fill=#f7df11 /><rect x=456 y=612 fill=#f7df11 /><rect x=-12 y=624 fill=#3c6db7 /><rect x=0 y=624 fill=#3c6db7 /><rect x=12 y=624 fill=#3c6fb9 /><rect x=24 y=624 fill=#3c72bb /><rect x=36 y=624 fill=#3c76be /><rect x=48 y=624 fill=#3b7cc2 /><rect x=60 y=624 fill=#3984c8 /><rect x=72 y=624 fill=#388dcf /><rect x=84 y=624 fill=#3698d6 /><rect x=96 y=624 fill=#33a4de /><rect x=108 y=624 fill=#31b2e7 /><rect x=120 y=624 fill=#2ec4f1 /><rect x=132 y=624 fill=#3ec7ee /><rect x=144 y=624 fill=#51c8e9 /><rect x=156 y=624 fill=#5ec8e5 /><rect x=168 y=624 fill=#63c8e1 /><rect x=180 y=624 fill=#69c8de /><rect x=192 y=624 fill=#6ec7d6 /><rect x=204 y=624 fill=#70c4bc /><rect x=216 y=624 fill=#6ec092 /><rect x=228 y=624 fill=#6bbc64 /><rect x=240 y=624 fill=#6ab948 /><rect x=252 y=624 fill=#6ab946 /><rect x=264 y=624 fill=#6ab945 /><rect x=276 y=624 fill=#6eba43 /><rect x=288 y=624 fill=#76bc41 /><rect x=300 y=624 fill=#7ebf40 /><rect x=312 y=624 fill=#8cc33d /><rect x=324 y=624 fill=#9ac739 /><rect x=336 y=624 fill=#adce32 /><rect x=348 y=624 fill=#c0d42c /><rect x=360 y=624 fill=#ceda26 /><rect x=372 y=624 fill=#dbdf21 /><rect x=384 y=624 fill=#e8e41c /><rect x=396 y=624 fill=#f2e818 /><rect x=408 y=624 fill=#f3e616 /><rect x=420 y=624 fill=#f5e414 /><rect x=432 y=624 fill=#f6e213 /><rect x=444 y=624 fill=#f7e011 /><rect x=456 y=624 fill=#f7e011 /><rect x=-12 y=636 fill=#3d67b2 /><rect x=0 y=636 fill=#3d67b2 /><rect x=12 y=636 fill=#3c69b4 /><rect x=24 y=636 fill=#3c6cb6 /><rect x=36 y=636 fill=#3c6fb8 /><rect x=48 y=636 fill=#3c72bb /><rect x=60 y=636 fill=#3c78c0 /><rect x=72 y=636 fill=#3984c8 /><rect x=84 y=636 fill=#3790d1 /><rect x=96 y=636 fill=#359dda /><rect x=108 y=636 fill=#32ace3 /><rect x=120 y=636 fill=#2fbeed /><rect x=132 y=636 fill=#39c6ef /><rect x=144 y=636 fill=#4bc7ea /><rect x=156 y=636 fill=#5bc8e6 /><rect x=168 y=636 fill=#61c8e3 /><rect x=180 y=636 fill=#66c8df /><rect x=192 y=636 fill=#6dc8db /><rect x=204 y=636 fill=#70c4c3 /><rect x=216 y=636 fill=#6ec09a /><rect x=228 y=636 fill=#6cbd6a /><rect x=240 y=636 fill=#6ab94b /><rect x=252 y=636 fill=#6ab947 /><rect x=264 y=636 fill=#6ab945 /><rect x=276 y=636 fill=#6cba44 /><rect x=288 y=636 fill=#74bc42 /><rect x=300 y=636 fill=#7cbe40 /><rect x=312 y=636 fill=#8ac23d /><rect x=324 y=636 fill=#97c63a /><rect x=336 y=636 fill=#aacd33 /><rect x=348 y=636 fill=#bdd32d /><rect x=360 y=636 fill=#ccd927 /><rect x=372 y=636 fill=#dadf21 /><rect x=384 y=636 fill=#e8e41c /><rect x=396 y=636 fill=#f2e818 /><rect x=408 y=636 fill=#f3e616 /><rect x=420 y=636 fill=#f5e414 /><rect x=432 y=636 fill=#f6e213 /><rect x=444 y=636 fill=#f7e012 /><rect x=456 y=636 fill=#f7e012 /></g><path d="M125,-2L109,21L104,32M139,-2L125,23L113,42L109,55L102,69L92,83L85,92L88,115L85,139L81,143L83,162L88,180L85,196L69,203M150,-2L136,23L122,42L113,53L106,65L102,76L97,85L92,90M162,-2L159,23L157,46L162,67L173,76L176,92L180,111L189,129L199,145L208,157L231,164L266,169L305,174L323,185L337,198L346,186L350,186L353,203L355,220L361,225L365,238L372,252L385,265L396,273L400,290L402,310L405,330L410,345L418,360M169,-2L171,23L180,39L196,48L219,65L242,79L261,92M308,120L318,132L326,144L337,158L351,165L354,182L357,196L365,203L368,220L367,238L371,256L382,277L393,288L396,301L399,322L400,343L407,357L417,371L424,378M199,-2L208,14L226,30L254,46L270,50L284,55L298,63L312,76L322,84M350,112L360,122L375,119L396,118L407,122L412,133L413,147L416,154L410,165L399,172L396,182L399,196L403,210L410,215L416,224L410,238L410,259L417,266M297,-2L312,8L329,18L347,28L361,36L375,40L389,40L400,37M65,270L76,245L99,245L120,263L162,270L208,277L254,277L305,274L326,283L333,301L339,318L354,323L365,326L375,336L382,350L389,361L396,371L407,385L419,399M48,210L50,233L51,265M64,212L65,240L66,270M53,298L76,298L104,316L127,330L162,342L208,360L254,358L295,352L318,361L318,378L312,385L312,406L313,424L306,431L304,452L302,473L299,494L298,522L297,550L298,578L301,606L302,632M53,302L69,309L92,332L115,355L150,372L196,392L231,397L277,395L296,406L302,420L298,425L297,438L295,466L291,473L290,494L284,508L281,529L278,550L278,578L276,606L274,632M58,307L76,330L90,358L109,383L139,411L162,419L208,433L254,440L270,449L277,470L282,498L279,530L273,553L266,583L261,632M55,307L67,330L76,358L88,383L106,406L118,428L120,452L139,456L185,463L231,475L254,489L263,509L268,530L266,553L259,576L254,606L252,632M32,291L30,314L37,337L51,360L60,383L69,406L79,428M106,477L120,507L128,530M0,372L23,392L40,414L55,432L70,444L85,458L97,477L109,498L122,516L128,530M134,549L162,562L173,569M215,609L226,622M122,539L125,560L136,581L157,595L185,604L208,613L222,627M0,491L35,500L69,519L92,539L102,562L113,586L129,602L150,613L173,625M0,567L35,576L65,588M97,616L109,627M0,613L35,620L58,632M300,456L289,479L284,502L282,537L277,572L273,632M300,498L289,525L284,572L282,632M416,424L417,445L419,466L416,480L409,494L403,515L397,536L393,557L390,578L386,599L379,613L371,632M414,456L403,460L392,470L379,480L368,494L361,515L357,536L354,564L353,592L351,632M419,480L421,508L423,522L419,543L416,549M392,598L382,613L374,632M452,560L438,578L424,599L410,620L404,632M432,480L441,484L451,486M424,231L431,245L438,256M404,350L410,364L421,378L425,385" fill="none" stroke="#fff" stroke-width="4.6" stroke-linejoin="round" stroke-linecap="round"/><use href="#land"/><text x="96" y="57" font-size="27" text-anchor="middle" dominant-baseline="central" transform="rotate(-65 96 57)">110</text><text x="284" y="107" font-size="27" text-anchor="middle" dominant-baseline="central" transform="rotate(30 284 107)">130</text><text x="342" y="95" font-size="27" text-anchor="middle" dominant-baseline="central" transform="rotate(45 342 95)">140</text><text x="419" y="294" font-size="27" text-anchor="middle" dominant-baseline="central" transform="rotate(90 419 294)">140</text><text x="403" y="326" font-size="27" text-anchor="middle" dominant-baseline="central" transform="rotate(90 403 326)">130</text><text x="95" y="452" font-size="27" text-anchor="middle" dominant-baseline="central" transform="rotate(60 95 452)">110</text><text x="195" y="592" font-size="27" text-anchor="middle" dominant-baseline="central" transform="rotate(40 195 592)">110</text><text x="80" y="603" font-size="27" text-anchor="middle" dominant-baseline="central" transform="rotate(45 80 603)">80</text><text x="408" y="575" font-size="27" text-anchor="middle" dominant-baseline="central" transform="rotate(-65 408 575)">130</text></g><path d="M12.6,630.0v-6M12.6,0v6M143.5,630.0v-6M143.5,0v6M274.4,630.0v-6M274.4,0v6M405.3,630.0v-6M405.3,0v6M0,66.6h6M450,66.6h-6M0,198.9h6M450,198.9h-6M0,331.2h6M450,331.2h-6M0,463.5h6M450,463.5h-6M0,595.8h6M450,595.8h-6" stroke="#262626" stroke-width="1.2" fill="none"/><rect x=0.5 y=0.5 width=449 height=629 fill=none stroke="#262626" stroke-width=1.3 /></g><g transform="translate(734,901)"><clipPath id="cpD"><rect x=0 y=0 width=450 height=630 /></clipPath><g clip-path="url(#cpD)"><g filter="url(#bl)" class="f"><rect x=-12 y=-12 fill=#6ab945 /><rect x=0 y=-12 fill=#6ab945 /><rect x=12 y=-12 fill=#6ab945 /><rect x=24 y=-12 fill=#6ab945 /><rect x=36 y=-12 fill=#6ab945 /><rect x=48 y=-12 fill=#6ab945 /><rect x=60 y=-12 fill=#6ab945 /><rect x=72 y=-12 fill=#6ab944 /><rect x=84 y=-12 fill=#6ab944 /><rect x=96 y=-12 fill=#6ab944 /><rect x=108 y=-12 fill=#6dba43 /><rect x=120 y=-12 fill=#f4e415 /><rect x=132 y=-12 fill=#f4e415 /><rect x=144 y=-12 fill=#f4e415 /><rect x=156 y=-12 fill=#f6e112 /><rect x=168 y=-12 fill=#fad70c /><rect x=180 y=-12 fill=#fdca09 /><rect x=192 y=-12 fill=#fcc10e /><rect x=204 y=-12 fill=#fcc10e /><rect x=216 y=-12 fill=#fcc30d /><rect x=228 y=-12 fill=#fcc50c /><rect x=240 y=-12 fill=#fcc80a /><rect x=252 y=-12 fill=#fdce06 /><rect x=264 y=-12 fill=#fad80c /><rect x=276 y=-12 fill=#f6e112 /><rect x=288 y=-12 fill=#f4e516 /><rect x=300 y=-12 fill=#f4e515 /><rect x=312 y=-12 fill=#fad90d /><rect x=324 y=-12 fill=#fbba13 /><rect x=336 y=-12 fill=#f49123 /><rect x=348 y=-12 fill=#ef6227 /><rect x=360 y=-12 fill=#ec2325 /><rect x=372 y=-12 fill=#ec1d25 /><rect x=384 y=-12 fill=#ec1d25 /><rect x=396 y=-12 fill=#ec1d25 /><rect x=408 y=-12 fill=#ec1d25 /><rect x=420 y=-12 fill=#ec1d25 /><rect x=432 y=-12 fill=#ec1d25 /><rect x=444 y=-12 fill=#ec1d25 /><rect x=456 y=-12 fill=#ec1d25 /><rect x=-12 y=0 fill=#6ab945 /><rect x=0 y=0 fill=#6ab945 /><rect x=12 y=0 fill=#6ab945 /><rect x=24 y=0 fill=#6ab945 /><rect x=36 y=0 fill=#6ab945 /><rect x=48 y=0 fill=#6ab945 /><rect x=60 y=0 fill=#6ab945 /><rect x=72 y=0 fill=#6ab944 /><rect x=84 y=0 fill=#6ab944 /><rect x=96 y=0 fill=#6ab944 /><rect x=108 y=0 fill=#6dba43 /><rect x=120 y=0 fill=#f4e415 /><rect x=132 y=0 fill=#f5e414 /><rect x=144 y=0 fill=#f5e314 /><rect x=156 y=0 fill=#f7e012 /><rect x=168 y=0 fill=#fad70b /><rect x=180 y=0 fill=#fdcb08 /><rect x=192 y=0 fill=#fcc30d /><rect x=204 y=0 fill=#fcc30d /><rect x=216 y=0 fill=#fcc40c /><rect x=228 y=0 fill=#fcc60b /><rect x=240 y=0 fill=#fcc80a /><rect x=252 y=0 fill=#fdcc07 /><rect x=264 y=0 fill=#fbd40a /><rect x=276 y=0 fill=#f8dd0f /><rect x=288 y=0 fill=#f6e112 /><rect x=300 y=0 fill=#f7e012 /><rect x=312 y=0 fill=#fbd309 /><rect x=324 y=0 fill=#fab416 /><rect x=336 y=0 fill=#f38d24 /><rect x=348 y=0 fill=#ee5e28 /><rect x=360 y=0 fill=#ec2225 /><rect x=372 y=0 fill=#ec1d25 /><rect x=384 y=0 fill=#ec1d25 /><rect x=396 y=0 fill=#ec1d25 /><rect x=408 y=0 fill=#ec1d25 /><rect x=420 y=0 fill=#ec1d25 /><rect x=432 y=0 fill=#ec1d25 /><rect x=444 y=0 fill=#ec1d25 /><rect x=456 y=0 fill=#ec1d25 /><rect x=-12 y=12 fill=#6ab945 /><rect x=0 y=12 fill=#6ab945 /><rect x=12 y=12 fill=#6ab945 /><rect x=24 y=12 fill=#6ab945 /><rect x=36 y=12 fill=#6ab945 /><rect x=48 y=12 fill=#6ab945 /><rect x=60 y=12 fill=#6ab945 /><rect x=72 y=12 fill=#6ab944 /><rect x=84 y=12 fill=#6ab944 /><rect x=96 y=12 fill=#6ab944 /><rect x=108 y=12 fill=#f3e616 /><rect x=120 y=12 fill=#f4e415 /><rect x=132 y=12 fill=#f5e314 /><rect x=144 y=12 fill=#f6e113 /><rect x=156 y=12 fill=#f8de10 /><rect x=168 y=12 fill=#fad60b /><rect x=180 y=12 fill=#fdce06 /><rect x=192 y=12 fill=#fcc70a /><rect x=204 y=12 fill=#fcc60b /><rect x=216 y=12 fill=#fcc60b /><rect x=228 y=12 fill=#fcc60b /><rect x=240 y=12 fill=#fcc70a /><rect x=252 y=12 fill=#fdc909 /><rect x=264 y=12 fill=#fdcf06 /><rect x=276 y=12 fill=#fbd309 /><rect x=288 y=12 fill=#fad70b /><rect x=300 y=12 fill=#fbd50a /><rect x=312 y=12 fill=#fcc50b /><rect x=324 y=12 fill=#f8a71c /><rect x=336 y=12 fill=#f28125 /><rect x=348 y=12 fill=#ee5528 /><rect x=360 y=12 fill=#ec1f25 /><rect x=372 y=12 fill=#ec1d25 /><rect x=384 y=12 fill=#ec1d25 /><rect x=396 y=12 fill=#ec1d25 /><rect x=408 y=12 fill=#ec1d25 /><rect x=420 y=12 fill=#ec1d25 /><rect x=432 y=12 fill=#ec1d25 /><rect x=444 y=12 fill=#ec1d25 /><rect x=456 y=12 fill=#ec1d25 /><rect x=-12 y=24 fill=#6ab945 /><rect x=0 y=24 fill=#6ab945 /><rect x=12 y=24 fill=#6ab945 /><rect x=24 y=24 fill=#6ab945 /><rect x=36 y=24 fill=#6ab945 /><rect x=48 y=24 fill=#6ab945 /><rect x=60 y=24 fill=#6ab945 /><rect x=72 y=24 fill=#6ab944 /><rect x=84 y=24 fill=#6ab944 /><rect x=96 y=24 fill=#6ab944 /><rect x=108 y=24 fill=#f3e617 /><rect x=120 y=24 fill=#f4e415 /><rect x=132 y=24 fill=#f6e213 /><rect x=144 y=24 fill=#f7e011 /><rect x=156 y=24 fill=#f9dc0f /><rect x=168 y=24 fill=#fbd60b /><rect x=180 y=24 fill=#fdd007 /><rect x=192 y=24 fill=#fdcb08 /><rect x=204 y=24 fill=#fdc909 /><rect x=216 y=24 fill=#fcc70a /><rect x=228 y=24 fill=#fcc70b /><rect x=240 y=24 fill=#fcc60b /><rect x=252 y=24 fill=#fcc60b /><rect x=264 y=24 fill=#fcc80a /><rect x=276 y=24 fill=#fdcb08 /><rect x=288 y=24 fill=#fdcc08 /><rect x=300 y=24 fill=#fcc80a /><rect x=312 y=24 fill=#fbb714 /><rect x=324 y=24 fill=#f69b20 /><rect x=336 y=24 fill=#f07326 /><rect x=348 y=24 fill=#ed4928 /><rect x=360 y=24 fill=#ec1d25 /><rect x=372 y=24 fill=#ec1d25 /><rect x=384 y=24 fill=#ec1d25 /><rect x=396 y=24 fill=#ec1d25 /><rect x=408 y=24 fill=#ec1d25 /><rect x=420 y=24 fill=#ec1d25 /><rect x=432 y=24 fill=#ec1d25 /><rect x=444 y=24 fill=#ec1d25 /><rect x=456 y=24 fill=#ec1d25 /><rect x=-12 y=36 fill=#6ab945 /><rect x=0 y=36 fill=#6ab945 /><rect x=12 y=36 fill=#6ab945 /><rect x=24 y=36 fill=#6ab945 /><rect x=36 y=36 fill=#6ab945 /><rect x=48 y=36 fill=#6ab945 /><rect x=60 y=36 fill=#6ab945 /><rect x=72 y=36 fill=#6ab944 /><rect x=84 y=36 fill=#6ab944 /><rect x=96 y=36 fill=#6ab944 /><rect x=108 y=36 fill=#f3e717 /><rect x=120 y=36 fill=#f4e415 /><rect x=132 y=36 fill=#f6e113 /><rect x=144 y=36 fill=#f8df10 /><rect x=156 y=36 fill=#f9da0e /><rect x=168 y=36 fill=#fbd60b /><rect x=180 y=36 fill=#fcd108 /><rect x=192 y=36 fill=#fdcd06 /><rect x=204 y=36 fill=#fdcb08 /><rect x=216 y=36 fill=#fdc909 /><rect x=228 y=36 fill=#fcc70a /><rect x=240 y=36 fill=#fcc60b /><rect x=252 y=36 fill=#fcc50c /><rect x=264 y=36 fill=#fcc40c /><rect x=276 y=36 fill=#fcc30d /><rect x=288 y=36 fill=#fcc20e /><rect x=300 y=36 fill=#fbbd11 /><rect x=312 y=36 fill=#f9ab1a /><rect x=324 y=36 fill=#f38d24 /><rect x=336 y=36 fill=#ef6527 /><rect x=348 y=36 fill=#ec3c28 /><rect x=360 y=36 fill=#ec1d25 /><rect x=372 y=36 fill=#ec1d25 /><rect x=384 y=36 fill=#ec1d25 /><rect x=396 y=36 fill=#ec1d25 /><rect x=408 y=36 fill=#ec1d25 /><rect x=420 y=36 fill=#ec1d25 /><rect x=432 y=36 fill=#ec1d25 /><rect x=444 y=36 fill=#ec1d25 /><rect x=456 y=36 fill=#ec1d25 /><rect x=-12 y=48 fill=#6ab945 /><rect x=0 y=48 fill=#6ab945 /><rect x=12 y=48 fill=#6ab945 /><rect x=24 y=48 fill=#6ab945 /><rect x=36 y=48 fill=#6ab945 /><rect x=48 y=48 fill=#6ab945 /><rect x=60 y=48 fill=#6ab945 /><rect x=72 y=48 fill=#6ab944 /><rect x=84 y=48 fill=#6ab944 /><rect x=96 y=48 fill=#6ab944 /><rect x=108 y=48 fill=#f3e717 /><rect x=120 y=48 fill=#f4e415 /><rect x=132 y=48 fill=#f6e112 /><rect x=144 y=48 fill=#f8de10 /><rect x=156 y=48 fill=#f9da0d /><rect x=168 y=48 fill=#fbd60b /><rect x=180 y=48 fill=#fcd208 /><rect x=192 y=48 fill=#fdcf06 /><rect x=204 y=48 fill=#fdcc07 /><rect x=216 y=48 fill=#fdca09 /><rect x=228 y=48 fill=#fcc80a /><rect x=240 y=48 fill=#fcc60b /><rect x=252 y=48 fill=#fcc40c /><rect x=264 y=48 fill=#fcc20e /><rect x=276 y=48 fill=#fcc00f /><rect x=288 y=48 fill=#fbbd11 /><rect x=300 y=48 fill=#fbb615 /><rect x=312 y=48 fill=#f7a01e /><rect x=324 y=48 fill=#f17e25 /><rect x=336 y=48 fill=#ee5528 /><rect x=348 y=48 fill=#ec2e26 /><rect x=360 y=48 fill=#ec1d25 /><rect x=372 y=48 fill=#ec1d25 /><rect x=384 y=48 fill=#ec1d25 /><rect x=396 y=48 fill=#ec1d25 /><rect x=408 y=48 fill=#ec1d25 /><rect x=420 y=48 fill=#ec1d25 /><rect x=432 y=48 fill=#ec1d25 /><rect x=444 y=48 fill=#ec1d25 /><rect x=456 y=48 fill=#ec1d25 /><rect x=-12 y=60 fill=#6ab945 /><rect x=0 y=60 fill=#6ab945 /><rect x=12 y=60 fill=#6ab945 /><rect x=24 y=60 fill=#6ab945 /><rect x=36 y=60 fill=#6ab945 /><rect x=48 y=60 fill=#6ab945 /><rect x=60 y=60 fill=#6ab945 /><rect x=72 y=60 fill=#6ab944 /><rect x=84 y=60 fill=#6ab944 /><rect x=96 y=60 fill=#f2e717 /><rect x=108 y=60 fill=#f3e616 /><rect x=120 y=60 fill=#f5e314 /><rect x=132 y=60 fill=#f7e012 /><rect x=144 y=60 fill=#f8dd0f /><rect x=156 y=60 fill=#f9d90d /><rect x=168 y=60 fill=#fbd60b /><rect x=180 y=60 fill=#fcd309 /><rect x=192 y=60 fill=#fcd007 /><rect x=204 y=60 fill=#fdce06 /><rect x=216 y=60 fill=#fdcb08 /><rect x=228 y=60 fill=#fdc909 /><rect x=240 y=60 fill=#fcc60b /><rect x=252 y=60 fill=#fcc30d /><rect x=264 y=60 fill=#fcc10e /><rect x=276 y=60 fill=#fcbe10 /><rect x=288 y=60 fill=#fbbb12 /><rect x=300 y=60 fill=#fab217 /><rect x=312 y=60 fill=#f59621 /><rect x=324 y=60 fill=#ef6a27 /><rect x=336 y=60 fill=#ec3c28 /><rect x=348 y=60 fill=#ec2025 /><rect x=360 y=60 fill=#ec1d25 /><rect x=372 y=60 fill=#ec1d25 /><rect x=384 y=60 fill=#ec1d25 /><rect x=396 y=60 fill=#ec1d25 /><rect x=408 y=60 fill=#ec1d25 /><rect x=420 y=60 fill=#ec1d25 /><rect x=432 y=60 fill=#ec1d25 /><rect x=444 y=60 fill=#ec1d25 /><rect x=456 y=60 fill=#ec1d25 /><rect x=-12 y=72 fill=#6ab945 /><rect x=0 y=72 fill=#6ab945 /><rect x=12 y=72 fill=#6ab945 /><rect x=24 y=72 fill=#6ab945 /><rect x=36 y=72 fill=#6ab945 /><rect x=48 y=72 fill=#6ab945 /><rect x=60 y=72 fill=#6ab945 /><rect x=72 y=72 fill=#6ab945 /><rect x=84 y=72 fill=#6ab944 /><rect x=96 y=72 fill=#f3e617 /><rect x=108 y=72 fill=#f4e516 /><rect x=120 y=72 fill=#f5e314 /><rect x=132 y=72 fill=#f7df11 /><rect x=144 y=72 fill=#f9dc0f /><rect x=156 y=72 fill=#fad90d /><rect x=168 y=72 fill=#fbd60b /><rect x=180 y=72 fill=#fbd309 /><rect x=192 y=72 fill=#fcd108 /><rect x=204 y=72 fill=#fdcf06 /><rect x=216 y=72 fill=#fdcc07 /><rect x=228 y=72 fill=#fdc909 /><rect x=240 y=72 fill=#fcc60b /><rect x=252 y=72 fill=#fcc30d /><rect x=264 y=72 fill=#fcc00f /><rect x=276 y=72 fill=#fbbd11 /><rect x=288 y=72 fill=#fbb914 /><rect x=300 y=72 fill=#f9ae19 /><rect x=312 y=72 fill=#f38c24 /><rect x=324 y=72 fill=#ee5628 /><rect x=336 y=72 fill=#ec2626 /><rect x=348 y=72 fill=#ec1d25 /><rect x=360 y=72 fill=#ec1d25 /><rect x=372 y=72 fill=#ec1d25 /><rect x=384 y=72 fill=#ec1d25 /><rect x=396 y=72 fill=#ec1d25 /><rect x=408 y=72 fill=#ec1d25 /><rect x=420 y=72 fill=#ec1d25 /><rect x=432 y=72 fill=#ec1d25 /><rect x=444 y=72 fill=#ec1d25 /><rect x=456 y=72 fill=#ec1d25 /><rect x=-12 y=84 fill=#6ab945 /><rect x=0 y=84 fill=#6ab945 /><rect x=12 y=84 fill=#6ab945 /><rect x=24 y=84 fill=#6ab945 /><rect x=36 y=84 fill=#6ab945 /><rect x=48 y=84 fill=#6ab945 /><rect x=60 y=84 fill=#6ab945 /><rect x=72 y=84 fill=#6ab945 /><rect x=84 y=84 fill=#f4e516 /><rect x=96 y=84 fill=#f4e516 /><rect x=108 y=84 fill=#f5e415 /><rect x=120 y=84 fill=#f6e113 /><rect x=132 y=84 fill=#f8df11 /><rect x=144 y=84 fill=#f9db0e /><rect x=156 y=84 fill=#fad90d /><rect x=168 y=84 fill=#fbd60b /><rect x=180 y=84 fill=#fbd40a /><rect x=192 y=84 fill=#fcd108 /><rect x=204 y=84 fill=#fdcf07 /><rect x=216 y=84 fill=#fdcd07 /><rect x=228 y=84 fill=#fdca09 /><rect x=240 y=84 fill=#fcc60b /><rect x=252 y=84 fill=#fcc30d /><rect x=264 y=84 fill=#fcc00f /><rect x=276 y=84 fill=#fbbc11 /><rect x=288 y=84 fill=#fbb714 /><rect x=300 y=84 fill=#f9ac1a /><rect x=312 y=84 fill=#f28425 /><rect x=324 y=84 fill=#ec4628 /><rect x=336 y=84 fill=#ec1d25 /><rect x=348 y=84 fill=#ec1d25 /><rect x=360 y=84 fill=#ec1d25 /><rect x=372 y=84 fill=#ec1d25 /><rect x=384 y=84 fill=#ec1d25 /><rect x=396 y=84 fill=#ec1d25 /><rect x=408 y=84 fill=#ec1d25 /><rect x=420 y=84 fill=#ec1d25 /><rect x=432 y=84 fill=#ec1d25 /><rect x=444 y=84 fill=#ec1d25 /><rect x=456 y=84 fill=#ec1d25 /><rect x=-12 y=96 fill=#6ab945 /><rect x=0 y=96 fill=#6ab945 /><rect x=12 y=96 fill=#6ab945 /><rect x=24 y=96 fill=#6ab945 /><rect x=36 y=96 fill=#6ab945 /><rect x=48 y=96 fill=#6ab945 /><rect x=60 y=96 fill=#6ab945 /><rect x=72 y=96 fill=#6ab945 /><rect x=84 y=96 fill=#f5e415 /><rect x=96 y=96 fill=#f5e415 /><rect x=108 y=96 fill=#f5e314 /><rect x=120 y=96 fill=#f7e012 /><rect x=132 y=96 fill=#f8de10 /><rect x=144 y=96 fill=#f9db0e /><rect x=156 y=96 fill=#fad80c /><rect x=168 y=96 fill=#fad60b /><rect x=180 y=96 fill=#fbd40a /><rect x=192 y=96 fill=#fcd208 /><rect x=204 y=96 fill=#fdcf07 /><rect x=216 y=96 fill=#fdcd07 /><rect x=228 y=96 fill=#fdca09 /><rect x=240 y=96 fill=#fcc60b /><rect x=252 y=96 fill=#fcc30d /><rect x=264 y=96 fill=#fcc00f /><rect x=276 y=96 fill=#fbbc11 /><rect x=288 y=96 fill=#fbb714 /><rect x=300 y=96 fill=#f9ab1a /><rect x=312 y=96 fill=#f28125 /><rect x=324 y=96 fill=#ec4128 /><rect x=336 y=96 fill=#ec1d25 /><rect x=348 y=96 fill=#ec1d25 /><rect x=360 y=96 fill=#ec1d25 /><rect x=372 y=96 fill=#ec1d25 /><rect x=384 y=96 fill=#ec1d25 /><rect x=396 y=96 fill=#ec1d25 /><rect x=408 y=96 fill=#ec1d25 /><rect x=420 y=96 fill=#ec1d25 /><rect x=432 y=96 fill=#ec1d25 /><rect x=444 y=96 fill=#ec1d25 /><rect x=456 y=96 fill=#ec1d25 /><rect x=-12 y=108 fill=#6ab945 /><rect x=0 y=108 fill=#6ab945 /><rect x=12 y=108 fill=#6ab945 /><rect x=24 y=108 fill=#6ab945 /><rect x=36 y=108 fill=#6ab945 /><rect x=48 y=108 fill=#6ab945 /><rect x=60 y=108 fill=#6ab945 /><rect x=72 y=108 fill=#6ab945 /><rect x=84 y=108 fill=#f6e213 /><rect x=96 y=108 fill=#f6e213 /><rect x=108 y=108 fill=#f6e113 /><rect x=120 y=108 fill=#f7df11 /><rect x=132 y=108 fill=#f8dd0f /><rect x=144 y=108 fill=#f9da0d /><rect x=156 y=108 fill=#fad80c /><rect x=168 y=108 fill=#fbd60b /><rect x=180 y=108 fill=#fbd40a /><rect x=192 y=108 fill=#fcd208 /><rect x=204 y=108 fill=#fdcf07 /><rect x=216 y=108 fill=#fdcd07 /><rect x=228 y=108 fill=#fdca09 /><rect x=240 y=108 fill=#fcc60b /><rect x=252 y=108 fill=#fcc30d /><rect x=264 y=108 fill=#fcc00f /><rect x=276 y=108 fill=#fbbd11 /><rect x=288 y=108 fill=#fbb814 /><rect x=300 y=108 fill=#f9ac19 /><rect x=312 y=108 fill=#f28624 /><rect x=324 y=108 fill=#ed4b28 /><rect x=336 y=108 fill=#ec1e25 /><rect x=348 y=108 fill=#ec1d25 /><rect x=360 y=108 fill=#ec1d25 /><rect x=372 y=108 fill=#ec1d25 /><rect x=384 y=108 fill=#ec1d25 /><rect x=396 y=108 fill=#ec1d25 /><rect x=408 y=108 fill=#ec1d25 /><rect x=420 y=108 fill=#ec1d25 /><rect x=432 y=108 fill=#ec1d25 /><rect x=444 y=108 fill=#ec1d25 /><rect x=456 y=108 fill=#ec1d25 /><rect x=-12 y=120 fill=#6ab945 /><rect x=0 y=120 fill=#6ab945 /><rect x=12 y=120 fill=#6ab945 /><rect x=24 y=120 fill=#6ab945 /><rect x=36 y=120 fill=#6ab945 /><rect x=48 y=120 fill=#6ab945 /><rect x=60 y=120 fill=#6ab945 /><rect x=72 y=120 fill=#6ab945 /><rect x=84 y=120 fill=#f7e012 /><rect x=96 y=120 fill=#f7e012 /><rect x=108 y=120 fill=#f7df11 /><rect x=120 y=120 fill=#f8de10 /><rect x=132 y=120 fill=#f9db0e /><rect x=144 y=120 fill=#fad90d /><rect x=156 y=120 fill=#fad70c /><rect x=168 y=120 fill=#fbd50b /><rect x=180 y=120 fill=#fbd309 /><rect x=192 y=120 fill=#fcd208 /><rect x=204 y=120 fill=#fdcf07 /><rect x=216 y=120 fill=#fdcd07 /><rect x=228 y=120 fill=#fdca09 /><rect x=240 y=120 fill=#fcc60b /><rect x=252 y=120 fill=#fcc30d /><rect x=264 y=120 fill=#fcc00f /><rect x=276 y=120 fill=#fbbd11 /><rect x=288 y=120 fill=#fbb814 /><rect x=300 y=120 fill=#f9ae18 /><rect x=312 y=120 fill=#f38f23 /><rect x=324 y=120 fill=#ee5c28 /><rect x=336 y=120 fill=#ec2a26 /><rect x=348 y=120 fill=#ec1d25 /><rect x=360 y=120 fill=#ec1d25 /><rect x=372 y=120 fill=#ec1d25 /><rect x=384 y=120 fill=#ec1d25 /><rect x=396 y=120 fill=#ec1d25 /><rect x=408 y=120 fill=#ec1d25 /><rect x=420 y=120 fill=#ec1d25 /><rect x=432 y=120 fill=#ec1d25 /><rect x=444 y=120 fill=#ec1d25 /><rect x=456 y=120 fill=#ec1d25 /><rect x=-12 y=132 fill=#6ab945 /><rect x=0 y=132 fill=#6ab945 /><rect x=12 y=132 fill=#6ab945 /><rect x=24 y=132 fill=#6ab945 /><rect x=36 y=132 fill=#6ab945 /><rect x=48 y=132 fill=#6ab945 /><rect x=60 y=132 fill=#6ab945 /><rect x=72 y=132 fill=#6ab945 /><rect x=84 y=132 fill=#f8df11 /><rect x=96 y=132 fill=#f8df11 /><rect x=108 y=132 fill=#f8de10 /><rect x=120 y=132 fill=#f9dc0f /><rect x=132 y=132 fill=#f9da0d /><rect x=144 y=132 fill=#fad80c /><rect x=156 y=132 fill=#fad60b /><rect x=168 y=132 fill=#fbd50a /><rect x=180 y=132 fill=#fbd309 /><rect x=192 y=132 fill=#fcd208 /><rect x=204 y=132 fill=#fdcf07 /><rect x=216 y=132 fill=#fdcd07 /><rect x=228 y=132 fill=#fdca09 /><rect x=240 y=132 fill=#fcc60b /><rect x=252 y=132 fill=#fcc30d /><rect x=264 y=132 fill=#fcc10f /><rect x=276 y=132 fill=#fcbe10 /><rect x=288 y=132 fill=#fbba13 /><rect x=300 y=132 fill=#fab117 /><rect x=312 y=132 fill=#f59721 /><rect x=324 y=132 fill=#f06e26 /><rect x=336 y=132 fill=#ec4028 /><rect x=348 y=132 fill=#ec2125 /><rect x=360 y=132 fill=#ec1d25 /><rect x=372 y=132 fill=#ec1d25 /><rect x=384 y=132 fill=#ec1d25 /><rect x=396 y=132 fill=#ec1d25 /><rect x=408 y=132 fill=#ec1d25 /><rect x=420 y=132 fill=#ec1d25 /><rect x=432 y=132 fill=#ec1d25 /><rect x=444 y=132 fill=#ec1d25 /><rect x=456 y=132 fill=#ec1d25 /><rect x=-12 y=144 fill=#6ab945 /><rect x=0 y=144 fill=#6ab945 /><rect x=12 y=144 fill=#6ab945 /><rect x=24 y=144 fill=#6ab945 /><rect x=36 y=144 fill=#6ab945 /><rect x=48 y=144 fill=#6ab945 /><rect x=60 y=144 fill=#6ab945 /><rect x=72 y=144 fill=#6ab945 /><rect x=84 y=144 fill=#f8de10 /><rect x=96 y=144 fill=#f8de10 /><rect x=108 y=144 fill=#f8dd0f /><rect x=120 y=144 fill=#f9db0e /><rect x=132 y=144 fill=#f9d90d /><rect x=144 y=144 fill=#fad80c /><rect x=156 y=144 fill=#fad60b /><rect x=168 y=144 fill=#fbd50a /><rect x=180 y=144 fill=#fbd309 /><rect x=192 y=144 fill=#fcd208 /><rect x=204 y=144 fill=#fdd007 /><rect x=216 y=144 fill=#fdcd07 /><rect x=228 y=144 fill=#fdca09 /><rect x=240 y=144 fill=#fcc60b /><rect x=252 y=144 fill=#fcc30d /><rect x=264 y=144 fill=#fcc10e /><rect x=276 y=144 fill=#fcbe10 /><rect x=288 y=144 fill=#fbbb12 /><rect x=300 y=144 fill=#fab316 /><rect x=312 y=144 fill=#f69d1f /><rect x=324 y=144 fill=#f17a25 /><rect x=336 y=144 fill=#ed5128 /><rect x=348 y=144 fill=#ec2b26 /><rect x=360 y=144 fill=#ec1d25 /><rect x=372 y=144 fill=#ec1d25 /><rect x=384 y=144 fill=#ec1d25 /><rect x=396 y=144 fill=#ec1d25 /><rect x=408 y=144 fill=#ec1d25 /><rect x=420 y=144 fill=#ec1d25 /><rect x=432 y=144 fill=#ec1d25 /><rect x=444 y=144 fill=#ec1d25 /><rect x=456 y=144 fill=#ec1d25 /><rect x=-12 y=156 fill=#6ab946 /><rect x=0 y=156 fill=#6ab946 /><rect x=12 y=156 fill=#6ab945 /><rect x=24 y=156 fill=#6ab945 /><rect x=36 y=156 fill=#6ab945 /><rect x=48 y=156 fill=#6ab945 /><rect x=60 y=156 fill=#6ab945 /><rect x=72 y=156 fill=#f8df11 /><rect x=84 y=156 fill=#f8df11 /><rect x=96 y=156 fill=#f8df11 /><rect x=108 y=156 fill=#f8de10 /><rect x=120 y=156 fill=#f9dc0f /><rect x=132 y=156 fill=#f9da0e /><rect x=144 y=156 fill=#fad80c /><rect x=156 y=156 fill=#fad70b /><rect x=168 y=156 fill=#fbd50a /><rect x=180 y=156 fill=#fbd309 /><rect x=192 y=156 fill=#fcd208 /><rect x=204 y=156 fill=#fcd007 /><rect x=216 y=156 fill=#fdcd06 /><rect x=228 y=156 fill=#fdca09 /><rect x=240 y=156 fill=#fcc70b /><rect x=252 y=156 fill=#fcc40d /><rect x=264 y=156 fill=#fcc10e /><rect x=276 y=156 fill=#fcbf10 /><rect x=288 y=156 fill=#fbbb12 /><rect x=300 y=156 fill=#fab416 /><rect x=312 y=156 fill=#f7a01f /><rect x=324 y=156 fill=#f28025 /><rect x=336 y=156 fill=#ee5a28 /><rect x=348 y=156 fill=#ec3327 /><rect x=360 y=156 fill=#ec1d25 /><rect x=372 y=156 fill=#ec1d25 /><rect x=384 y=156 fill=#ec1d25 /><rect x=396 y=156 fill=#ec1d25 /><rect x=408 y=156 fill=#ec1d25 /><rect x=420 y=156 fill=#ec1d25 /><rect x=432 y=156 fill=#ec1d25 /><rect x=444 y=156 fill=#ec1d25 /><rect x=456 y=156 fill=#ec1d25 /><rect x=-12 y=168 fill=#6ab947 /><rect x=0 y=168 fill=#6ab947 /><rect x=12 y=168 fill=#6ab946 /><rect x=24 y=168 fill=#6ab946 /><rect x=36 y=168 fill=#6ab945 /><rect x=48 y=168 fill=#6ab945 /><rect x=60 y=168 fill=#6ab945 /><rect x=72 y=168 fill=#f7e012 /><rect x=84 y=168 fill=#f7e012 /><rect x=96 y=168 fill=#f7e012 /><rect x=108 y=168 fill=#f7e011 /><rect x=120 y=168 fill=#f8de10 /><rect x=132 y=168 fill=#f9dc0f /><rect x=144 y=168 fill=#f9da0d /><rect x=156 y=168 fill=#fad80c /><rect x=168 y=168 fill=#fad60b /><rect x=180 y=168 fill=#fbd40a /><rect x=192 y=168 fill=#fcd209 /><rect x=204 y=168 fill=#fcd007 /><rect x=216 y=168 fill=#fdce06 /><rect x=228 y=168 fill=#fdcb08 /><rect x=240 y=168 fill=#fcc70a /><rect x=252 y=168 fill=#fcc50c /><rect x=264 y=168 fill=#fcc20d /><rect x=276 y=168 fill=#fcc00f /><rect x=288 y=168 fill=#fbbc11 /><rect x=300 y=168 fill=#fbb515 /><rect x=312 y=168 fill=#f7a21e /><rect x=324 y=168 fill=#f28525 /><rect x=336 y=168 fill=#ee5f28 /><rect x=348 y=168 fill=#ec3827 /><rect x=360 y=168 fill=#ec1d25 /><rect x=372 y=168 fill=#ec1d25 /><rect x=384 y=168 fill=#ec1d25 /><rect x=396 y=168 fill=#ec1d25 /><rect x=408 y=168 fill=#ec1d25 /><rect x=420 y=168 fill=#ec1d25 /><rect x=432 y=168 fill=#ec1d25 /><rect x=444 y=168 fill=#ec1d25 /><rect x=456 y=168 fill=#ec1d25 /><rect x=-12 y=180 fill=#6aba4d /><rect x=0 y=180 fill=#6ab948 /><rect x=12 y=180 fill=#6ab947 /><rect x=24 y=180 fill=#6ab946 /><rect x=36 y=180 fill=#6ab946 /><rect x=48 y=180 fill=#6ab945 /><rect x=60 y=180 fill=#6ab945 /><rect x=72 y=180 fill=#f5e213 /><rect x=84 y=180 fill=#f5e213 /><rect x=96 y=180 fill=#f5e214 /><rect x=108 y=180 fill=#f6e213 /><rect x=120 y=180 fill=#f7e012 /><rect x=132 y=180 fill=#f8de10 /><rect x=144 y=180 fill=#f9dc0f /><rect x=156 y=180 fill=#f9da0d /><rect x=168 y=180 fill=#fad70c /><rect x=180 y=180 fill=#fbd50b /><rect x=192 y=180 fill=#fbd309 /><rect x=204 y=180 fill=#fcd108 /><rect x=216 y=180 fill=#fdcf07 /><rect x=228 y=180 fill=#fdcc07 /><rect x=240 y=180 fill=#fdc909 /><rect x=252 y=180 fill=#fcc60b /><rect x=264 y=180 fill=#fcc40d /><rect x=276 y=180 fill=#fcc10e /><rect x=288 y=180 fill=#fbbd11 /><rect x=300 y=180 fill=#fbb615 /><rect x=312 y=180 fill=#f7a41d /><rect x=324 y=180 fill=#f38924 /><rect x=336 y=180 fill=#ef6527 /><rect x=348 y=180 fill=#ec3e28 /><rect x=360 y=180 fill=#ec1d25 /><rect x=372 y=180 fill=#ec1d25 /><rect x=384 y=180 fill=#ec1d25 /><rect x=396 y=180 fill=#ec1d25 /><rect x=408 y=180 fill=#ec1d25 /><rect x=420 y=180 fill=#ec1d25 /><rect x=432 y=180 fill=#ec1d25 /><rect x=444 y=180 fill=#ec1d25 /><rect x=456 y=180 fill=#ec1d25 /><rect x=-12 y=192 fill=#6bbb5a /><rect x=0 y=192 fill=#6bba52 /><rect x=12 y=192 fill=#6ab948 /><rect x=24 y=192 fill=#6ab947 /><rect x=36 y=192 fill=#6ab946 /><rect x=48 y=192 fill=#6ab946 /><rect x=60 y=192 fill=#f5e415 /><rect x=72 y=192 fill=#f5e415 /><rect x=84 y=192 fill=#f4e415 /><rect x=96 y=192 fill=#f4e415 /><rect x=108 y=192 fill=#f5e314 /><rect x=120 y=192 fill=#f6e113 /><rect x=132 y=192 fill=#f7e011 /><rect x=144 y=192 fill=#f8de10 /><rect x=156 y=192 fill=#f9db0e /><rect x=168 y=192 fill=#fad90d /><rect x=180 y=192 fill=#fad70c /><rect x=192 y=192 fill=#fbd50a /><rect x=204 y=192 fill=#fcd209 /><rect x=216 y=192 fill=#fcd007 /><rect x=228 y=192 fill=#fdce06 /><rect x=240 y=192 fill=#fdca08 /><rect x=252 y=192 fill=#fcc70a /><rect x=264 y=192 fill=#fcc50c /><rect x=276 y=192 fill=#fcc20d /><rect x=288 y=192 fill=#fcbf10 /><rect x=300 y=192 fill=#fbb814 /><rect x=312 y=192 fill=#f8a71c /><rect x=324 y=192 fill=#f38d24 /><rect x=336 y=192 fill=#ef6b27 /><rect x=348 y=192 fill=#ec4528 /><rect x=360 y=192 fill=#ec1d25 /><rect x=372 y=192 fill=#ec1d25 /><rect x=384 y=192 fill=#ec1d25 /><rect x=396 y=192 fill=#ec1d25 /><rect x=408 y=192 fill=#ec1d25 /><rect x=420 y=192 fill=#ec1d25 /><rect x=432 y=192 fill=#ec1d25 /><rect x=444 y=192 fill=#ec1d25 /><rect x=456 y=192 fill=#ec1d25 /><rect x=-12 y=204 fill=#6bbc60 /><rect x=0 y=204 fill=#6bbb59 /><rect x=12 y=204 fill=#6ab94c /><rect x=24 y=204 fill=#6ab947 /><rect x=36 y=204 fill=#6ab947 /><rect x=48 y=204 fill=#6ab946 /><rect x=60 y=204 fill=#f4e515 /><rect x=72 y=204 fill=#f4e515 /><rect x=84 y=204 fill=#f4e515 /><rect x=96 y=204 fill=#f4e415 /><rect x=108 y=204 fill=#f5e415 /><rect x=120 y=204 fill=#f5e213 /><rect x=132 y=204 fill=#f6e112 /><rect x=144 y=204 fill=#f7df11 /><rect x=156 y=204 fill=#f8dd10 /><rect x=168 y=204 fill=#f9db0e /><rect x=180 y=204 fill=#fad90d /><rect x=192 y=204 fill=#fad70c /><rect x=204 y=204 fill=#fbd50a /><rect x=216 y=204 fill=#fcd209 /><rect x=228 y=204 fill=#fcd007 /><rect x=240 y=204 fill=#fdcd06 /><rect x=252 y=204 fill=#fdca08 /><rect x=264 y=204 fill=#fcc80a /><rect x=276 y=204 fill=#fcc40c /><rect x=288 y=204 fill=#fcc00f /><rect x=300 y=204 fill=#fbb913 /><rect x=312 y=204 fill=#f8a91b /><rect x=324 y=204 fill=#f49222 /><rect x=336 y=204 fill=#f07326 /><rect x=348 y=204 fill=#ed4f28 /><rect x=360 y=204 fill=#ec1e25 /><rect x=372 y=204 fill=#ec1d25 /><rect x=384 y=204 fill=#ec1d25 /><rect x=396 y=204 fill=#ec1d25 /><rect x=408 y=204 fill=#ec1d25 /><rect x=420 y=204 fill=#ec1d25 /><rect x=432 y=204 fill=#ec1d25 /><rect x=444 y=204 fill=#ec1d25 /><rect x=456 y=204 fill=#ec1d25 /><rect x=-12 y=216 fill=#6bbc64 /><rect x=0 y=216 fill=#6bbb5e /><rect x=12 y=216 fill=#6bba52 /><rect x=24 y=216 fill=#6ab948 /><rect x=36 y=216 fill=#6ab947 /><rect x=48 y=216 fill=#6ab947 /><rect x=60 y=216 fill=#f4e516 /><rect x=72 y=216 fill=#f4e516 /><rect x=84 y=216 fill=#f4e516 /><rect x=96 y=216 fill=#f4e515 /><rect x=108 y=216 fill=#f4e415 /><rect x=120 y=216 fill=#f5e314 /><rect x=132 y=216 fill=#f6e213 /><rect x=144 y=216 fill=#f7e012 /><rect x=156 y=216 fill=#f7df11 /><rect x=168 y=216 fill=#f8de10 /><rect x=180 y=216 fill=#f8dd0f /><rect x=192 y=216 fill=#f9db0e /><rect x=204 y=216 fill=#fad90d /><rect x=216 y=216 fill=#fad70b /><rect x=228 y=216 fill=#fbd40a /><rect x=240 y=216 fill=#fcd208 /><rect x=252 y=216 fill=#fdcf07 /><rect x=264 y=216 fill=#fdcc07 /><rect x=276 y=216 fill=#fcc80a /><rect x=288 y=216 fill=#fcc30d /><rect x=300 y=216 fill=#fbbb12 /><rect x=312 y=216 fill=#f9ac19 /><rect x=324 y=216 fill=#f59821 /><rect x=336 y=216 fill=#f17c25 /><rect x=348 y=216 fill=#ee5b28 /><rect x=360 y=216 fill=#ec2225 /><rect x=372 y=216 fill=#ec1d25 /><rect x=384 y=216 fill=#ec1d25 /><rect x=396 y=216 fill=#ec1d25 /><rect x=408 y=216 fill=#ec1d25 /><rect x=420 y=216 fill=#ec1d25 /><rect x=432 y=216 fill=#ec1d25 /><rect x=444 y=216 fill=#ec1d25 /><rect x=456 y=216 fill=#ec1d25 /><rect x=-12 y=228 fill=#6cbc68 /><rect x=0 y=228 fill=#6bbc62 /><rect x=12 y=228 fill=#6bbb57 /><rect x=24 y=228 fill=#6ab94d /><rect x=36 y=228 fill=#6ab948 /><rect x=48 y=228 fill=#6ab947 /><rect x=60 y=228 fill=#f3e617 /><rect x=72 y=228 fill=#f3e616 /><rect x=84 y=228 fill=#f4e516 /><rect x=96 y=228 fill=#f4e516 /><rect x=108 y=228 fill=#f4e515 /><rect x=120 y=228 fill=#f5e415 /><rect x=132 y=228 fill=#f5e314 /><rect x=144 y=228 fill=#f6e213 /><rect x=156 y=228 fill=#f6e113 /><rect x=168 y=228 fill=#f6e112 /><rect x=180 y=228 fill=#f7e011 /><rect x=192 y=228 fill=#f7df11 /><rect x=204 y=228 fill=#f8de10 /><rect x=216 y=228 fill=#f9dc0f /><rect x=228 y=228 fill=#f9d90d /><rect x=240 y=228 fill=#fad70b /><rect x=252 y=228 fill=#fbd309 /><rect x=264 y=228 fill=#fcd007 /><rect x=276 y=228 fill=#fdcc07 /><rect x=288 y=228 fill=#fcc50c /><rect x=300 y=228 fill=#fbbd11 /><rect x=312 y=228 fill=#f9b018 /><rect x=324 y=228 fill=#f69e1f /><rect x=336 y=228 fill=#f28724 /><rect x=348 y=228 fill=#ef6627 /><rect x=360 y=228 fill=#ec2826 /><rect x=372 y=228 fill=#ec1d25 /><rect x=384 y=228 fill=#ec1d25 /><rect x=396 y=228 fill=#ec1d25 /><rect x=408 y=228 fill=#ec1d25 /><rect x=420 y=228 fill=#ec1d25 /><rect x=432 y=228 fill=#ec1d25 /><rect x=444 y=228 fill=#ec1d25 /><rect x=456 y=228 fill=#ec1d25 /><rect x=-12 y=240 fill=#6cbd6c /><rect x=0 y=240 fill=#6cbc67 /><rect x=12 y=240 fill=#6bbb5d /><rect x=24 y=240 fill=#6bba53 /><rect x=36 y=240 fill=#6ab94b /><rect x=48 y=240 fill=#f2e718 /><rect x=60 y=240 fill=#f2e717 /><rect x=72 y=240 fill=#f3e717 /><rect x=84 y=240 fill=#f3e617 /><rect x=96 y=240 fill=#f3e616 /><rect x=108 y=240 fill=#f4e516 /><rect x=120 y=240 fill=#f4e515 /><rect x=132 y=240 fill=#f4e415 /><rect x=144 y=240 fill=#f5e314 /><rect x=156 y=240 fill=#f5e314 /><rect x=168 y=240 fill=#f5e314 /><rect x=180 y=240 fill=#f6e213 /><rect x=192 y=240 fill=#f6e213 /><rect x=204 y=240 fill=#f6e112 /><rect x=216 y=240 fill=#f7df11 /><rect x=228 y=240 fill=#f8de10 /><rect x=240 y=240 fill=#f9db0e /><rect x=252 y=240 fill=#fad80c /><rect x=264 y=240 fill=#fbd40a /><rect x=276 y=240 fill=#fdcf07 /><rect x=288 y=240 fill=#fcc80a /><rect x=300 y=240 fill=#fcbf0f /><rect x=312 y=240 fill=#fab316 /><rect x=324 y=240 fill=#f7a41d /><rect x=336 y=240 fill=#f49023 /><rect x=348 y=240 fill=#f07126 /><rect x=360 y=240 fill=#ec2f26 /><rect x=372 y=240 fill=#ec1d25 /><rect x=384 y=240 fill=#ec1d25 /><rect x=396 y=240 fill=#ec1d25 /><rect x=408 y=240 fill=#ec1d25 /><rect x=420 y=240 fill=#ec1d25 /><rect x=432 y=240 fill=#ec1d25 /><rect x=444 y=240 fill=#ec1d25 /><rect x=456 y=240 fill=#ec1d25 /><rect x=-12 y=252 fill=#6cbd74 /><rect x=0 y=252 fill=#6cbd6d /><rect x=12 y=252 fill=#6bbc64 /><rect x=24 y=252 fill=#6bbb5b /><rect x=36 y=252 fill=#6bba53 /><rect x=48 y=252 fill=#e4e21e /><rect x=60 y=252 fill=#e8e41c /><rect x=72 y=252 fill=#eee61a /><rect x=84 y=252 fill=#f2e818 /><rect x=96 y=252 fill=#f3e717 /><rect x=108 y=252 fill=#f3e617 /><rect x=120 y=252 fill=#f3e616 /><rect x=132 y=252 fill=#f3e616 /><rect x=144 y=252 fill=#f4e516 /><rect x=156 y=252 fill=#f4e515 /><rect x=168 y=252 fill=#f4e415 /><rect x=180 y=252 fill=#f5e414 /><rect x=192 y=252 fill=#f5e314 /><rect x=204 y=252 fill=#f6e213 /><rect x=216 y=252 fill=#f6e112 /><rect x=228 y=252 fill=#f7df11 /><rect x=240 y=252 fill=#f8de10 /><rect x=252 y=252 fill=#f9db0e /><rect x=264 y=252 fill=#fad70c /><rect x=276 y=252 fill=#fcd209 /><rect x=288 y=252 fill=#fdcc07 /><rect x=300 y=252 fill=#fcc30d /><rect x=312 y=252 fill=#fbb814 /><rect x=324 y=252 fill=#f8aa1a /><rect x=336 y=252 fill=#f59821 /><rect x=348 y=252 fill=#f17b25 /><rect x=360 y=252 fill=#ec3827 /><rect x=372 y=252 fill=#ec1d25 /><rect x=384 y=252 fill=#ec1d25 /><rect x=396 y=252 fill=#ec1d25 /><rect x=408 y=252 fill=#ec1d25 /><rect x=420 y=252 fill=#ec1d25 /><rect x=432 y=252 fill=#ec1d25 /><rect x=444 y=252 fill=#ec1d25 /><rect x=456 y=252 fill=#ec1d25 /><rect x=-12 y=264 fill=#6dbe7e /><rect x=0 y=264 fill=#6cbe77 /><rect x=12 y=264 fill=#6cbd6c /><rect x=24 y=264 fill=#6bbc64 /><rect x=36 y=264 fill=#6bbb5c /><rect x=48 y=264 fill=#b6d12f /><rect x=60 y=264 fill=#c7d729 /><rect x=72 y=264 fill=#d5dd23 /><rect x=84 y=264 fill=#e1e11f /><rect x=96 y=264 fill=#e9e51b /><rect x=108 y=264 fill=#eee61a /><rect x=120 y=264 fill=#f1e818 /><rect x=132 y=264 fill=#f2e818 /><rect x=144 y=264 fill=#f3e717 /><rect x=156 y=264 fill=#f3e617 /><rect x=168 y=264 fill=#f3e616 /><rect x=180 y=264 fill=#f4e515 /><rect x=192 y=264 fill=#f4e415 /><rect x=204 y=264 fill=#f5e314 /><rect x=216 y=264 fill=#f6e213 /><rect x=228 y=264 fill=#f6e112 /><rect x=240 y=264 fill=#f7df11 /><rect x=252 y=264 fill=#f8dd0f /><rect x=264 y=264 fill=#f9da0d /><rect x=276 y=264 fill=#fbd60b /><rect x=288 y=264 fill=#fcd008 /><rect x=300 y=264 fill=#fdc909 /><rect x=312 y=264 fill=#fcbe10 /><rect x=324 y=264 fill=#fab117 /><rect x=336 y=264 fill=#f69f1f /><rect x=348 y=264 fill=#f28425 /><rect x=360 y=264 fill=#ec4228 /><rect x=372 y=264 fill=#ec1d25 /><rect x=384 y=264 fill=#ec1d25 /><rect x=396 y=264 fill=#ec1d25 /><rect x=408 y=264 fill=#ec1d25 /><rect x=420 y=264 fill=#ec1d25 /><rect x=432 y=264 fill=#ec1d25 /><rect x=444 y=264 fill=#ec1d25 /><rect x=456 y=264 fill=#ec1d25 /><rect x=-12 y=276 fill=#6dbf88 /><rect x=0 y=276 fill=#6dbe83 /><rect x=12 y=276 fill=#6cbe78 /><rect x=24 y=276 fill=#6cbd6d /><rect x=36 y=276 fill=#6cbc66 /><rect x=48 y=276 fill=#81bf3f /><rect x=60 y=276 fill=#95c53b /><rect x=72 y=276 fill=#b2cf31 /><rect x=84 y=276 fill=#cad828 /><rect x=96 y=276 fill=#d6dd23 /><rect x=108 y=276 fill=#dde020 /><rect x=120 y=276 fill=#e2e21e /><rect x=132 y=276 fill=#e7e41c /><rect x=144 y=276 fill=#ece61a /><rect x=156 y=276 fill=#f2e818 /><rect x=168 y=276 fill=#f3e717 /><rect x=180 y=276 fill=#f3e616 /><rect x=192 y=276 fill=#f4e515 /><rect x=204 y=276 fill=#f5e415 /><rect x=216 y=276 fill=#f5e314 /><rect x=228 y=276 fill=#f6e213 /><rect x=240 y=276 fill=#f7e012 /><rect x=252 y=276 fill=#f7df11 /><rect x=264 y=276 fill=#f8dd0f /><rect x=276 y=276 fill=#fad90d /><rect x=288 y=276 fill=#fbd50a /><rect x=300 y=276 fill=#fdcf07 /><rect x=312 y=276 fill=#fcc50c /><rect x=324 y=276 fill=#fbb714 /><rect x=336 y=276 fill=#f8a61c /><rect x=348 y=276 fill=#f38d24 /><rect x=360 y=276 fill=#ed4d28 /><rect x=372 y=276 fill=#ec1d25 /><rect x=384 y=276 fill=#ec1d25 /><rect x=396 y=276 fill=#ec1d25 /><rect x=408 y=276 fill=#ec1d25 /><rect x=420 y=276 fill=#ec1d25 /><rect x=432 y=276 fill=#ec1d25 /><rect x=444 y=276 fill=#ec1d25 /><rect x=456 y=276 fill=#ec1d25 /><rect x=-12 y=288 fill=#6ec093 /><rect x=0 y=288 fill=#6ebf8e /><rect x=12 y=288 fill=#6dbf84 /><rect x=24 y=288 fill=#6dbe7a /><rect x=36 y=288 fill=#6cbd6f /><rect x=48 y=288 fill=#6eba43 /><rect x=60 y=288 fill=#7abe40 /><rect x=72 y=288 fill=#92c43b /><rect x=84 y=288 fill=#aece32 /><rect x=96 y=288 fill=#c2d52b /><rect x=108 y=288 fill=#ccd927 /><rect x=120 y=288 fill=#d3dc24 /><rect x=132 y=288 fill=#dade22 /><rect x=144 y=288 fill=#e1e11f /><rect x=156 y=288 fill=#e9e41c /><rect x=168 y=288 fill=#f1e818 /><rect x=180 y=288 fill=#f3e717 /><rect x=192 y=288 fill=#f3e616 /><rect x=204 y=288 fill=#f4e515 /><rect x=216 y=288 fill=#f5e415 /><rect x=228 y=288 fill=#f5e314 /><rect x=240 y=288 fill=#f6e213 /><rect x=252 y=288 fill=#f7e012 /><rect x=264 y=288 fill=#f8df11 /><rect x=276 y=288 fill=#f9dc0f /><rect x=288 y=288 fill=#fad80c /><rect x=300 y=288 fill=#fbd309 /><rect x=312 y=288 fill=#fdcb08 /><rect x=324 y=288 fill=#fcbe10 /><rect x=336 y=288 fill=#f9ac19 /><rect x=348 y=288 fill=#f59522 /><rect x=360 y=288 fill=#ee5928 /><rect x=372 y=288 fill=#ec1d25 /><rect x=384 y=288 fill=#ec1d25 /><rect x=396 y=288 fill=#ec1d25 /><rect x=408 y=288 fill=#ec1d25 /><rect x=420 y=288 fill=#ec1d25 /><rect x=432 y=288 fill=#ec1d25 /><rect x=444 y=288 fill=#ec1d25 /><rect x=456 y=288 fill=#ec1d25 /><rect x=-12 y=300 fill=#6ec19d /><rect x=0 y=300 fill=#6ec097 /><rect x=12 y=300 fill=#6dbf89 /><rect x=24 y=300 fill=#6dbe7a /><rect x=36 y=300 fill=#6cbd6c /><rect x=48 y=300 fill=#6ab944 /><rect x=60 y=300 fill=#73bc42 /><rect x=72 y=300 fill=#83c03e /><rect x=84 y=300 fill=#99c63a /><rect x=96 y=300 fill=#afce32 /><rect x=108 y=300 fill=#bdd32d /><rect x=120 y=300 fill=#c6d729 /><rect x=132 y=300 fill=#ceda26 /><rect x=144 y=300 fill=#d6dd23 /><rect x=156 y=300 fill=#dee020 /><rect x=168 y=300 fill=#e8e41c /><rect x=180 y=300 fill=#f0e719 /><rect x=192 y=300 fill=#f3e717 /><rect x=204 y=300 fill=#f3e616 /><rect x=216 y=300 fill=#f4e516 /><rect x=228 y=300 fill=#f4e415 /><rect x=240 y=300 fill=#f5e314 /><rect x=252 y=300 fill=#f6e213 /><rect x=264 y=300 fill=#f7e012 /><rect x=276 y=300 fill=#f8df10 /><rect x=288 y=300 fill=#f9db0e /><rect x=300 y=300 fill=#fad60b /><rect x=312 y=300 fill=#fdd007 /><rect x=324 y=300 fill=#fcc30d /><rect x=336 y=300 fill=#fab316 /><rect x=348 y=300 fill=#f69c20 /><rect x=360 y=300 fill=#ef6527 /><rect x=372 y=300 fill=#ec2225 /><rect x=384 y=300 fill=#ec1d25 /><rect x=396 y=300 fill=#ec1d25 /><rect x=408 y=300 fill=#ec1d25 /><rect x=420 y=300 fill=#ec1d25 /><rect x=432 y=300 fill=#ec1d25 /><rect x=444 y=300 fill=#ec1d25 /><rect x=456 y=300 fill=#ec1d25 /><rect x=-12 y=312 fill=#6fc2a9 /><rect x=0 y=312 fill=#6ec09d /><rect x=12 y=312 fill=#6dbf85 /><rect x=24 y=312 fill=#6cbd6d /><rect x=36 y=312 fill=#6bbb5d /><rect x=48 y=312 fill=#6ab945 /><rect x=60 y=312 fill=#6fbb43 /><rect x=72 y=312 fill=#7bbe40 /><rect x=84 y=312 fill=#8dc33c /><rect x=96 y=312 fill=#9dc838 /><rect x=108 y=312 fill=#accd33 /><rect x=120 y=312 fill=#b8d22e /><rect x=132 y=312 fill=#c2d52b /><rect x=144 y=312 fill=#cbd927 /><rect x=156 y=312 fill=#d4dc24 /><rect x=168 y=312 fill=#dde020 /><rect x=180 y=312 fill=#e6e31d /><rect x=192 y=312 fill=#eee61a /><rect x=204 y=312 fill=#f2e818 /><rect x=216 y=312 fill=#f3e717 /><rect x=228 y=312 fill=#f3e616 /><rect x=240 y=312 fill=#f4e515 /><rect x=252 y=312 fill=#f5e314 /><rect x=264 y=312 fill=#f6e213 /><rect x=276 y=312 fill=#f7e011 /><rect x=288 y=312 fill=#f8dd10 /><rect x=300 y=312 fill=#fad90d /><rect x=312 y=312 fill=#fcd209 /><rect x=324 y=312 fill=#fcc80a /><rect x=336 y=312 fill=#fbb913 /><rect x=348 y=312 fill=#f7a41d /><rect x=360 y=312 fill=#f07026 /><rect x=372 y=312 fill=#ec2b26 /><rect x=384 y=312 fill=#ec1d25 /><rect x=396 y=312 fill=#ec1d25 /><rect x=408 y=312 fill=#ec1d25 /><rect x=420 y=312 fill=#ec1d25 /><rect x=432 y=312 fill=#ec1d25 /><rect x=444 y=312 fill=#ec1d25 /><rect x=456 y=312 fill=#ec1d25 /><rect x=-12 y=324 fill=#6fc3b2 /><rect x=0 y=324 fill=#6ec1a1 /><rect x=12 y=324 fill=#6dbe7e /><rect x=24 y=324 fill=#6bbc62 /><rect x=36 y=324 fill=#6ab94c /><rect x=48 y=324 fill=#6ab945 /><rect x=60 y=324 fill=#6cba44 /><rect x=72 y=324 fill=#76bc41 /><rect x=84 y=324 fill=#83c03f /><rect x=96 y=324 fill=#90c43c /><rect x=108 y=324 fill=#9cc739 /><rect x=120 y=324 fill=#a9cc34 /><rect x=132 y=324 fill=#b4d030 /><rect x=144 y=324 fill=#c0d42c /><rect x=156 y=324 fill=#cad828 /><rect x=168 y=324 fill=#d2dc24 /><rect x=180 y=324 fill=#dadf21 /><rect x=192 y=324 fill=#e2e21e /><rect x=204 y=324 fill=#e9e51b /><rect x=216 y=324 fill=#f0e719 /><rect x=228 y=324 fill=#f2e717 /><rect x=240 y=324 fill=#f3e616 /><rect x=252 y=324 fill=#f4e415 /><rect x=264 y=324 fill=#f5e314 /><rect x=276 y=324 fill=#f6e113 /><rect x=288 y=324 fill=#f7df11 /><rect x=300 y=324 fill=#f9db0e /><rect x=312 y=324 fill=#fbd50a /><rect x=324 y=324 fill=#fdcd07 /><rect x=336 y=324 fill=#fcbf10 /><rect x=348 y=324 fill=#f9ab1a /><rect x=360 y=324 fill=#f17d25 /><rect x=372 y=324 fill=#ec3a27 /><rect x=384 y=324 fill=#ec1d25 /><rect x=396 y=324 fill=#ec1d25 /><rect x=408 y=324 fill=#ec1d25 /><rect x=420 y=324 fill=#ec1d25 /><rect x=432 y=324 fill=#ec1d25 /><rect x=444 y=324 fill=#ec1d25 /><rect x=456 y=324 fill=#ec1d25 /><rect x=-12 y=336 fill=#70c3ba /><rect x=0 y=336 fill=#6fc1a4 /><rect x=12 y=336 fill=#6cbe77 /><rect x=24 y=336 fill=#6bbb58 /><rect x=36 y=336 fill=#6ab947 /><rect x=48 y=336 fill=#6ab946 /><rect x=60 y=336 fill=#6ab944 /><rect x=72 y=336 fill=#72bb42 /><rect x=84 y=336 fill=#7abd40 /><rect x=96 y=336 fill=#85c13e /><rect x=108 y=336 fill=#90c43c /><rect x=120 y=336 fill=#99c63a /><rect x=132 y=336 fill=#a6cb35 /><rect x=144 y=336 fill=#b1cf31 /><rect x=156 y=336 fill=#bdd32d /><rect x=168 y=336 fill=#c6d729 /><rect x=180 y=336 fill=#ceda26 /><rect x=192 y=336 fill=#d6dd23 /><rect x=204 y=336 fill=#dee020 /><rect x=216 y=336 fill=#e5e31d /><rect x=228 y=336 fill=#ede61a /><rect x=240 y=336 fill=#f2e718 /><rect x=252 y=336 fill=#f3e616 /><rect x=264 y=336 fill=#f4e415 /><rect x=276 y=336 fill=#f5e214 /><rect x=288 y=336 fill=#f7e012 /><rect x=300 y=336 fill=#f8dd10 /><rect x=312 y=336 fill=#fad80c /><rect x=324 y=336 fill=#fcd007 /><rect x=336 y=336 fill=#fcc40c /><rect x=348 y=336 fill=#fab217 /><rect x=360 y=336 fill=#f38924 /><rect x=372 y=336 fill=#ed4b28 /><rect x=384 y=336 fill=#ec1d25 /><rect x=396 y=336 fill=#ec1d25 /><rect x=408 y=336 fill=#ec1d25 /><rect x=420 y=336 fill=#ec1d25 /><rect x=432 y=336 fill=#ec1d25 /><rect x=444 y=336 fill=#ec1d25 /><rect x=456 y=336 fill=#ec1d25 /><rect x=-12 y=348 fill=#70c4c3 /><rect x=0 y=348 fill=#6fc2ae /><rect x=12 y=348 fill=#6dbf84 /><rect x=24 y=348 fill=#6bbc61 /><rect x=36 y=348 fill=#6ab948 /><rect x=48 y=348 fill=#6ab946 /><rect x=60 y=348 fill=#6ab945 /><rect x=72 y=348 fill=#6dba43 /><rect x=84 y=348 fill=#75bc42 /><rect x=96 y=348 fill=#7bbe40 /><rect x=108 y=348 fill=#85c13e /><rect x=120 y=348 fill=#8ec33c /><rect x=132 y=348 fill=#96c53a /><rect x=144 y=348 fill=#a1c937 /><rect x=156 y=348 fill=#accd33 /><rect x=168 y=348 fill=#b7d12f /><rect x=180 y=348 fill=#c2d52b /><rect x=192 y=348 fill=#cbd927 /><rect x=204 y=348 fill=#d3dc24 /><rect x=216 y=348 fill=#dbdf21 /><rect x=228 y=348 fill=#e3e21e /><rect x=240 y=348 fill=#ece61a /><rect x=252 y=348 fill=#f2e718 /><rect x=264 y=348 fill=#f3e616 /><rect x=276 y=348 fill=#f4e415 /><rect x=288 y=348 fill=#f6e213 /><rect x=300 y=348 fill=#f7df11 /><rect x=312 y=348 fill=#f9da0e /><rect x=324 y=348 fill=#fbd309 /><rect x=336 y=348 fill=#fcc80a /><rect x=348 y=348 fill=#fbb715 /><rect x=360 y=348 fill=#f49322 /><rect x=372 y=348 fill=#ee5c28 /><rect x=384 y=348 fill=#ec2826 /><rect x=396 y=348 fill=#ec1d25 /><rect x=408 y=348 fill=#ec1d25 /><rect x=420 y=348 fill=#ec1d25 /><rect x=432 y=348 fill=#ec1d25 /><rect x=444 y=348 fill=#ec1d25 /><rect x=456 y=348 fill=#ec1d25 /><rect x=-12 y=360 fill=#6fc6cd /><rect x=0 y=360 fill=#70c4bc /><rect x=12 y=360 fill=#6ec098 /><rect x=24 y=360 fill=#6cbd74 /><rect x=36 y=360 fill=#6bbb5b /><rect x=48 y=360 fill=#6ab948 /><rect x=60 y=360 fill=#6ab946 /><rect x=72 y=360 fill=#6ab945 /><rect x=84 y=360 fill=#6fba43 /><rect x=96 y=360 fill=#76bc41 /><rect x=108 y=360 fill=#7bbe40 /><rect x=120 y=360 fill=#81bf3f /><rect x=132 y=360 fill=#88c13d /><rect x=144 y=360 fill=#90c43c /><rect x=156 y=360 fill=#99c63a /><rect x=168 y=360 fill=#a6cb35 /><rect x=180 y=360 fill=#b3d030 /><rect x=192 y=360 fill=#bfd42c /><rect x=204 y=360 fill=#c9d828 /><rect x=216 y=360 fill=#d1db25 /><rect x=228 y=360 fill=#dade22 /><rect x=240 y=360 fill=#e2e21e /><rect x=252 y=360 fill=#ece61a /><rect x=264 y=360 fill=#f2e718 /><rect x=276 y=360 fill=#f3e616 /><rect x=288 y=360 fill=#f5e415 /><rect x=300 y=360 fill=#f6e112 /><rect x=312 y=360 fill=#f8dd0f /><rect x=324 y=360 fill=#fbd50b /><rect x=336 y=360 fill=#fdcb08 /><rect x=348 y=360 fill=#fbba13 /><rect x=360 y=360 fill=#f69b20 /><rect x=372 y=360 fill=#f06d26 /><rect x=384 y=360 fill=#ec3b28 /><rect x=396 y=360 fill=#ec1e25 /><rect x=408 y=360 fill=#ec1d25 /><rect x=420 y=360 fill=#ec1d25 /><rect x=432 y=360 fill=#ec1d25 /><rect x=444 y=360 fill=#ec1d25 /><rect x=456 y=360 fill=#ec1d25 /><rect x=-12 y=372 fill=#6ec8d7 /><rect x=0 y=372 fill=#6fc6cb /><rect x=12 y=372 fill=#6fc2b0 /><rect x=24 y=372 fill=#6ec093 /><rect x=36 y=372 fill=#6cbd74 /><rect x=48 y=372 fill=#6bbb5e /><rect x=60 y=372 fill=#6ab948 /><rect x=72 y=372 fill=#6ab946 /><rect x=84 y=372 fill=#6ab944 /><rect x=96 y=372 fill=#71bb42 /><rect x=108 y=372 fill=#75bc42 /><rect x=120 y=372 fill=#78bd41 /><rect x=132 y=372 fill=#7bbe40 /><rect x=144 y=372 fill=#81bf3f /><rect x=156 y=372 fill=#8bc23d /><rect x=168 y=372 fill=#95c53b /><rect x=180 y=372 fill=#a4ca36 /><rect x=192 y=372 fill=#b2d030 /><rect x=204 y=372 fill=#bed42c /><rect x=216 y=372 fill=#c8d729 /><rect x=228 y=372 fill=#d0db25 /><rect x=240 y=372 fill=#d9de22 /><rect x=252 y=372 fill=#e2e21e /><rect x=264 y=372 fill=#ebe51b /><rect x=276 y=372 fill=#f2e818 /><rect x=288 y=372 fill=#f3e616 /><rect x=300 y=372 fill=#f5e314 /><rect x=312 y=372 fill=#f7df11 /><rect x=324 y=372 fill=#fad70c /><rect x=336 y=372 fill=#fdce06 /><rect x=348 y=372 fill=#fbbd11 /><rect x=360 y=372 fill=#f7a21e /><rect x=372 y=372 fill=#f17e25 /><rect x=384 y=372 fill=#ee5528 /><rect x=396 y=372 fill=#ec3027 /><rect x=408 y=372 fill=#ec1d25 /><rect x=420 y=372 fill=#ec1d25 /><rect x=432 y=372 fill=#ec1d25 /><rect x=444 y=372 fill=#ec1d25 /><rect x=456 y=372 fill=#ec1d25 /><rect x=-12 y=384 fill=#6bc8dc /><rect x=0 y=384 fill=#6ec8d8 /><rect x=12 y=384 fill=#70c5c6 /><rect x=24 y=384 fill=#6fc2af /><rect x=36 y=384 fill=#6ec096 /><rect x=48 y=384 fill=#6cbe78 /><rect x=60 y=384 fill=#6bbb58 /><rect x=72 y=384 fill=#6ab947 /><rect x=84 y=384 fill=#6ab945 /><rect x=96 y=384 fill=#6bb944 /><rect x=108 y=384 fill=#6fba43 /><rect x=120 y=384 fill=#72bb42 /><rect x=132 y=384 fill=#74bc42 /><rect x=144 y=384 fill=#77bd41 /><rect x=156 y=384 fill=#7dbe40 /><rect x=168 y=384 fill=#89c23d /><rect x=180 y=384 fill=#95c53b /><rect x=192 y=384 fill=#a4ca36 /><rect x=204 y=384 fill=#b0cf31 /><rect x=216 y=384 fill=#bbd32d /><rect x=228 y=384 fill=#c4d62a /><rect x=240 y=384 fill=#cdd927 /><rect x=252 y=384 fill=#d6dd23 /><rect x=264 y=384 fill=#dfe020 /><rect x=276 y=384 fill=#e8e41c /><rect x=288 y=384 fill=#f2e818 /><rect x=300 y=384 fill=#f4e516 /><rect x=312 y=384 fill=#f6e112 /><rect x=324 y=384 fill=#f9da0d /><rect x=336 y=384 fill=#fcd007 /><rect x=348 y=384 fill=#fcc10f /><rect x=360 y=384 fill=#f9aa1a /><rect x=372 y=384 fill=#f49023 /><rect x=384 y=384 fill=#f06e26 /><rect x=396 y=384 fill=#ed4c28 /><rect x=408 y=384 fill=#ec2926 /><rect x=420 y=384 fill=#ec1d25 /><rect x=432 y=384 fill=#ec1d25 /><rect x=444 y=384 fill=#ec1d25 /><rect x=456 y=384 fill=#ec1d25 /><rect x=-12 y=396 fill=#67c8de /><rect x=0 y=396 fill=#6ac8dd /><rect x=12 y=396 fill=#6ec7d5 /><rect x=24 y=396 fill=#70c4c2 /><rect x=36 y=396 fill=#6fc2ab /><rect x=48 y=396 fill=#6ebf91 /><rect x=60 y=396 fill=#6cbd69 /><rect x=72 y=396 fill=#6ab948 /><rect x=84 y=396 fill=#6ab946 /><rect x=96 y=396 fill=#6ab945 /><rect x=108 y=396 fill=#6ab944 /><rect x=120 y=396 fill=#6cba44 /><rect x=132 y=396 fill=#6fba43 /><rect x=144 y=396 fill=#72bb42 /><rect x=156 y=396 fill=#77bd41 /><rect x=168 y=396 fill=#7ebe40 /><rect x=180 y=396 fill=#8ac23d /><rect x=192 y=396 fill=#94c53b /><rect x=204 y=396 fill=#9fc838 /><rect x=216 y=396 fill=#a9cc34 /><rect x=228 y=396 fill=#b2cf31 /><rect x=240 y=396 fill=#bcd32d /><rect x=252 y=396 fill=#c7d729 /><rect x=264 y=396 fill=#d1db25 /><rect x=276 y=396 fill=#dcdf21 /><rect x=288 y=396 fill=#e9e41c /><rect x=300 y=396 fill=#f3e717 /><rect x=312 y=396 fill=#f5e214 /><rect x=324 y=396 fill=#f8dd0f /><rect x=336 y=396 fill=#fcd309 /><rect x=348 y=396 fill=#fcc50c /><rect x=360 y=396 fill=#fab416 /><rect x=372 y=396 fill=#f79f1f /><rect x=384 y=396 fill=#f28724 /><rect x=396 y=396 fill=#ef6727 /><rect x=408 y=396 fill=#ec4228 /><rect x=420 y=396 fill=#ec2125 /><rect x=432 y=396 fill=#ec1d25 /><rect x=444 y=396 fill=#ec1d25 /><rect x=456 y=396 fill=#ec1d25 /><rect x=-12 y=408 fill=#65c8e0 /><rect x=0 y=408 fill=#66c8df /><rect x=12 y=408 fill=#6cc8db /><rect x=24 y=408 fill=#6fc6cd /><rect x=36 y=408 fill=#70c3b8 /><rect x=48 y=408 fill=#6ec1a0 /><rect x=60 y=408 fill=#6dbe7a /><rect x=72 y=408 fill=#6bba56 /><rect x=84 y=408 fill=#6ab947 /><rect x=96 y=408 fill=#6ab946 /><rect x=108 y=408 fill=#6ab945 /><rect x=120 y=408 fill=#6ab944 /><rect x=132 y=408 fill=#6bb944 /><rect x=144 y=408 fill=#6eba43 /><rect x=156 y=408 fill=#71bb42 /><rect x=168 y=408 fill=#76bc41 /><rect x=180 y=408 fill=#7abe40 /><rect x=192 y=408 fill=#81c03f /><rect x=204 y=408 fill=#88c13d /><rect x=216 y=408 fill=#8dc33c /><rect x=228 y=408 fill=#93c53b /><rect x=240 y=408 fill=#9ac739 /><rect x=252 y=408 fill=#a6cb35 /><rect x=264 y=408 fill=#b9d22e /><rect x=276 y=408 fill=#cdd927 /><rect x=288 y=408 fill=#dfe11f /><rect x=300 y=408 fill=#f1e719 /><rect x=312 y=408 fill=#f4e415 /><rect x=324 y=408 fill=#f7e011 /><rect x=336 y=408 fill=#fad80c /><rect x=348 y=408 fill=#fdcf06 /><rect x=360 y=408 fill=#fcc20e /><rect x=372 y=408 fill=#fab217 /><rect x=384 y=408 fill=#f69e1f /><rect x=396 y=408 fill=#f28525 /><rect x=408 y=408 fill=#ee5e28 /><rect x=420 y=408 fill=#ec2d26 /><rect x=432 y=408 fill=#ec1d25 /><rect x=444 y=408 fill=#ec1d25 /><rect x=456 y=408 fill=#ec1d25 /><rect x=-12 y=420 fill=#62c8e2 /><rect x=0 y=420 fill=#64c8e1 /><rect x=12 y=420 fill=#69c8dd /><rect x=24 y=420 fill=#6ec7d5 /><rect x=36 y=420 fill=#70c4c2 /><rect x=48 y=420 fill=#6fc2ac /><rect x=60 y=420 fill=#6dbf89 /><rect x=72 y=420 fill=#6bbc63 /><rect x=84 y=420 fill=#6ab948 /><rect x=96 y=420 fill=#6ab947 /><rect x=108 y=420 fill=#6ab946 /><rect x=120 y=420 fill=#6ab945 /><rect x=132 y=420 fill=#6ab944 /><rect x=144 y=420 fill=#6ab944 /><rect x=156 y=420 fill=#6cb944 /><rect x=168 y=420 fill=#6eba43 /><rect x=180 y=420 fill=#71bb42 /><rect x=192 y=420 fill=#73bc42 /><rect x=204 y=420 fill=#75bc42 /><rect x=216 y=420 fill=#77bd41 /><rect x=228 y=420 fill=#79bd41 /><rect x=240 y=420 fill=#7cbe40 /><rect x=252 y=420 fill=#85c13e /><rect x=264 y=420 fill=#98c63a /><rect x=276 y=420 fill=#bad22e /><rect x=288 y=420 fill=#d5dd23 /><rect x=300 y=420 fill=#e8e41c /><rect x=312 y=420 fill=#f3e617 /><rect x=324 y=420 fill=#f5e314 /><rect x=336 y=420 fill=#f7df11 /><rect x=348 y=420 fill=#fad80c /><rect x=360 y=420 fill=#fcd008 /><rect x=372 y=420 fill=#fcc50c /><rect x=384 y=420 fill=#fab515 /><rect x=396 y=420 fill=#f7a01e /><rect x=408 y=420 fill=#f17a25 /><rect x=420 y=420 fill=#ec4028 /><rect x=432 y=420 fill=#ec1d25 /><rect x=444 y=420 fill=#ec1d25 /><rect x=456 y=420 fill=#ec1d25 /><rect x=-12 y=432 fill=#5fc8e4 /><rect x=0 y=432 fill=#61c8e3 /><rect x=12 y=432 fill=#66c8df /><rect x=24 y=432 fill=#6cc8db /><rect x=36 y=432 fill=#6fc6cc /><rect x=48 y=432 fill=#70c3b8 /><rect x=60 y=432 fill=#6ec09a /><rect x=72 y=432 fill=#6cbd73 /><rect x=84 y=432 fill=#6bbb58 /><rect x=96 y=432 fill=#6ab948 /><rect x=108 y=432 fill=#6ab947 /><rect x=120 y=432 fill=#6ab945 /><rect x=132 y=432 fill=#6ab945 /><rect x=144 y=432 fill=#6ab944 /><rect x=156 y=432 fill=#6ab944 /><rect x=168 y=432 fill=#6ab944 /><rect x=180 y=432 fill=#6ab944 /><rect x=192 y=432 fill=#6ab944 /><rect x=204 y=432 fill=#6ab944 /><rect x=216 y=432 fill=#6cb944 /><rect x=228 y=432 fill=#6dba43 /><rect x=240 y=432 fill=#70bb43 /><rect x=252 y=432 fill=#74bc42 /><rect x=264 y=432 fill=#84c03e /><rect x=276 y=432 fill=#a6cb35 /><rect x=288 y=432 fill=#ccd927 /><rect x=300 y=432 fill=#e0e11f /><rect x=312 y=432 fill=#f0e719 /><rect x=324 y=432 fill=#f3e616 /><rect x=336 y=432 fill=#f5e314 /><rect x=348 y=432 fill=#f7e011 /><rect x=360 y=432 fill=#f9db0e /><rect x=372 y=432 fill=#fbd40a /><rect x=384 y=432 fill=#fdc909 /><rect x=396 y=432 fill=#fbb714 /><rect x=408 y=432 fill=#f49322 /><rect x=420 y=432 fill=#ed5328 /><rect x=432 y=432 fill=#ec1d25 /><rect x=444 y=432 fill=#ec1d25 /><rect x=456 y=432 fill=#ec1d25 /><rect x=-12 y=444 fill=#5cc8e6 /><rect x=0 y=444 fill=#5dc8e5 /><rect x=12 y=444 fill=#62c8e2 /><rect x=24 y=444 fill=#68c8de /><rect x=36 y=444 fill=#6ec8d8 /><rect x=48 y=444 fill=#6fc5c7 /><rect x=60 y=444 fill=#6fc2ad /><rect x=72 y=444 fill=#6dbf8d /><rect x=84 y=444 fill=#6cbd6c /><rect x=96 y=444 fill=#6bbb58 /><rect x=108 y=444 fill=#6ab948 /><rect x=120 y=444 fill=#6ab946 /><rect x=132 y=444 fill=#6ab945 /><rect x=144 y=444 fill=#6ab945 /><rect x=156 y=444 fill=#6ab945 /><rect x=168 y=444 fill=#6ab945 /><rect x=180 y=444 fill=#6ab945 /><rect x=192 y=444 fill=#6ab945 /><rect x=204 y=444 fill=#6ab945 /><rect x=216 y=444 fill=#6ab945 /><rect x=228 y=444 fill=#6ab944 /><rect x=240 y=444 fill=#6ab944 /><rect x=252 y=444 fill=#6eba43 /><rect x=264 y=444 fill=#7abd41 /><rect x=276 y=444 fill=#97c63a /><rect x=288 y=444 fill=#c3d62a /><rect x=300 y=444 fill=#d8de22 /><rect x=312 y=444 fill=#e6e31d /><rect x=324 y=444 fill=#f2e818 /><rect x=336 y=444 fill=#f3e616 /><rect x=348 y=444 fill=#f5e314 /><rect x=360 y=444 fill=#f7e012 /><rect x=372 y=444 fill=#f9db0e /><rect x=384 y=444 fill=#fbd409 /><rect x=396 y=444 fill=#fcc60b /><rect x=408 y=444 fill=#f7a31e /><rect x=420 y=444 fill=#ef6227 /><rect x=432 y=444 fill=#ec1d25 /><rect x=444 y=444 fill=#ec1d25 /><rect x=456 y=444 fill=#ec1d25 /><rect x=-12 y=456 fill=#4ac7eb /><rect x=0 y=456 fill=#4ec7ea /><rect x=12 y=456 fill=#5ac8e6 /><rect x=24 y=456 fill=#61c8e3 /><rect x=36 y=456 fill=#67c8df /><rect x=48 y=456 fill=#6dc8db /><rect x=60 y=456 fill=#6fc5c8 /><rect x=72 y=456 fill=#6fc2b0 /><rect x=84 y=456 fill=#6ec097 /><rect x=96 y=456 fill=#6dbe7d /><rect x=108 y=456 fill=#6bbb5d /><rect x=120 y=456 fill=#6ab947 /><rect x=132 y=456 fill=#6ab945 /><rect x=144 y=456 fill=#6ab945 /><rect x=156 y=456 fill=#6ab945 /><rect x=168 y=456 fill=#6ab945 /><rect x=180 y=456 fill=#6ab945 /><rect x=192 y=456 fill=#6ab945 /><rect x=204 y=456 fill=#6ab945 /><rect x=216 y=456 fill=#6ab945 /><rect x=228 y=456 fill=#6ab944 /><rect x=240 y=456 fill=#6ab944 /><rect x=252 y=456 fill=#6bb944 /><rect x=264 y=456 fill=#76bc41 /><rect x=276 y=456 fill=#90c43c /><rect x=288 y=456 fill=#b8d22e /><rect x=300 y=456 fill=#d0db25 /><rect x=312 y=456 fill=#dee020 /><rect x=324 y=456 fill=#eae51b /><rect x=336 y=456 fill=#f3e717 /><rect x=348 y=456 fill=#f4e415 /><rect x=360 y=456 fill=#f6e213 /><rect x=372 y=456 fill=#f8df11 /><rect x=384 y=456 fill=#fad90d /><rect x=396 y=456 fill=#fdcf07 /><rect x=408 y=456 fill=#f9ad19 /><rect x=420 y=456 fill=#f06e26 /><rect x=432 y=456 fill=#ec2125 /><rect x=444 y=456 fill=#ec1d25 /><rect x=456 y=456 fill=#ec1d25 /><rect x=-12 y=468 fill=#32c6f1 /><rect x=0 y=468 fill=#37c6f0 /><rect x=12 y=468 fill=#42c7ed /><rect x=24 y=468 fill=#4fc7e9 /><rect x=36 y=468 fill=#5cc8e6 /><rect x=48 y=468 fill=#61c8e3 /><rect x=60 y=468 fill=#67c8df /><rect x=72 y=468 fill=#6dc8db /><rect x=84 y=468 fill=#6fc6cd /><rect x=96 y=468 fill=#70c4bd /><rect x=108 y=468 fill=#6dbf89 /><rect x=120 y=468 fill=#6aba4f /><rect x=132 y=468 fill=#6ab946 /><rect x=144 y=468 fill=#6ab945 /><rect x=156 y=468 fill=#6ab945 /><rect x=168 y=468 fill=#6ab945 /><rect x=180 y=468 fill=#6ab945 /><rect x=192 y=468 fill=#6ab945 /><rect x=204 y=468 fill=#6ab945 /><rect x=216 y=468 fill=#6ab945 /><rect x=228 y=468 fill=#6ab945 /><rect x=240 y=468 fill=#6ab944 /><rect x=252 y=468 fill=#6ab944 /><rect x=264 y=468 fill=#74bc42 /><rect x=276 y=468 fill=#89c23d /><rect x=288 y=468 fill=#adce32 /><rect x=300 y=468 fill=#c7d729 /><rect x=312 y=468 fill=#d7dd23 /><rect x=324 y=468 fill=#e4e31d /><rect x=336 y=468 fill=#f2e818 /><rect x=348 y=468 fill=#f4e516 /><rect x=360 y=468 fill=#f5e314 /><rect x=372 y=468 fill=#f6e112 /><rect x=384 y=468 fill=#f8dd0f /><rect x=396 y=468 fill=#fbd50a /><rect x=408 y=468 fill=#fbb515 /><rect x=420 y=468 fill=#f17726 /><rect x=432 y=468 fill=#ec2626 /><rect x=444 y=468 fill=#ec1d25 /><rect x=456 y=468 fill=#ec1d25 /><rect x=-12 y=480 fill=#31b0e5 /><rect x=0 y=480 fill=#31b5e8 /><rect x=12 y=480 fill=#2fc0ef /><rect x=24 y=480 fill=#33c6f1 /><rect x=36 y=480 fill=#3dc7ee /><rect x=48 y=480 fill=#46c7ec /><rect x=60 y=480 fill=#4ec7ea /><rect x=72 y=480 fill=#56c8e8 /><rect x=84 y=480 fill=#5dc8e5 /><rect x=96 y=480 fill=#61c8e3 /><rect x=108 y=480 fill=#70c4bb /><rect x=120 y=480 fill=#6bbc62 /><rect x=132 y=480 fill=#6ab946 /><rect x=144 y=480 fill=#6ab945 /><rect x=156 y=480 fill=#6ab945 /><rect x=168 y=480 fill=#6ab945 /><rect x=180 y=480 fill=#6ab945 /><rect x=192 y=480 fill=#6ab945 /><rect x=204 y=480 fill=#6ab945 /><rect x=216 y=480 fill=#6ab945 /><rect x=228 y=480 fill=#6ab945 /><rect x=240 y=480 fill=#6ab945 /><rect x=252 y=480 fill=#6ab944 /><rect x=264 y=480 fill=#72bb42 /><rect x=276 y=480 fill=#84c03e /><rect x=288 y=480 fill=#a2ca36 /><rect x=300 y=480 fill=#bed42c /><rect x=312 y=480 fill=#d0db25 /><rect x=324 y=480 fill=#dfe11f /><rect x=336 y=480 fill=#eee61a /><rect x=348 y=480 fill=#f3e617 /><rect x=360 y=480 fill=#f4e415 /><rect x=372 y=480 fill=#f6e213 /><rect x=384 y=480 fill=#f7df11 /><rect x=396 y=480 fill=#fad90d /><rect x=408 y=480 fill=#fbbc11 /><rect x=420 y=480 fill=#f28025 /><rect x=432 y=480 fill=#ec2c26 /><rect x=444 y=480 fill=#ec1d25 /><rect x=456 y=480 fill=#ec1d25 /><rect x=-12 y=492 fill=#359ad8 /><rect x=0 y=492 fill=#349fdb /><rect x=12 y=492 fill=#32aae2 /><rect x=24 y=492 fill=#31b3e7 /><rect x=36 y=492 fill=#30bbec /><rect x=48 y=492 fill=#2fc2f0 /><rect x=60 y=492 fill=#2ec6f2 /><rect x=72 y=492 fill=#31c6f1 /><rect x=84 y=492 fill=#34c6f0 /><rect x=96 y=492 fill=#3dc7ee /><rect x=108 y=492 fill=#6cc8db /><rect x=120 y=492 fill=#6dbe79 /><rect x=132 y=492 fill=#6ab947 /><rect x=144 y=492 fill=#6ab945 /><rect x=156 y=492 fill=#6ab945 /><rect x=168 y=492 fill=#6ab945 /><rect x=180 y=492 fill=#6ab945 /><rect x=192 y=492 fill=#6ab945 /><rect x=204 y=492 fill=#6ab945 /><rect x=216 y=492 fill=#6ab945 /><rect x=228 y=492 fill=#6ab945 /><rect x=240 y=492 fill=#6ab945 /><rect x=252 y=492 fill=#6ab944 /><rect x=264 y=492 fill=#71bb42 /><rect x=276 y=492 fill=#7fbf3f /><rect x=288 y=492 fill=#99c63a /><rect x=300 y=492 fill=#b4d030 /><rect x=312 y=492 fill=#c9d828 /><rect x=324 y=492 fill=#dade22 /><rect x=336 y=492 fill=#e9e41c /><rect x=348 y=492 fill=#f3e717 /><rect x=360 y=492 fill=#f4e516 /><rect x=372 y=492 fill=#f5e314 /><rect x=384 y=492 fill=#f6e112 /><rect x=396 y=492 fill=#f9dc0f /><rect x=408 y=492 fill=#fcc30d /><rect x=420 y=492 fill=#f38b24 /><rect x=432 y=492 fill=#ec3827 /><rect x=444 y=492 fill=#ec1d25 /><rect x=456 y=492 fill=#ec1d25 /><rect x=-12 y=504 fill=#388bcd /><rect x=0 y=504 fill=#3790d1 /><rect x=12 y=504 fill=#3599d7 /><rect x=24 y=504 fill=#34a1dd /><rect x=36 y=504 fill=#33a9e1 /><rect x=48 y=504 fill=#31b0e5 /><rect x=60 y=504 fill=#31b5e8 /><rect x=72 y=504 fill=#30baeb /><rect x=84 y=504 fill=#2fc1ef /><rect x=96 y=504 fill=#35c6f0 /><rect x=108 y=504 fill=#65c8e0 /><rect x=120 y=504 fill=#6ec098 /><rect x=132 y=504 fill=#6ab948 /><rect x=144 y=504 fill=#6ab946 /><rect x=156 y=504 fill=#6ab945 /><rect x=168 y=504 fill=#6ab945 /><rect x=180 y=504 fill=#6ab945 /><rect x=192 y=504 fill=#6ab945 /><rect x=204 y=504 fill=#6ab945 /><rect x=216 y=504 fill=#6ab945 /><rect x=228 y=504 fill=#6ab945 /><rect x=240 y=504 fill=#6ab945 /><rect x=252 y=504 fill=#6ab944 /><rect x=264 y=504 fill=#70bb43 /><rect x=276 y=504 fill=#7cbe40 /><rect x=288 y=504 fill=#94c53b /><rect x=300 y=504 fill=#accd33 /><rect x=312 y=504 fill=#c3d62a /><rect x=324 y=504 fill=#d4dc24 /><rect x=336 y=504 fill=#e3e21e /><rect x=348 y=504 fill=#f2e818 /><rect x=360 y=504 fill=#f3e616 /><rect x=372 y=504 fill=#f4e415 /><rect x=384 y=504 fill=#f6e213 /><rect x=396 y=504 fill=#f8de10 /><rect x=408 y=504 fill=#fdc909 /><rect x=420 y=504 fill=#f59721 /><rect x=432 y=504 fill=#ed4b28 /><rect x=444 y=504 fill=#ec1d25 /><rect x=456 y=504 fill=#ec1d25 /><rect x=-12 y=516 fill=#3b7ec4 /><rect x=0 y=516 fill=#3a82c7 /><rect x=12 y=516 fill=#388acd /><rect x=24 y=516 fill=#3793d2 /><rect x=36 y=516 fill=#359ad8 /><rect x=48 y=516 fill=#34a2dd /><rect x=60 y=516 fill=#33a9e1 /><rect x=72 y=516 fill=#31b0e5 /><rect x=84 y=516 fill=#30baeb /><rect x=96 y=516 fill=#31c6f1 /><rect x=108 y=516 fill=#5fc8e4 /><rect x=120 y=516 fill=#70c3b9 /><rect x=132 y=516 fill=#6cbd6a /><rect x=144 y=516 fill=#6ab949 /><rect x=156 y=516 fill=#6ab947 /><rect x=168 y=516 fill=#6ab946 /><rect x=180 y=516 fill=#6ab945 /><rect x=192 y=516 fill=#6ab945 /><rect x=204 y=516 fill=#6ab945 /><rect x=216 y=516 fill=#6ab945 /><rect x=228 y=516 fill=#6ab945 /><rect x=240 y=516 fill=#6ab945 /><rect x=252 y=516 fill=#6ab944 /><rect x=264 y=516 fill=#70bb43 /><rect x=276 y=516 fill=#7bbe40 /><rect x=288 y=516 fill=#90c43c /><rect x=300 y=516 fill=#a5cb35 /><rect x=312 y=516 fill=#bcd32d /><rect x=324 y=516 fill=#ceda26 /><rect x=336 y=516 fill=#dee020 /><rect x=348 y=516 fill=#ece61a /><rect x=360 y=516 fill=#f3e717 /><rect x=372 y=516 fill=#f4e516 /><rect x=384 y=516 fill=#f5e314 /><rect x=396 y=516 fill=#f7df11 /><rect x=408 y=516 fill=#fdcf07 /><rect x=420 y=516 fill=#f8a51d /><rect x=432 y=516 fill=#ef6727 /><rect x=444 y=516 fill=#ec2526 /><rect x=456 y=516 fill=#ec2526 /><rect x=-12 y=528 fill=#3c74bc /><rect x=0 y=528 fill=#3c76be /><rect x=12 y=528 fill=#3b7ec3 /><rect x=24 y=528 fill=#3986c9 /><rect x=36 y=528 fill=#378ecf /><rect x=48 y=528 fill=#3697d5 /><rect x=60 y=528 fill=#349fdb /><rect x=72 y=528 fill=#33a9e1 /><rect x=84 y=528 fill=#31b5e8 /><rect x=96 y=528 fill=#2ec6f2 /><rect x=108 y=528 fill=#56c8e7 /><rect x=120 y=528 fill=#6ec8d8 /><rect x=132 y=528 fill=#6fc1a3 /><rect x=144 y=528 fill=#6cbe78 /><rect x=156 y=528 fill=#6bbb5d /><rect x=168 y=528 fill=#6ab947 /><rect x=180 y=528 fill=#6ab946 /><rect x=192 y=528 fill=#6ab945 /><rect x=204 y=528 fill=#6ab945 /><rect x=216 y=528 fill=#6ab945 /><rect x=228 y=528 fill=#6ab945 /><rect x=240 y=528 fill=#6ab945 /><rect x=252 y=528 fill=#6ab944 /><rect x=264 y=528 fill=#6fba43 /><rect x=276 y=528 fill=#7abd41 /><rect x=288 y=528 fill=#8cc33d /><rect x=300 y=528 fill=#9ec838 /><rect x=312 y=528 fill=#b4d030 /><rect x=324 y=528 fill=#c8d828 /><rect x=336 y=528 fill=#d8de22 /><rect x=348 y=528 fill=#e7e41c /><rect x=360 y=528 fill=#f2e818 /><rect x=372 y=528 fill=#f3e617 /><rect x=384 y=528 fill=#f4e415 /><rect x=396 y=528 fill=#f7e012 /><rect x=408 y=528 fill=#fbd309 /><rect x=420 y=528 fill=#fab316 /><rect x=432 y=528 fill=#f28624 /><rect x=444 y=528 fill=#ed4c28 /><rect x=456 y=528 fill=#ed4c28 /><rect x=-12 y=540 fill=#3c6eb8 /><rect x=0 y=540 fill=#3c70b9 /><rect x=12 y=540 fill=#3c74bd /><rect x=24 y=540 fill=#3b7bc1 /><rect x=36 y=540 fill=#3984c8 /><rect x=48 y=540 fill=#388dcf /><rect x=60 y=540 fill=#3697d5 /><rect x=72 y=540 fill=#34a1dd /><rect x=84 y=540 fill=#32b0e5 /><rect x=96 y=540 fill=#2fc2f0 /><rect x=108 y=540 fill=#4ac7eb /><rect x=120 y=540 fill=#64c8e1 /><rect x=132 y=540 fill=#6fc6cd /><rect x=144 y=540 fill=#6fc2aa /><rect x=156 y=540 fill=#6dbe7d /><rect x=168 y=540 fill=#6bba53 /><rect x=180 y=540 fill=#6ab947 /><rect x=192 y=540 fill=#6ab945 /><rect x=204 y=540 fill=#6ab945 /><rect x=216 y=540 fill=#6ab945 /><rect x=228 y=540 fill=#6ab945 /><rect x=240 y=540 fill=#6ab945 /><rect x=252 y=540 fill=#6ab944 /><rect x=264 y=540 fill=#6fba43 /><rect x=276 y=540 fill=#78bd41 /><rect x=288 y=540 fill=#88c13d /><rect x=300 y=540 fill=#97c63a /><rect x=312 y=540 fill=#adce32 /><rect x=324 y=540 fill=#c2d52b /><rect x=336 y=540 fill=#d3dc24 /><rect x=348 y=540 fill=#e2e21e /><rect x=360 y=540 fill=#ede61a /><rect x=372 y=540 fill=#f3e717 /><rect x=384 y=540 fill=#f4e515 /><rect x=396 y=540 fill=#f6e112 /><rect x=408 y=540 fill=#fad70b /><rect x=420 y=540 fill=#fcbf10 /><rect x=432 y=540 fill=#f69d1f /><rect x=444 y=540 fill=#f07326 /><rect x=456 y=540 fill=#f07326 /><rect x=-12 y=552 fill=#3c6ab4 /><rect x=0 y=552 fill=#3c6cb6 /><rect x=12 y=552 fill=#3c6fb9 /><rect x=24 y=552 fill=#3c74bc /><rect x=36 y=552 fill=#3b7ac1 /><rect x=48 y=552 fill=#3984c8 /><rect x=60 y=552 fill=#378ecf /><rect x=72 y=552 fill=#3599d7 /><rect x=84 y=552 fill=#33a8e0 /><rect x=96 y=552 fill=#30bcec /><rect x=108 y=552 fill=#3ec7ee /><rect x=120 y=552 fill=#5ec8e5 /><rect x=132 y=552 fill=#6cc8db /><rect x=144 y=552 fill=#70c4bf /><rect x=156 y=552 fill=#6ec093 /><rect x=168 y=552 fill=#6bbc61 /><rect x=180 y=552 fill=#6ab947 /><rect x=192 y=552 fill=#6ab946 /><rect x=204 y=552 fill=#6ab945 /><rect x=216 y=552 fill=#6ab945 /><rect x=228 y=552 fill=#6ab945 /><rect x=240 y=552 fill=#6ab945 /><rect x=252 y=552 fill=#6ab944 /><rect x=264 y=552 fill=#6fba43 /><rect x=276 y=552 fill=#77bd41 /><rect x=288 y=552 fill=#84c03e /><rect x=300 y=552 fill=#93c43b /><rect x=312 y=552 fill=#a5cb35 /><rect x=324 y=552 fill=#bad32d /><rect x=336 y=552 fill=#cdd927 /><rect x=348 y=552 fill=#dcdf21 /><rect x=360 y=552 fill=#e8e41c /><rect x=372 y=552 fill=#f2e818 /><rect x=384 y=552 fill=#f4e516 /><rect x=396 y=552 fill=#f6e213 /><rect x=408 y=552 fill=#f9d90d /><rect x=420 y=552 fill=#fcc70a /><rect x=432 y=552 fill=#f9ac1a /><rect x=444 y=552 fill=#f38d24 /><rect x=456 y=552 fill=#f38d24 /><rect x=-12 y=564 fill=#3d66b2 /><rect x=0 y=564 fill=#3d68b3 /><rect x=12 y=564 fill=#3c6bb5 /><rect x=24 y=564 fill=#3c6fb9 /><rect x=36 y=564 fill=#3c74bc /><rect x=48 y=564 fill=#3b7bc2 /><rect x=60 y=564 fill=#3985c9 /><rect x=72 y=564 fill=#3791d1 /><rect x=84 y=564 fill=#349fdb /><rect x=96 y=564 fill=#31b3e7 /><rect x=108 y=564 fill=#33c6f1 /><rect x=120 y=564 fill=#54c8e8 /><rect x=132 y=564 fill=#66c8df /><rect x=144 y=564 fill=#6fc6cc /><rect x=156 y=564 fill=#6fc1a3 /><rect x=168 y=564 fill=#6cbd6e /><rect x=180 y=564 fill=#6ab94a /><rect x=192 y=564 fill=#6ab946 /><rect x=204 y=564 fill=#6ab946 /><rect x=216 y=564 fill=#6ab946 /><rect x=228 y=564 fill=#6ab945 /><rect x=240 y=564 fill=#6ab945 /><rect x=252 y=564 fill=#6ab944 /><rect x=264 y=564 fill=#6fba43 /><rect x=276 y=564 fill=#76bc41 /><rect x=288 y=564 fill=#7fbf3f /><rect x=300 y=564 fill=#8dc33c /><rect x=312 y=564 fill=#9cc838 /><rect x=324 y=564 fill=#b1cf31 /><rect x=336 y=564 fill=#c5d62a /><rect x=348 y=564 fill=#d5dd23 /><rect x=360 y=564 fill=#e2e21e /><rect x=372 y=564 fill=#efe719 /><rect x=384 y=564 fill=#f3e616 /><rect x=396 y=564 fill=#f5e213 /><rect x=408 y=564 fill=#f9db0e /><rect x=420 y=564 fill=#fdce06 /><rect x=432 y=564 fill=#fbb814 /><rect x=444 y=564 fill=#f7a01f /><rect x=456 y=564 fill=#f7a01f /><rect x=-12 y=576 fill=#3d63af /><rect x=0 y=576 fill=#3d64b0 /><rect x=12 y=576 fill=#3d67b3 /><rect x=24 y=576 fill=#3c6bb6 /><rect x=36 y=576 fill=#3c70b9 /><rect x=48 y=576 fill=#3c74bd /><rect x=60 y=576 fill=#3b7dc3 /><rect x=72 y=576 fill=#3888cb /><rect x=84 y=576 fill=#3697d5 /><rect x=96 y=576 fill=#33a9e1 /><rect x=108 y=576 fill=#2fc1ef /><rect x=120 y=576 fill=#49c7eb /><rect x=132 y=576 fill=#62c8e2 /><rect x=144 y=576 fill=#6ec7d7 /><rect x=156 y=576 fill=#6fc2b1 /><rect x=168 y=576 fill=#6dbe80 /><rect x=180 y=576 fill=#6bbb59 /><rect x=192 y=576 fill=#6ab947 /><rect x=204 y=576 fill=#6ab947 /><rect x=216 y=576 fill=#6ab946 /><rect x=228 y=576 fill=#6ab945 /><rect x=240 y=576 fill=#6ab945 /><rect x=252 y=576 fill=#6ab944 /><rect x=264 y=576 fill=#6fba43 /><rect x=276 y=576 fill=#75bc42 /><rect x=288 y=576 fill=#7cbe40 /><rect x=300 y=576 fill=#88c23d /><rect x=312 y=576 fill=#95c53b /><rect x=324 y=576 fill=#a8cc34 /><rect x=336 y=576 fill=#bdd32d /><rect x=348 y=576 fill=#ceda26 /><rect x=360 y=576 fill=#dde020 /><rect x=372 y=576 fill=#ece61a /><rect x=384 y=576 fill=#f3e617 /><rect x=396 y=576 fill=#f5e314 /><rect x=408 y=576 fill=#f8dd10 /><rect x=420 y=576 fill=#fcd309 /><rect x=432 y=576 fill=#fcc30d /><rect x=444 y=576 fill=#fab018 /><rect x=456 y=576 fill=#fab018 /><rect x=-12 y=588 fill=#3d60ad /><rect x=0 y=588 fill=#3d61ae /><rect x=12 y=588 fill=#3d64b0 /><rect x=24 y=588 fill=#3d68b3 /><rect x=36 y=588 fill=#3c6cb6 /><rect x=48 y=588 fill=#3c70b9 /><rect x=60 y=588 fill=#3c75be /><rect x=72 y=588 fill=#3a81c6 /><rect x=84 y=588 fill=#378ecf /><rect x=96 y=588 fill=#349fdb /><rect x=108 y=588 fill=#30b7e9 /><rect x=120 y=588 fill=#3ec7ee /><rect x=132 y=588 fill=#5ec8e5 /><rect x=144 y=588 fill=#6bc8dc /><rect x=156 y=588 fill=#70c4be /><rect x=168 y=588 fill=#6ec092 /><rect x=180 y=588 fill=#6cbc67 /><rect x=192 y=588 fill=#6aba4e /><rect x=204 y=588 fill=#6ab947 /><rect x=216 y=588 fill=#6ab946 /><rect x=228 y=588 fill=#6ab946 /><rect x=240 y=588 fill=#6ab945 /><rect x=252 y=588 fill=#6ab944 /><rect x=264 y=588 fill=#6fba43 /><rect x=276 y=588 fill=#74bc42 /><rect x=288 y=588 fill=#7abd40 /><rect x=300 y=588 fill=#84c03e /><rect x=312 y=588 fill=#91c43c /><rect x=324 y=588 fill=#a2ca36 /><rect x=336 y=588 fill=#b7d12f /><rect x=348 y=588 fill=#cad828 /><rect x=360 y=588 fill=#d9de22 /><rect x=372 y=588 fill=#e9e41c /><rect x=384 y=588 fill=#f3e717 /><rect x=396 y=588 fill=#f5e314 /><rect x=408 y=588 fill=#f8df10 /><rect x=420 y=588 fill=#fad60b /><rect x=432 y=588 fill=#fdcb08 /><rect x=444 y=588 fill=#fbbc11 /><rect x=456 y=588 fill=#fbbc11 /><rect x=-12 y=600 fill=#3d5daa /><rect x=0 y=600 fill=#3d5eab /><rect x=12 y=600 fill=#3d61ad /><rect x=24 y=600 fill=#3d64b0 /><rect x=36 y=600 fill=#3d68b3 /><rect x=48 y=600 fill=#3c6cb6 /><rect x=60 y=600 fill=#3c71ba /><rect x=72 y=600 fill=#3b79c0 /><rect x=84 y=600 fill=#3987ca /><rect x=96 y=600 fill=#3696d5 /><rect x=108 y=600 fill=#32ade3 /><rect x=120 y=600 fill=#32c6f1 /><rect x=132 y=600 fill=#53c8e8 /><rect x=144 y=600 fill=#65c8e0 /><rect x=156 y=600 fill=#6fc6cc /><rect x=168 y=600 fill=#6fc1a3 /><rect x=180 y=600 fill=#6cbe77 /><rect x=192 y=600 fill=#6bbb5b /><rect x=204 y=600 fill=#6ab948 /><rect x=216 y=600 fill=#6ab947 /><rect x=228 y=600 fill=#6ab946 /><rect x=240 y=600 fill=#6ab945 /><rect x=252 y=600 fill=#6ab944 /><rect x=264 y=600 fill=#6fba43 /><rect x=276 y=600 fill=#73bc42 /><rect x=288 y=600 fill=#78bd41 /><rect x=300 y=600 fill=#81bf3f /><rect x=312 y=600 fill=#8ec33c /><rect x=324 y=600 fill=#9fc937 /><rect x=336 y=600 fill=#b6d12f /><rect x=348 y=600 fill=#c9d828 /><rect x=360 y=600 fill=#d8de22 /><rect x=372 y=600 fill=#e7e41c /><rect x=384 y=600 fill=#f3e717 /><rect x=396 y=600 fill=#f5e414 /><rect x=408 y=600 fill=#f7e011 /><rect x=420 y=600 fill=#fad90d /><rect x=432 y=600 fill=#fcd008 /><rect x=444 y=600 fill=#fcc50c /><rect x=456 y=600 fill=#fcc50c /><rect x=-12 y=612 fill=#3d5aa8 /><rect x=0 y=612 fill=#3d5ba8 /><rect x=12 y=612 fill=#3d5daa /><rect x=24 y=612 fill=#3d60ad /><rect x=36 y=612 fill=#3d64b0 /><rect x=48 y=612 fill=#3c69b3 /><rect x=60 y=612 fill=#3c6eb7 /><rect x=72 y=612 fill=#3c74bc /><rect x=84 y=612 fill=#3a7fc4 /><rect x=96 y=612 fill=#378ecf /><rect x=108 y=612 fill=#34a2dd /><rect x=120 y=612 fill=#2fbded /><rect x=132 y=612 fill=#44c7ec /><rect x=144 y=612 fill=#5fc8e4 /><rect x=156 y=612 fill=#6ec8da /><rect x=168 y=612 fill=#6fc3b3 /><rect x=180 y=612 fill=#6dbf89 /><rect x=192 y=612 fill=#6cbc66 /><rect x=204 y=612 fill=#6aba51 /><rect x=216 y=612 fill=#6ab947 /><rect x=228 y=612 fill=#6ab946 /><rect x=240 y=612 fill=#6ab945 /><rect x=252 y=612 fill=#6ab944 /><rect x=264 y=612 fill=#6eba43 /><rect x=276 y=612 fill=#73bb42 /><rect x=288 y=612 fill=#77bd41 /><rect x=300 y=612 fill=#7ebf40 /><rect x=312 y=612 fill=#8cc33d /><rect x=324 y=612 fill=#9dc838 /><rect x=336 y=612 fill=#b5d12f /><rect x=348 y=612 fill=#c9d828 /><rect x=360 y=612 fill=#d8de22 /><rect x=372 y=612 fill=#e6e31d /><rect x=384 y=612 fill=#f2e718 /><rect x=396 y=612 fill=#f4e415 /><rect x=408 y=612 fill=#f7e012 /><rect x=420 y=612 fill=#f9db0e /><rect x=432 y=612 fill=#fbd40a /><rect x=444 y=612 fill=#fdcc07 /><rect x=456 y=612 fill=#fdcc07 /><rect x=-12 y=624 fill=#3d59a7 /><rect x=0 y=624 fill=#3d59a7 /><rect x=12 y=624 fill=#3d5aa8 /><rect x=24 y=624 fill=#3d5daa /><rect x=36 y=624 fill=#3d61ad /><rect x=48 y=624 fill=#3d65b1 /><rect x=60 y=624 fill=#3c6ab5 /><rect x=72 y=624 fill=#3c70b9 /><rect x=84 y=624 fill=#3c78bf /><rect x=96 y=624 fill=#3986c9 /><rect x=108 y=624 fill=#3698d6 /><rect x=120 y=624 fill=#32b0e5 /><rect x=132 y=624 fill=#35c6f0 /><rect x=144 y=624 fill=#55c8e8 /><rect x=156 y=624 fill=#67c8df /><rect x=168 y=624 fill=#70c5c3 /><rect x=180 y=624 fill=#6ec09b /><rect x=192 y=624 fill=#6cbd74 /><rect x=204 y=624 fill=#6bbb5b /><rect x=216 y=624 fill=#6ab948 /><rect x=228 y=624 fill=#6ab946 /><rect x=240 y=624 fill=#6ab945 /><rect x=252 y=624 fill=#6ab944 /><rect x=264 y=624 fill=#6eba43 /><rect x=276 y=624 fill=#72bb42 /><rect x=288 y=624 fill=#76bc41 /><rect x=300 y=624 fill=#7cbe40 /><rect x=312 y=624 fill=#8ac23d /><rect x=324 y=624 fill=#9cc739 /><rect x=336 y=624 fill=#b5d12f /><rect x=348 y=624 fill=#c9d828 /><rect x=360 y=624 fill=#d7de22 /><rect x=372 y=624 fill=#e5e31d /><rect x=384 y=624 fill=#f2e818 /><rect x=396 y=624 fill=#f4e515 /><rect x=408 y=624 fill=#f6e113 /><rect x=420 y=624 fill=#f8de10 /><rect x=432 y=624 fill=#fad80c /><rect x=444 y=624 fill=#fcd108 /><rect x=456 y=624 fill=#fcd108 /><rect x=-12 y=636 fill=#3d58a6 /><rect x=0 y=636 fill=#3d59a7 /><rect x=12 y=636 fill=#3d59a7 /><rect x=24 y=636 fill=#3d5aa8 /><rect x=36 y=636 fill=#3d5eab /><rect x=48 y=636 fill=#3d62ae /><rect x=60 y=636 fill=#3d67b2 /><rect x=72 y=636 fill=#3c6cb6 /><rect x=84 y=636 fill=#3c73bb /><rect x=96 y=636 fill=#3b7ec4 /><rect x=108 y=636 fill=#378ecf /><rect x=120 y=636 fill=#34a2dd /><rect x=132 y=636 fill=#2fbded /><rect x=144 y=636 fill=#43c7ed /><rect x=156 y=636 fill=#61c8e3 /><rect x=168 y=636 fill=#6fc7d3 /><rect x=180 y=636 fill=#6fc2ac /><rect x=192 y=636 fill=#6dbf85 /><rect x=204 y=636 fill=#6bbc64 /><rect x=216 y=636 fill=#6ab94a /><rect x=228 y=636 fill=#6ab946 /><rect x=240 y=636 fill=#6ab945 /><rect x=252 y=636 fill=#6ab944 /><rect x=264 y=636 fill=#6eba43 /><rect x=276 y=636 fill=#71bb42 /><rect x=288 y=636 fill=#75bc41 /><rect x=300 y=636 fill=#7bbe40 /><rect x=312 y=636 fill=#89c23d /><rect x=324 y=636 fill=#9bc739 /><rect x=336 y=636 fill=#b5d12f /><rect x=348 y=636 fill=#c9d828 /><rect x=360 y=636 fill=#d7de22 /><rect x=372 y=636 fill=#e4e31d /><rect x=384 y=636 fill=#f2e818 /><rect x=396 y=636 fill=#f4e516 /><rect x=408 y=636 fill=#f6e213 /><rect x=420 y=636 fill=#f8df11 /><rect x=432 y=636 fill=#f9da0d /><rect x=444 y=636 fill=#fbd40a /><rect x=456 y=636 fill=#fbd40a /></g><path d="M125,-2L109,16L104,28L102,46L95,62L85,76L81,88M148,-2L133,18L120,32L109,48L98,64L88,80M158,-2L140,20L126,36L113,52L100,68L88,84M168,-2L150,22L133,40L118,56L103,72L90,88M175,-2L162,21L145,32L129,42L111,53L102,60M199,-2L185,18L171,35L162,42L148,58L134,74L115,88L92,97L83,104M219,-2L208,23L203,39L206,65L212,88L222,111L231,129L245,143L261,157L277,169L295,178L305,185L316,196L322,210L329,224L333,238L334,252L337,263L343,273L354,287L368,297L379,308L385,322L393,336L400,347L410,361L424,363M238,-2L238,23L245,46L261,62L281,76L292,84L305,105M329,154L337,165L348,179L350,196L353,212L357,221L360,238L362,256L371,273L382,287L385,301L392,315L400,326L414,329M281,-2L284,14L291,28L299,43L306,55M346,95L348,98L344,112L346,126L354,136L368,149L371,168L374,196L375,212L376,224L382,238L393,252L409,266L413,269M319,-2L333,11L347,24L361,32L382,39L400,41M62,120L46,125L23,143L0,164M0,256L14,240L30,226L46,212L52,205M0,386L14,399L26,412L46,433L69,445L81,449M60,222L52,235L48,256L46,279M62,258L81,256L102,245L109,256L113,279L162,284L208,289L254,295L298,301L312,315L319,326L340,336L360,345L368,357L389,364L392,378L396,392L403,396L419,389M37,295L25,309L28,339L39,360L58,376L65,386L72,405L76,428L81,452L92,475L104,498L113,507M48,300L62,325L69,349L72,372L69,386M51,300L67,318L83,349L97,372L109,395L113,418L115,433L115,456L120,470L125,486L125,500M53,300L69,307L88,325L104,342L120,355L150,369L180,386L201,399L231,404L273,404L279,413L280,438L278,480L277,522L278,564L277,606L274,632M69,390L92,399L111,411L115,430M69,395L81,411L97,418L115,427M85,410L99,422L113,433M118,468L139,463L185,461L231,465L247,475L254,491L256,514L259,537L261,572L259,606L256,632M139,525L150,514L173,509L196,507L219,512L233,523L240,539L245,560L245,595L242,632M139,537L162,532L196,532L212,539L224,553L231,576L233,606L231,632M125,546L118,572L120,595L129,611L139,625L143,632M129,549L132,572L143,586L162,592L176,597M0,512L35,519L58,530L74,544L85,567L92,590L104,609L115,627M0,585L23,590L42,595M79,618L88,632M0,627L12,632M416,449L410,445L396,446L382,452L368,463L354,477L343,494L333,515L326,543L322,571L320,599L322,632M416,476L409,480L403,491L393,505L385,516L379,536L376,564L374,592L368,613L361,632M416,480L416,494L412,515L405,536L403,542M385,595L379,606L372,620L368,632M435,495L444,505L451,514M452,529L445,543L438,557L431,568M397,613L390,623L386,632M452,617L438,632M398,212L404,210L408,218L404,226L398,222L398,212" fill="none" stroke="#fff" stroke-width="4.6" stroke-linejoin="round" stroke-linecap="round"/><use href="#land"/><text x="68" y="185" font-size="27" text-anchor="middle" dominant-baseline="central" transform="rotate(-100 68 185)">110</text><text x="325" y="76" font-size="27" text-anchor="middle" dominant-baseline="central" transform="rotate(45 325 76)">140</text><text x="315" y="131" font-size="27" text-anchor="middle" dominant-baseline="central" transform="rotate(60 315 131)">130</text><text x="425" y="292" font-size="27" text-anchor="middle" dominant-baseline="central" transform="rotate(75 425 292)">140</text><text x="428" y="344" font-size="27" text-anchor="middle" dominant-baseline="central" transform="rotate(80 428 344)">130</text><text x="64" y="399" font-size="27" text-anchor="middle" dominant-baseline="central" transform="rotate(70 64 399)">110</text><text x="199" y="608" font-size="27" text-anchor="middle" dominant-baseline="central" transform="rotate(30 199 608)">110</text><text x="61" y="608" font-size="27" text-anchor="middle" dominant-baseline="central" transform="rotate(25 61 608)">80</text><text x="397" y="567" font-size="27" text-anchor="middle" dominant-baseline="central" transform="rotate(-70 397 567)">130</text><text x="416" y="590" font-size="27" text-anchor="middle" dominant-baseline="central" transform="rotate(-60 416 590)">140</text></g><path d="M12.6,630.0v-6M12.6,0v6M143.5,630.0v-6M143.5,0v6M274.4,630.0v-6M274.4,0v6M405.3,630.0v-6M405.3,0v6M0,66.6h6M450,66.6h-6M0,198.9h6M450,198.9h-6M0,331.2h6M450,331.2h-6M0,463.5h6M450,463.5h-6M0,595.8h6M450,595.8h-6" stroke="#262626" stroke-width="1.2" fill="none"/><rect x=0.5 y=0.5 width=449 height=629 fill=none stroke="#262626" stroke-width=1.3 /></g><path d="M142.5,415.5H592M734.5,415.5H1184M1215.5,415.5H1242" stroke="#fff" stroke-opacity="0.22" stroke-width="1"/><text x="159.1" y="735.0" font-size="34" text-anchor="middle" font-weight="normal" >92°E</text><text x="290.0" y="735.0" font-size="34" text-anchor="middle" font-weight="normal" >94°E</text><text x="420.9" y="735.0" font-size="34" text-anchor="middle" font-weight="normal" >96°E</text><text x="551.8" y="735.0" font-size="34" text-anchor="middle" font-weight="normal" >98°E</text><text x="130.0" y="149.1" font-size="34" text-anchor="end" font-weight="normal" >14°N</text><text x="130.0" y="281.4" font-size="34" text-anchor="end" font-weight="normal" >12°N</text><text x="130.0" y="413.7" font-size="34" text-anchor="end" font-weight="normal" >10°N</text><text x="130.0" y="546.0" font-size="34" text-anchor="end" font-weight="normal" >8°N</text><text x="130.0" y="678.3" font-size="34" text-anchor="end" font-weight="normal" >6°N</text><text x="751.1" y="735.0" font-size="34" text-anchor="middle" font-weight="normal" >92°E</text><text x="882.0" y="735.0" font-size="34" text-anchor="middle" font-weight="normal" >94°E</text><text x="1012.9" y="735.0" font-size="34" text-anchor="middle" font-weight="normal" >96°E</text><text x="1143.8" y="735.0" font-size="34" text-anchor="middle" font-weight="normal" >98°E</text><text x="722.0" y="149.1" font-size="34" text-anchor="end" font-weight="normal" >14°N</text><text x="722.0" y="281.4" font-size="34" text-anchor="end" font-weight="normal" >12°N</text><text x="722.0" y="413.7" font-size="34" text-anchor="end" font-weight="normal" >10°N</text><text x="722.0" y="546.0" font-size="34" text-anchor="end" font-weight="normal" >8°N</text><text x="722.0" y="678.3" font-size="34" text-anchor="end" font-weight="normal" >6°N</text><text x="159.1" y="1566.0" font-size="34" text-anchor="middle" font-weight="normal" >92°E</text><text x="290.0" y="1566.0" font-size="34" text-anchor="middle" font-weight="normal" >94°E</text><text x="420.9" y="1566.0" font-size="34" text-anchor="middle" font-weight="normal" >96°E</text><text x="551.8" y="1566.0" font-size="34" text-anchor="middle" font-weight="normal" >98°E</text><text x="130.0" y="980.1" font-size="34" text-anchor="end" font-weight="normal" >14°N</text><text x="130.0" y="1112.4" font-size="34" text-anchor="end" font-weight="normal" >12°N</text><text x="130.0" y="1244.7" font-size="34" text-anchor="end" font-weight="normal" >10°N</text><text x="130.0" y="1377.0" font-size="34" text-anchor="end" font-weight="normal" >8°N</text><text x="130.0" y="1509.3" font-size="34" text-anchor="end" font-weight="normal" >6°N</text><text x="751.1" y="1566.0" font-size="34" text-anchor="middle" font-weight="normal" >92°E</text><text x="882.0" y="1566.0" font-size="34" text-anchor="middle" font-weight="normal" >94°E</text><text x="1012.9" y="1566.0" font-size="34" text-anchor="middle" font-weight="normal" >96°E</text><text x="1143.8" y="1566.0" font-size="34" text-anchor="middle" font-weight="normal" >98°E</text><text x="722.0" y="980.1" font-size="34" text-anchor="end" font-weight="normal" >14°N</text><text x="722.0" y="1112.4" font-size="34" text-anchor="end" font-weight="normal" >12°N</text><text x="722.0" y="1244.7" font-size="34" text-anchor="end" font-weight="normal" >10°N</text><text x="722.0" y="1377.0" font-size="34" text-anchor="end" font-weight="normal" >8°N</text><text x="722.0" y="1509.3" font-size="34" text-anchor="end" font-weight="normal" >6°N</text><text x="367.0" y="61.0" font-size="35" text-anchor="middle" font-weight="bold" >TPXO M2</text><text x="70.0" y="24.0" font-size="29" text-anchor="start" font-weight="bold" >A</text><text x="959.0" y="61.0" font-size="35" text-anchor="middle" font-weight="bold" >MITgcm M2</text><text x="650.5" y="24.0" font-size="29" text-anchor="start" font-weight="bold" >B</text><text x="367.0" y="892.0" font-size="35" text-anchor="middle" font-weight="bold" >TPXO S2</text><text x="70.0" y="888.5" font-size="29" text-anchor="start" font-weight="bold" >C</text><text x="959.0" y="892.0" font-size="35" text-anchor="middle" font-weight="bold" >MITgcm S2</text><text x="650.5" y="888.5" font-size="29" text-anchor="start" font-weight="bold" >D</text><text x="25.0" y="369.3" font-size="35" text-anchor="middle" font-weight="normal" transform="rotate(-90 25 369.3)">Latitude</text><text x="25.0" y="1200.3" font-size="35" text-anchor="middle" font-weight="normal" transform="rotate(-90 25 1200.3)">Latitude</text><text x="367.0" y="1602.0" font-size="34" text-anchor="middle" font-weight="normal" >Longitude</text><text x="959.0" y="1602.0" font-size="34" text-anchor="middle" font-weight="normal" >Longitude</text><linearGradient id="cg89" x1="0" y1="0" x2="0" y2="1"><stop offset="0.000" stop-color="#ec1d25"/><stop offset="0.050" stop-color="#ec2a26"/><stop offset="0.100" stop-color="#ec4028"/><stop offset="0.150" stop-color="#ee5a28"/><stop offset="0.200" stop-color="#f07226"/><stop offset="0.250" stop-color="#f38c24"/><stop offset="0.300" stop-color="#f7a21e"/><stop offset="0.350" stop-color="#fbb814"/><stop offset="0.400" stop-color="#fdce06"/><stop offset="0.450" stop-color="#f8de10"/><stop offset="0.500" stop-color="#f2e818"/><stop offset="0.540" stop-color="#c4d62a"/><stop offset="0.570" stop-color="#98c63a"/><stop offset="0.600" stop-color="#7cbe40"/><stop offset="0.640" stop-color="#6ab944"/><stop offset="0.700" stop-color="#6ab948"/><stop offset="0.740" stop-color="#6cbd6e"/><stop offset="0.770" stop-color="#6ec098"/><stop offset="0.800" stop-color="#70c4c0"/><stop offset="0.820" stop-color="#6ec8da"/><stop offset="0.850" stop-color="#5cc8e6"/><stop offset="0.875" stop-color="#2ec6f2"/><stop offset="0.895" stop-color="#34a0dc"/><stop offset="0.920" stop-color="#3c76be"/><stop offset="0.950" stop-color="#3d5aa8"/><stop offset="1.000" stop-color="#3a4f9e"/></linearGradient><rect x="1215" y="89" width="27" height="587" fill="url(#cg89)" stroke="#262626" stroke-width="1.2"/><path d="M1242,206.4h-5M1242,323.8h-5M1242,441.2h-5M1242,558.6h-5" stroke="#262626" stroke-width="1.2"/><text x="1252.0" y="688.5" font-size="34" text-anchor="start" font-weight="normal" >0</text><text x="1252.0" y="571.1" font-size="34" text-anchor="start" font-weight="normal" >0.2</text><text x="1252.0" y="453.7" font-size="34" text-anchor="start" font-weight="normal" >0.4</text><text x="1252.0" y="336.3" font-size="34" text-anchor="start" font-weight="normal" >0.6</text><text x="1252.0" y="218.9" font-size="34" text-anchor="start" font-weight="normal" >0.8</text><text x="1252.0" y="101.5" font-size="34" text-anchor="start" font-weight="normal" >1</text><text x="1183.0" y="69.0" font-size="34" text-anchor="start" font-weight="normal" >unit:m</text><linearGradient id="cg920" x1="0" y1="0" x2="0" y2="1"><stop offset="0.000" stop-color="#ec1d25"/><stop offset="0.050" stop-color="#ec2a26"/><stop offset="0.100" stop-color="#ec4028"/><stop offset="0.150" stop-color="#ee5a28"/><stop offset="0.200" stop-color="#f07226"/><stop offset="0.250" stop-color="#f38c24"/><stop offset="0.300" stop-color="#f7a21e"/><stop offset="0.350" stop-color="#fbb814"/><stop offset="0.400" stop-color="#fdce06"/><stop offset="0.450" stop-color="#f8de10"/><stop offset="0.500" stop-color="#f2e818"/><stop offset="0.540" stop-color="#c4d62a"/><stop offset="0.570" stop-color="#98c63a"/><stop offset="0.600" stop-color="#7cbe40"/><stop offset="0.640" stop-color="#6ab944"/><stop offset="0.700" stop-color="#6ab948"/><stop offset="0.740" stop-color="#6cbd6e"/><stop offset="0.770" stop-color="#6ec098"/><stop offset="0.800" stop-color="#70c4c0"/><stop offset="0.820" stop-color="#6ec8da"/><stop offset="0.850" stop-color="#5cc8e6"/><stop offset="0.875" stop-color="#2ec6f2"/><stop offset="0.895" stop-color="#34a0dc"/><stop offset="0.920" stop-color="#3c76be"/><stop offset="0.950" stop-color="#3d5aa8"/><stop offset="1.000" stop-color="#3a4f9e"/></linearGradient><rect x="1215" y="920" width="27" height="587" fill="url(#cg920)" stroke="#262626" stroke-width="1.2"/><path d="M1242,1037.4h-5M1242,1154.8h-5M1242,1272.2h-5M1242,1389.6h-5" stroke="#262626" stroke-width="1.2"/><text x="1252.0" y="1519.5" font-size="34" text-anchor="start" font-weight="normal" >0</text><text x="1252.0" y="1402.1" font-size="34" text-anchor="start" font-weight="normal" >0.1</text><text x="1252.0" y="1284.7" font-size="34" text-anchor="start" font-weight="normal" >0.2</text><text x="1252.0" y="1167.3" font-size="34" text-anchor="start" font-weight="normal" >0.3</text><text x="1252.0" y="1049.9" font-size="34" text-anchor="start" font-weight="normal" >0.4</text><text x="1252.0" y="932.5" font-size="34" text-anchor="start" font-weight="normal" >0.5</text><text x="1183.0" y="900.0" font-size="34" text-anchor="start" font-weight="normal" >unit:m</text></svg></body></html>
